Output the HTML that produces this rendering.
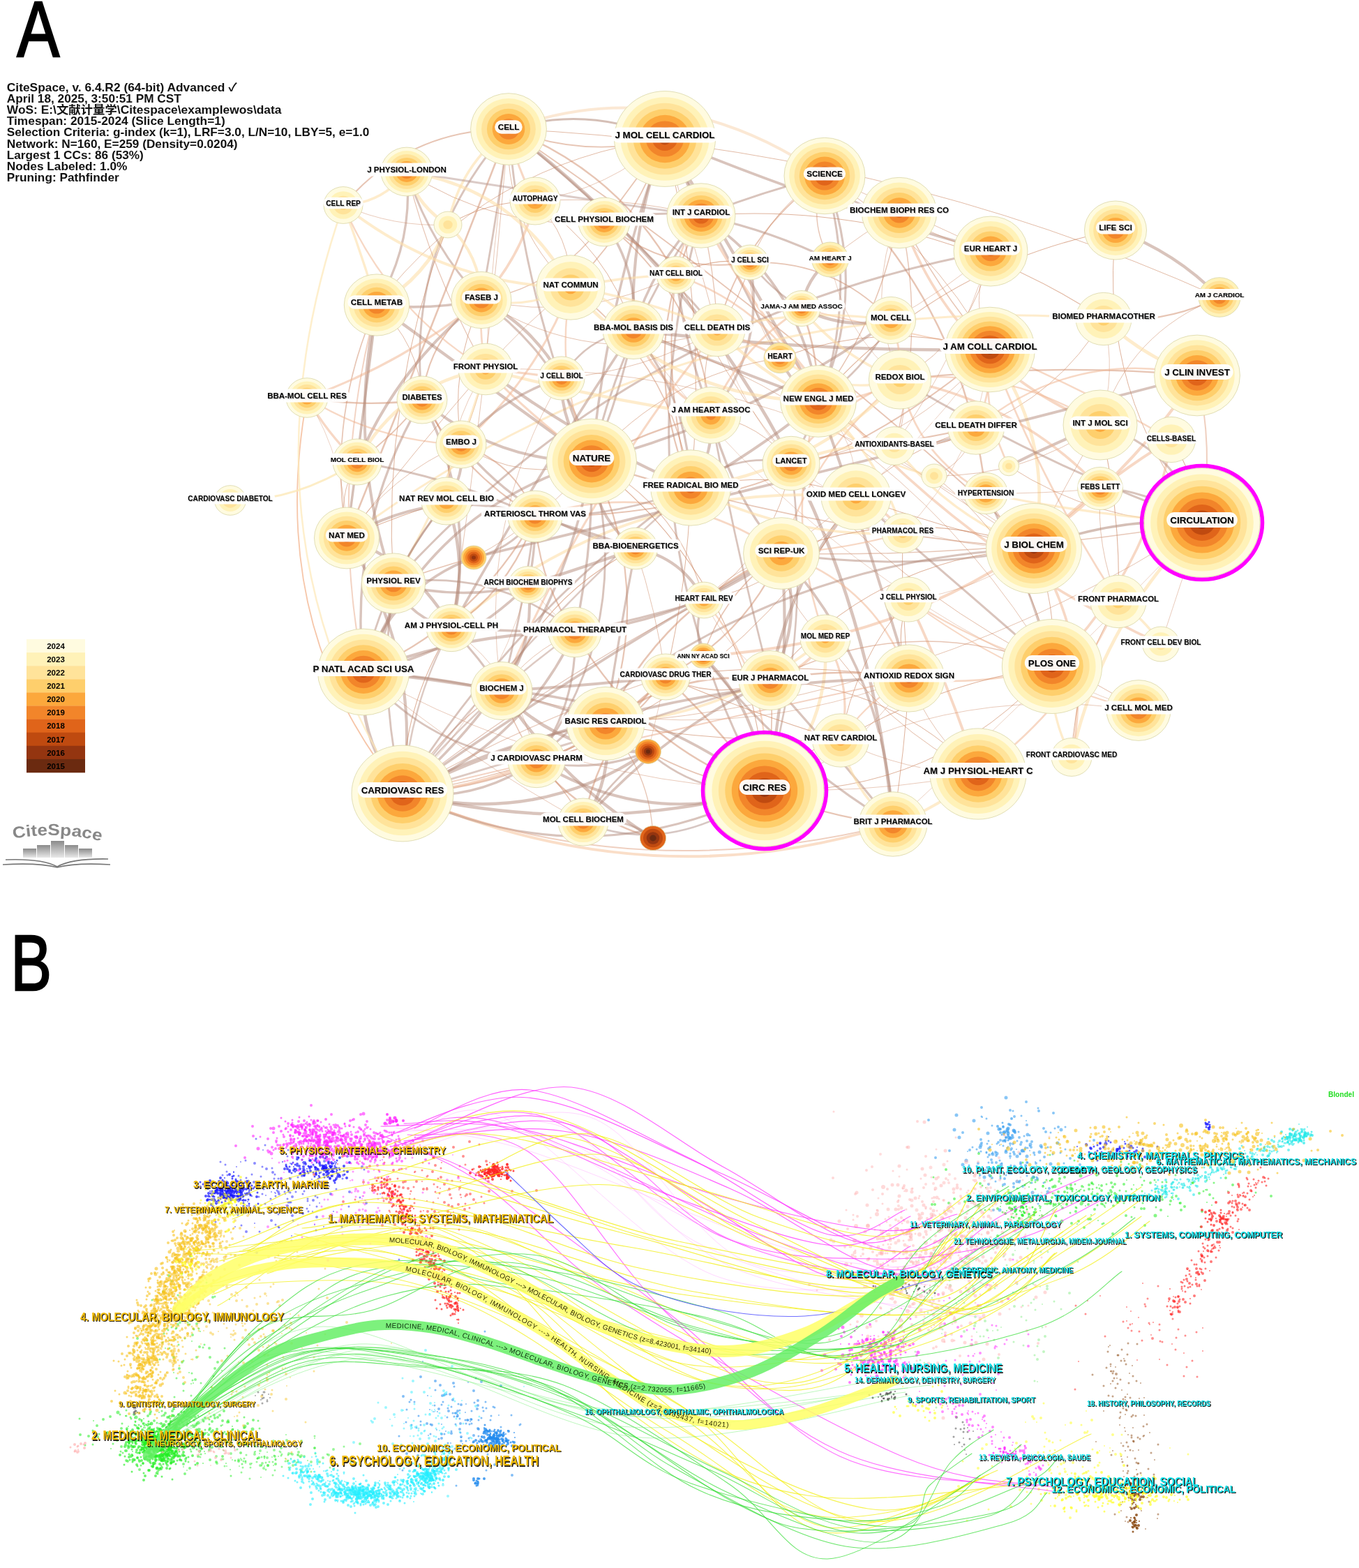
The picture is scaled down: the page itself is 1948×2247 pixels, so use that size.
<!DOCTYPE html>
<html><head><meta charset="utf-8"><title>CiteSpace</title>
<style>html,body{margin:0;padding:0;background:#fff;}body{width:1948px;height:2247px;overflow:hidden;}svg{display:block;}</style>
</head><body><svg width="1948" height="2247" viewBox="0 0 1948 2247"><g fill="none" stroke-linecap="round"><path d="M729 185Q839 228 953 199" stroke="#cf8c6a" stroke-opacity="0.5" stroke-width="1.7"/><path d="M729 185Q887 246 969 394" stroke="#cf8c6a" stroke-opacity="0.5" stroke-width="2.4"/><path d="M729 185Q1262 208 1748 426" stroke="#c9805a" stroke-opacity="0.6" stroke-width="0.9"/><path d="M729 185Q713 308 690 430" stroke="#b38a7a" stroke-opacity="0.5" stroke-width="2.8"/><path d="M729 185Q581 352 605 573" stroke="#b38a7a" stroke-opacity="0.5" stroke-width="2.9"/><path d="M729 185Q705 356 696 529" stroke="#c9805a" stroke-opacity="0.6" stroke-width="0.7"/><path d="M729 185Q740 240 767 288" stroke="#f0b896" stroke-opacity="0.55" stroke-width="3.1"/><path d="M729 185Q659 237 642 322" stroke="#fde0aa" stroke-opacity="0.6" stroke-width="3.6"/><path d="M729 185Q720 319 818 412" stroke="#c9805a" stroke-opacity="0.6" stroke-width="0.9"/><path d="M729 185Q892 315 1028 473" stroke="#b38a7a" stroke-opacity="0.5" stroke-width="3.0"/><path d="M729 185Q1128 457 1482 786" stroke="#cf8c6a" stroke-opacity="0.5" stroke-width="1.8"/><path d="M729 185Q750 433 848 661" stroke="#b38a7a" stroke-opacity="0.5" stroke-width="2.9"/><path d="M729 185Q615 479 497 771" stroke="#cf8c6a" stroke-opacity="0.5" stroke-width="2.6"/><path d="M729 185Q699 544 647 900" stroke="#c9805a" stroke-opacity="0.6" stroke-width="0.8"/><path d="M729 185Q1222 563 1280 1181" stroke="#b38a7a" stroke-opacity="0.5" stroke-width="4.6"/><path d="M729 185Q585 185 492 294" stroke="#cf8c6a" stroke-opacity="0.5" stroke-width="2.0"/><path d="M953 199Q983 252 1005 309" stroke="#b38a7a" stroke-opacity="0.5" stroke-width="4.5"/><path d="M953 199Q1182 294 1420 360" stroke="#b38a7a" stroke-opacity="0.5" stroke-width="3.7"/><path d="M953 199Q698 233 540 437" stroke="#c9805a" stroke-opacity="0.6" stroke-width="0.9"/><path d="M953 199Q873 271 767 288" stroke="#c9805a" stroke-opacity="0.6" stroke-width="0.7"/><path d="M953 199Q911 260 866 318" stroke="#cf8c6a" stroke-opacity="0.5" stroke-width="1.8"/><path d="M953 199Q910 321 818 412" stroke="#cf8c6a" stroke-opacity="0.5" stroke-width="1.8"/><path d="M953 199Q902 331 908 473" stroke="#b38a7a" stroke-opacity="0.5" stroke-width="4.1"/><path d="M953 199Q990 336 1028 473" stroke="#c9805a" stroke-opacity="0.6" stroke-width="0.8"/><path d="M953 199Q1037 355 1118 513" stroke="#b38a7a" stroke-opacity="0.5" stroke-width="3.2"/><path d="M953 199Q1067 385 1173 575" stroke="#b38a7a" stroke-opacity="0.5" stroke-width="4.5"/><path d="M953 199Q871 423 848 661" stroke="#b38a7a" stroke-opacity="0.5" stroke-width="3.5"/><path d="M953 199Q1016 446 990 699" stroke="#c9805a" stroke-opacity="0.6" stroke-width="1.0"/><path d="M1182 252Q1223 303 1289 305" stroke="#b38a7a" stroke-opacity="0.5" stroke-width="2.9"/><path d="M1182 252Q1092 275 1005 309" stroke="#b38a7a" stroke-opacity="0.5" stroke-width="2.9"/><path d="M1182 252Q1108 296 1075 376" stroke="#c9805a" stroke-opacity="0.6" stroke-width="0.9"/><path d="M1182 252Q1156 314 1190 372" stroke="#cf8c6a" stroke-opacity="0.5" stroke-width="1.4"/><path d="M1182 252Q1302 305 1420 360" stroke="#c9805a" stroke-opacity="0.6" stroke-width="0.8"/><path d="M1182 252Q1334 345 1419 501" stroke="#c9805a" stroke-opacity="0.6" stroke-width="0.9"/><path d="M1182 252Q1065 334 1028 473" stroke="#cf8c6a" stroke-opacity="0.5" stroke-width="1.9"/><path d="M1182 252Q1247 415 1173 575" stroke="#b38a7a" stroke-opacity="0.5" stroke-width="3.1"/><path d="M1182 252Q1245 468 1134 664" stroke="#b38a7a" stroke-opacity="0.5" stroke-width="3.0"/><path d="M1182 252Q1382 436 1413 707" stroke="#cf8c6a" stroke-opacity="0.5" stroke-width="2.5"/><path d="M1289 305Q1236 333 1190 372" stroke="#c9805a" stroke-opacity="0.6" stroke-width="0.8"/><path d="M1289 305Q1348 347 1420 360" stroke="#c9805a" stroke-opacity="0.6" stroke-width="0.8"/><path d="M1289 305Q1341 412 1419 501" stroke="#cf8c6a" stroke-opacity="0.5" stroke-width="1.6"/><path d="M1289 305Q1364 522 1577 609" stroke="#f0b896" stroke-opacity="0.55" stroke-width="3.8"/><path d="M1289 305Q1238 425 1290 544" stroke="#c9805a" stroke-opacity="0.6" stroke-width="0.7"/><path d="M1289 305Q1264 454 1173 575" stroke="#cf8c6a" stroke-opacity="0.5" stroke-width="1.5"/><path d="M1289 305Q1328 473 1282 639" stroke="#cf8c6a" stroke-opacity="0.5" stroke-width="1.4"/><path d="M1005 309Q1101 329 1190 372" stroke="#b38a7a" stroke-opacity="0.5" stroke-width="3.2"/><path d="M1005 309Q975 347 969 394" stroke="#f0b896" stroke-opacity="0.55" stroke-width="2.8"/><path d="M1005 309Q1319 285 1582 457" stroke="#c9805a" stroke-opacity="0.6" stroke-width="1.1"/><path d="M1005 309Q888 280 767 288" stroke="#c9805a" stroke-opacity="0.6" stroke-width="0.8"/><path d="M1005 309Q935 300 866 318" stroke="#b38a7a" stroke-opacity="0.5" stroke-width="2.8"/><path d="M1005 309Q936 379 908 473" stroke="#b38a7a" stroke-opacity="0.5" stroke-width="3.5"/><path d="M1005 309Q1025 390 1028 473" stroke="#cf8c6a" stroke-opacity="0.5" stroke-width="1.3"/><path d="M1005 309Q1149 404 1173 575" stroke="#b38a7a" stroke-opacity="0.5" stroke-width="3.7"/><path d="M1005 309Q1235 723 1664 923" stroke="#f0b896" stroke-opacity="0.55" stroke-width="3.6"/><path d="M1005 309Q893 470 848 661" stroke="#b38a7a" stroke-opacity="0.5" stroke-width="3.0"/><path d="M1005 309Q908 501 990 699" stroke="#cf8c6a" stroke-opacity="0.5" stroke-width="2.2"/><path d="M1005 309Q879 740 1096 1133" stroke="#b38a7a" stroke-opacity="0.5" stroke-width="3.0"/><path d="M1075 376Q1019 368 969 394" stroke="#c9805a" stroke-opacity="0.6" stroke-width="1.1"/><path d="M1075 376Q957 395 866 318" stroke="#cf8c6a" stroke-opacity="0.5" stroke-width="1.9"/><path d="M1075 376Q1062 429 1028 473" stroke="#c9805a" stroke-opacity="0.6" stroke-width="1.0"/><path d="M1075 376Q1098 499 1019 595" stroke="#b38a7a" stroke-opacity="0.5" stroke-width="3.6"/><path d="M1075 376Q1106 416 1149 442" stroke="#b38a7a" stroke-opacity="0.5" stroke-width="2.7"/><path d="M1075 376Q1195 372 1277 459" stroke="#cf8c6a" stroke-opacity="0.5" stroke-width="1.8"/><path d="M1075 376Q1071 452 1118 513" stroke="#c9805a" stroke-opacity="0.6" stroke-width="0.7"/><path d="M1190 372Q1155 399 1149 442" stroke="#b38a7a" stroke-opacity="0.5" stroke-width="4.3"/><path d="M1190 372Q1208 476 1290 544" stroke="#c9805a" stroke-opacity="0.6" stroke-width="0.6"/><path d="M969 394Q836 463 690 430" stroke="#c9805a" stroke-opacity="0.6" stroke-width="0.8"/><path d="M969 394Q893 396 818 412" stroke="#fde0aa" stroke-opacity="0.6" stroke-width="3.6"/><path d="M969 394Q982 497 1019 595" stroke="#b38a7a" stroke-opacity="0.5" stroke-width="3.2"/><path d="M969 394Q1108 443 1173 575" stroke="#f0b896" stroke-opacity="0.55" stroke-width="2.5"/><path d="M969 394Q1138 771 1508 955" stroke="#c9805a" stroke-opacity="0.6" stroke-width="0.9"/><path d="M969 394Q949 549 990 699" stroke="#cf8c6a" stroke-opacity="0.5" stroke-width="1.9"/><path d="M1420 360Q1387 430 1419 501" stroke="#c9805a" stroke-opacity="0.6" stroke-width="0.8"/><path d="M1420 360Q1354 417 1277 459" stroke="#c9805a" stroke-opacity="0.6" stroke-width="0.7"/><path d="M1420 360Q1397 482 1290 544" stroke="#c9805a" stroke-opacity="0.6" stroke-width="0.9"/><path d="M1420 360Q1373 510 1282 639" stroke="#c9805a" stroke-opacity="0.6" stroke-width="0.7"/><path d="M1420 360Q911 453 564 836" stroke="#b38a7a" stroke-opacity="0.5" stroke-width="3.0"/><path d="M1599 330Q1685 361 1748 426" stroke="#b38a7a" stroke-opacity="0.5" stroke-width="4.5"/><path d="M1599 330Q1344 379 1173 575" stroke="#c9805a" stroke-opacity="0.6" stroke-width="1.1"/><path d="M1599 330Q1574 565 1723 749" stroke="#c9805a" stroke-opacity="0.6" stroke-width="1.0"/><path d="M1748 426Q1669 465 1582 457" stroke="#cf8c6a" stroke-opacity="0.5" stroke-width="2.4"/><path d="M1748 426Q1618 476 1577 609" stroke="#c9805a" stroke-opacity="0.6" stroke-width="0.8"/><path d="M1582 457Q1640 513 1716 538" stroke="#fde0aa" stroke-opacity="0.6" stroke-width="4.7"/><path d="M1582 457Q1601 534 1577 609" stroke="#c9805a" stroke-opacity="0.6" stroke-width="0.7"/><path d="M1582 457Q1517 566 1399 613" stroke="#c9805a" stroke-opacity="0.6" stroke-width="0.9"/><path d="M1582 457Q981 411 497 771" stroke="#fde0aa" stroke-opacity="0.6" stroke-width="3.1"/><path d="M1419 501Q1162 505 908 473" stroke="#b38a7a" stroke-opacity="0.5" stroke-width="4.5"/><path d="M1419 501Q1283 475 1149 442" stroke="#f0b896" stroke-opacity="0.55" stroke-width="2.1"/><path d="M1419 501Q1266 457 1118 513" stroke="#c9805a" stroke-opacity="0.6" stroke-width="1.0"/><path d="M1419 501Q1423 559 1399 613" stroke="#f0b896" stroke-opacity="0.55" stroke-width="2.8"/><path d="M1419 501Q1308 638 1134 664" stroke="#c9805a" stroke-opacity="0.6" stroke-width="0.8"/><path d="M1419 501Q1406 589 1446 668" stroke="#f0b896" stroke-opacity="0.55" stroke-width="2.6"/><path d="M1419 501Q1337 619 1227 712" stroke="#c9805a" stroke-opacity="0.6" stroke-width="0.6"/><path d="M1419 501Q1553 557 1679 630" stroke="#f0b896" stroke-opacity="0.55" stroke-width="2.5"/><path d="M1419 501Q1403 655 1294 764" stroke="#c9805a" stroke-opacity="0.6" stroke-width="0.6"/><path d="M1419 501Q1513 630 1482 786" stroke="#fde0aa" stroke-opacity="0.6" stroke-width="4.6"/><path d="M1419 501Q1492 691 1603 862" stroke="#f0b896" stroke-opacity="0.55" stroke-width="2.7"/><path d="M1419 501Q1138 744 767 740" stroke="#cf8c6a" stroke-opacity="0.5" stroke-width="2.0"/><path d="M1716 538Q1503 519 1290 544" stroke="#cf8c6a" stroke-opacity="0.5" stroke-width="2.2"/><path d="M1716 538Q1539 498 1399 613" stroke="#f0b896" stroke-opacity="0.55" stroke-width="2.4"/><path d="M1716 538Q1199 673 679 799" stroke="#b38a7a" stroke-opacity="0.5" stroke-width="3.8"/><path d="M1716 538Q1460 911 1008 940" stroke="#f0b896" stroke-opacity="0.55" stroke-width="4.0"/><path d="M1577 609Q1445 524 1290 544" stroke="#f0b896" stroke-opacity="0.55" stroke-width="2.3"/><path d="M1577 609Q1469 683 1339 682" stroke="#c9805a" stroke-opacity="0.6" stroke-width="0.8"/><path d="M1577 609Q1510 635 1446 668" stroke="#b38a7a" stroke-opacity="0.5" stroke-width="4.2"/><path d="M1577 609Q1526 696 1482 786" stroke="#c9805a" stroke-opacity="0.6" stroke-width="0.8"/><path d="M1577 609Q1607 734 1603 862" stroke="#c9805a" stroke-opacity="0.6" stroke-width="1.1"/><path d="M540 437Q616 445 690 430" stroke="#b38a7a" stroke-opacity="0.5" stroke-width="3.7"/><path d="M540 437Q601 492 605 573" stroke="#c9805a" stroke-opacity="0.6" stroke-width="0.9"/><path d="M540 437Q612 398 642 322" stroke="#fde0aa" stroke-opacity="0.6" stroke-width="4.8"/><path d="M540 437Q694 549 848 661" stroke="#b38a7a" stroke-opacity="0.5" stroke-width="4.3"/><path d="M540 437Q468 598 497 771" stroke="#cf8c6a" stroke-opacity="0.5" stroke-width="1.7"/><path d="M540 437Q496 640 564 836" stroke="#b38a7a" stroke-opacity="0.5" stroke-width="4.0"/><path d="M540 437Q593 349 583 246" stroke="#b38a7a" stroke-opacity="0.5" stroke-width="3.3"/><path d="M540 437Q519 365 492 294" stroke="#fde0aa" stroke-opacity="0.6" stroke-width="3.4"/><path d="M690 430Q577 521 440 570" stroke="#f0b896" stroke-opacity="0.55" stroke-width="3.3"/><path d="M690 430Q614 481 605 573" stroke="#cf8c6a" stroke-opacity="0.5" stroke-width="2.1"/><path d="M690 430Q687 480 696 529" stroke="#f0b896" stroke-opacity="0.55" stroke-width="2.7"/><path d="M690 430Q644 529 661 637" stroke="#c9805a" stroke-opacity="0.6" stroke-width="1.0"/><path d="M690 430Q571 523 512 662" stroke="#b38a7a" stroke-opacity="0.5" stroke-width="4.1"/><path d="M690 430Q747 369 767 288" stroke="#f0b896" stroke-opacity="0.55" stroke-width="3.7"/><path d="M690 430Q689 366 642 322" stroke="#fde0aa" stroke-opacity="0.6" stroke-width="4.0"/><path d="M690 430Q801 410 866 318" stroke="#cf8c6a" stroke-opacity="0.5" stroke-width="1.3"/><path d="M690 430Q757 444 818 412" stroke="#fde0aa" stroke-opacity="0.6" stroke-width="3.0"/><path d="M690 430Q849 531 1028 473" stroke="#c9805a" stroke-opacity="0.6" stroke-width="0.8"/><path d="M690 430Q765 468 805 542" stroke="#b38a7a" stroke-opacity="0.5" stroke-width="4.3"/><path d="M690 430Q811 517 848 661" stroke="#b38a7a" stroke-opacity="0.5" stroke-width="3.2"/><path d="M690 430Q616 350 583 246" stroke="#b38a7a" stroke-opacity="0.5" stroke-width="3.0"/><path d="M440 570Q522 584 605 573" stroke="#cf8c6a" stroke-opacity="0.5" stroke-width="2.4"/><path d="M440 570Q541 633 661 637" stroke="#f0b896" stroke-opacity="0.55" stroke-width="2.3"/><path d="M440 570Q469 621 512 662" stroke="#f0b896" stroke-opacity="0.55" stroke-width="3.5"/><path d="M440 570Q497 662 497 771" stroke="#c9805a" stroke-opacity="0.6" stroke-width="0.6"/><path d="M605 573Q565 624 512 662" stroke="#cf8c6a" stroke-opacity="0.5" stroke-width="2.0"/><path d="M605 573Q656 637 640 718" stroke="#cf8c6a" stroke-opacity="0.5" stroke-width="2.2"/><path d="M605 573Q710 663 848 661" stroke="#b38a7a" stroke-opacity="0.5" stroke-width="4.0"/><path d="M605 573Q664 678 767 740" stroke="#cf8c6a" stroke-opacity="0.5" stroke-width="2.1"/><path d="M605 573Q686 729 647 900" stroke="#b38a7a" stroke-opacity="0.5" stroke-width="3.7"/><path d="M605 573Q498 754 521 963" stroke="#b38a7a" stroke-opacity="0.5" stroke-width="3.4"/><path d="M696 529Q682 584 661 637" stroke="#c9805a" stroke-opacity="0.6" stroke-width="0.9"/><path d="M696 529Q572 551 512 662" stroke="#fde0aa" stroke-opacity="0.6" stroke-width="4.7"/><path d="M696 529Q640 615 640 718" stroke="#c9805a" stroke-opacity="0.6" stroke-width="0.7"/><path d="M696 529Q751 464 818 412" stroke="#c9805a" stroke-opacity="0.6" stroke-width="0.8"/><path d="M696 529Q751 534 805 542" stroke="#f0b896" stroke-opacity="0.55" stroke-width="3.2"/><path d="M696 529Q856 571 1019 595" stroke="#fde0aa" stroke-opacity="0.6" stroke-width="4.2"/><path d="M696 529Q1134 519 1482 786" stroke="#c9805a" stroke-opacity="0.6" stroke-width="0.7"/><path d="M696 529Q766 601 848 661" stroke="#f0b896" stroke-opacity="0.55" stroke-width="3.2"/><path d="M696 529Q833 632 990 699" stroke="#b38a7a" stroke-opacity="0.5" stroke-width="4.3"/><path d="M696 529Q593 647 497 771" stroke="#c9805a" stroke-opacity="0.6" stroke-width="0.9"/><path d="M696 529Q649 691 564 836" stroke="#fde0aa" stroke-opacity="0.6" stroke-width="3.2"/><path d="M696 529Q620 395 583 246" stroke="#cf8c6a" stroke-opacity="0.5" stroke-width="1.2"/><path d="M696 529Q557 444 492 294" stroke="#f0b896" stroke-opacity="0.55" stroke-width="2.4"/><path d="M661 637Q667 682 640 718" stroke="#b38a7a" stroke-opacity="0.5" stroke-width="3.9"/><path d="M661 637Q768 544 818 412" stroke="#f0b896" stroke-opacity="0.55" stroke-width="3.1"/><path d="M661 637Q719 568 805 542" stroke="#b38a7a" stroke-opacity="0.5" stroke-width="3.5"/><path d="M661 637Q749 694 848 661" stroke="#c9805a" stroke-opacity="0.6" stroke-width="0.9"/><path d="M661 637Q739 663 767 740" stroke="#cf8c6a" stroke-opacity="0.5" stroke-width="1.9"/><path d="M661 637Q759 756 911 786" stroke="#b38a7a" stroke-opacity="0.5" stroke-width="3.5"/><path d="M661 637Q560 680 497 771" stroke="#c9805a" stroke-opacity="0.6" stroke-width="0.8"/><path d="M512 662Q645 683 767 740" stroke="#b38a7a" stroke-opacity="0.5" stroke-width="2.8"/><path d="M512 662Q482 713 497 771" stroke="#c9805a" stroke-opacity="0.6" stroke-width="0.9"/><path d="M640 718Q567 740 497 771" stroke="#c9805a" stroke-opacity="0.6" stroke-width="1.1"/><path d="M640 718Q596 773 564 836" stroke="#b38a7a" stroke-opacity="0.5" stroke-width="2.6"/><path d="M640 718Q673 808 647 900" stroke="#b38a7a" stroke-opacity="0.5" stroke-width="4.4"/><path d="M640 718Q551 826 521 963" stroke="#b38a7a" stroke-opacity="0.5" stroke-width="2.8"/><path d="M767 288Q700 288 642 322" stroke="#c9805a" stroke-opacity="0.6" stroke-width="1.1"/><path d="M767 288Q819 339 818 412" stroke="#c9805a" stroke-opacity="0.6" stroke-width="0.9"/><path d="M767 288Q870 356 908 473" stroke="#c9805a" stroke-opacity="0.6" stroke-width="1.0"/><path d="M642 322Q546 570 564 836" stroke="#c9805a" stroke-opacity="0.6" stroke-width="1.0"/><path d="M642 322Q598 295 583 246" stroke="#fde0aa" stroke-opacity="0.6" stroke-width="4.6"/><path d="M642 322Q564 326 492 294" stroke="#c9805a" stroke-opacity="0.6" stroke-width="0.7"/><path d="M866 318Q916 388 908 473" stroke="#b38a7a" stroke-opacity="0.5" stroke-width="3.6"/><path d="M866 318Q1002 424 1019 595" stroke="#cf8c6a" stroke-opacity="0.5" stroke-width="1.9"/><path d="M866 318Q712 331 583 246" stroke="#c9805a" stroke-opacity="0.6" stroke-width="0.9"/><path d="M818 412Q878 421 908 473" stroke="#fde0aa" stroke-opacity="0.6" stroke-width="3.7"/><path d="M818 412Q927 428 1028 473" stroke="#fde0aa" stroke-opacity="0.6" stroke-width="3.7"/><path d="M818 412Q960 572 1173 575" stroke="#fde0aa" stroke-opacity="0.6" stroke-width="4.8"/><path d="M818 412Q794 541 848 661" stroke="#f0b896" stroke-opacity="0.55" stroke-width="2.4"/><path d="M818 412Q964 520 990 699" stroke="#cf8c6a" stroke-opacity="0.5" stroke-width="1.6"/><path d="M818 412Q742 271 583 246" stroke="#fde0aa" stroke-opacity="0.6" stroke-width="4.5"/><path d="M818 412Q635 408 492 294" stroke="#fde0aa" stroke-opacity="0.6" stroke-width="4.0"/><path d="M908 473Q840 483 805 542" stroke="#b38a7a" stroke-opacity="0.5" stroke-width="2.6"/><path d="M908 473Q943 553 1019 595" stroke="#f0b896" stroke-opacity="0.55" stroke-width="3.5"/><path d="M908 473Q1040 525 1173 575" stroke="#b38a7a" stroke-opacity="0.5" stroke-width="4.1"/><path d="M908 473Q1297 603 1508 955" stroke="#c9805a" stroke-opacity="0.6" stroke-width="0.8"/><path d="M908 473Q1187 856 1632 1018" stroke="#c9805a" stroke-opacity="0.6" stroke-width="0.6"/><path d="M908 473Q888 570 848 661" stroke="#b38a7a" stroke-opacity="0.5" stroke-width="3.0"/><path d="M908 473Q987 572 990 699" stroke="#b38a7a" stroke-opacity="0.5" stroke-width="3.2"/><path d="M908 473Q769 681 647 900" stroke="#b38a7a" stroke-opacity="0.5" stroke-width="3.6"/><path d="M1028 473Q924 532 805 542" stroke="#c9805a" stroke-opacity="0.6" stroke-width="0.8"/><path d="M1028 473Q998 532 1019 595" stroke="#c9805a" stroke-opacity="0.6" stroke-width="0.9"/><path d="M1028 473Q1151 439 1277 459" stroke="#fde0aa" stroke-opacity="0.6" stroke-width="3.1"/><path d="M1028 473Q1075 489 1118 513" stroke="#f0b896" stroke-opacity="0.55" stroke-width="3.2"/><path d="M1028 473Q1092 536 1173 575" stroke="#fde0aa" stroke-opacity="0.6" stroke-width="4.1"/><path d="M1028 473Q1060 580 1134 664" stroke="#c9805a" stroke-opacity="0.6" stroke-width="0.6"/><path d="M1028 473Q837 710 719 990" stroke="#f0b896" stroke-opacity="0.55" stroke-width="3.1"/><path d="M805 542Q803 610 848 661" stroke="#b38a7a" stroke-opacity="0.5" stroke-width="4.3"/><path d="M805 542Q682 751 719 990" stroke="#c9805a" stroke-opacity="0.6" stroke-width="0.7"/><path d="M1019 595Q1059 498 1149 442" stroke="#f0b896" stroke-opacity="0.55" stroke-width="2.9"/><path d="M1019 595Q1090 607 1134 664" stroke="#c9805a" stroke-opacity="0.6" stroke-width="0.9"/><path d="M1019 595Q1046 706 1120 793" stroke="#b38a7a" stroke-opacity="0.5" stroke-width="3.3"/><path d="M1019 595Q1055 787 1104 975" stroke="#b38a7a" stroke-opacity="0.5" stroke-width="2.7"/><path d="M1019 595Q928 615 848 661" stroke="#cf8c6a" stroke-opacity="0.5" stroke-width="2.6"/><path d="M1019 595Q1024 653 990 699" stroke="#b38a7a" stroke-opacity="0.5" stroke-width="4.1"/><path d="M1149 442Q1210 473 1277 459" stroke="#b38a7a" stroke-opacity="0.5" stroke-width="4.5"/><path d="M1149 442Q1206 512 1290 544" stroke="#fde0aa" stroke-opacity="0.6" stroke-width="3.7"/><path d="M1149 442Q1173 506 1173 575" stroke="#cf8c6a" stroke-opacity="0.5" stroke-width="2.5"/><path d="M1277 459Q1293 500 1290 544" stroke="#f0b896" stroke-opacity="0.55" stroke-width="2.9"/><path d="M1277 459Q1240 530 1173 575" stroke="#b38a7a" stroke-opacity="0.5" stroke-width="2.7"/><path d="M1277 459Q1081 599 848 661" stroke="#b38a7a" stroke-opacity="0.5" stroke-width="3.7"/><path d="M1118 513Q1196 570 1290 544" stroke="#fde0aa" stroke-opacity="0.6" stroke-width="3.4"/><path d="M1118 513Q1135 553 1173 575" stroke="#b38a7a" stroke-opacity="0.5" stroke-width="4.1"/><path d="M1118 513Q956 537 848 661" stroke="#c9805a" stroke-opacity="0.6" stroke-width="0.9"/><path d="M1290 544Q1236 575 1173 575" stroke="#f0b896" stroke-opacity="0.55" stroke-width="3.0"/><path d="M1290 544Q1304 593 1282 639" stroke="#c9805a" stroke-opacity="0.6" stroke-width="0.8"/><path d="M1290 544Q1194 581 1134 664" stroke="#f0b896" stroke-opacity="0.55" stroke-width="2.8"/><path d="M1290 544Q1314 654 1413 707" stroke="#f0b896" stroke-opacity="0.55" stroke-width="2.8"/><path d="M1290 544Q1459 575 1577 700" stroke="#f0b896" stroke-opacity="0.55" stroke-width="3.6"/><path d="M1290 544Q1497 667 1723 749" stroke="#b38a7a" stroke-opacity="0.5" stroke-width="3.0"/><path d="M1290 544Q1167 643 1120 793" stroke="#f0b896" stroke-opacity="0.55" stroke-width="2.4"/><path d="M1290 544Q1167 674 990 699" stroke="#fde0aa" stroke-opacity="0.6" stroke-width="4.6"/><path d="M1173 575Q1234 662 1339 682" stroke="#fde0aa" stroke-opacity="0.6" stroke-width="3.1"/><path d="M1173 575Q1231 631 1227 712" stroke="#c9805a" stroke-opacity="0.6" stroke-width="0.6"/><path d="M1173 575Q1260 652 1294 764" stroke="#fde0aa" stroke-opacity="0.6" stroke-width="3.6"/><path d="M1173 575Q1324 686 1482 786" stroke="#c9805a" stroke-opacity="0.6" stroke-width="0.8"/><path d="M1173 575Q1122 747 1183 915" stroke="#f0b896" stroke-opacity="0.55" stroke-width="2.6"/><path d="M1173 575Q1243 772 1303 972" stroke="#b38a7a" stroke-opacity="0.5" stroke-width="4.0"/><path d="M1173 575Q1087 645 990 699" stroke="#b38a7a" stroke-opacity="0.5" stroke-width="4.1"/><path d="M1399 613Q1345 647 1282 639" stroke="#c9805a" stroke-opacity="0.6" stroke-width="1.0"/><path d="M1399 613Q1267 639 1134 664" stroke="#cf8c6a" stroke-opacity="0.5" stroke-width="2.1"/><path d="M1399 613Q1386 662 1339 682" stroke="#c9805a" stroke-opacity="0.6" stroke-width="0.8"/><path d="M1399 613Q1300 641 1227 712" stroke="#c9805a" stroke-opacity="0.6" stroke-width="1.0"/><path d="M1282 639Q1205 634 1134 664" stroke="#fde0aa" stroke-opacity="0.6" stroke-width="4.3"/><path d="M1282 639Q1361 741 1482 786" stroke="#fde0aa" stroke-opacity="0.6" stroke-width="3.5"/><path d="M1134 664Q1287 786 1482 786" stroke="#c9805a" stroke-opacity="0.6" stroke-width="0.6"/><path d="M1134 664Q1053 646 990 699" stroke="#b38a7a" stroke-opacity="0.5" stroke-width="2.7"/><path d="M1134 664Q1112 788 1009 860" stroke="#c9805a" stroke-opacity="0.6" stroke-width="0.9"/><path d="M1134 664Q1165 903 1096 1133" stroke="#b38a7a" stroke-opacity="0.5" stroke-width="2.6"/><path d="M1339 682Q1475 787 1508 955" stroke="#c9805a" stroke-opacity="0.6" stroke-width="0.9"/><path d="M1446 668Q1572 750 1723 749" stroke="#c9805a" stroke-opacity="0.6" stroke-width="0.9"/><path d="M1227 712Q1269 727 1294 764" stroke="#f0b896" stroke-opacity="0.55" stroke-width="3.5"/><path d="M1227 712Q1175 754 1120 793" stroke="#c9805a" stroke-opacity="0.6" stroke-width="0.7"/><path d="M1227 712Q1352 757 1482 786" stroke="#c9805a" stroke-opacity="0.6" stroke-width="1.0"/><path d="M1227 712Q1133 829 1104 975" stroke="#b38a7a" stroke-opacity="0.5" stroke-width="4.6"/><path d="M1227 712Q1368 833 1508 955" stroke="#b38a7a" stroke-opacity="0.5" stroke-width="3.0"/><path d="M1227 712Q1110 670 990 699" stroke="#c9805a" stroke-opacity="0.6" stroke-width="1.0"/><path d="M1227 712Q1149 831 1009 860" stroke="#c9805a" stroke-opacity="0.6" stroke-width="0.9"/><path d="M1227 712Q898 685 647 900" stroke="#fde0aa" stroke-opacity="0.6" stroke-width="3.9"/><path d="M1227 712Q1002 1077 577 1137" stroke="#c9805a" stroke-opacity="0.6" stroke-width="1.0"/><path d="M1413 707Q1495 708 1577 700" stroke="#c9805a" stroke-opacity="0.6" stroke-width="0.7"/><path d="M1413 707Q1566 739 1723 749" stroke="#fde0aa" stroke-opacity="0.6" stroke-width="3.3"/><path d="M1413 707Q1437 756 1482 786" stroke="#c9805a" stroke-opacity="0.6" stroke-width="1.0"/><path d="M1413 707Q1473 826 1508 955" stroke="#b38a7a" stroke-opacity="0.5" stroke-width="3.2"/><path d="M1679 630Q1714 685 1723 749" stroke="#c9805a" stroke-opacity="0.6" stroke-width="1.1"/><path d="M1679 630Q1570 695 1482 786" stroke="#f0b896" stroke-opacity="0.55" stroke-width="3.8"/><path d="M1679 630Q1646 820 1508 955" stroke="#f0b896" stroke-opacity="0.55" stroke-width="3.6"/><path d="M1577 700Q1571 784 1603 862" stroke="#c9805a" stroke-opacity="0.6" stroke-width="0.8"/><path d="M1723 749Q1692 835 1664 923" stroke="#c9805a" stroke-opacity="0.6" stroke-width="0.7"/><path d="M1723 749Q1580 889 1536 1085" stroke="#fde0aa" stroke-opacity="0.6" stroke-width="4.6"/><path d="M1723 749Q1333 1004 868 1037" stroke="#c9805a" stroke-opacity="0.6" stroke-width="0.8"/><path d="M1723 749Q1508 972 1280 1181" stroke="#c9805a" stroke-opacity="0.6" stroke-width="0.6"/><path d="M1294 764Q1209 788 1120 793" stroke="#f0b896" stroke-opacity="0.55" stroke-width="2.1"/><path d="M1294 764Q1291 868 1303 972" stroke="#c9805a" stroke-opacity="0.6" stroke-width="1.0"/><path d="M1294 764Q1133 772 990 699" stroke="#fde0aa" stroke-opacity="0.6" stroke-width="3.5"/><path d="M1120 793Q1300 721 1482 786" stroke="#c9805a" stroke-opacity="0.6" stroke-width="1.1"/><path d="M1120 793Q1124 868 1183 915" stroke="#c9805a" stroke-opacity="0.6" stroke-width="0.8"/><path d="M1120 793Q1155 888 1104 975" stroke="#b38a7a" stroke-opacity="0.5" stroke-width="4.3"/><path d="M1120 793Q1255 838 1303 972" stroke="#f0b896" stroke-opacity="0.55" stroke-width="2.6"/><path d="M1120 793Q956 681 767 740" stroke="#f0b896" stroke-opacity="0.55" stroke-width="2.8"/><path d="M1120 793Q1056 812 1009 860" stroke="#c9805a" stroke-opacity="0.6" stroke-width="0.8"/><path d="M1120 793Q987 889 824 906" stroke="#b38a7a" stroke-opacity="0.5" stroke-width="3.8"/><path d="M1120 793Q840 952 577 1137" stroke="#b38a7a" stroke-opacity="0.5" stroke-width="3.6"/><path d="M1120 793Q949 869 868 1037" stroke="#cf8c6a" stroke-opacity="0.5" stroke-width="2.5"/><path d="M1120 793Q1038 847 1008 940" stroke="#cf8c6a" stroke-opacity="0.5" stroke-width="1.5"/><path d="M1120 793Q1068 911 954 970" stroke="#cf8c6a" stroke-opacity="0.5" stroke-width="2.2"/><path d="M1120 793Q1269 959 1280 1181" stroke="#b38a7a" stroke-opacity="0.5" stroke-width="3.7"/><path d="M1120 793Q1136 965 1096 1133" stroke="#b38a7a" stroke-opacity="0.5" stroke-width="4.2"/><path d="M1482 786Q1403 848 1302 859" stroke="#c9805a" stroke-opacity="0.6" stroke-width="0.6"/><path d="M1482 786Q1252 799 1104 975" stroke="#c9805a" stroke-opacity="0.6" stroke-width="1.1"/><path d="M1482 786Q1516 867 1508 955" stroke="#c9805a" stroke-opacity="0.6" stroke-width="1.0"/><path d="M1482 786Q1568 925 1536 1085" stroke="#f0b896" stroke-opacity="0.55" stroke-width="3.6"/><path d="M1482 786Q1068 803 769 1090" stroke="#b38a7a" stroke-opacity="0.5" stroke-width="3.0"/><path d="M1302 859Q1280 916 1303 972" stroke="#c9805a" stroke-opacity="0.6" stroke-width="1.1"/><path d="M1302 859Q1398 921 1508 955" stroke="#f0b896" stroke-opacity="0.55" stroke-width="2.2"/><path d="M1302 859Q1451 971 1632 1018" stroke="#f0b896" stroke-opacity="0.55" stroke-width="2.1"/><path d="M1302 859Q1360 981 1402 1109" stroke="#f0b896" stroke-opacity="0.55" stroke-width="3.9"/><path d="M1302 859Q1225 946 1205 1061" stroke="#c9805a" stroke-opacity="0.6" stroke-width="1.0"/><path d="M1183 915Q1156 961 1104 975" stroke="#f0b896" stroke-opacity="0.55" stroke-width="4.0"/><path d="M1183 915Q1267 1041 1402 1109" stroke="#c9805a" stroke-opacity="0.6" stroke-width="0.9"/><path d="M1183 915Q1045 1026 868 1037" stroke="#fde0aa" stroke-opacity="0.6" stroke-width="3.8"/><path d="M1183 915Q1224 984 1205 1061" stroke="#f0b896" stroke-opacity="0.55" stroke-width="3.2"/><path d="M1183 915Q1191 1045 1096 1133" stroke="#fde0aa" stroke-opacity="0.6" stroke-width="4.6"/><path d="M1104 975Q1203 954 1303 972" stroke="#cf8c6a" stroke-opacity="0.5" stroke-width="2.6"/><path d="M1104 975Q1302 874 1508 955" stroke="#cf8c6a" stroke-opacity="0.5" stroke-width="1.5"/><path d="M1104 975Q1279 983 1402 1109" stroke="#c9805a" stroke-opacity="0.6" stroke-width="1.0"/><path d="M1104 975Q1042 929 1009 860" stroke="#c9805a" stroke-opacity="0.6" stroke-width="0.6"/><path d="M1104 975Q973 956 868 1037" stroke="#cf8c6a" stroke-opacity="0.5" stroke-width="2.6"/><path d="M1104 975Q949 1049 836 1178" stroke="#b38a7a" stroke-opacity="0.5" stroke-width="3.7"/><path d="M1104 975Q1028 1005 954 970" stroke="#cf8c6a" stroke-opacity="0.5" stroke-width="1.5"/><path d="M1104 975Q1195 1075 1280 1181" stroke="#b38a7a" stroke-opacity="0.5" stroke-width="3.2"/><path d="M1104 975Q1111 1055 1096 1133" stroke="#cf8c6a" stroke-opacity="0.5" stroke-width="1.7"/><path d="M1303 972Q1407 985 1508 955" stroke="#f0b896" stroke-opacity="0.55" stroke-width="2.5"/><path d="M1303 972Q1334 1054 1402 1109" stroke="#c9805a" stroke-opacity="0.6" stroke-width="0.8"/><path d="M1303 972Q1014 1082 719 990" stroke="#c9805a" stroke-opacity="0.6" stroke-width="0.7"/><path d="M1303 972Q922 974 577 1137" stroke="#b38a7a" stroke-opacity="0.5" stroke-width="3.9"/><path d="M1303 972Q1129 945 954 970" stroke="#c9805a" stroke-opacity="0.6" stroke-width="1.1"/><path d="M1303 972Q1242 1004 1205 1061" stroke="#f0b896" stroke-opacity="0.55" stroke-width="2.2"/><path d="M1303 972Q1297 1077 1280 1181" stroke="#c9805a" stroke-opacity="0.6" stroke-width="1.0"/><path d="M1303 972Q1226 1087 1096 1133" stroke="#c9805a" stroke-opacity="0.6" stroke-width="0.7"/><path d="M1508 955Q1575 976 1632 1018" stroke="#c9805a" stroke-opacity="0.6" stroke-width="0.9"/><path d="M1508 955Q1503 1024 1536 1085" stroke="#fde0aa" stroke-opacity="0.6" stroke-width="3.3"/><path d="M1508 955Q1346 978 1205 1061" stroke="#c9805a" stroke-opacity="0.6" stroke-width="1.1"/><path d="M1508 955Q1344 1140 1096 1133" stroke="#c9805a" stroke-opacity="0.6" stroke-width="1.0"/><path d="M1603 862Q1640 886 1664 923" stroke="#fde0aa" stroke-opacity="0.6" stroke-width="3.6"/><path d="M1603 862Q1541 965 1536 1085" stroke="#c9805a" stroke-opacity="0.6" stroke-width="1.0"/><path d="M1603 862Q1536 1013 1402 1109" stroke="#f0b896" stroke-opacity="0.55" stroke-width="2.7"/><path d="M1632 1018Q1342 974 1096 1133" stroke="#c9805a" stroke-opacity="0.6" stroke-width="0.7"/><path d="M1402 1109Q935 1196 521 963" stroke="#c9805a" stroke-opacity="0.6" stroke-width="0.7"/><path d="M1402 1109Q1298 1107 1205 1061" stroke="#c9805a" stroke-opacity="0.6" stroke-width="0.7"/><path d="M1402 1109Q1348 1157 1280 1181" stroke="#fde0aa" stroke-opacity="0.6" stroke-width="4.1"/><path d="M848 661Q917 688 990 699" stroke="#c9805a" stroke-opacity="0.6" stroke-width="0.8"/><path d="M848 661Q849 739 911 786" stroke="#b38a7a" stroke-opacity="0.5" stroke-width="4.0"/><path d="M848 661Q778 747 679 799" stroke="#c9805a" stroke-opacity="0.6" stroke-width="0.8"/><path d="M848 661Q974 724 1009 860" stroke="#cf8c6a" stroke-opacity="0.5" stroke-width="1.3"/><path d="M848 661Q851 785 824 906" stroke="#b38a7a" stroke-opacity="0.5" stroke-width="3.3"/><path d="M848 661Q610 731 521 963" stroke="#b38a7a" stroke-opacity="0.5" stroke-width="3.7"/><path d="M848 661Q798 948 577 1137" stroke="#b38a7a" stroke-opacity="0.5" stroke-width="3.6"/><path d="M848 661Q939 845 868 1037" stroke="#cf8c6a" stroke-opacity="0.5" stroke-width="2.2"/><path d="M848 661Q911 894 769 1090" stroke="#b38a7a" stroke-opacity="0.5" stroke-width="2.9"/><path d="M848 661Q1080 840 1096 1133" stroke="#c9805a" stroke-opacity="0.6" stroke-width="1.1"/><path d="M990 699Q883 742 767 740" stroke="#b38a7a" stroke-opacity="0.5" stroke-width="2.8"/><path d="M990 699Q739 876 577 1137" stroke="#b38a7a" stroke-opacity="0.5" stroke-width="2.8"/><path d="M990 699Q986 836 954 970" stroke="#c9805a" stroke-opacity="0.6" stroke-width="1.0"/><path d="M767 740Q840 761 911 786" stroke="#b38a7a" stroke-opacity="0.5" stroke-width="3.8"/><path d="M767 740Q735 787 679 799" stroke="#b38a7a" stroke-opacity="0.5" stroke-width="3.0"/><path d="M767 740Q768 790 757 838" stroke="#b38a7a" stroke-opacity="0.5" stroke-width="3.3"/><path d="M767 740Q625 694 497 771" stroke="#b38a7a" stroke-opacity="0.5" stroke-width="4.1"/><path d="M767 740Q735 841 647 900" stroke="#cf8c6a" stroke-opacity="0.5" stroke-width="2.3"/><path d="M767 740Q771 831 824 906" stroke="#cf8c6a" stroke-opacity="0.5" stroke-width="2.2"/><path d="M767 740Q682 894 521 963" stroke="#cf8c6a" stroke-opacity="0.5" stroke-width="2.3"/><path d="M767 740Q752 867 719 990" stroke="#b38a7a" stroke-opacity="0.5" stroke-width="2.9"/><path d="M911 786Q835 814 757 838" stroke="#b38a7a" stroke-opacity="0.5" stroke-width="4.4"/><path d="M911 786Q978 799 1009 860" stroke="#b38a7a" stroke-opacity="0.5" stroke-width="4.3"/><path d="M911 786Q778 854 719 990" stroke="#c9805a" stroke-opacity="0.6" stroke-width="1.1"/><path d="M911 786Q887 911 868 1037" stroke="#b38a7a" stroke-opacity="0.5" stroke-width="3.2"/><path d="M911 786Q941 876 954 970" stroke="#c9805a" stroke-opacity="0.6" stroke-width="0.8"/><path d="M679 799Q621 815 564 836" stroke="#cf8c6a" stroke-opacity="0.5" stroke-width="1.5"/><path d="M679 799Q561 843 521 963" stroke="#b38a7a" stroke-opacity="0.5" stroke-width="3.5"/><path d="M757 838Q660 862 564 836" stroke="#b38a7a" stroke-opacity="0.5" stroke-width="3.6"/><path d="M757 838Q787 876 824 906" stroke="#c9805a" stroke-opacity="0.6" stroke-width="0.6"/><path d="M757 838Q658 936 521 963" stroke="#b38a7a" stroke-opacity="0.5" stroke-width="3.8"/><path d="M757 838Q768 922 719 990" stroke="#b38a7a" stroke-opacity="0.5" stroke-width="4.1"/><path d="M757 838Q708 1012 577 1137" stroke="#c9805a" stroke-opacity="0.6" stroke-width="0.6"/><path d="M1009 860Q918 888 824 906" stroke="#b38a7a" stroke-opacity="0.5" stroke-width="3.4"/><path d="M1009 860Q992 900 1008 940" stroke="#b38a7a" stroke-opacity="0.5" stroke-width="3.2"/><path d="M1009 860Q1110 978 1096 1133" stroke="#f0b896" stroke-opacity="0.55" stroke-width="2.4"/><path d="M497 771Q596 808 647 900" stroke="#b38a7a" stroke-opacity="0.5" stroke-width="4.5"/><path d="M497 771Q606 939 577 1137" stroke="#b38a7a" stroke-opacity="0.5" stroke-width="4.1"/><path d="M564 836Q590 888 647 900" stroke="#b38a7a" stroke-opacity="0.5" stroke-width="3.9"/><path d="M564 836Q710 813 824 906" stroke="#b38a7a" stroke-opacity="0.5" stroke-width="2.7"/><path d="M564 836Q562 906 521 963" stroke="#b38a7a" stroke-opacity="0.5" stroke-width="4.5"/><path d="M564 836Q541 988 577 1137" stroke="#b38a7a" stroke-opacity="0.5" stroke-width="2.8"/><path d="M647 900Q735 905 824 906" stroke="#b38a7a" stroke-opacity="0.5" stroke-width="3.4"/><path d="M647 900Q687 942 719 990" stroke="#b38a7a" stroke-opacity="0.5" stroke-width="3.1"/><path d="M647 900Q578 1008 577 1137" stroke="#c9805a" stroke-opacity="0.6" stroke-width="1.1"/><path d="M647 900Q745 971 769 1090" stroke="#c9805a" stroke-opacity="0.6" stroke-width="0.7"/><path d="M824 906Q667 906 521 963" stroke="#b38a7a" stroke-opacity="0.5" stroke-width="4.3"/><path d="M824 906Q759 933 719 990" stroke="#c9805a" stroke-opacity="0.6" stroke-width="0.8"/><path d="M824 906Q746 1070 577 1137" stroke="#b38a7a" stroke-opacity="0.5" stroke-width="3.6"/><path d="M824 906Q828 1007 769 1090" stroke="#b38a7a" stroke-opacity="0.5" stroke-width="3.1"/><path d="M824 906Q918 1070 1096 1133" stroke="#cf8c6a" stroke-opacity="0.5" stroke-width="2.5"/><path d="M521 963Q621 972 719 990" stroke="#b38a7a" stroke-opacity="0.5" stroke-width="4.5"/><path d="M521 963Q512 1062 577 1137" stroke="#b38a7a" stroke-opacity="0.5" stroke-width="4.6"/><path d="M521 963Q700 973 868 1037" stroke="#b38a7a" stroke-opacity="0.5" stroke-width="3.7"/><path d="M521 963Q619 1078 769 1090" stroke="#b38a7a" stroke-opacity="0.5" stroke-width="2.8"/><path d="M521 963Q668 1086 836 1178" stroke="#c9805a" stroke-opacity="0.6" stroke-width="0.7"/><path d="M719 990Q737 1043 769 1090" stroke="#cf8c6a" stroke-opacity="0.5" stroke-width="1.5"/><path d="M719 990Q804 1081 929 1077" stroke="#b38a7a" stroke-opacity="0.5" stroke-width="4.5"/><path d="M719 990Q804 1120 936 1201" stroke="#b38a7a" stroke-opacity="0.5" stroke-width="4.5"/><path d="M719 990Q837 983 954 970" stroke="#b38a7a" stroke-opacity="0.5" stroke-width="4.2"/><path d="M719 990Q930 1003 1096 1133" stroke="#b38a7a" stroke-opacity="0.5" stroke-width="3.8"/><path d="M577 1137Q682 1151 769 1090" stroke="#b38a7a" stroke-opacity="0.5" stroke-width="3.6"/><path d="M577 1137Q767 1186 929 1077" stroke="#b38a7a" stroke-opacity="0.5" stroke-width="4.5"/><path d="M577 1137Q797 1125 954 970" stroke="#cf8c6a" stroke-opacity="0.5" stroke-width="2.5"/><path d="M577 1137Q837 1200 1096 1133" stroke="#b38a7a" stroke-opacity="0.5" stroke-width="4.5"/><path d="M868 1037Q826 1078 769 1090" stroke="#c9805a" stroke-opacity="0.6" stroke-width="0.9"/><path d="M868 1037Q880 1114 836 1178" stroke="#b38a7a" stroke-opacity="0.5" stroke-width="4.5"/><path d="M868 1037Q891 1068 929 1077" stroke="#c9805a" stroke-opacity="0.6" stroke-width="0.9"/><path d="M868 1037Q933 1106 936 1201" stroke="#cf8c6a" stroke-opacity="0.5" stroke-width="1.3"/><path d="M868 1037Q1035 1065 1205 1061" stroke="#c9805a" stroke-opacity="0.6" stroke-width="1.0"/><path d="M868 1037Q970 1114 1096 1133" stroke="#cf8c6a" stroke-opacity="0.5" stroke-width="1.7"/><path d="M769 1090Q810 1129 836 1178" stroke="#cf8c6a" stroke-opacity="0.5" stroke-width="1.6"/><path d="M769 1090Q851 1109 929 1077" stroke="#b38a7a" stroke-opacity="0.5" stroke-width="3.3"/><path d="M769 1090Q835 1171 936 1201" stroke="#cf8c6a" stroke-opacity="0.5" stroke-width="2.6"/><path d="M769 1090Q887 1069 954 970" stroke="#cf8c6a" stroke-opacity="0.5" stroke-width="2.1"/><path d="M769 1090Q923 1187 1096 1133" stroke="#b38a7a" stroke-opacity="0.5" stroke-width="4.0"/><path d="M836 1178Q874 1120 929 1077" stroke="#b38a7a" stroke-opacity="0.5" stroke-width="2.8"/><path d="M836 1178Q891 1167 936 1201" stroke="#b38a7a" stroke-opacity="0.5" stroke-width="2.9"/><path d="M836 1178Q861 1054 954 970" stroke="#cf8c6a" stroke-opacity="0.5" stroke-width="2.5"/><path d="M929 1077Q942 1024 954 970" stroke="#c9805a" stroke-opacity="0.6" stroke-width="0.6"/><path d="M929 1077Q1001 1140 1096 1133" stroke="#b38a7a" stroke-opacity="0.5" stroke-width="2.9"/><path d="M1008 940Q1121 1086 1280 1181" stroke="#b38a7a" stroke-opacity="0.5" stroke-width="3.2"/><path d="M1008 940Q1089 1020 1096 1133" stroke="#b38a7a" stroke-opacity="0.5" stroke-width="4.1"/><path d="M954 970Q1077 1022 1205 1061" stroke="#c9805a" stroke-opacity="0.6" stroke-width="1.1"/><path d="M954 970Q1033 1044 1096 1133" stroke="#cf8c6a" stroke-opacity="0.5" stroke-width="2.4"/><path d="M1205 1061Q1222 1134 1280 1181" stroke="#fde0aa" stroke-opacity="0.6" stroke-width="3.6"/><path d="M1205 1061Q1137 1077 1096 1133" stroke="#c9805a" stroke-opacity="0.6" stroke-width="1.0"/><path d="M1280 1181Q1184 1171 1096 1133" stroke="#cf8c6a" stroke-opacity="0.5" stroke-width="2.0"/><path d="M583 246Q549 291 492 294" stroke="#fde0aa" stroke-opacity="0.6" stroke-width="3.6"/><path d="M577 1137Q930 1292 1280 1181" stroke="#f6c8a4" stroke-opacity="0.6" stroke-width="4.0"/><path d="M577 1137Q840 1262 1096 1133" stroke="#b38a7a" stroke-opacity="0.5" stroke-width="3.0"/><path d="M577 1137Q900 1275 1280 1181" stroke="#e0a080" stroke-opacity="0.5" stroke-width="2.0"/><path d="M836 1178Q960 1230 1096 1133" stroke="#b09088" stroke-opacity="0.5" stroke-width="2.5"/><path d="M440 570Q380 900 577 1137" stroke="#f0a070" stroke-opacity="0.6" stroke-width="1.8"/><path d="M492 294Q330 760 577 1137" stroke="#fde8b8" stroke-opacity="0.7" stroke-width="2.5"/><path d="M330 717Q420 720 512 662" stroke="#fde8b8" stroke-opacity="0.8" stroke-width="3.0"/><path d="M540 437Q520 600 497 771" stroke="#b38a7a" stroke-opacity="0.55" stroke-width="3.5"/><path d="M540 437Q470 700 521 963" stroke="#e8a888" stroke-opacity="0.5" stroke-width="2.0"/><path d="M729 185Q960 100 1182 252" stroke="#f8d8b8" stroke-opacity="0.6" stroke-width="4.0"/><path d="M729 185Q840 150 953 199" stroke="#b38a7a" stroke-opacity="0.55" stroke-width="3.0"/><path d="M583 246Q800 280 1005 309" stroke="#b89890" stroke-opacity="0.5" stroke-width="3.0"/><path d="M1723 749Q1600 740 1482 786" stroke="#b38a7a" stroke-opacity="0.55" stroke-width="3.5"/><path d="M1723 749Q1420 800 1120 793" stroke="#d09070" stroke-opacity="0.5" stroke-width="1.5"/><path d="M1723 749Q1640 700 1577 700" stroke="#b38a7a" stroke-opacity="0.5" stroke-width="3.0"/><path d="M1723 749Q1680 640 1577 609" stroke="#b38a7a" stroke-opacity="0.5" stroke-width="3.0"/><path d="M1723 749Q1740 640 1716 538" stroke="#e0a080" stroke-opacity="0.5" stroke-width="2.0"/><path d="M1482 786Q1300 820 1120 793" stroke="#b38a7a" stroke-opacity="0.5" stroke-width="3.0"/><path d="M1482 786Q1150 760 848 661" stroke="#d09070" stroke-opacity="0.5" stroke-width="1.8"/><path d="M577 1137Q720 1060 868 1037" stroke="#b38a7a" stroke-opacity="0.5" stroke-width="3.0"/><path d="M577 1137Q640 1040 719 990" stroke="#c88a70" stroke-opacity="0.5" stroke-width="1.5"/><path d="M577 1137Q690 1000 824 906" stroke="#b38a7a" stroke-opacity="0.45" stroke-width="2.5"/><path d="M577 1137Q760 1030 954 970" stroke="#d09070" stroke-opacity="0.5" stroke-width="1.2"/><path d="M577 1137Q840 1060 1104 975" stroke="#b38a7a" stroke-opacity="0.45" stroke-width="3.0"/><path d="M577 1137Q940 1050 1303 972" stroke="#e8a888" stroke-opacity="0.5" stroke-width="2.0"/><path d="M577 1137Q760 900 990 699" stroke="#b38a7a" stroke-opacity="0.45" stroke-width="2.5"/><path d="M577 1137Q680 1130 769 1090" stroke="#f0b896" stroke-opacity="0.55" stroke-width="3.5"/><path d="M577 1137Q780 980 1009 860" stroke="#c88a70" stroke-opacity="0.5" stroke-width="1.2"/><path d="M577 1137Q590 1000 647 900" stroke="#b38a7a" stroke-opacity="0.45" stroke-width="2.5"/></g><g><ellipse cx="729" cy="185" rx="54.4" ry="51.3" fill="#fffbe0" stroke="#d9d5a6" stroke-width="0.8"/><ellipse cx="729" cy="185" rx="46.6" ry="44.0" fill="#fff2b8"/><ellipse cx="729" cy="185" rx="38.9" ry="36.7" fill="#ffe39a"/><ellipse cx="729" cy="185" rx="31.1" ry="29.3" fill="#fecf6c"/><ellipse cx="729" cy="185" rx="23.3" ry="22.0" fill="#fca83c"/><ellipse cx="729" cy="185" rx="15.5" ry="14.7" fill="#f2852a"/><ellipse cx="729" cy="185" rx="7.8" ry="7.3" fill="#e0641a"/><ellipse cx="953" cy="199" rx="72.5" ry="68.4" fill="#fffbe0" stroke="#d9d5a6" stroke-width="0.8"/><ellipse cx="953" cy="199" rx="63.4" ry="59.8" fill="#fff2b8"/><ellipse cx="953" cy="199" rx="54.4" ry="51.3" fill="#ffe39a"/><ellipse cx="953" cy="199" rx="45.3" ry="42.7" fill="#fecf6c"/><ellipse cx="953" cy="199" rx="36.2" ry="34.2" fill="#fca83c"/><ellipse cx="953" cy="199" rx="27.2" ry="25.6" fill="#f2852a"/><ellipse cx="953" cy="199" rx="18.1" ry="17.1" fill="#e0641a"/><ellipse cx="953" cy="199" rx="9.1" ry="8.5" fill="#bf4a10"/><ellipse cx="1182" cy="252" rx="58.0" ry="54.7" fill="#fffbe0" stroke="#d9d5a6" stroke-width="0.8"/><ellipse cx="1182" cy="252" rx="50.8" ry="47.9" fill="#fff2b8"/><ellipse cx="1182" cy="252" rx="43.5" ry="41.0" fill="#ffe39a"/><ellipse cx="1182" cy="252" rx="36.2" ry="34.2" fill="#fecf6c"/><ellipse cx="1182" cy="252" rx="29.0" ry="27.4" fill="#fca83c"/><ellipse cx="1182" cy="252" rx="21.8" ry="20.5" fill="#f2852a"/><ellipse cx="1182" cy="252" rx="14.5" ry="13.7" fill="#e0641a"/><ellipse cx="1182" cy="252" rx="7.2" ry="6.8" fill="#bf4a10"/><ellipse cx="1289" cy="305" rx="53.7" ry="50.7" fill="#fffbe0" stroke="#d9d5a6" stroke-width="0.8"/><ellipse cx="1289" cy="305" rx="46.0" ry="43.4" fill="#fff2b8"/><ellipse cx="1289" cy="305" rx="38.4" ry="36.2" fill="#ffe39a"/><ellipse cx="1289" cy="305" rx="30.7" ry="28.9" fill="#fecf6c"/><ellipse cx="1289" cy="305" rx="23.0" ry="21.7" fill="#fca83c"/><ellipse cx="1289" cy="305" rx="15.3" ry="14.5" fill="#f2852a"/><ellipse cx="1289" cy="305" rx="7.7" ry="7.2" fill="#e0641a"/><ellipse cx="1005" cy="309" rx="49.0" ry="46.2" fill="#fffbe0" stroke="#d9d5a6" stroke-width="0.8"/><ellipse cx="1005" cy="309" rx="42.9" ry="40.4" fill="#fff2b8"/><ellipse cx="1005" cy="309" rx="36.8" ry="34.7" fill="#ffe39a"/><ellipse cx="1005" cy="309" rx="30.6" ry="28.9" fill="#fecf6c"/><ellipse cx="1005" cy="309" rx="24.5" ry="23.1" fill="#fca83c"/><ellipse cx="1005" cy="309" rx="18.4" ry="17.3" fill="#f2852a"/><ellipse cx="1005" cy="309" rx="12.2" ry="11.6" fill="#e0641a"/><ellipse cx="1005" cy="309" rx="6.1" ry="5.8" fill="#bf4a10"/><ellipse cx="1075" cy="376" rx="26.5" ry="25.0" fill="#fffbe0" stroke="#d9d5a6" stroke-width="0.8"/><ellipse cx="1075" cy="376" rx="22.7" ry="21.4" fill="#fff2b8"/><ellipse cx="1075" cy="376" rx="18.9" ry="17.9" fill="#ffe39a"/><ellipse cx="1075" cy="376" rx="15.1" ry="14.3" fill="#fecf6c"/><ellipse cx="1075" cy="376" rx="11.4" ry="10.7" fill="#fca83c"/><ellipse cx="1075" cy="376" rx="7.6" ry="7.1" fill="#f2852a"/><ellipse cx="1075" cy="376" rx="3.8" ry="3.6" fill="#e0641a"/><ellipse cx="1190" cy="372" rx="26.5" ry="25.0" fill="#fff2b8" stroke="#d9d5a6" stroke-width="0.8"/><ellipse cx="1190" cy="372" rx="22.1" ry="20.8" fill="#ffe39a"/><ellipse cx="1190" cy="372" rx="17.7" ry="16.7" fill="#fecf6c"/><ellipse cx="1190" cy="372" rx="13.2" ry="12.5" fill="#fca83c"/><ellipse cx="1190" cy="372" rx="8.8" ry="8.3" fill="#f2852a"/><ellipse cx="1190" cy="372" rx="4.4" ry="4.2" fill="#e0641a"/><ellipse cx="969" cy="394" rx="28.0" ry="26.4" fill="#fffbe0" stroke="#d9d5a6" stroke-width="0.8"/><ellipse cx="969" cy="394" rx="23.3" ry="22.0" fill="#fff2b8"/><ellipse cx="969" cy="394" rx="18.7" ry="17.6" fill="#ffe39a"/><ellipse cx="969" cy="394" rx="14.0" ry="13.2" fill="#fecf6c"/><ellipse cx="969" cy="394" rx="9.3" ry="8.8" fill="#fca83c"/><ellipse cx="969" cy="394" rx="4.7" ry="4.4" fill="#f2852a"/><ellipse cx="1420" cy="360" rx="53.0" ry="50.0" fill="#fffbe0" stroke="#d9d5a6" stroke-width="0.8"/><ellipse cx="1420" cy="360" rx="45.4" ry="42.9" fill="#fff2b8"/><ellipse cx="1420" cy="360" rx="37.9" ry="35.7" fill="#ffe39a"/><ellipse cx="1420" cy="360" rx="30.3" ry="28.6" fill="#fecf6c"/><ellipse cx="1420" cy="360" rx="22.7" ry="21.4" fill="#fca83c"/><ellipse cx="1420" cy="360" rx="15.1" ry="14.3" fill="#f2852a"/><ellipse cx="1420" cy="360" rx="7.6" ry="7.1" fill="#e0641a"/><ellipse cx="1599" cy="330" rx="44.5" ry="42.0" fill="#fffbe0" stroke="#d9d5a6" stroke-width="0.8"/><ellipse cx="1599" cy="330" rx="38.1" ry="36.0" fill="#fff2b8"/><ellipse cx="1599" cy="330" rx="31.8" ry="30.0" fill="#ffe39a"/><ellipse cx="1599" cy="330" rx="25.4" ry="24.0" fill="#fecf6c"/><ellipse cx="1599" cy="330" rx="19.1" ry="18.0" fill="#fca83c"/><ellipse cx="1599" cy="330" rx="12.7" ry="12.0" fill="#f2852a"/><ellipse cx="1599" cy="330" rx="6.4" ry="6.0" fill="#e0641a"/><ellipse cx="1748" cy="426" rx="30.0" ry="28.3" fill="#fff2b8" stroke="#d9d5a6" stroke-width="0.8"/><ellipse cx="1748" cy="426" rx="25.0" ry="23.6" fill="#ffe39a"/><ellipse cx="1748" cy="426" rx="20.0" ry="18.9" fill="#fecf6c"/><ellipse cx="1748" cy="426" rx="15.0" ry="14.2" fill="#fca83c"/><ellipse cx="1748" cy="426" rx="10.0" ry="9.4" fill="#f2852a"/><ellipse cx="1748" cy="426" rx="5.0" ry="4.7" fill="#e0641a"/><ellipse cx="1582" cy="457" rx="40.0" ry="37.7" fill="#fffbe0" stroke="#d9d5a6" stroke-width="0.8"/><ellipse cx="1582" cy="457" rx="30.0" ry="28.3" fill="#fff2b8"/><ellipse cx="1582" cy="457" rx="20.0" ry="18.9" fill="#ffe39a"/><ellipse cx="1582" cy="457" rx="10.0" ry="9.4" fill="#fecf6c"/><ellipse cx="1419" cy="501" rx="64.5" ry="60.8" fill="#fffbe0" stroke="#d9d5a6" stroke-width="0.8"/><ellipse cx="1419" cy="501" rx="57.3" ry="54.1" fill="#fff2b8"/><ellipse cx="1419" cy="501" rx="50.2" ry="47.3" fill="#ffe39a"/><ellipse cx="1419" cy="501" rx="43.0" ry="40.6" fill="#fecf6c"/><ellipse cx="1419" cy="501" rx="35.8" ry="33.8" fill="#fca83c"/><ellipse cx="1419" cy="501" rx="28.7" ry="27.0" fill="#f2852a"/><ellipse cx="1419" cy="501" rx="21.5" ry="20.3" fill="#e0641a"/><ellipse cx="1419" cy="501" rx="14.3" ry="13.5" fill="#bf4a10"/><ellipse cx="1419" cy="501" rx="7.2" ry="6.8" fill="#943510"/><ellipse cx="1716" cy="538" rx="61.4" ry="57.9" fill="#fffbe0" stroke="#d9d5a6" stroke-width="0.8"/><ellipse cx="1716" cy="538" rx="53.7" ry="50.7" fill="#fff2b8"/><ellipse cx="1716" cy="538" rx="46.0" ry="43.4" fill="#ffe39a"/><ellipse cx="1716" cy="538" rx="38.4" ry="36.2" fill="#fecf6c"/><ellipse cx="1716" cy="538" rx="30.7" ry="29.0" fill="#fca83c"/><ellipse cx="1716" cy="538" rx="23.0" ry="21.7" fill="#f2852a"/><ellipse cx="1716" cy="538" rx="15.3" ry="14.5" fill="#e0641a"/><ellipse cx="1716" cy="538" rx="7.7" ry="7.2" fill="#bf4a10"/><ellipse cx="1577" cy="609" rx="53.0" ry="50.0" fill="#fffbe0" stroke="#d9d5a6" stroke-width="0.8"/><ellipse cx="1577" cy="609" rx="42.4" ry="40.0" fill="#fff2b8"/><ellipse cx="1577" cy="609" rx="31.8" ry="30.0" fill="#ffe39a"/><ellipse cx="1577" cy="609" rx="21.2" ry="20.0" fill="#fecf6c"/><ellipse cx="1577" cy="609" rx="10.6" ry="10.0" fill="#fca83c"/><ellipse cx="540" cy="437" rx="46.7" ry="44.1" fill="#fffbe0" stroke="#d9d5a6" stroke-width="0.8"/><ellipse cx="540" cy="437" rx="40.0" ry="37.8" fill="#fff2b8"/><ellipse cx="540" cy="437" rx="33.4" ry="31.5" fill="#ffe39a"/><ellipse cx="540" cy="437" rx="26.7" ry="25.2" fill="#fecf6c"/><ellipse cx="540" cy="437" rx="20.0" ry="18.9" fill="#fca83c"/><ellipse cx="540" cy="437" rx="13.3" ry="12.6" fill="#f2852a"/><ellipse cx="540" cy="437" rx="6.7" ry="6.3" fill="#e0641a"/><ellipse cx="690" cy="430" rx="43.0" ry="40.6" fill="#fffbe0" stroke="#d9d5a6" stroke-width="0.8"/><ellipse cx="690" cy="430" rx="36.9" ry="34.8" fill="#fff2b8"/><ellipse cx="690" cy="430" rx="30.7" ry="29.0" fill="#ffe39a"/><ellipse cx="690" cy="430" rx="24.6" ry="23.2" fill="#fecf6c"/><ellipse cx="690" cy="430" rx="18.4" ry="17.4" fill="#fca83c"/><ellipse cx="690" cy="430" rx="12.3" ry="11.6" fill="#f2852a"/><ellipse cx="690" cy="430" rx="6.1" ry="5.8" fill="#e0641a"/><ellipse cx="440" cy="570" rx="30.0" ry="28.3" fill="#fffbe0" stroke="#d9d5a6" stroke-width="0.8"/><ellipse cx="440" cy="570" rx="25.0" ry="23.6" fill="#fff2b8"/><ellipse cx="440" cy="570" rx="20.0" ry="18.9" fill="#ffe39a"/><ellipse cx="440" cy="570" rx="15.0" ry="14.2" fill="#fecf6c"/><ellipse cx="440" cy="570" rx="10.0" ry="9.4" fill="#fca83c"/><ellipse cx="440" cy="570" rx="5.0" ry="4.7" fill="#f2852a"/><ellipse cx="605" cy="573" rx="36.0" ry="34.0" fill="#fffbe0" stroke="#d9d5a6" stroke-width="0.8"/><ellipse cx="605" cy="573" rx="30.9" ry="29.1" fill="#fff2b8"/><ellipse cx="605" cy="573" rx="25.7" ry="24.3" fill="#ffe39a"/><ellipse cx="605" cy="573" rx="20.6" ry="19.4" fill="#fecf6c"/><ellipse cx="605" cy="573" rx="15.4" ry="14.6" fill="#fca83c"/><ellipse cx="605" cy="573" rx="10.3" ry="9.7" fill="#f2852a"/><ellipse cx="605" cy="573" rx="5.1" ry="4.9" fill="#e0641a"/><ellipse cx="696" cy="529" rx="39.0" ry="36.8" fill="#fffbe0" stroke="#d9d5a6" stroke-width="0.8"/><ellipse cx="696" cy="529" rx="31.2" ry="29.4" fill="#fff2b8"/><ellipse cx="696" cy="529" rx="23.4" ry="22.1" fill="#ffe39a"/><ellipse cx="696" cy="529" rx="15.6" ry="14.7" fill="#fecf6c"/><ellipse cx="696" cy="529" rx="7.8" ry="7.4" fill="#fca83c"/><ellipse cx="661" cy="637" rx="36.0" ry="34.0" fill="#fffbe0" stroke="#d9d5a6" stroke-width="0.8"/><ellipse cx="661" cy="637" rx="30.9" ry="29.1" fill="#fff2b8"/><ellipse cx="661" cy="637" rx="25.7" ry="24.3" fill="#ffe39a"/><ellipse cx="661" cy="637" rx="20.6" ry="19.4" fill="#fecf6c"/><ellipse cx="661" cy="637" rx="15.4" ry="14.6" fill="#fca83c"/><ellipse cx="661" cy="637" rx="10.3" ry="9.7" fill="#f2852a"/><ellipse cx="661" cy="637" rx="5.1" ry="4.9" fill="#e0641a"/><ellipse cx="512" cy="662" rx="35.0" ry="33.0" fill="#fffbe0" stroke="#d9d5a6" stroke-width="0.8"/><ellipse cx="512" cy="662" rx="30.0" ry="28.3" fill="#fff2b8"/><ellipse cx="512" cy="662" rx="25.0" ry="23.6" fill="#ffe39a"/><ellipse cx="512" cy="662" rx="20.0" ry="18.9" fill="#fecf6c"/><ellipse cx="512" cy="662" rx="15.0" ry="14.2" fill="#fca83c"/><ellipse cx="512" cy="662" rx="10.0" ry="9.4" fill="#f2852a"/><ellipse cx="512" cy="662" rx="5.0" ry="4.7" fill="#e0641a"/><ellipse cx="330" cy="717" rx="22.6" ry="21.3" fill="#fffbe0" stroke="#d9d5a6" stroke-width="0.8"/><ellipse cx="330" cy="717" rx="17.0" ry="16.0" fill="#fff2b8"/><ellipse cx="330" cy="717" rx="11.3" ry="10.7" fill="#ffe39a"/><ellipse cx="330" cy="717" rx="5.7" ry="5.3" fill="#fecf6c"/><ellipse cx="640" cy="718" rx="36.0" ry="34.0" fill="#fffbe0" stroke="#d9d5a6" stroke-width="0.8"/><ellipse cx="640" cy="718" rx="30.0" ry="28.3" fill="#fff2b8"/><ellipse cx="640" cy="718" rx="24.0" ry="22.6" fill="#ffe39a"/><ellipse cx="640" cy="718" rx="18.0" ry="17.0" fill="#fecf6c"/><ellipse cx="640" cy="718" rx="12.0" ry="11.3" fill="#fca83c"/><ellipse cx="640" cy="718" rx="6.0" ry="5.7" fill="#f2852a"/><ellipse cx="767" cy="288" rx="36.0" ry="34.0" fill="#fffbe0" stroke="#d9d5a6" stroke-width="0.8"/><ellipse cx="767" cy="288" rx="30.0" ry="28.3" fill="#fff2b8"/><ellipse cx="767" cy="288" rx="24.0" ry="22.6" fill="#ffe39a"/><ellipse cx="767" cy="288" rx="18.0" ry="17.0" fill="#fecf6c"/><ellipse cx="767" cy="288" rx="12.0" ry="11.3" fill="#fca83c"/><ellipse cx="767" cy="288" rx="6.0" ry="5.7" fill="#f2852a"/><ellipse cx="642" cy="322" rx="20.0" ry="18.9" fill="#fffbe0" stroke="#d9d5a6" stroke-width="0.8"/><ellipse cx="642" cy="322" rx="13.3" ry="12.6" fill="#fff2b8"/><ellipse cx="642" cy="322" rx="6.7" ry="6.3" fill="#ffe39a"/><ellipse cx="866" cy="318" rx="37.0" ry="34.9" fill="#fffbe0" stroke="#d9d5a6" stroke-width="0.8"/><ellipse cx="866" cy="318" rx="31.7" ry="29.9" fill="#fff2b8"/><ellipse cx="866" cy="318" rx="26.4" ry="24.9" fill="#ffe39a"/><ellipse cx="866" cy="318" rx="21.1" ry="19.9" fill="#fecf6c"/><ellipse cx="866" cy="318" rx="15.9" ry="15.0" fill="#fca83c"/><ellipse cx="866" cy="318" rx="10.6" ry="10.0" fill="#f2852a"/><ellipse cx="866" cy="318" rx="5.3" ry="5.0" fill="#e0641a"/><ellipse cx="818" cy="412" rx="49.0" ry="46.2" fill="#fffbe0" stroke="#d9d5a6" stroke-width="0.8"/><ellipse cx="818" cy="412" rx="39.2" ry="37.0" fill="#fff2b8"/><ellipse cx="818" cy="412" rx="29.4" ry="27.7" fill="#ffe39a"/><ellipse cx="818" cy="412" rx="19.6" ry="18.5" fill="#fecf6c"/><ellipse cx="818" cy="412" rx="9.8" ry="9.2" fill="#fca83c"/><ellipse cx="908" cy="473" rx="44.0" ry="41.5" fill="#fffbe0" stroke="#d9d5a6" stroke-width="0.8"/><ellipse cx="908" cy="473" rx="37.7" ry="35.6" fill="#fff2b8"/><ellipse cx="908" cy="473" rx="31.4" ry="29.6" fill="#ffe39a"/><ellipse cx="908" cy="473" rx="25.1" ry="23.7" fill="#fecf6c"/><ellipse cx="908" cy="473" rx="18.9" ry="17.8" fill="#fca83c"/><ellipse cx="908" cy="473" rx="12.6" ry="11.9" fill="#f2852a"/><ellipse cx="908" cy="473" rx="6.3" ry="5.9" fill="#e0641a"/><ellipse cx="1028" cy="473" rx="40.0" ry="37.7" fill="#fffbe0" stroke="#d9d5a6" stroke-width="0.8"/><ellipse cx="1028" cy="473" rx="32.0" ry="30.2" fill="#fff2b8"/><ellipse cx="1028" cy="473" rx="24.0" ry="22.6" fill="#ffe39a"/><ellipse cx="1028" cy="473" rx="16.0" ry="15.1" fill="#fecf6c"/><ellipse cx="1028" cy="473" rx="8.0" ry="7.5" fill="#fca83c"/><ellipse cx="805" cy="542" rx="33.0" ry="31.1" fill="#fffbe0" stroke="#d9d5a6" stroke-width="0.8"/><ellipse cx="805" cy="542" rx="28.3" ry="26.7" fill="#fff2b8"/><ellipse cx="805" cy="542" rx="23.6" ry="22.2" fill="#ffe39a"/><ellipse cx="805" cy="542" rx="18.9" ry="17.8" fill="#fecf6c"/><ellipse cx="805" cy="542" rx="14.1" ry="13.3" fill="#fca83c"/><ellipse cx="805" cy="542" rx="9.4" ry="8.9" fill="#f2852a"/><ellipse cx="805" cy="542" rx="4.7" ry="4.4" fill="#e0641a"/><ellipse cx="1019" cy="595" rx="42.8" ry="40.4" fill="#fffbe0" stroke="#d9d5a6" stroke-width="0.8"/><ellipse cx="1019" cy="595" rx="35.7" ry="33.6" fill="#fff2b8"/><ellipse cx="1019" cy="595" rx="28.5" ry="26.9" fill="#ffe39a"/><ellipse cx="1019" cy="595" rx="21.4" ry="20.2" fill="#fecf6c"/><ellipse cx="1019" cy="595" rx="14.3" ry="13.5" fill="#fca83c"/><ellipse cx="1019" cy="595" rx="7.1" ry="6.7" fill="#f2852a"/><ellipse cx="1149" cy="442" rx="27.0" ry="25.5" fill="#fffbe0" stroke="#d9d5a6" stroke-width="0.8"/><ellipse cx="1149" cy="442" rx="23.1" ry="21.8" fill="#fff2b8"/><ellipse cx="1149" cy="442" rx="19.3" ry="18.2" fill="#ffe39a"/><ellipse cx="1149" cy="442" rx="15.4" ry="14.6" fill="#fecf6c"/><ellipse cx="1149" cy="442" rx="11.6" ry="10.9" fill="#fca83c"/><ellipse cx="1149" cy="442" rx="7.7" ry="7.3" fill="#f2852a"/><ellipse cx="1149" cy="442" rx="3.9" ry="3.6" fill="#e0641a"/><ellipse cx="1277" cy="459" rx="35.6" ry="33.6" fill="#fffbe0" stroke="#d9d5a6" stroke-width="0.8"/><ellipse cx="1277" cy="459" rx="29.7" ry="28.0" fill="#fff2b8"/><ellipse cx="1277" cy="459" rx="23.7" ry="22.4" fill="#ffe39a"/><ellipse cx="1277" cy="459" rx="17.8" ry="16.8" fill="#fecf6c"/><ellipse cx="1277" cy="459" rx="11.9" ry="11.2" fill="#fca83c"/><ellipse cx="1277" cy="459" rx="5.9" ry="5.6" fill="#f2852a"/><ellipse cx="1118" cy="513" rx="23.0" ry="21.7" fill="#ffe39a" stroke="#d9d5a6" stroke-width="0.8"/><ellipse cx="1118" cy="513" rx="18.4" ry="17.4" fill="#fecf6c"/><ellipse cx="1118" cy="513" rx="13.8" ry="13.0" fill="#fca83c"/><ellipse cx="1118" cy="513" rx="9.2" ry="8.7" fill="#f2852a"/><ellipse cx="1118" cy="513" rx="4.6" ry="4.3" fill="#e0641a"/><ellipse cx="1290" cy="544" rx="44.6" ry="42.1" fill="#fffbe0" stroke="#d9d5a6" stroke-width="0.8"/><ellipse cx="1290" cy="544" rx="33.5" ry="31.6" fill="#fff2b8"/><ellipse cx="1290" cy="544" rx="22.3" ry="21.0" fill="#ffe39a"/><ellipse cx="1290" cy="544" rx="11.2" ry="10.5" fill="#fecf6c"/><ellipse cx="1173" cy="575" rx="54.4" ry="51.3" fill="#fffbe0" stroke="#d9d5a6" stroke-width="0.8"/><ellipse cx="1173" cy="575" rx="47.6" ry="44.9" fill="#fff2b8"/><ellipse cx="1173" cy="575" rx="40.8" ry="38.5" fill="#ffe39a"/><ellipse cx="1173" cy="575" rx="34.0" ry="32.1" fill="#fecf6c"/><ellipse cx="1173" cy="575" rx="27.2" ry="25.7" fill="#fca83c"/><ellipse cx="1173" cy="575" rx="20.4" ry="19.2" fill="#f2852a"/><ellipse cx="1173" cy="575" rx="13.6" ry="12.8" fill="#e0641a"/><ellipse cx="1173" cy="575" rx="6.8" ry="6.4" fill="#bf4a10"/><ellipse cx="1399" cy="613" rx="40.5" ry="38.2" fill="#fffbe0" stroke="#d9d5a6" stroke-width="0.8"/><ellipse cx="1399" cy="613" rx="33.8" ry="31.8" fill="#fff2b8"/><ellipse cx="1399" cy="613" rx="27.0" ry="25.5" fill="#ffe39a"/><ellipse cx="1399" cy="613" rx="20.2" ry="19.1" fill="#fecf6c"/><ellipse cx="1399" cy="613" rx="13.5" ry="12.7" fill="#fca83c"/><ellipse cx="1399" cy="613" rx="6.7" ry="6.4" fill="#f2852a"/><ellipse cx="1282" cy="639" rx="29.0" ry="27.4" fill="#fffbe0" stroke="#d9d5a6" stroke-width="0.8"/><ellipse cx="1282" cy="639" rx="19.3" ry="18.2" fill="#fff2b8"/><ellipse cx="1282" cy="639" rx="9.7" ry="9.1" fill="#ffe39a"/><ellipse cx="1134" cy="664" rx="41.0" ry="38.7" fill="#fffbe0" stroke="#d9d5a6" stroke-width="0.8"/><ellipse cx="1134" cy="664" rx="35.1" ry="33.2" fill="#fff2b8"/><ellipse cx="1134" cy="664" rx="29.3" ry="27.6" fill="#ffe39a"/><ellipse cx="1134" cy="664" rx="23.4" ry="22.1" fill="#fecf6c"/><ellipse cx="1134" cy="664" rx="17.6" ry="16.6" fill="#fca83c"/><ellipse cx="1134" cy="664" rx="11.7" ry="11.1" fill="#f2852a"/><ellipse cx="1134" cy="664" rx="5.9" ry="5.5" fill="#e0641a"/><ellipse cx="1339" cy="682" rx="18.0" ry="17.0" fill="#fffbe0" stroke="#d9d5a6" stroke-width="0.8"/><ellipse cx="1339" cy="682" rx="12.0" ry="11.3" fill="#fff2b8"/><ellipse cx="1339" cy="682" rx="6.0" ry="5.7" fill="#ffe39a"/><ellipse cx="1446" cy="668" rx="14.6" ry="13.8" fill="#fffbe0" stroke="#d9d5a6" stroke-width="0.8"/><ellipse cx="1446" cy="668" rx="9.7" ry="9.2" fill="#fff2b8"/><ellipse cx="1446" cy="668" rx="4.9" ry="4.6" fill="#ffe39a"/><ellipse cx="1227" cy="712" rx="50.0" ry="47.2" fill="#fffbe0" stroke="#d9d5a6" stroke-width="0.8"/><ellipse cx="1227" cy="712" rx="40.0" ry="37.7" fill="#fff2b8"/><ellipse cx="1227" cy="712" rx="30.0" ry="28.3" fill="#ffe39a"/><ellipse cx="1227" cy="712" rx="20.0" ry="18.9" fill="#fecf6c"/><ellipse cx="1227" cy="712" rx="10.0" ry="9.4" fill="#fca83c"/><ellipse cx="1413" cy="707" rx="31.4" ry="29.6" fill="#fffbe0" stroke="#d9d5a6" stroke-width="0.8"/><ellipse cx="1413" cy="707" rx="26.9" ry="25.4" fill="#fff2b8"/><ellipse cx="1413" cy="707" rx="22.4" ry="21.2" fill="#ffe39a"/><ellipse cx="1413" cy="707" rx="17.9" ry="16.9" fill="#fecf6c"/><ellipse cx="1413" cy="707" rx="13.5" ry="12.7" fill="#fca83c"/><ellipse cx="1413" cy="707" rx="9.0" ry="8.5" fill="#f2852a"/><ellipse cx="1413" cy="707" rx="4.5" ry="4.2" fill="#e0641a"/><ellipse cx="1679" cy="630" rx="34.6" ry="32.6" fill="#fffbe0" stroke="#d9d5a6" stroke-width="0.8"/><ellipse cx="1679" cy="630" rx="23.1" ry="21.8" fill="#fff2b8"/><ellipse cx="1679" cy="630" rx="11.5" ry="10.9" fill="#ffe39a"/><ellipse cx="1577" cy="700" rx="32.4" ry="30.6" fill="#fffbe0" stroke="#d9d5a6" stroke-width="0.8"/><ellipse cx="1577" cy="700" rx="27.8" ry="26.2" fill="#fff2b8"/><ellipse cx="1577" cy="700" rx="23.1" ry="21.8" fill="#ffe39a"/><ellipse cx="1577" cy="700" rx="18.5" ry="17.5" fill="#fecf6c"/><ellipse cx="1577" cy="700" rx="13.9" ry="13.1" fill="#fca83c"/><ellipse cx="1577" cy="700" rx="9.3" ry="8.7" fill="#f2852a"/><ellipse cx="1577" cy="700" rx="4.6" ry="4.4" fill="#e0641a"/><ellipse cx="1723" cy="749" rx="83.0" ry="78.3" fill="#fffbe0" stroke="#d9d5a6" stroke-width="0.8"/><ellipse cx="1723" cy="749" rx="73.8" ry="69.6" fill="#fff2b8"/><ellipse cx="1723" cy="749" rx="64.6" ry="60.9" fill="#ffe39a"/><ellipse cx="1723" cy="749" rx="55.3" ry="52.2" fill="#fecf6c"/><ellipse cx="1723" cy="749" rx="46.1" ry="43.5" fill="#fca83c"/><ellipse cx="1723" cy="749" rx="36.9" ry="34.8" fill="#f2852a"/><ellipse cx="1723" cy="749" rx="27.7" ry="26.1" fill="#e0641a"/><ellipse cx="1723" cy="749" rx="18.4" ry="17.4" fill="#bf4a10"/><ellipse cx="1723" cy="749" rx="9.2" ry="8.7" fill="#943510"/><ellipse cx="1294" cy="764" rx="30.0" ry="28.3" fill="#fffbe0" stroke="#d9d5a6" stroke-width="0.8"/><ellipse cx="1294" cy="764" rx="22.5" ry="21.2" fill="#fff2b8"/><ellipse cx="1294" cy="764" rx="15.0" ry="14.2" fill="#ffe39a"/><ellipse cx="1294" cy="764" rx="7.5" ry="7.1" fill="#fecf6c"/><ellipse cx="1120" cy="793" rx="54.4" ry="51.3" fill="#fffbe0" stroke="#d9d5a6" stroke-width="0.8"/><ellipse cx="1120" cy="793" rx="45.3" ry="42.8" fill="#fff2b8"/><ellipse cx="1120" cy="793" rx="36.3" ry="34.2" fill="#ffe39a"/><ellipse cx="1120" cy="793" rx="27.2" ry="25.7" fill="#fecf6c"/><ellipse cx="1120" cy="793" rx="18.1" ry="17.1" fill="#fca83c"/><ellipse cx="1120" cy="793" rx="9.1" ry="8.6" fill="#f2852a"/><ellipse cx="1482" cy="786" rx="68.4" ry="64.5" fill="#fffbe0" stroke="#d9d5a6" stroke-width="0.8"/><ellipse cx="1482" cy="786" rx="60.8" ry="57.4" fill="#fff2b8"/><ellipse cx="1482" cy="786" rx="53.2" ry="50.2" fill="#ffe39a"/><ellipse cx="1482" cy="786" rx="45.6" ry="43.0" fill="#fecf6c"/><ellipse cx="1482" cy="786" rx="38.0" ry="35.8" fill="#fca83c"/><ellipse cx="1482" cy="786" rx="30.4" ry="28.7" fill="#f2852a"/><ellipse cx="1482" cy="786" rx="22.8" ry="21.5" fill="#e0641a"/><ellipse cx="1482" cy="786" rx="15.2" ry="14.3" fill="#bf4a10"/><ellipse cx="1482" cy="786" rx="7.6" ry="7.2" fill="#943510"/><ellipse cx="1302" cy="859" rx="34.0" ry="32.1" fill="#fffbe0" stroke="#d9d5a6" stroke-width="0.8"/><ellipse cx="1302" cy="859" rx="25.5" ry="24.1" fill="#fff2b8"/><ellipse cx="1302" cy="859" rx="17.0" ry="16.0" fill="#ffe39a"/><ellipse cx="1302" cy="859" rx="8.5" ry="8.0" fill="#fecf6c"/><ellipse cx="1183" cy="915" rx="36.0" ry="34.0" fill="#fffbe0" stroke="#d9d5a6" stroke-width="0.8"/><ellipse cx="1183" cy="915" rx="28.8" ry="27.2" fill="#fff2b8"/><ellipse cx="1183" cy="915" rx="21.6" ry="20.4" fill="#ffe39a"/><ellipse cx="1183" cy="915" rx="14.4" ry="13.6" fill="#fecf6c"/><ellipse cx="1183" cy="915" rx="7.2" ry="6.8" fill="#fca83c"/><ellipse cx="1104" cy="975" rx="45.0" ry="42.5" fill="#fffbe0" stroke="#d9d5a6" stroke-width="0.8"/><ellipse cx="1104" cy="975" rx="38.6" ry="36.4" fill="#fff2b8"/><ellipse cx="1104" cy="975" rx="32.1" ry="30.3" fill="#ffe39a"/><ellipse cx="1104" cy="975" rx="25.7" ry="24.3" fill="#fecf6c"/><ellipse cx="1104" cy="975" rx="19.3" ry="18.2" fill="#fca83c"/><ellipse cx="1104" cy="975" rx="12.9" ry="12.1" fill="#f2852a"/><ellipse cx="1104" cy="975" rx="6.4" ry="6.1" fill="#e0641a"/><ellipse cx="1303" cy="972" rx="51.0" ry="48.1" fill="#fffbe0" stroke="#d9d5a6" stroke-width="0.8"/><ellipse cx="1303" cy="972" rx="43.7" ry="41.2" fill="#fff2b8"/><ellipse cx="1303" cy="972" rx="36.4" ry="34.4" fill="#ffe39a"/><ellipse cx="1303" cy="972" rx="29.1" ry="27.5" fill="#fecf6c"/><ellipse cx="1303" cy="972" rx="21.9" ry="20.6" fill="#fca83c"/><ellipse cx="1303" cy="972" rx="14.6" ry="13.7" fill="#f2852a"/><ellipse cx="1303" cy="972" rx="7.3" ry="6.9" fill="#e0641a"/><ellipse cx="1508" cy="955" rx="71.6" ry="67.5" fill="#fffbe0" stroke="#d9d5a6" stroke-width="0.8"/><ellipse cx="1508" cy="955" rx="62.6" ry="59.1" fill="#fff2b8"/><ellipse cx="1508" cy="955" rx="53.7" ry="50.7" fill="#ffe39a"/><ellipse cx="1508" cy="955" rx="44.8" ry="42.2" fill="#fecf6c"/><ellipse cx="1508" cy="955" rx="35.8" ry="33.8" fill="#fca83c"/><ellipse cx="1508" cy="955" rx="26.8" ry="25.3" fill="#f2852a"/><ellipse cx="1508" cy="955" rx="17.9" ry="16.9" fill="#e0641a"/><ellipse cx="1508" cy="955" rx="8.9" ry="8.4" fill="#bf4a10"/><ellipse cx="1603" cy="862" rx="40.0" ry="37.7" fill="#fffbe0" stroke="#d9d5a6" stroke-width="0.8"/><ellipse cx="1603" cy="862" rx="30.0" ry="28.3" fill="#fff2b8"/><ellipse cx="1603" cy="862" rx="20.0" ry="18.9" fill="#ffe39a"/><ellipse cx="1603" cy="862" rx="10.0" ry="9.4" fill="#fecf6c"/><ellipse cx="1664" cy="923" rx="26.5" ry="25.0" fill="#fffbe0" stroke="#d9d5a6" stroke-width="0.8"/><ellipse cx="1664" cy="923" rx="17.7" ry="16.7" fill="#fff2b8"/><ellipse cx="1664" cy="923" rx="8.8" ry="8.3" fill="#ffe39a"/><ellipse cx="1632" cy="1018" rx="46.0" ry="43.4" fill="#fffbe0" stroke="#d9d5a6" stroke-width="0.8"/><ellipse cx="1632" cy="1018" rx="39.4" ry="37.2" fill="#fff2b8"/><ellipse cx="1632" cy="1018" rx="32.9" ry="31.0" fill="#ffe39a"/><ellipse cx="1632" cy="1018" rx="26.3" ry="24.8" fill="#fecf6c"/><ellipse cx="1632" cy="1018" rx="19.7" ry="18.6" fill="#fca83c"/><ellipse cx="1632" cy="1018" rx="13.1" ry="12.4" fill="#f2852a"/><ellipse cx="1632" cy="1018" rx="6.6" ry="6.2" fill="#e0641a"/><ellipse cx="1536" cy="1085" rx="29.0" ry="27.4" fill="#fffbe0" stroke="#d9d5a6" stroke-width="0.8"/><ellipse cx="1536" cy="1085" rx="19.3" ry="18.2" fill="#fff2b8"/><ellipse cx="1536" cy="1085" rx="9.7" ry="9.1" fill="#ffe39a"/><ellipse cx="1402" cy="1109" rx="69.0" ry="65.1" fill="#fffbe0" stroke="#d9d5a6" stroke-width="0.8"/><ellipse cx="1402" cy="1109" rx="60.4" ry="57.0" fill="#fff2b8"/><ellipse cx="1402" cy="1109" rx="51.8" ry="48.8" fill="#ffe39a"/><ellipse cx="1402" cy="1109" rx="43.1" ry="40.7" fill="#fecf6c"/><ellipse cx="1402" cy="1109" rx="34.5" ry="32.5" fill="#fca83c"/><ellipse cx="1402" cy="1109" rx="25.9" ry="24.4" fill="#f2852a"/><ellipse cx="1402" cy="1109" rx="17.2" ry="16.3" fill="#e0641a"/><ellipse cx="1402" cy="1109" rx="8.6" ry="8.1" fill="#bf4a10"/><ellipse cx="848" cy="661" rx="64.5" ry="60.8" fill="#fffbe0" stroke="#d9d5a6" stroke-width="0.8"/><ellipse cx="848" cy="661" rx="56.4" ry="53.2" fill="#fff2b8"/><ellipse cx="848" cy="661" rx="48.4" ry="45.6" fill="#ffe39a"/><ellipse cx="848" cy="661" rx="40.3" ry="38.0" fill="#fecf6c"/><ellipse cx="848" cy="661" rx="32.2" ry="30.4" fill="#fca83c"/><ellipse cx="848" cy="661" rx="24.2" ry="22.8" fill="#f2852a"/><ellipse cx="848" cy="661" rx="16.1" ry="15.2" fill="#e0641a"/><ellipse cx="848" cy="661" rx="8.1" ry="7.6" fill="#bf4a10"/><ellipse cx="990" cy="699" rx="57.4" ry="54.2" fill="#fffbe0" stroke="#d9d5a6" stroke-width="0.8"/><ellipse cx="990" cy="699" rx="49.2" ry="46.4" fill="#fff2b8"/><ellipse cx="990" cy="699" rx="41.0" ry="38.7" fill="#ffe39a"/><ellipse cx="990" cy="699" rx="32.8" ry="30.9" fill="#fecf6c"/><ellipse cx="990" cy="699" rx="24.6" ry="23.2" fill="#fca83c"/><ellipse cx="990" cy="699" rx="16.4" ry="15.5" fill="#f2852a"/><ellipse cx="990" cy="699" rx="8.2" ry="7.7" fill="#e0641a"/><ellipse cx="767" cy="740" rx="39.0" ry="36.8" fill="#fffbe0" stroke="#d9d5a6" stroke-width="0.8"/><ellipse cx="767" cy="740" rx="33.4" ry="31.5" fill="#fff2b8"/><ellipse cx="767" cy="740" rx="27.9" ry="26.3" fill="#ffe39a"/><ellipse cx="767" cy="740" rx="22.3" ry="21.0" fill="#fecf6c"/><ellipse cx="767" cy="740" rx="16.7" ry="15.8" fill="#fca83c"/><ellipse cx="767" cy="740" rx="11.1" ry="10.5" fill="#f2852a"/><ellipse cx="767" cy="740" rx="5.6" ry="5.3" fill="#e0641a"/><ellipse cx="911" cy="786" rx="31.6" ry="29.8" fill="#fffbe0" stroke="#d9d5a6" stroke-width="0.8"/><ellipse cx="911" cy="786" rx="27.1" ry="25.6" fill="#fff2b8"/><ellipse cx="911" cy="786" rx="22.6" ry="21.3" fill="#ffe39a"/><ellipse cx="911" cy="786" rx="18.1" ry="17.0" fill="#fecf6c"/><ellipse cx="911" cy="786" rx="13.5" ry="12.8" fill="#fca83c"/><ellipse cx="911" cy="786" rx="9.0" ry="8.5" fill="#f2852a"/><ellipse cx="911" cy="786" rx="4.5" ry="4.3" fill="#e0641a"/><ellipse cx="679" cy="799" rx="18.0" ry="17.0" fill="#fecf6c" stroke="#d9d5a6" stroke-width="0.8"/><ellipse cx="679" cy="799" rx="15.0" ry="14.2" fill="#fca83c"/><ellipse cx="679" cy="799" rx="12.0" ry="11.3" fill="#f2852a"/><ellipse cx="679" cy="799" rx="9.0" ry="8.5" fill="#e0641a"/><ellipse cx="679" cy="799" rx="6.0" ry="5.7" fill="#bf4a10"/><ellipse cx="679" cy="799" rx="3.0" ry="2.8" fill="#943510"/><ellipse cx="757" cy="838" rx="28.0" ry="26.4" fill="#fffbe0" stroke="#d9d5a6" stroke-width="0.8"/><ellipse cx="757" cy="838" rx="24.0" ry="22.6" fill="#fff2b8"/><ellipse cx="757" cy="838" rx="20.0" ry="18.9" fill="#ffe39a"/><ellipse cx="757" cy="838" rx="16.0" ry="15.1" fill="#fecf6c"/><ellipse cx="757" cy="838" rx="12.0" ry="11.3" fill="#fca83c"/><ellipse cx="757" cy="838" rx="8.0" ry="7.5" fill="#f2852a"/><ellipse cx="757" cy="838" rx="4.0" ry="3.8" fill="#e0641a"/><ellipse cx="1009" cy="860" rx="27.5" ry="25.9" fill="#fffbe0" stroke="#d9d5a6" stroke-width="0.8"/><ellipse cx="1009" cy="860" rx="22.9" ry="21.6" fill="#fff2b8"/><ellipse cx="1009" cy="860" rx="18.3" ry="17.3" fill="#ffe39a"/><ellipse cx="1009" cy="860" rx="13.8" ry="13.0" fill="#fecf6c"/><ellipse cx="1009" cy="860" rx="9.2" ry="8.6" fill="#fca83c"/><ellipse cx="1009" cy="860" rx="4.6" ry="4.3" fill="#f2852a"/><ellipse cx="497" cy="771" rx="46.5" ry="43.9" fill="#fffbe0" stroke="#d9d5a6" stroke-width="0.8"/><ellipse cx="497" cy="771" rx="39.9" ry="37.6" fill="#fff2b8"/><ellipse cx="497" cy="771" rx="33.2" ry="31.3" fill="#ffe39a"/><ellipse cx="497" cy="771" rx="26.6" ry="25.1" fill="#fecf6c"/><ellipse cx="497" cy="771" rx="19.9" ry="18.8" fill="#fca83c"/><ellipse cx="497" cy="771" rx="13.3" ry="12.5" fill="#f2852a"/><ellipse cx="497" cy="771" rx="6.6" ry="6.3" fill="#e0641a"/><ellipse cx="564" cy="836" rx="45.7" ry="43.1" fill="#fffbe0" stroke="#d9d5a6" stroke-width="0.8"/><ellipse cx="564" cy="836" rx="39.2" ry="37.0" fill="#fff2b8"/><ellipse cx="564" cy="836" rx="32.6" ry="30.8" fill="#ffe39a"/><ellipse cx="564" cy="836" rx="26.1" ry="24.6" fill="#fecf6c"/><ellipse cx="564" cy="836" rx="19.6" ry="18.5" fill="#fca83c"/><ellipse cx="564" cy="836" rx="13.1" ry="12.3" fill="#f2852a"/><ellipse cx="564" cy="836" rx="6.5" ry="6.2" fill="#e0641a"/><ellipse cx="647" cy="900" rx="35.7" ry="33.7" fill="#fffbe0" stroke="#d9d5a6" stroke-width="0.8"/><ellipse cx="647" cy="900" rx="30.6" ry="28.9" fill="#fff2b8"/><ellipse cx="647" cy="900" rx="25.5" ry="24.1" fill="#ffe39a"/><ellipse cx="647" cy="900" rx="20.4" ry="19.2" fill="#fecf6c"/><ellipse cx="647" cy="900" rx="15.3" ry="14.4" fill="#fca83c"/><ellipse cx="647" cy="900" rx="10.2" ry="9.6" fill="#f2852a"/><ellipse cx="647" cy="900" rx="5.1" ry="4.8" fill="#e0641a"/><ellipse cx="824" cy="906" rx="38.0" ry="35.8" fill="#fffbe0" stroke="#d9d5a6" stroke-width="0.8"/><ellipse cx="824" cy="906" rx="32.6" ry="30.7" fill="#fff2b8"/><ellipse cx="824" cy="906" rx="27.1" ry="25.6" fill="#ffe39a"/><ellipse cx="824" cy="906" rx="21.7" ry="20.5" fill="#fecf6c"/><ellipse cx="824" cy="906" rx="16.3" ry="15.4" fill="#fca83c"/><ellipse cx="824" cy="906" rx="10.9" ry="10.2" fill="#f2852a"/><ellipse cx="824" cy="906" rx="5.4" ry="5.1" fill="#e0641a"/><ellipse cx="521" cy="963" rx="65.6" ry="61.9" fill="#fffbe0" stroke="#d9d5a6" stroke-width="0.8"/><ellipse cx="521" cy="963" rx="57.4" ry="54.2" fill="#fff2b8"/><ellipse cx="521" cy="963" rx="49.2" ry="46.4" fill="#ffe39a"/><ellipse cx="521" cy="963" rx="41.0" ry="38.7" fill="#fecf6c"/><ellipse cx="521" cy="963" rx="32.8" ry="30.9" fill="#fca83c"/><ellipse cx="521" cy="963" rx="24.6" ry="23.2" fill="#f2852a"/><ellipse cx="521" cy="963" rx="16.4" ry="15.5" fill="#e0641a"/><ellipse cx="521" cy="963" rx="8.2" ry="7.7" fill="#bf4a10"/><ellipse cx="719" cy="990" rx="44.0" ry="41.5" fill="#fffbe0" stroke="#d9d5a6" stroke-width="0.8"/><ellipse cx="719" cy="990" rx="37.7" ry="35.6" fill="#fff2b8"/><ellipse cx="719" cy="990" rx="31.4" ry="29.6" fill="#ffe39a"/><ellipse cx="719" cy="990" rx="25.1" ry="23.7" fill="#fecf6c"/><ellipse cx="719" cy="990" rx="18.9" ry="17.8" fill="#fca83c"/><ellipse cx="719" cy="990" rx="12.6" ry="11.9" fill="#f2852a"/><ellipse cx="719" cy="990" rx="6.3" ry="5.9" fill="#e0641a"/><ellipse cx="577" cy="1137" rx="73.0" ry="68.9" fill="#fffbe0" stroke="#d9d5a6" stroke-width="0.8"/><ellipse cx="577" cy="1137" rx="63.9" ry="60.3" fill="#fff2b8"/><ellipse cx="577" cy="1137" rx="54.8" ry="51.7" fill="#ffe39a"/><ellipse cx="577" cy="1137" rx="45.6" ry="43.0" fill="#fecf6c"/><ellipse cx="577" cy="1137" rx="36.5" ry="34.4" fill="#fca83c"/><ellipse cx="577" cy="1137" rx="27.4" ry="25.8" fill="#f2852a"/><ellipse cx="577" cy="1137" rx="18.2" ry="17.2" fill="#e0641a"/><ellipse cx="577" cy="1137" rx="9.1" ry="8.6" fill="#bf4a10"/><ellipse cx="868" cy="1037" rx="55.8" ry="52.6" fill="#fffbe0" stroke="#d9d5a6" stroke-width="0.8"/><ellipse cx="868" cy="1037" rx="47.8" ry="45.1" fill="#fff2b8"/><ellipse cx="868" cy="1037" rx="39.9" ry="37.6" fill="#ffe39a"/><ellipse cx="868" cy="1037" rx="31.9" ry="30.1" fill="#fecf6c"/><ellipse cx="868" cy="1037" rx="23.9" ry="22.6" fill="#fca83c"/><ellipse cx="868" cy="1037" rx="15.9" ry="15.0" fill="#f2852a"/><ellipse cx="868" cy="1037" rx="8.0" ry="7.5" fill="#e0641a"/><ellipse cx="769" cy="1090" rx="41.0" ry="38.7" fill="#fffbe0" stroke="#d9d5a6" stroke-width="0.8"/><ellipse cx="769" cy="1090" rx="35.1" ry="33.2" fill="#fff2b8"/><ellipse cx="769" cy="1090" rx="29.3" ry="27.6" fill="#ffe39a"/><ellipse cx="769" cy="1090" rx="23.4" ry="22.1" fill="#fecf6c"/><ellipse cx="769" cy="1090" rx="17.6" ry="16.6" fill="#fca83c"/><ellipse cx="769" cy="1090" rx="11.7" ry="11.1" fill="#f2852a"/><ellipse cx="769" cy="1090" rx="5.9" ry="5.5" fill="#e0641a"/><ellipse cx="836" cy="1178" rx="36.0" ry="34.0" fill="#fffbe0" stroke="#d9d5a6" stroke-width="0.8"/><ellipse cx="836" cy="1178" rx="30.9" ry="29.1" fill="#fff2b8"/><ellipse cx="836" cy="1178" rx="25.7" ry="24.3" fill="#ffe39a"/><ellipse cx="836" cy="1178" rx="20.6" ry="19.4" fill="#fecf6c"/><ellipse cx="836" cy="1178" rx="15.4" ry="14.6" fill="#fca83c"/><ellipse cx="836" cy="1178" rx="10.3" ry="9.7" fill="#f2852a"/><ellipse cx="836" cy="1178" rx="5.1" ry="4.9" fill="#e0641a"/><ellipse cx="929" cy="1077" rx="18.4" ry="17.4" fill="#fca83c" stroke="#d9d5a6" stroke-width="0.8"/><ellipse cx="929" cy="1077" rx="15.3" ry="14.5" fill="#f2852a"/><ellipse cx="929" cy="1077" rx="12.3" ry="11.6" fill="#e0641a"/><ellipse cx="929" cy="1077" rx="9.2" ry="8.7" fill="#bf4a10"/><ellipse cx="929" cy="1077" rx="6.1" ry="5.8" fill="#943510"/><ellipse cx="929" cy="1077" rx="3.1" ry="2.9" fill="#6b2a10"/><ellipse cx="936" cy="1201" rx="18.6" ry="17.5" fill="#e0641a" stroke="#d9d5a6" stroke-width="0.8"/><ellipse cx="936" cy="1201" rx="14.0" ry="13.2" fill="#bf4a10"/><ellipse cx="936" cy="1201" rx="9.3" ry="8.8" fill="#943510"/><ellipse cx="936" cy="1201" rx="4.7" ry="4.4" fill="#6b2a10"/><ellipse cx="1008" cy="940" rx="19.0" ry="17.9" fill="#ffe39a" stroke="#d9d5a6" stroke-width="0.8"/><ellipse cx="1008" cy="940" rx="15.8" ry="14.9" fill="#fecf6c"/><ellipse cx="1008" cy="940" rx="12.7" ry="11.9" fill="#fca83c"/><ellipse cx="1008" cy="940" rx="9.5" ry="9.0" fill="#f2852a"/><ellipse cx="1008" cy="940" rx="6.3" ry="6.0" fill="#e0641a"/><ellipse cx="1008" cy="940" rx="3.2" ry="3.0" fill="#bf4a10"/><ellipse cx="954" cy="970" rx="35.0" ry="33.0" fill="#fffbe0" stroke="#d9d5a6" stroke-width="0.8"/><ellipse cx="954" cy="970" rx="30.0" ry="28.3" fill="#fff2b8"/><ellipse cx="954" cy="970" rx="25.0" ry="23.6" fill="#ffe39a"/><ellipse cx="954" cy="970" rx="20.0" ry="18.9" fill="#fecf6c"/><ellipse cx="954" cy="970" rx="15.0" ry="14.2" fill="#fca83c"/><ellipse cx="954" cy="970" rx="10.0" ry="9.4" fill="#f2852a"/><ellipse cx="954" cy="970" rx="5.0" ry="4.7" fill="#e0641a"/><ellipse cx="1205" cy="1061" rx="40.5" ry="38.2" fill="#fffbe0" stroke="#d9d5a6" stroke-width="0.8"/><ellipse cx="1205" cy="1061" rx="32.4" ry="30.6" fill="#fff2b8"/><ellipse cx="1205" cy="1061" rx="24.3" ry="22.9" fill="#ffe39a"/><ellipse cx="1205" cy="1061" rx="16.2" ry="15.3" fill="#fecf6c"/><ellipse cx="1205" cy="1061" rx="8.1" ry="7.6" fill="#fca83c"/><ellipse cx="1280" cy="1181" rx="49.0" ry="46.2" fill="#fffbe0" stroke="#d9d5a6" stroke-width="0.8"/><ellipse cx="1280" cy="1181" rx="42.0" ry="39.6" fill="#fff2b8"/><ellipse cx="1280" cy="1181" rx="35.0" ry="33.0" fill="#ffe39a"/><ellipse cx="1280" cy="1181" rx="28.0" ry="26.4" fill="#fecf6c"/><ellipse cx="1280" cy="1181" rx="21.0" ry="19.8" fill="#fca83c"/><ellipse cx="1280" cy="1181" rx="14.0" ry="13.2" fill="#f2852a"/><ellipse cx="1280" cy="1181" rx="7.0" ry="6.6" fill="#e0641a"/><ellipse cx="1096" cy="1133" rx="85.0" ry="80.2" fill="#fffbe0" stroke="#d9d5a6" stroke-width="0.8"/><ellipse cx="1096" cy="1133" rx="75.6" ry="71.3" fill="#fff2b8"/><ellipse cx="1096" cy="1133" rx="66.1" ry="62.4" fill="#ffe39a"/><ellipse cx="1096" cy="1133" rx="56.7" ry="53.5" fill="#fecf6c"/><ellipse cx="1096" cy="1133" rx="47.2" ry="44.5" fill="#fca83c"/><ellipse cx="1096" cy="1133" rx="37.8" ry="35.6" fill="#f2852a"/><ellipse cx="1096" cy="1133" rx="28.3" ry="26.7" fill="#e0641a"/><ellipse cx="1096" cy="1133" rx="18.9" ry="17.8" fill="#bf4a10"/><ellipse cx="1096" cy="1133" rx="9.4" ry="8.9" fill="#943510"/><ellipse cx="583" cy="246" rx="37.0" ry="34.9" fill="#fffbe0" stroke="#d9d5a6" stroke-width="0.8"/><ellipse cx="583" cy="246" rx="31.7" ry="29.9" fill="#fff2b8"/><ellipse cx="583" cy="246" rx="26.4" ry="24.9" fill="#ffe39a"/><ellipse cx="583" cy="246" rx="21.1" ry="19.9" fill="#fecf6c"/><ellipse cx="583" cy="246" rx="15.9" ry="15.0" fill="#fca83c"/><ellipse cx="583" cy="246" rx="10.6" ry="10.0" fill="#f2852a"/><ellipse cx="583" cy="246" rx="5.3" ry="5.0" fill="#e0641a"/><ellipse cx="492" cy="294" rx="28.0" ry="26.4" fill="#fffbe0" stroke="#d9d5a6" stroke-width="0.8"/><ellipse cx="492" cy="294" rx="21.0" ry="19.8" fill="#fff2b8"/><ellipse cx="492" cy="294" rx="14.0" ry="13.2" fill="#ffe39a"/><ellipse cx="492" cy="294" rx="7.0" ry="6.6" fill="#fecf6c"/></g><ellipse cx="1723" cy="749" rx="86.5" ry="81.6" fill="none" stroke="#ff00ff" stroke-width="5.5"/><ellipse cx="1096" cy="1133" rx="88.5" ry="83.5" fill="none" stroke="#ff00ff" stroke-width="5.5"/><g font-family="Liberation Sans, Arial, sans-serif" font-weight="bold" text-anchor="middle"><rect x="709.2" y="172.3" width="39.5" height="19.4" rx="9.7" fill="#fff" fill-opacity="0.95"/><text x="729.8" y="187.1" font-size="11.76" fill="#888" fill-opacity="0.55" textLength="30.7" lengthAdjust="spacingAndGlyphs">CELL</text><text x="729.0" y="186.2" font-size="11.76" fill="#000" textLength="30.7" lengthAdjust="spacingAndGlyphs">CELL</text><rect x="876.5" y="182.5" width="153.0" height="22.0" rx="11.0" fill="#fff" fill-opacity="0.95"/><text x="953.8" y="199.2" font-size="13.31" fill="#888" fill-opacity="0.55" textLength="143.0" lengthAdjust="spacingAndGlyphs">J MOL CELL CARDIOL</text><text x="953.0" y="198.3" font-size="13.31" fill="#000" textLength="143.0" lengthAdjust="spacingAndGlyphs">J MOL CELL CARDIOL</text><rect x="1151.8" y="239.4" width="60.3" height="19.2" rx="9.6" fill="#fff" fill-opacity="0.95"/><text x="1182.8" y="254.1" font-size="11.61" fill="#888" fill-opacity="0.55" textLength="51.6" lengthAdjust="spacingAndGlyphs">SCIENCE</text><text x="1182.0" y="253.2" font-size="11.61" fill="#000" textLength="51.6" lengthAdjust="spacingAndGlyphs">SCIENCE</text><rect x="1213.7" y="291.5" width="150.7" height="19.1" rx="9.5" fill="#fff" fill-opacity="0.95"/><text x="1289.8" y="306.0" font-size="11.56" fill="#888" fill-opacity="0.55" textLength="142.0" lengthAdjust="spacingAndGlyphs">BIOCHEM BIOPH RES CO</text><text x="1289.0" y="305.1" font-size="11.56" fill="#000" textLength="142.0" lengthAdjust="spacingAndGlyphs">BIOCHEM BIOPH RES CO</text><rect x="959.4" y="294.6" width="91.1" height="18.7" rx="9.4" fill="#fff" fill-opacity="0.95"/><text x="1005.8" y="309.0" font-size="11.35" fill="#888" fill-opacity="0.55" textLength="82.6" lengthAdjust="spacingAndGlyphs">INT J CARDIOL</text><text x="1005.0" y="308.1" font-size="11.35" fill="#000" textLength="82.6" lengthAdjust="spacingAndGlyphs">INT J CARDIOL</text><rect x="1044.3" y="363.7" width="61.3" height="16.5" rx="8.3" fill="#fff" fill-opacity="0.95"/><text x="1075.8" y="376.5" font-size="10.02" fill="#888" fill-opacity="0.55" textLength="53.8" lengthAdjust="spacingAndGlyphs">J CELL SCI</text><text x="1075.0" y="375.6" font-size="10.02" fill="#000" textLength="53.8" lengthAdjust="spacingAndGlyphs">J CELL SCI</text><rect x="1155.8" y="360.8" width="68.5" height="16.5" rx="8.2" fill="#fff" fill-opacity="0.95"/><text x="1190.8" y="373.5" font-size="9.98" fill="#888" fill-opacity="0.55" textLength="61.0" lengthAdjust="spacingAndGlyphs">AM HEART J</text><text x="1190.0" y="372.6" font-size="9.98" fill="#000" textLength="61.0" lengthAdjust="spacingAndGlyphs">AM HEART J</text><rect x="927.3" y="382.7" width="83.5" height="16.7" rx="8.3" fill="#fff" fill-opacity="0.95"/><text x="969.8" y="395.5" font-size="10.10" fill="#888" fill-opacity="0.55" textLength="75.9" lengthAdjust="spacingAndGlyphs">NAT CELL BIOL</text><text x="969.0" y="394.6" font-size="10.10" fill="#000" textLength="75.9" lengthAdjust="spacingAndGlyphs">NAT CELL BIOL</text><rect x="1377.5" y="346.5" width="85.0" height="18.9" rx="9.5" fill="#fff" fill-opacity="0.95"/><text x="1420.8" y="361.0" font-size="11.46" fill="#888" fill-opacity="0.55" textLength="76.4" lengthAdjust="spacingAndGlyphs">EUR HEART J</text><text x="1420.0" y="360.1" font-size="11.46" fill="#000" textLength="76.4" lengthAdjust="spacingAndGlyphs">EUR HEART J</text><rect x="1570.9" y="316.4" width="56.3" height="19.1" rx="9.6" fill="#fff" fill-opacity="0.95"/><text x="1599.8" y="331.0" font-size="11.58" fill="#888" fill-opacity="0.55" textLength="47.6" lengthAdjust="spacingAndGlyphs">LIFE SCI</text><text x="1599.0" y="330.1" font-size="11.58" fill="#000" textLength="47.6" lengthAdjust="spacingAndGlyphs">LIFE SCI</text><rect x="1709.0" y="413.9" width="77.9" height="16.1" rx="8.1" fill="#fff" fill-opacity="0.95"/><text x="1748.8" y="426.4" font-size="9.78" fill="#888" fill-opacity="0.55" textLength="70.6" lengthAdjust="spacingAndGlyphs">AM J CARDIOL</text><text x="1748.0" y="425.5" font-size="9.78" fill="#000" textLength="70.6" lengthAdjust="spacingAndGlyphs">AM J CARDIOL</text><rect x="1503.9" y="443.6" width="156.2" height="18.9" rx="9.4" fill="#fff" fill-opacity="0.95"/><text x="1582.8" y="458.0" font-size="11.45" fill="#888" fill-opacity="0.55" textLength="147.6" lengthAdjust="spacingAndGlyphs">BIOMED PHARMACOTHER</text><text x="1582.0" y="457.1" font-size="11.45" fill="#000" textLength="147.6" lengthAdjust="spacingAndGlyphs">BIOMED PHARMACOTHER</text><rect x="1346.5" y="485.0" width="145.0" height="21.9" rx="11.0" fill="#fff" fill-opacity="0.95"/><text x="1419.8" y="501.7" font-size="13.28" fill="#888" fill-opacity="0.55" textLength="135.0" lengthAdjust="spacingAndGlyphs">J AM COLL CARDIOL</text><text x="1419.0" y="500.8" font-size="13.28" fill="#000" textLength="135.0" lengthAdjust="spacingAndGlyphs">J AM COLL CARDIOL</text><rect x="1664.2" y="522.1" width="103.5" height="21.9" rx="10.9" fill="#fff" fill-opacity="0.95"/><text x="1716.8" y="538.6" font-size="13.26" fill="#888" fill-opacity="0.55" textLength="93.6" lengthAdjust="spacingAndGlyphs">J CLIN INVEST</text><text x="1716.0" y="537.7" font-size="13.26" fill="#000" textLength="93.6" lengthAdjust="spacingAndGlyphs">J CLIN INVEST</text><rect x="1533.1" y="596.5" width="87.8" height="19.0" rx="9.5" fill="#fff" fill-opacity="0.95"/><text x="1577.8" y="611.0" font-size="11.53" fill="#888" fill-opacity="0.55" textLength="79.2" lengthAdjust="spacingAndGlyphs">INT J MOL SCI</text><text x="1577.0" y="610.1" font-size="11.53" fill="#000" textLength="79.2" lengthAdjust="spacingAndGlyphs">INT J MOL SCI</text><rect x="498.4" y="423.3" width="83.3" height="19.4" rx="9.7" fill="#fff" fill-opacity="0.95"/><text x="540.8" y="438.1" font-size="11.73" fill="#888" fill-opacity="0.55" textLength="74.5" lengthAdjust="spacingAndGlyphs">CELL METAB</text><text x="540.0" y="437.2" font-size="11.73" fill="#000" textLength="74.5" lengthAdjust="spacingAndGlyphs">CELL METAB</text><rect x="661.9" y="416.6" width="56.3" height="18.9" rx="9.4" fill="#fff" fill-opacity="0.95"/><text x="690.8" y="431.0" font-size="11.44" fill="#888" fill-opacity="0.55" textLength="47.7" lengthAdjust="spacingAndGlyphs">FASEB J</text><text x="690.0" y="430.1" font-size="11.44" fill="#000" textLength="47.7" lengthAdjust="spacingAndGlyphs">FASEB J</text><rect x="378.9" y="557.5" width="122.2" height="18.9" rx="9.5" fill="#fff" fill-opacity="0.95"/><text x="440.8" y="572.0" font-size="11.47" fill="#888" fill-opacity="0.55" textLength="113.6" lengthAdjust="spacingAndGlyphs">BBA-MOL CELL RES</text><text x="440.0" y="571.1" font-size="11.47" fill="#000" textLength="113.6" lengthAdjust="spacingAndGlyphs">BBA-MOL CELL RES</text><rect x="572.2" y="559.7" width="65.7" height="18.7" rx="9.3" fill="#fff" fill-opacity="0.95"/><text x="605.8" y="573.9" font-size="11.31" fill="#888" fill-opacity="0.55" textLength="57.2" lengthAdjust="spacingAndGlyphs">DIABETES</text><text x="605.0" y="573.0" font-size="11.31" fill="#000" textLength="57.2" lengthAdjust="spacingAndGlyphs">DIABETES</text><rect x="645.4" y="515.6" width="101.2" height="18.8" rx="9.4" fill="#fff" fill-opacity="0.95"/><text x="696.8" y="530.0" font-size="11.42" fill="#888" fill-opacity="0.55" textLength="92.6" lengthAdjust="spacingAndGlyphs">FRONT PHYSIOL</text><text x="696.0" y="529.1" font-size="11.42" fill="#000" textLength="92.6" lengthAdjust="spacingAndGlyphs">FRONT PHYSIOL</text><rect x="634.7" y="623.5" width="52.6" height="18.9" rx="9.5" fill="#fff" fill-opacity="0.95"/><text x="661.8" y="638.0" font-size="11.48" fill="#888" fill-opacity="0.55" textLength="44.0" lengthAdjust="spacingAndGlyphs">EMBO J</text><text x="661.0" y="637.1" font-size="11.48" fill="#000" textLength="44.0" lengthAdjust="spacingAndGlyphs">EMBO J</text><rect x="469.9" y="649.8" width="84.1" height="16.4" rx="8.2" fill="#fff" fill-opacity="0.95"/><text x="512.8" y="662.4" font-size="9.91" fill="#888" fill-opacity="0.55" textLength="76.7" lengthAdjust="spacingAndGlyphs">MOL CELL BIOL</text><text x="512.0" y="661.5" font-size="9.91" fill="#000" textLength="76.7" lengthAdjust="spacingAndGlyphs">MOL CELL BIOL</text><rect x="265.5" y="705.7" width="129.0" height="16.7" rx="8.3" fill="#fff" fill-opacity="0.95"/><text x="330.8" y="718.5" font-size="10.10" fill="#888" fill-opacity="0.55" textLength="121.4" lengthAdjust="spacingAndGlyphs">CARDIOVASC DIABETOL</text><text x="330.0" y="717.6" font-size="10.10" fill="#000" textLength="121.4" lengthAdjust="spacingAndGlyphs">CARDIOVASC DIABETOL</text><rect x="567.7" y="704.4" width="144.6" height="19.1" rx="9.6" fill="#fff" fill-opacity="0.95"/><text x="640.8" y="719.1" font-size="11.59" fill="#888" fill-opacity="0.55" textLength="135.9" lengthAdjust="spacingAndGlyphs">NAT REV MOL CELL BIO</text><text x="640.0" y="718.2" font-size="11.59" fill="#000" textLength="135.9" lengthAdjust="spacingAndGlyphs">NAT REV MOL CELL BIO</text><rect x="730.7" y="275.6" width="72.7" height="16.8" rx="8.4" fill="#fff" fill-opacity="0.95"/><text x="767.8" y="288.6" font-size="10.20" fill="#888" fill-opacity="0.55" textLength="65.0" lengthAdjust="spacingAndGlyphs">AUTOPHAGY</text><text x="767.0" y="287.7" font-size="10.20" fill="#000" textLength="65.0" lengthAdjust="spacingAndGlyphs">AUTOPHAGY</text><rect x="790.7" y="304.4" width="150.7" height="19.1" rx="9.6" fill="#fff" fill-opacity="0.95"/><text x="866.8" y="319.1" font-size="11.60" fill="#888" fill-opacity="0.55" textLength="142.0" lengthAdjust="spacingAndGlyphs">CELL PHYSIOL BIOCHEM</text><text x="866.0" y="318.2" font-size="11.60" fill="#000" textLength="142.0" lengthAdjust="spacingAndGlyphs">CELL PHYSIOL BIOCHEM</text><rect x="774.2" y="398.5" width="87.6" height="19.0" rx="9.5" fill="#fff" fill-opacity="0.95"/><text x="818.8" y="413.0" font-size="11.50" fill="#888" fill-opacity="0.55" textLength="79.0" lengthAdjust="spacingAndGlyphs">NAT COMMUN</text><text x="818.0" y="412.1" font-size="11.50" fill="#000" textLength="79.0" lengthAdjust="spacingAndGlyphs">NAT COMMUN</text><rect x="846.8" y="459.6" width="122.4" height="18.8" rx="9.4" fill="#fff" fill-opacity="0.95"/><text x="908.8" y="474.0" font-size="11.40" fill="#888" fill-opacity="0.55" textLength="113.8" lengthAdjust="spacingAndGlyphs">BBA-MOL BASIS DIS</text><text x="908.0" y="473.1" font-size="11.40" fill="#000" textLength="113.8" lengthAdjust="spacingAndGlyphs">BBA-MOL BASIS DIS</text><rect x="976.4" y="459.5" width="103.3" height="19.1" rx="9.5" fill="#fff" fill-opacity="0.95"/><text x="1028.8" y="474.0" font-size="11.56" fill="#888" fill-opacity="0.55" textLength="94.6" lengthAdjust="spacingAndGlyphs">CELL DEATH DIS</text><text x="1028.0" y="473.1" font-size="11.56" fill="#000" textLength="94.6" lengthAdjust="spacingAndGlyphs">CELL DEATH DIS</text><rect x="770.5" y="529.7" width="69.0" height="16.6" rx="8.3" fill="#fff" fill-opacity="0.95"/><text x="805.8" y="542.5" font-size="10.08" fill="#888" fill-opacity="0.55" textLength="61.4" lengthAdjust="spacingAndGlyphs">J CELL BIOL</text><text x="805.0" y="541.6" font-size="10.08" fill="#000" textLength="61.4" lengthAdjust="spacingAndGlyphs">J CELL BIOL</text><rect x="958.2" y="577.6" width="121.6" height="18.9" rx="9.4" fill="#fff" fill-opacity="0.95"/><text x="1019.8" y="592.0" font-size="11.45" fill="#888" fill-opacity="0.55" textLength="113.0" lengthAdjust="spacingAndGlyphs">J AM HEART ASSOC</text><text x="1019.0" y="591.1" font-size="11.45" fill="#000" textLength="113.0" lengthAdjust="spacingAndGlyphs">J AM HEART ASSOC</text><rect x="1086.5" y="429.8" width="125.0" height="16.4" rx="8.2" fill="#fff" fill-opacity="0.95"/><text x="1149.8" y="442.5" font-size="9.94" fill="#888" fill-opacity="0.55" textLength="117.5" lengthAdjust="spacingAndGlyphs">JAMA-J AM MED ASSOC</text><text x="1149.0" y="441.6" font-size="9.94" fill="#000" textLength="117.5" lengthAdjust="spacingAndGlyphs">JAMA-J AM MED ASSOC</text><rect x="1243.7" y="445.6" width="66.5" height="18.8" rx="9.4" fill="#fff" fill-opacity="0.95"/><text x="1277.8" y="460.0" font-size="11.39" fill="#888" fill-opacity="0.55" textLength="58.0" lengthAdjust="spacingAndGlyphs">MOL CELL</text><text x="1277.0" y="459.1" font-size="11.39" fill="#000" textLength="58.0" lengthAdjust="spacingAndGlyphs">MOL CELL</text><rect x="1096.4" y="501.5" width="43.1" height="17.0" rx="8.5" fill="#fff" fill-opacity="0.95"/><text x="1118.8" y="514.6" font-size="10.28" fill="#888" fill-opacity="0.55" textLength="35.4" lengthAdjust="spacingAndGlyphs">HEART</text><text x="1118.0" y="513.7" font-size="10.28" fill="#000" textLength="35.4" lengthAdjust="spacingAndGlyphs">HEART</text><rect x="1250.1" y="530.6" width="79.8" height="18.9" rx="9.4" fill="#fff" fill-opacity="0.95"/><text x="1290.8" y="545.0" font-size="11.44" fill="#888" fill-opacity="0.55" textLength="71.2" lengthAdjust="spacingAndGlyphs">REDOX BIOL</text><text x="1290.0" y="544.1" font-size="11.44" fill="#000" textLength="71.2" lengthAdjust="spacingAndGlyphs">REDOX BIOL</text><rect x="1118.1" y="561.4" width="109.7" height="19.1" rx="9.6" fill="#fff" fill-opacity="0.95"/><text x="1173.8" y="576.1" font-size="11.60" fill="#888" fill-opacity="0.55" textLength="101.0" lengthAdjust="spacingAndGlyphs">NEW ENGL J MED</text><text x="1173.0" y="575.2" font-size="11.60" fill="#000" textLength="101.0" lengthAdjust="spacingAndGlyphs">NEW ENGL J MED</text><rect x="1335.8" y="599.4" width="126.4" height="19.2" rx="9.6" fill="#fff" fill-opacity="0.95"/><text x="1399.8" y="614.1" font-size="11.62" fill="#888" fill-opacity="0.55" textLength="117.7" lengthAdjust="spacingAndGlyphs">CELL DEATH DIFFER</text><text x="1399.0" y="613.2" font-size="11.62" fill="#000" textLength="117.7" lengthAdjust="spacingAndGlyphs">CELL DEATH DIFFER</text><rect x="1221.4" y="627.6" width="121.2" height="16.7" rx="8.4" fill="#fff" fill-opacity="0.95"/><text x="1282.8" y="640.5" font-size="10.12" fill="#888" fill-opacity="0.55" textLength="113.6" lengthAdjust="spacingAndGlyphs">ANTIOXIDANTS-BASEL</text><text x="1282.0" y="639.6" font-size="10.12" fill="#000" textLength="113.6" lengthAdjust="spacingAndGlyphs">ANTIOXIDANTS-BASEL</text><rect x="1107.2" y="650.8" width="53.6" height="18.4" rx="9.2" fill="#fff" fill-opacity="0.95"/><text x="1134.8" y="664.9" font-size="11.15" fill="#888" fill-opacity="0.55" textLength="45.2" lengthAdjust="spacingAndGlyphs">LANCET</text><text x="1134.0" y="664.0" font-size="11.15" fill="#000" textLength="45.2" lengthAdjust="spacingAndGlyphs">LANCET</text><rect x="1151.5" y="698.5" width="151.0" height="19.1" rx="9.5" fill="#fff" fill-opacity="0.95"/><text x="1227.8" y="713.0" font-size="11.55" fill="#888" fill-opacity="0.55" textLength="142.3" lengthAdjust="spacingAndGlyphs">OXID MED CELL LONGEV</text><text x="1227.0" y="712.1" font-size="11.55" fill="#000" textLength="142.3" lengthAdjust="spacingAndGlyphs">OXID MED CELL LONGEV</text><rect x="1368.9" y="698.1" width="88.3" height="16.9" rx="8.4" fill="#fff" fill-opacity="0.95"/><text x="1413.8" y="711.1" font-size="10.22" fill="#888" fill-opacity="0.55" textLength="80.6" lengthAdjust="spacingAndGlyphs">HYPERTENSION</text><text x="1413.0" y="710.2" font-size="10.22" fill="#000" textLength="80.6" lengthAdjust="spacingAndGlyphs">HYPERTENSION</text><rect x="1640.1" y="619.7" width="77.8" height="16.6" rx="8.3" fill="#fff" fill-opacity="0.95"/><text x="1679.8" y="632.5" font-size="10.04" fill="#888" fill-opacity="0.55" textLength="70.3" lengthAdjust="spacingAndGlyphs">CELLS-BASEL</text><text x="1679.0" y="631.6" font-size="10.04" fill="#000" textLength="70.3" lengthAdjust="spacingAndGlyphs">CELLS-BASEL</text><rect x="1544.9" y="688.4" width="64.3" height="17.1" rx="8.6" fill="#fff" fill-opacity="0.95"/><text x="1577.8" y="701.6" font-size="10.38" fill="#888" fill-opacity="0.55" textLength="56.5" lengthAdjust="spacingAndGlyphs">FEBS LETT</text><text x="1577.0" y="700.7" font-size="10.38" fill="#000" textLength="56.5" lengthAdjust="spacingAndGlyphs">FEBS LETT</text><rect x="1672.2" y="733.9" width="101.6" height="22.2" rx="11.1" fill="#fff" fill-opacity="0.95"/><text x="1723.8" y="750.7" font-size="13.43" fill="#888" fill-opacity="0.55" textLength="91.5" lengthAdjust="spacingAndGlyphs">CIRCULATION</text><text x="1723.0" y="749.8" font-size="13.43" fill="#000" textLength="91.5" lengthAdjust="spacingAndGlyphs">CIRCULATION</text><rect x="1246.0" y="751.7" width="95.9" height="16.5" rx="8.3" fill="#fff" fill-opacity="0.95"/><text x="1294.8" y="764.5" font-size="10.03" fill="#888" fill-opacity="0.55" textLength="88.4" lengthAdjust="spacingAndGlyphs">PHARMACOL RES</text><text x="1294.0" y="763.6" font-size="10.03" fill="#000" textLength="88.4" lengthAdjust="spacingAndGlyphs">PHARMACOL RES</text><rect x="1082.3" y="779.5" width="75.4" height="19.0" rx="9.5" fill="#fff" fill-opacity="0.95"/><text x="1120.8" y="794.0" font-size="11.54" fill="#888" fill-opacity="0.55" textLength="66.7" lengthAdjust="spacingAndGlyphs">SCI REP-UK</text><text x="1120.0" y="793.1" font-size="11.54" fill="#000" textLength="66.7" lengthAdjust="spacingAndGlyphs">SCI REP-UK</text><rect x="1434.1" y="769.0" width="95.7" height="22.0" rx="11.0" fill="#fff" fill-opacity="0.95"/><text x="1482.8" y="785.7" font-size="13.34" fill="#888" fill-opacity="0.55" textLength="85.7" lengthAdjust="spacingAndGlyphs">J BIOL CHEM</text><text x="1482.0" y="784.8" font-size="13.34" fill="#000" textLength="85.7" lengthAdjust="spacingAndGlyphs">J BIOL CHEM</text><rect x="1257.5" y="846.7" width="89.1" height="16.6" rx="8.3" fill="#fff" fill-opacity="0.95"/><text x="1302.8" y="859.5" font-size="10.07" fill="#888" fill-opacity="0.55" textLength="81.5" lengthAdjust="spacingAndGlyphs">J CELL PHYSIOL</text><text x="1302.0" y="858.6" font-size="10.07" fill="#000" textLength="81.5" lengthAdjust="spacingAndGlyphs">J CELL PHYSIOL</text><rect x="1144.1" y="902.8" width="77.8" height="16.5" rx="8.2" fill="#fff" fill-opacity="0.95"/><text x="1183.8" y="915.5" font-size="9.99" fill="#888" fill-opacity="0.55" textLength="70.3" lengthAdjust="spacingAndGlyphs">MOL MED REP</text><text x="1183.0" y="914.6" font-size="9.99" fill="#000" textLength="70.3" lengthAdjust="spacingAndGlyphs">MOL MED REP</text><rect x="1044.6" y="961.6" width="118.7" height="18.7" rx="9.4" fill="#fff" fill-opacity="0.95"/><text x="1104.8" y="976.0" font-size="11.33" fill="#888" fill-opacity="0.55" textLength="110.2" lengthAdjust="spacingAndGlyphs">EUR J PHARMACOL</text><text x="1104.0" y="975.1" font-size="11.33" fill="#000" textLength="110.2" lengthAdjust="spacingAndGlyphs">EUR J PHARMACOL</text><rect x="1233.7" y="958.5" width="138.6" height="18.9" rx="9.5" fill="#fff" fill-opacity="0.95"/><text x="1303.8" y="973.0" font-size="11.47" fill="#888" fill-opacity="0.55" textLength="130.0" lengthAdjust="spacingAndGlyphs">ANTIOXID REDOX SIGN</text><text x="1303.0" y="972.1" font-size="11.47" fill="#000" textLength="130.0" lengthAdjust="spacingAndGlyphs">ANTIOXID REDOX SIGN</text><rect x="1468.8" y="939.1" width="78.3" height="21.8" rx="10.9" fill="#fff" fill-opacity="0.95"/><text x="1508.8" y="955.6" font-size="13.24" fill="#888" fill-opacity="0.55" textLength="68.4" lengthAdjust="spacingAndGlyphs">PLOS ONE</text><text x="1508.0" y="954.7" font-size="13.24" fill="#000" textLength="68.4" lengthAdjust="spacingAndGlyphs">PLOS ONE</text><rect x="1540.9" y="848.7" width="124.3" height="18.7" rx="9.3" fill="#fff" fill-opacity="0.95"/><text x="1603.8" y="863.0" font-size="11.33" fill="#888" fill-opacity="0.55" textLength="115.8" lengthAdjust="spacingAndGlyphs">FRONT PHARMACOL</text><text x="1603.0" y="862.1" font-size="11.33" fill="#000" textLength="115.8" lengthAdjust="spacingAndGlyphs">FRONT PHARMACOL</text><rect x="1602.7" y="911.6" width="122.6" height="16.8" rx="8.4" fill="#fff" fill-opacity="0.95"/><text x="1664.8" y="924.5" font-size="10.16" fill="#888" fill-opacity="0.55" textLength="115.0" lengthAdjust="spacingAndGlyphs">FRONT CELL DEV BIOL</text><text x="1664.0" y="923.6" font-size="10.16" fill="#000" textLength="115.0" lengthAdjust="spacingAndGlyphs">FRONT CELL DEV BIOL</text><rect x="1578.8" y="1004.4" width="106.4" height="19.2" rx="9.6" fill="#fff" fill-opacity="0.95"/><text x="1632.8" y="1019.1" font-size="11.62" fill="#888" fill-opacity="0.55" textLength="97.7" lengthAdjust="spacingAndGlyphs">J CELL MOL MED</text><text x="1632.0" y="1018.2" font-size="11.62" fill="#000" textLength="97.7" lengthAdjust="spacingAndGlyphs">J CELL MOL MED</text><rect x="1466.9" y="1072.6" width="138.2" height="16.7" rx="8.4" fill="#fff" fill-opacity="0.95"/><text x="1536.8" y="1085.5" font-size="10.15" fill="#888" fill-opacity="0.55" textLength="130.6" lengthAdjust="spacingAndGlyphs">FRONT CARDIOVASC MED</text><text x="1536.0" y="1084.6" font-size="10.15" fill="#000" textLength="130.6" lengthAdjust="spacingAndGlyphs">FRONT CARDIOVASC MED</text><rect x="1318.5" y="1093.1" width="167.0" height="21.9" rx="10.9" fill="#fff" fill-opacity="0.95"/><text x="1402.8" y="1109.6" font-size="13.27" fill="#888" fill-opacity="0.55" textLength="157.0" lengthAdjust="spacingAndGlyphs">AM J PHYSIOL-HEART C</text><text x="1402.0" y="1108.7" font-size="13.27" fill="#000" textLength="157.0" lengthAdjust="spacingAndGlyphs">AM J PHYSIOL-HEART C</text><rect x="815.9" y="645.1" width="64.3" height="21.9" rx="10.9" fill="#fff" fill-opacity="0.95"/><text x="848.8" y="661.7" font-size="13.27" fill="#888" fill-opacity="0.55" textLength="54.3" lengthAdjust="spacingAndGlyphs">NATURE</text><text x="848.0" y="660.8" font-size="13.27" fill="#000" textLength="54.3" lengthAdjust="spacingAndGlyphs">NATURE</text><rect x="917.2" y="685.6" width="145.6" height="18.9" rx="9.4" fill="#fff" fill-opacity="0.95"/><text x="990.8" y="700.0" font-size="11.43" fill="#888" fill-opacity="0.55" textLength="137.0" lengthAdjust="spacingAndGlyphs">FREE RADICAL BIO MED</text><text x="990.0" y="699.1" font-size="11.43" fill="#000" textLength="137.0" lengthAdjust="spacingAndGlyphs">FREE RADICAL BIO MED</text><rect x="689.8" y="726.5" width="154.4" height="19.0" rx="9.5" fill="#fff" fill-opacity="0.95"/><text x="767.8" y="741.0" font-size="11.49" fill="#888" fill-opacity="0.55" textLength="145.8" lengthAdjust="spacingAndGlyphs">ARTERIOSCL THROM VAS</text><text x="767.0" y="740.1" font-size="11.49" fill="#000" textLength="145.8" lengthAdjust="spacingAndGlyphs">ARTERIOSCL THROM VAS</text><rect x="845.2" y="772.6" width="131.6" height="18.8" rx="9.4" fill="#fff" fill-opacity="0.95"/><text x="911.8" y="787.0" font-size="11.41" fill="#888" fill-opacity="0.55" textLength="123.0" lengthAdjust="spacingAndGlyphs">BBA-BIOENERGETICS</text><text x="911.0" y="786.1" font-size="11.41" fill="#000" textLength="123.0" lengthAdjust="spacingAndGlyphs">BBA-BIOENERGETICS</text><rect x="689.7" y="825.7" width="134.5" height="16.5" rx="8.3" fill="#fff" fill-opacity="0.95"/><text x="757.8" y="838.5" font-size="10.03" fill="#888" fill-opacity="0.55" textLength="127.0" lengthAdjust="spacingAndGlyphs">ARCH BIOCHEM BIOPHYS</text><text x="757.0" y="837.6" font-size="10.03" fill="#000" textLength="127.0" lengthAdjust="spacingAndGlyphs">ARCH BIOCHEM BIOPHYS</text><rect x="963.6" y="848.6" width="90.8" height="16.7" rx="8.4" fill="#fff" fill-opacity="0.95"/><text x="1009.8" y="861.5" font-size="10.14" fill="#888" fill-opacity="0.55" textLength="83.2" lengthAdjust="spacingAndGlyphs">HEART FAIL REV</text><text x="1009.0" y="860.6" font-size="10.14" fill="#000" textLength="83.2" lengthAdjust="spacingAndGlyphs">HEART FAIL REV</text><rect x="466.8" y="757.5" width="60.5" height="19.1" rx="9.5" fill="#fff" fill-opacity="0.95"/><text x="497.8" y="772.0" font-size="11.56" fill="#888" fill-opacity="0.55" textLength="51.8" lengthAdjust="spacingAndGlyphs">NAT MED</text><text x="497.0" y="771.1" font-size="11.56" fill="#000" textLength="51.8" lengthAdjust="spacingAndGlyphs">NAT MED</text><rect x="521.0" y="822.5" width="85.9" height="19.0" rx="9.5" fill="#fff" fill-opacity="0.95"/><text x="564.8" y="837.0" font-size="11.53" fill="#888" fill-opacity="0.55" textLength="77.3" lengthAdjust="spacingAndGlyphs">PHYSIOL REV</text><text x="564.0" y="836.1" font-size="11.53" fill="#000" textLength="77.3" lengthAdjust="spacingAndGlyphs">PHYSIOL REV</text><rect x="575.5" y="886.5" width="142.9" height="19.0" rx="9.5" fill="#fff" fill-opacity="0.95"/><text x="647.8" y="901.0" font-size="11.53" fill="#888" fill-opacity="0.55" textLength="134.3" lengthAdjust="spacingAndGlyphs">AM J PHYSIOL-CELL PH</text><text x="647.0" y="900.1" font-size="11.53" fill="#000" textLength="134.3" lengthAdjust="spacingAndGlyphs">AM J PHYSIOL-CELL PH</text><rect x="745.7" y="892.5" width="156.6" height="19.0" rx="9.5" fill="#fff" fill-opacity="0.95"/><text x="824.8" y="907.0" font-size="11.50" fill="#888" fill-opacity="0.55" textLength="148.0" lengthAdjust="spacingAndGlyphs">PHARMACOL THERAPEUT</text><text x="824.0" y="906.1" font-size="11.50" fill="#000" textLength="148.0" lengthAdjust="spacingAndGlyphs">PHARMACOL THERAPEUT</text><rect x="443.6" y="947.1" width="154.7" height="21.8" rx="10.9" fill="#fff" fill-opacity="0.95"/><text x="521.8" y="963.6" font-size="13.21" fill="#888" fill-opacity="0.55" textLength="144.8" lengthAdjust="spacingAndGlyphs">P NATL ACAD SCI USA</text><text x="521.0" y="962.7" font-size="13.21" fill="#000" textLength="144.8" lengthAdjust="spacingAndGlyphs">P NATL ACAD SCI USA</text><rect x="683.1" y="976.6" width="71.8" height="18.8" rx="9.4" fill="#fff" fill-opacity="0.95"/><text x="719.8" y="991.0" font-size="11.39" fill="#888" fill-opacity="0.55" textLength="63.3" lengthAdjust="spacingAndGlyphs">BIOCHEM J</text><text x="719.0" y="990.1" font-size="11.39" fill="#000" textLength="63.3" lengthAdjust="spacingAndGlyphs">BIOCHEM J</text><rect x="512.7" y="1121.1" width="128.5" height="21.8" rx="10.9" fill="#fff" fill-opacity="0.95"/><text x="577.8" y="1137.6" font-size="13.20" fill="#888" fill-opacity="0.55" textLength="118.6" lengthAdjust="spacingAndGlyphs">CARDIOVASC RES</text><text x="577.0" y="1136.7" font-size="13.20" fill="#000" textLength="118.6" lengthAdjust="spacingAndGlyphs">CARDIOVASC RES</text><rect x="805.1" y="1023.6" width="125.8" height="18.8" rx="9.4" fill="#fff" fill-opacity="0.95"/><text x="868.8" y="1038.0" font-size="11.40" fill="#888" fill-opacity="0.55" textLength="117.2" lengthAdjust="spacingAndGlyphs">BASIC RES CARDIOL</text><text x="868.0" y="1037.1" font-size="11.40" fill="#000" textLength="117.2" lengthAdjust="spacingAndGlyphs">BASIC RES CARDIOL</text><rect x="698.8" y="1076.5" width="140.3" height="19.0" rx="9.5" fill="#fff" fill-opacity="0.95"/><text x="769.8" y="1091.0" font-size="11.53" fill="#888" fill-opacity="0.55" textLength="131.7" lengthAdjust="spacingAndGlyphs">J CARDIOVASC PHARM</text><text x="769.0" y="1090.1" font-size="11.53" fill="#000" textLength="131.7" lengthAdjust="spacingAndGlyphs">J CARDIOVASC PHARM</text><rect x="773.8" y="1164.5" width="124.4" height="19.0" rx="9.5" fill="#fff" fill-opacity="0.95"/><text x="836.8" y="1179.0" font-size="11.50" fill="#888" fill-opacity="0.55" textLength="115.8" lengthAdjust="spacingAndGlyphs">MOL CELL BIOCHEM</text><text x="836.0" y="1178.1" font-size="11.50" fill="#000" textLength="115.8" lengthAdjust="spacingAndGlyphs">MOL CELL BIOCHEM</text><rect x="967.3" y="933.0" width="81.3" height="13.9" rx="7.0" fill="#fff" fill-opacity="0.95"/><text x="1008.8" y="943.9" font-size="8.44" fill="#888" fill-opacity="0.55" textLength="75.0" lengthAdjust="spacingAndGlyphs">ANN NY ACAD SCI</text><text x="1008.0" y="943.0" font-size="8.44" fill="#000" textLength="75.0" lengthAdjust="spacingAndGlyphs">ANN NY ACAD SCI</text><rect x="884.7" y="957.6" width="138.6" height="16.8" rx="8.4" fill="#fff" fill-opacity="0.95"/><text x="954.8" y="970.5" font-size="10.18" fill="#888" fill-opacity="0.55" textLength="131.0" lengthAdjust="spacingAndGlyphs">CARDIOVASC DRUG THER</text><text x="954.0" y="969.6" font-size="10.18" fill="#000" textLength="131.0" lengthAdjust="spacingAndGlyphs">CARDIOVASC DRUG THER</text><rect x="1148.4" y="1047.6" width="113.2" height="18.9" rx="9.4" fill="#fff" fill-opacity="0.95"/><text x="1205.8" y="1062.0" font-size="11.43" fill="#888" fill-opacity="0.55" textLength="104.6" lengthAdjust="spacingAndGlyphs">NAT REV CARDIOL</text><text x="1205.0" y="1061.1" font-size="11.43" fill="#000" textLength="104.6" lengthAdjust="spacingAndGlyphs">NAT REV CARDIOL</text><rect x="1219.2" y="1167.6" width="121.5" height="18.7" rx="9.4" fill="#fff" fill-opacity="0.95"/><text x="1280.8" y="1182.0" font-size="11.36" fill="#888" fill-opacity="0.55" textLength="113.0" lengthAdjust="spacingAndGlyphs">BRIT J PHARMACOL</text><text x="1280.0" y="1181.1" font-size="11.36" fill="#000" textLength="113.0" lengthAdjust="spacingAndGlyphs">BRIT J PHARMACOL</text><rect x="1059.7" y="1117.2" width="72.7" height="21.7" rx="10.8" fill="#fff" fill-opacity="0.95"/><text x="1096.8" y="1133.6" font-size="13.14" fill="#888" fill-opacity="0.55" textLength="62.8" lengthAdjust="spacingAndGlyphs">CIRC RES</text><text x="1096.0" y="1132.7" font-size="13.14" fill="#000" textLength="62.8" lengthAdjust="spacingAndGlyphs">CIRC RES</text><rect x="521.9" y="233.5" width="122.2" height="19.0" rx="9.5" fill="#fff" fill-opacity="0.95"/><text x="583.8" y="248.0" font-size="11.49" fill="#888" fill-opacity="0.55" textLength="113.6" lengthAdjust="spacingAndGlyphs">J PHYSIOL-LONDON</text><text x="583.0" y="247.1" font-size="11.49" fill="#000" textLength="113.6" lengthAdjust="spacingAndGlyphs">J PHYSIOL-LONDON</text><rect x="463.4" y="282.7" width="57.3" height="16.6" rx="8.3" fill="#fff" fill-opacity="0.95"/><text x="492.8" y="295.5" font-size="10.09" fill="#888" fill-opacity="0.55" textLength="49.7" lengthAdjust="spacingAndGlyphs">CELL REP</text><text x="492.0" y="294.6" font-size="10.09" fill="#000" textLength="49.7" lengthAdjust="spacingAndGlyphs">CELL REP</text></g><text transform="translate(24.3 81.2) scale(0.81 1)" font-family="Liberation Sans, Arial, sans-serif" font-size="113" fill="#000" stroke="#000" stroke-width="2.4">A</text><g font-family="Liberation Sans, Noto Sans CJK SC, sans-serif" font-weight="bold" font-size="16.3" fill="#111"><text x="9.8" y="130.8" textLength="330" lengthAdjust="spacingAndGlyphs">CiteSpace, v. 6.4.R2 (64-bit) Advanced ✓</text><text x="9.8" y="147.0" textLength="250" lengthAdjust="spacingAndGlyphs">April 18, 2025, 3:50:51 PM CST</text><text x="9.8" y="163.1" textLength="393.7" lengthAdjust="spacingAndGlyphs">WoS: E:\文献计量学\Citespace\examplewos\data</text><text x="9.8" y="179.2" textLength="312.9" lengthAdjust="spacingAndGlyphs">Timespan: 2015-2024 (Slice Length=1)</text><text x="9.8" y="195.4" textLength="519.5" lengthAdjust="spacingAndGlyphs">Selection Criteria: g-index (k=1), LRF=3.0, L/N=10, LBY=5, e=1.0</text><text x="9.8" y="211.6" textLength="330.8" lengthAdjust="spacingAndGlyphs">Network: N=160, E=259 (Density=0.0204)</text><text x="9.8" y="227.7" textLength="196" lengthAdjust="spacingAndGlyphs">Largest 1 CCs: 86 (53%)</text><text x="9.8" y="243.8" textLength="172.6" lengthAdjust="spacingAndGlyphs">Nodes Labeled: 1.0%</text><text x="9.8" y="260.0" textLength="160.9" lengthAdjust="spacingAndGlyphs">Pruning: Pathfinder</text></g><g><rect x="38" y="916.0" width="84" height="19.4" fill="#fffbe0"/><rect x="38" y="935.1" width="84" height="19.4" fill="#fff2b8"/><rect x="38" y="954.2" width="84" height="19.4" fill="#ffe39a"/><rect x="38" y="973.3" width="84" height="19.4" fill="#fecf6c"/><rect x="38" y="992.4" width="84" height="19.4" fill="#fca83c"/><rect x="38" y="1011.5" width="84" height="19.4" fill="#f2852a"/><rect x="38" y="1030.6" width="84" height="19.4" fill="#e0641a"/><rect x="38" y="1049.7" width="84" height="19.4" fill="#bf4a10"/><rect x="38" y="1068.8" width="84" height="19.4" fill="#943510"/><rect x="38" y="1087.9" width="84" height="19.4" fill="#6b2a10"/><g font-family="Liberation Sans, Arial, sans-serif" font-weight="bold" font-size="11.5" text-anchor="middle" fill="#000"><text x="80" y="929.8">2024</text><text x="80" y="948.9">2023</text><text x="80" y="968.0">2022</text><text x="80" y="987.1">2021</text><text x="80" y="1006.2">2020</text><text x="80" y="1025.3">2019</text><text x="80" y="1044.4">2018</text><text x="80" y="1063.5">2017</text><text x="80" y="1082.6">2016</text><text x="80" y="1101.7">2015</text></g></g><g><defs><linearGradient id="bg" x1="0" y1="0" x2="0" y2="1"><stop offset="0" stop-color="#8a8a8a"/><stop offset="1" stop-color="#e8e8e8"/></linearGradient><path id="arc" d="M19 1202 Q84 1190 147 1206"/></defs><text font-family="Liberation Sans, Arial, sans-serif" font-weight="bold" font-size="23" fill="#888"><textPath href="#arc" textLength="127" lengthAdjust="spacingAndGlyphs">CiteSpace</textPath></text><rect x="33" y="1216" width="19" height="13" fill="url(#bg)"/><rect x="53" y="1211" width="19" height="18" fill="url(#bg)"/><rect x="73" y="1205" width="19" height="24" fill="url(#bg)"/><rect x="93" y="1211" width="19" height="18" fill="url(#bg)"/><rect x="113" y="1216" width="19" height="13" fill="url(#bg)"/><path d="M8 1232 Q60 1230 82 1242 Q104 1230 155 1231" fill="none" stroke="#777" stroke-width="1.6"/><path d="M4 1239 Q55 1236 82 1243 Q109 1236 158 1239" fill="none" stroke="#777" stroke-width="1.6"/></g><text transform="translate(15.3 1418.6) scale(0.78 1)" font-family="Liberation Sans, Arial, sans-serif" font-size="113" fill="#000" stroke="#000" stroke-width="2.4">B</text><g fill="none" stroke-linecap="round"><path d="M425 1658h0m-86 77h0m125 23h0m-125 -86h0m105 55h0m-89 -5h0m54 -11h0m-32 -63h0m168 63h0m-87 13h0m-121 34h0m79 -91h0m-45 31h0m60 40h0" stroke="#1a1aff" stroke-opacity="0.5" stroke-width="2"/><path d="M447 1702h0m-103 16h0m41 -21h0m93 39h0m-30 0h0m-83 17h0m86 2h0m-82 -57h0m49 73h0m54 -71h0m39 -49h0m-206 62h0m99 -9h0" stroke="#1a1aff" stroke-opacity="0.5" stroke-width="2"/><path d="M399 1700h0m-36 34h0m120 18h0m-165 -54h0m17 -19h0m55 46h0m-9 -12h0m14 -3h0m-109 50h0m59 -95h0m102 25h0m-53 19h0m37 -28h0m-42 27h0m44 -24h0m17 -13h0" stroke="#1a1aff" stroke-opacity="0.5" stroke-width="2"/><path d="M376 1711h0m-43 25h0m103 -39h0m6 39h0m58 -7h0m-85 -6h0m-15 36h0m-55 -68h0m89 20h0m-60 -25h0m-58 -21h0m104 12h0m52 69h0m-48 -46h0m12 7h0m-64 58h0m118 -7h0m-72 20h0m-28 -104h0m-56 38h0m57 24h0m31 -35h0m-34 17h0m-27 -35h0m6 -51h0m-41 52h0m-1 9h0m94 42h0" stroke="#1a1aff" stroke-opacity="0.5" stroke-width="3"/><path d="M412 1657h0m1 -9h0m47 32h0m-106 48h0m-1 -40h0m41 -5h0m-49 51h0m120 -32h0m-52 21h0m-35 -19h0m15 -15h0m48 29h0m-44 -12h0m2 -17h0m15 19h0m108 -32h0m-163 20h0m-7 -33h0m60 55h0m41 45h0m-58 -8h0m-86 -4h0m6 -45h0m26 35h0m39 -100h0m0 84h0m44 -17h0m-8 1h0m24 23h0m15 -16h0m-37 16h0m-42 -60h0m-38 20h0m-15 -23h0" stroke="#1a1aff" stroke-opacity="0.5" stroke-width="3"/><path d="M319 1684h0m122 37h0m-85 -29h0m-14 -7h0m66 23h0m-62 48h0m110 -67h0m-116 16h0m77 18h0m-46 -8h0m28 43h0m-74 -79h0m102 8h0m-70 41h0m0 -21h0m56 -1h0m41 23h0m118 76h0m-90 -101h0m-87 10h0m-65 16h0m69 10h0m21 9h0m71 -60h0m25 27h0m-91 15h0m-102 -20h0m71 -16h0m58 19h0m-80 -19h0" stroke="#1a1aff" stroke-opacity="0.5" stroke-width="3"/><path d="M365 1667h0m150 81h0m-23 -64h0m-139 81h0m63 -76h0m17 -4h0m-42 -5h0m9 31h0m3 -22h0m16 26h0m-77 6h0m61 15h0m71 -25h0m-110 -17h0m25 55h0m76 -85h0" stroke="#1a1aff" stroke-opacity="0.5" stroke-width="4"/><path d="M467 1642h0m-102 87h0m136 -21h0m-89 20h0m7 14h0m30 -22h0m-67 -45h0m-24 61h0m41 -28h0m35 31h0m91 -15h0m-167 -19h0" stroke="#1a1aff" stroke-opacity="0.5" stroke-width="4"/><path d="M498 1657h0m-44 87h0m-86 51h0m151 -123h0m-131 63h0m-68 -7h0" stroke="#1a1aff" stroke-opacity="0.5" stroke-width="4"/><path d="M434 1666h0m20 -1h0m-19 0h0m5 13h0m-5 -10h0m0 9h0m-30 -12h0m1207 -29h0" stroke="#1a1aff" stroke-opacity="0.7" stroke-width="2"/><path d="M415 1688h0m6 -10h0m0 -6h0m1123 -29h0m52 4h0m-7 -18h0m41 15h0" stroke="#1a1aff" stroke-opacity="0.7" stroke-width="2"/><path d="M440 1675h0m14 2h0m1179 -39h0" stroke="#1a1aff" stroke-opacity="0.7" stroke-width="2"/><path d="M420 1666h0m25 6h0m-23 3h0m27 -6h0m-7 12h0m-31 -9h0m7 9h0m6 -6h0m-2 1h0m-7 -4h0m-5 -3h0m1179 -34h0m22 10h0m-43 -2h0m32 10h0m-27 -4h0m86 -6h0m-82 -4h0m-4 2h0m0 22h0" stroke="#1a1aff" stroke-opacity="0.7" stroke-width="3"/><path d="M422 1675h0m20 -4h0m-9 -9h0m3 18h0m22 -15h0m-35 14h0m-13 -8h0m26 14h0m-18 -17h0m5 1h0m2 8h0m33 4h0m1134 -44h0m26 3h0m-39 11h0m-21 -10h0m3 10h0m36 3h0m41 -8h0" stroke="#1a1aff" stroke-opacity="0.7" stroke-width="3"/><path d="M441 1679h0m-13 -20h0m9 22h0m-6 0h0m1174 -31h0m0 -7h0m-10 14h0m18 -18h0m6 10h0m-18 1h0m4 -5h0m-16 6h0m7 5h0m28 -11h0m-39 -10h0" stroke="#1a1aff" stroke-opacity="0.7" stroke-width="3"/><path d="M444 1674h0m12 2h0m-20 8h0m9 -21h0m-10 12h0m-9 -7h0m10 9h0m-6 -2h0m16 -3h0m-20 -2h0m0 -1h0m9 3h0m-6 -1h0m1176 -25h0m-42 -1h0m66 4h0m-50 5h0m23 -7h0" stroke="#1a1aff" stroke-opacity="0.7" stroke-width="4"/><path d="M412 1675h0m32 -12h0m-7 3h0m-29 9h0m18 -14h0m-11 16h0m15 5h0m4 -3h0m-7 -20h0m1130 -19h0m62 4h0m-55 2h0m70 -8h0m-57 0h0m24 9h0m1 0h0m14 10h0m-20 -4h0m-26 -1h0m68 -3h0m3 9h0" stroke="#1a1aff" stroke-opacity="0.7" stroke-width="4"/><path d="M464 1676h0m-26 -8h0m-23 11h0m30 -1h0m1156 -29h0m15 2h0m10 0h0m-49 -5h0m5 -2h0m10 7h0" stroke="#1a1aff" stroke-opacity="0.7" stroke-width="4"/><path d="M1621 1643h0" stroke="#1a1aff" stroke-opacity="0.7" stroke-width="5"/><path d="M1585 1639h0" stroke="#1a1aff" stroke-opacity="0.7" stroke-width="5"/><path d="M301 1715h0m22 -10h0m18 9h0m-34 -4h0m27 7h0m-32 -21h0m19 2h0m10 1h0m-3 12h0m8 -8h0m-7 13h0m18 4h0m-15 -18h0m-23 22h0m0 -30h0m32 21h0m-38 -3h0m35 -4h0m-4 -15h0m-39 9h0m56 8h0m-35 5h0m18 -14h0m-12 -13h0m21 8h0m6 18h0m108 -36h0m10 2h0m-5 -8h0m20 -6h0" stroke="#1a1aff" stroke-opacity="0.75" stroke-width="2"/><path d="M332 1717h0m-30 8h0m37 -15h0m-14 -1h0m-32 -14h0m33 13h0m-8 -8h0m9 -4h0m6 17h0m15 -9h0m-35 15h0m42 -16h0m-19 11h0m-9 -3h0m-16 -15h0m10 4h0m-9 24h0m-2 -29h0m8 -2h0m145 -22h0m11 2h0m-7 -1h0m-4 21h0m6 -20h0" stroke="#1a1aff" stroke-opacity="0.75" stroke-width="2"/><path d="M337 1707h0m-2 -27h0m4 24h0m-38 3h0m38 3h0m7 -8h0m-19 -3h0m7 0h0m-27 -4h0m12 12h0m2 -10h0m22 12h0m7 -7h0m-11 25h0m-3 -17h0m25 4h0m-22 -18h0m129 -22h0m-16 8h0m13 -5h0m17 2h0m-2 -14h0m-6 8h0m5 2h0m2 -7h0" stroke="#1a1aff" stroke-opacity="0.75" stroke-width="2"/><path d="M328 1725h0m29 0h0m-33 -18h0m-8 -3h0m38 6h0m-24 1h0m10 -12h0m7 2h0m-14 0h0m-18 1h0m18 14h0m-17 2h0m29 -9h0m-1 -3h0m-7 -1h0m-29 15h0m38 -20h0m-11 1h0m24 12h0m-39 2h0m-13 6h0m-2 8h0m32 -21h0m-30 7h0m23 -4h0m-8 5h0m6 -6h0m16 -3h0m-36 3h0m3 -7h0m-10 -2h0m18 6h0m20 0h0m-5 8h0m-23 -6h0m-1 -1h0m20 9h0m-43 -23h0m23 28h0m1 -18h0m22 -4h0m-15 7h0m45 -4h0m-61 7h0m18 3h0m18 -7h0m-4 7h0m-11 -7h0m171 -23h0m-27 -9h0m-5 -4h0m8 13h0m13 -2h0m-3 -7h0m-16 -2h0m-7 21h0m36 -15h0m-26 -3h0m-1 -15h0m-6 34h0m-2 -7h0m-6 -14h0" stroke="#1a1aff" stroke-opacity="0.75" stroke-width="3"/><path d="M343 1699h0m-16 7h0m18 6h0m5 -17h0m8 5h0m-9 14h0m-22 -13h0m9 12h0m-32 -14h0m29 7h0m0 13h0m8 -6h0m-28 3h0m-11 -20h0m57 16h0m-49 13h0m12 -19h0m20 12h0m-10 -8h0m0 -3h0m3 -22h0m-18 26h0m15 2h0m-2 -8h0m-14 1h0m34 -2h0m-3 -1h0m-2 14h0m-12 -28h0m19 23h0m4 -9h0m-9 6h0m-43 -2h0m20 10h0m25 -18h0m-11 -9h0m-29 16h0m47 13h0m93 -39h0m38 -4h0m-33 -2h0m14 10h0m10 -17h0m-2 1h0m10 6h0m-22 -1h0m19 -10h0m-32 23h0m2 -4h0m21 -3h0m5 0h0m-5 -5h0m-20 0h0m19 14h0m8 3h0m-24 -6h0m11 -11h0m-13 1h0m8 -17h0m24 26h0" stroke="#1a1aff" stroke-opacity="0.75" stroke-width="3"/><path d="M341 1715h0m24 -14h0m-20 6h0m12 -7h0m-8 28h0m-4 -14h0m-11 -7h0m-11 14h0m-32 -24h0m40 15h0m-7 -2h0m-23 9h0m32 -5h0m-12 -21h0m48 16h0m1 16h0m-26 -25h0m-26 23h0m-20 -27h0m63 3h0m-36 11h0m12 -11h0m-10 4h0m14 -10h0m-11 9h0m-11 -11h0m11 23h0m-19 -17h0m23 9h0m14 9h0m-9 -17h0m0 2h0m10 24h0m-29 -27h0m32 23h0m-8 -20h0m-11 -14h0m-28 24h0m24 5h0m139 -39h0m9 -1h0m-10 0h0m-30 7h0m17 -16h0m29 11h0m-6 2h0m-2 -7h0m5 23h0m-4 -24h0m-12 4h0m-21 -3h0m24 4h0m-14 4h0m22 5h0m1 -6h0m-24 -3h0m26 -1h0m2 -4h0m-15 16h0" stroke="#1a1aff" stroke-opacity="0.75" stroke-width="3"/><path d="M349 1720h0m-25 -3h0m-16 -8h0m49 1h0m-28 0h0m-4 -11h0m-13 11h0m-1 -5h0m8 0h0m23 0h0m-43 5h0m18 3h0m10 -6h0m-1 8h0m28 -22h0m-34 23h0m23 -16h0m-12 19h0m-24 0h0m23 -7h0m-1 -6h0m11 0h0m-43 14h0m24 -9h0m9 -11h0m18 -2h0m-2 2h0m-18 7h0m-14 -14h0m-10 26h0m164 -61h0m-6 17h0m-4 -8h0m-6 -4h0m18 23h0m1 -21h0m-7 18h0m12 -7h0m-11 -3h0m22 13h0m-12 -20h0m-22 17h0m18 -7h0" stroke="#1a1aff" stroke-opacity="0.75" stroke-width="4"/><path d="M346 1705h0m-17 -22h0m-14 27h0m11 4h0m7 -20h0m12 15h0m-42 17h0m32 -11h0m-12 -20h0m0 8h0m-8 0h0m6 8h0m4 3h0m7 -1h0m36 2h0m-20 -9h0m-53 8h0m32 -10h0m-14 17h0m30 -7h0m-21 -2h0m8 -5h0m-43 -6h0m22 6h0m23 -3h0m-13 11h0m6 2h0m7 -15h0m22 9h0m128 -37h0m-29 -14h0m45 19h0m-34 -8h0m9 0h0m-2 10h0m-12 -11h0m10 8h0m-10 -20h0m26 25h0m-6 9h0m22 -26h0m-19 23h0" stroke="#1a1aff" stroke-opacity="0.75" stroke-width="4"/><path d="M317 1703h0m-12 11h0m21 -19h0m5 6h0m-15 5h0m3 3h0m20 -16h0m-7 15h0m3 0h0m12 4h0m-49 7h0m5 -20h0m14 10h0m24 0h0m-16 4h0m14 6h0m-7 -21h0m-7 10h0m-4 8h0m18 -2h0m-22 -4h0m3 1h0m-26 -11h0m32 7h0m-2 3h0m0 -10h0m-2 1h0m-6 12h0m-15 -21h0m52 12h0m-54 10h0m14 -12h0m5 3h0m-20 -2h0m46 16h0m-1 -14h0m-27 -17h0m39 8h0m-43 10h0m23 3h0m133 -29h0m25 -9h0m-24 8h0m-4 -2h0m8 12h0m-6 -19h0m10 9h0m-11 -8h0m-14 2h0m12 0h0m7 -6h0m5 18h0m8 1h0m-21 -13h0m24 -14h0m10 29h0m-23 -16h0m-7 0h0" stroke="#1a1aff" stroke-opacity="0.75" stroke-width="4"/><path d="M1734 1615h0m-6 -6h0" stroke="#1a1aff" stroke-opacity="0.8" stroke-width="3"/><path d="M1732 1616h0m2 -4h0m0 3h0m-5 0h0m4 -7h0" stroke="#1a1aff" stroke-opacity="0.8" stroke-width="3"/><path d="M1731 1611h0" stroke="#1a1aff" stroke-opacity="0.8" stroke-width="4"/><path d="M1733 1618h0m-4 -7h0" stroke="#1a1aff" stroke-opacity="0.8" stroke-width="4"/><path d="M689 2074h0m26 -46h0m-82 13h0m41 -4h0m-28 31h0m15 -8h0m63 20h0m-30 -22h0m-23 -77h0m14 118h0" stroke="#1e88ee" stroke-opacity="0.55" stroke-width="2"/><path d="M668 2012h0m-5 57h0m-47 -49h0m40 7h0m-17 24h0m-33 -100h0m21 72h0m40 1h0m-53 33h0m90 15h0m-91 -72h0" stroke="#1e88ee" stroke-opacity="0.55" stroke-width="2"/><path d="M690 2059h0m-68 -36h0m4 26h0" stroke="#1e88ee" stroke-opacity="0.55" stroke-width="2"/><path d="M697 2018h0m-2 -110h0m-44 79h0m6 25h0m-34 2h0m-29 -5h0m61 21h0m35 2h0m7 75h0m-25 -46h0m21 -39h0m-7 43h0m-96 -23h0m-1 -36h0m28 35h0m34 -11h0m39 61h0m13 -28h0m-131 -5h0m127 26h0m-9 -6h0m-93 -32h0m50 5h0" stroke="#1e88ee" stroke-opacity="0.55" stroke-width="3"/><path d="M642 2018h0m-59 2h0m71 109h0m-17 -74h0m66 -20h0m-63 -37h0m40 93h0m65 -49h0m-102 33h0m90 -47h0m-73 25h0m-19 -22h0m30 4h0m-19 41h0m-17 -67h0m-32 28h0m104 -21h0m-48 17h0m19 34h0m-61 -12h0m129 -14h0m-78 -1h0m-15 1h0m15 24h0m-26 3h0m64 -9h0m-10 -50h0m-16 1h0m24 19h0" stroke="#1e88ee" stroke-opacity="0.55" stroke-width="3"/><path d="M676 2022h0m-99 85h0m26 -65h0m44 -26h0m-14 -3h0m16 12h0m-67 13h0m47 24h0m38 -27h0m51 10h0m-13 6h0m-118 -42h0m99 26h0m6 -18h0m-16 17h0m33 -17h0m-50 4h0m-59 8h0m76 11h0m-3 1h0m9 -66h0m-58 17h0m62 66h0m-34 -33h0" stroke="#1e88ee" stroke-opacity="0.55" stroke-width="3"/><path d="M670 2035h0m15 -21h0m-29 8h0m-73 61h0m57 -7h0m5 -78h0m-4 91h0m45 -41h0m-26 -8h0m25 34h0m-24 -61h0m-12 -7h0m-2 48h0m-69 -53h0m83 58h0m-5 -30h0m78 85h0m-73 -49h0" stroke="#1e88ee" stroke-opacity="0.55" stroke-width="4"/><path d="M629 2019h0m50 38h0m39 -71h0m-81 13h0m-4 56h0m-14 -13h0m66 -35h0m-31 18h0m55 74h0m-19 -119h0m-59 5h0m-32 101h0m85 -67h0" stroke="#1e88ee" stroke-opacity="0.55" stroke-width="4"/><path d="M633 2061h0m42 -27h0m4 -41h0m-36 29h0m-40 -49h0m9 67h0m22 -40h0m51 47h0m-61 -68h0m65 84h0m-30 -15h0m-9 -66h0" stroke="#1e88ee" stroke-opacity="0.55" stroke-width="4"/><path d="M709 2062h0m-3 4h0m-5 3h0m6 9h0m-13 -32h0m31 9h0m-14 8h0m-8 -9h0m5 1h0m-15 15h0m19 -4h0m-4 -1h0m-11 0h0m10 6h0m-2 -6h0m32 -12h0" stroke="#1e88ee" stroke-opacity="0.75" stroke-width="2"/><path d="M723 2068h0m-11 -3h0m9 -11h0m-8 13h0m-9 1h0m-9 -2h0m4 -5h0" stroke="#1e88ee" stroke-opacity="0.75" stroke-width="2"/><path d="M713 2063h0m2 11h0m-25 -11h0m38 -13h0m-32 24h0m42 -14h0m-27 9h0" stroke="#1e88ee" stroke-opacity="0.75" stroke-width="2"/><path d="M712 2055h0m17 9h0m-13 6h0m5 -5h0m-3 -15h0m-6 18h0m-11 3h0m6 -6h0m8 -8h0m-4 5h0m-11 -2h0m7 4h0m-20 2h0m12 -3h0m15 2h0m-5 -16h0m-1 2h0m-9 38h0m-2 -17h0m-2 -8h0m33 3h0" stroke="#1e88ee" stroke-opacity="0.75" stroke-width="3"/><path d="M722 2053h0m-8 11h0m-8 -2h0m-3 -3h0m10 3h0m-1 5h0m-10 -11h0m10 19h0m0 -10h0m0 -5h0m-4 1h0m9 -3h0m-12 2h0m-10 -18h0m24 14h0m-3 10h0m1 -9h0m-16 5h0m11 -8h0m-7 10h0m15 1h0m2 2h0m-18 5h0m-11 -18h0m15 16h0m7 -1h0m-7 -10h0m-1 4h0m7 3h0m12 -1h0m-23 -10h0m5 11h0m2 -4h0" stroke="#1e88ee" stroke-opacity="0.75" stroke-width="3"/><path d="M715 2059h0m-13 -2h0m12 5h0m-12 -13h0m-6 24h0m39 -7h0m-34 5h0m15 -8h0m-7 -6h0m17 14h0m-14 -5h0m9 -9h0m11 10h0m-20 -10h0m-28 11h0m29 8h0m-14 -14h0m-1 -12h0m27 11h0m-30 -10h0m20 18h0" stroke="#1e88ee" stroke-opacity="0.75" stroke-width="3"/><path d="M725 2065h0m-12 -7h0m-11 -7h0m7 11h0m13 -6h0m-5 -4h0m-19 0h0m5 8h0m-24 6h0m31 -13h0m19 -2h0m-33 3h0m25 4h0m-7 -8h0m-22 16h0m22 -4h0m5 11h0m-11 -17h0m-11 -6h0m14 11h0m-14 3h0m14 1h0" stroke="#1e88ee" stroke-opacity="0.75" stroke-width="4"/><path d="M708 2078h0m-14 -26h0m14 8h0m-18 5h0m19 8h0m-27 -9h0m36 -8h0m-22 -8h0m6 13h0m14 -5h0m-11 5h0m-10 -13h0m26 15h0m-5 5h0m-18 -1h0m28 -4h0" stroke="#1e88ee" stroke-opacity="0.75" stroke-width="4"/><path d="M719 2062h0m9 7h0m-25 -1h0m-3 -17h0m-13 28h0m18 -18h0m0 12h0m-2 -5h0m-9 -8h0m17 18h0m23 -6h0m-35 -16h0m28 9h0m-14 -3h0m-22 -3h0m6 5h0m23 6h0m17 -3h0m-34 -7h0m-1 -1h0m7 9h0m-2 8h0m0 -18h0m5 -5h0m-7 15h0m0 1h0" stroke="#1e88ee" stroke-opacity="0.75" stroke-width="4"/><path d="M685 2129h0" stroke="#1e88ee" stroke-opacity="0.8" stroke-width="2"/><path d="M683 2126h0m4 -7h0m-4 3h0m-1 3h0m1 4h0m-2 -3h0" stroke="#1e88ee" stroke-opacity="0.8" stroke-width="3"/><path d="M685 2127h0" stroke="#1e88ee" stroke-opacity="0.8" stroke-width="3"/><path d="M685 2123h0m-4 2h0" stroke="#1e88ee" stroke-opacity="0.8" stroke-width="3"/><path d="M694 2119h0m-15 0h0m0 2h0" stroke="#1e88ee" stroke-opacity="0.8" stroke-width="4"/><path d="M685 2125h0m0 -6h0" stroke="#1e88ee" stroke-opacity="0.8" stroke-width="4"/><path d="M1860 1635h0m-84 26h0m16 -8h0m-78 36h0m147 -65h0m-127 66h0m51 -28h0m-50 22h0m-54 29h0m-2 -3h0m160 -75h0m-75 37h0m20 -23h0m-26 13h0m80 -26h0m14 -11h0m-10 5h0m-115 55h0m54 -20h0m57 -29h0m-156 83h0" stroke="#22e8e8" stroke-opacity="0.6" stroke-width="2"/><path d="M1763 1666h0m67 -14h0m-110 34h0m142 -75h0m-37 35h0m-52 26h0m59 -35h0m-54 28h0m-6 7h0m20 -12h0m-55 20h0m-24 -2h0m41 5h0m120 -68h0m-74 37h0m-40 9h0m-26 13h0m36 -12h0m59 -17h0m-141 52h0m84 -44h0m-131 57h0m76 -22h0" stroke="#22e8e8" stroke-opacity="0.6" stroke-width="2"/><path d="M1679 1710h0m176 -71h0m-106 28h0m-58 34h0m16 -7h0m162 -68h0m-105 47h0m-6 -11h0m112 -42h0m-68 35h0m-97 45h0m27 -31h0m-34 29h0m-40 5h0m149 -53h0m-70 25h0m-20 14h0" stroke="#22e8e8" stroke-opacity="0.6" stroke-width="2"/><path d="M1871 1625h0m-33 11h0m10 4h0m-177 67h0m65 -34h0m-1 9h0m71 -35h0m64 -29h0m-165 73h0m13 1h0m61 -31h0m19 -7h0m-106 36h0m-19 22h0m57 -22h0m2 -7h0m-62 17h0m39 -9h0m-33 16h0m50 -34h0m31 5h0m-54 -1h0m52 -2h0m30 -22h0m-33 23h0m40 -25h0m74 -30h0m-179 70h0m107 -33h0m-40 14h0m109 -47h0m-202 79h0m109 -39h0m-111 35h0m0 3h0m191 -64h0m-76 16h0m58 -15h0m-55 27h0m-95 27h0m98 -29h0m-110 39h0m-4 8h0m24 -17h0m6 7h0" stroke="#22e8e8" stroke-opacity="0.6" stroke-width="3"/><path d="M1866 1636h0m-78 21h0m-109 40h0m101 -55h0m51 8h0m-150 60h0m93 -53h0m101 -34h0m-35 19h0m16 -8h0m-192 71h0m16 -3h0m63 -23h0m-62 15h0m197 -66h0m-109 47h0m104 -51h0m-65 24h0m-125 57h0m170 -85h0m-183 96h0m26 -17h0m117 -56h0m-99 56h0m161 -73h0m-89 36h0m37 -12h0m-126 46h0m-40 7h0m14 5h0m149 -64h0m-99 43h0m148 -56h0m-22 3h0m-164 67h0m166 -67h0m-30 22h0m-48 6h0m-73 37h0m35 -12h0m-36 12h0m168 -81h0m-163 83h0m2 -8h0m63 -25h0m-60 29h0m16 -12h0m33 -19h0m-72 24h0m-28 8h0m206 -73h0m-36 24h0m-166 42h0m123 -21h0m27 -21h0m-98 34h0m148 -63h0" stroke="#22e8e8" stroke-opacity="0.6" stroke-width="3"/><path d="M1695 1702h0m8 -12h0m34 -10h0m22 -3h0m76 -34h0m-65 18h0m73 -23h0m-171 77h0m85 -34h0m46 -35h0m-53 42h0m-23 0h0m-25 2h0m-35 21h0m-10 10h0m47 -41h0m54 -11h0m100 -35h0m-96 25h0m-111 47h0m9 1h0m128 -50h0m68 -31h0m-65 43h0m-109 36h0m183 -70h0m-97 25h0m-3 13h0m87 -36h0m-11 1h0m-23 -6h0m-108 56h0m102 -42h0m8 3h0m-110 40h0m30 -9h0" stroke="#22e8e8" stroke-opacity="0.6" stroke-width="3"/><path d="M1647 1712h0m218 -84h0m-130 44h0m47 -6h0m13 -9h0m-89 49h0m22 -13h0m139 -74h0m-149 70h0m17 -18h0m11 6h0m99 -45h0m-25 21h0m-140 43h0m32 -3h0m-33 8h0m145 -58h0m-153 56h0m147 -43h0m-131 46h0m158 -72h0m-179 76h0m146 -61h0m-13 19h0m-94 38h0m-16 16h0m106 -65h0m-14 7h0m26 -20h0m5 9h0m-60 26h0m-7 -1h0" stroke="#22e8e8" stroke-opacity="0.6" stroke-width="4"/><path d="M1771 1675h0m46 -18h0m-40 -11h0m-106 65h0m192 -87h0m-16 24h0m-109 29h0m-21 7h0m53 -19h0m-1 -5h0m-5 5h0m-1 1h0m60 -32h0m-94 53h0m10 -23h0m132 -41h0m-105 46h0m-52 20h0m135 -60h0m-32 14h0m-89 43h0m-34 11h0m116 -42h0m-144 45h0m45 12h0m86 -51h0m56 -21h0m-184 69h0m165 -74h0m-118 65h0m99 -52h0" stroke="#22e8e8" stroke-opacity="0.6" stroke-width="4"/><path d="M1671 1691h0m180 -55h0m-101 38h0m-2 -4h0m122 -47h0m-198 86h0m175 -79h0m-175 73h0m-11 6h0m143 -45h0m-76 16h0m137 -46h0m-195 73h0m80 -39h0m83 -25h0m4 0h0m1 -11h0m-36 15h0m-146 57h0m113 -36h0m77 -31h0m-20 -1h0m-38 22h0m-43 19h0" stroke="#22e8e8" stroke-opacity="0.6" stroke-width="4"/><path d="M1851 1627h0m-9 4h0m25 -1h0m-12 -1h0m7 3h0" stroke="#22e8e8" stroke-opacity="0.7" stroke-width="2"/><path d="M1853 1634h0m5 0h0m-31 -4h0m21 9h0m9 -7h0" stroke="#22e8e8" stroke-opacity="0.7" stroke-width="2"/><path d="M1857 1634h0m-14 -8h0m27 0h0m-1 2h0" stroke="#22e8e8" stroke-opacity="0.7" stroke-width="2"/><path d="M1842 1633h0m21 2h0m-11 -9h0m10 6h0m-11 -5h0m19 0h0m-15 -9h0m-9 18h0m10 -2h0m-3 1h0m-13 -6h0m30 0h0m-17 1h0m3 -6h0m-5 1h0m18 9h0m-12 -5h0" stroke="#22e8e8" stroke-opacity="0.7" stroke-width="3"/><path d="M1873 1628h0m-16 -6h0m5 13h0m2 -7h0m8 -3h0m-14 -3h0m-2 6h0m-2 0h0m10 2h0" stroke="#22e8e8" stroke-opacity="0.7" stroke-width="3"/><path d="M1861 1637h0m8 -9h0m-31 3h0m20 3h0m22 -12h0m-35 10h0m4 -8h0m-3 13h0m9 -4h0m-6 -7h0m21 -1h0m1 -1h0m-17 8h0m-6 -4h0m15 -1h0m-19 2h0m10 -1h0" stroke="#22e8e8" stroke-opacity="0.7" stroke-width="3"/><path d="M1856 1633h0m-11 -3h0m30 -5h0m4 1h0m-30 5h0m14 2h0m-14 -8h0m-12 -3h0m22 10h0m13 -4h0" stroke="#22e8e8" stroke-opacity="0.7" stroke-width="4"/><path d="M1868 1630h0m-5 1h0m-14 -13h0m14 15h0m7 -6h0" stroke="#22e8e8" stroke-opacity="0.7" stroke-width="4"/><path d="M1881 1627h0m-12 11h0m-11 -12h0m-5 -7h0m13 3h0m-10 4h0" stroke="#22e8e8" stroke-opacity="0.7" stroke-width="4"/><path d="M441 2093h0m-88 -23h0m74 15h0m-53 32h0m-22 -23h0m9 3h0m-18 4h0m-22 -22h0m12 13h0m118 -31h0m-126 40h0" stroke="#22ee22" stroke-opacity="0.45" stroke-width="2"/><path d="M376 2074h0m16 26h0m18 -44h0m-44 24h0m60 -4h0m-163 26h0m153 -5h0m-17 -10h0m-20 14h0m11 -13h0m-7 -7h0" stroke="#22ee22" stroke-opacity="0.45" stroke-width="2"/><path d="M409 2090h0m-37 -7h0m45 7h0m-2 15h0m-70 -15h0m34 0h0m-111 17h0" stroke="#22ee22" stroke-opacity="0.45" stroke-width="2"/><path d="M320 2091h0m191 5h0m-171 -19h0m64 25h0m-25 -14h0m72 -30h0m-82 32h0m-16 -5h0m74 10h0m-62 -14h0m10 7h0m11 7h0m-38 8h0m47 -12h0m-49 19h0m35 -4h0m71 -23h0m-94 36h0m88 -10h0" stroke="#22ee22" stroke-opacity="0.45" stroke-width="3"/><path d="M287 2088h0m126 5h0m60 10h0m-79 4h0m-1 -21h0m-75 5h0m77 1h0m37 -24h0m-23 26h0m42 -19h0m-92 28h0m45 -19h0m-52 10h0m15 -21h0m-15 23h0m62 7h0m-6 -34h0m-62 23h0m23 -2h0m56 6h0m6 -8h0m-66 -20h0m104 16h0m-90 -16h0m99 37h0m-97 -9h0" stroke="#22ee22" stroke-opacity="0.45" stroke-width="3"/><path d="M413 2085h0m-64 9h0m42 20h0m112 -19h0m-101 -14h0m10 13h0m-9 -8h0m-53 4h0m-28 11h0m79 -21h0m-26 20h0m16 -5h0m102 -22h0m-112 2h0m-64 -2h0m51 22h0m49 -12h0m-38 4h0" stroke="#22ee22" stroke-opacity="0.45" stroke-width="3"/><path d="M311 2097h0m72 -8h0m44 -4h0m-35 -20h0m-33 33h0m92 -23h0m-19 -10h0m26 30h0m-26 13h0m-54 -4h0" stroke="#22ee22" stroke-opacity="0.45" stroke-width="4"/><path d="M411 2064h0m-67 4h0m75 16h0m-77 8h0m72 -9h0m64 -6h0m-119 -10h0m34 11h0m27 22h0m51 -15h0m45 -16h0m-53 20h0m-79 11h0m52 -13h0m-63 -8h0" stroke="#22ee22" stroke-opacity="0.45" stroke-width="4"/><path d="M376 2097h0m18 -10h0m34 -6h0m-97 2h0m72 -8h0m-93 12h0m74 13h0m48 -14h0m-2 1h0m-57 13h0m49 -6h0m24 1h0m-81 -11h0" stroke="#22ee22" stroke-opacity="0.45" stroke-width="4"/><path d="M252 1920h0m-3 99h0m69 -55h0m-81 -32h0m37 51h0" stroke="#22ee22" stroke-opacity="0.5" stroke-width="2"/><path d="M275 1922h0m2 60h0m-26 -119h0m36 26h0m-8 0h0m-36 32h0m9 -37h0m18 126h0" stroke="#22ee22" stroke-opacity="0.5" stroke-width="2"/><path d="M231 1863h0m56 45h0m-38 59h0m22 0h0m8 -100h0m50 -5h0" stroke="#22ee22" stroke-opacity="0.5" stroke-width="2"/><path d="M278 1905h0m0 -20h0m-49 63h0m77 24h0m-75 44h0m45 -38h0m-3 -96h0m2 86h0m-22 7h0m31 -86h0" stroke="#22ee22" stroke-opacity="0.5" stroke-width="3"/><path d="M303 1988h0m-35 64h0m-12 -125h0m-21 -16h0m53 71h0m-35 -79h0m38 28h0m-30 -106h0m-29 204h0m23 -158h0m17 27h0m36 -40h0m-69 46h0m55 -10h0m-51 38h0m-2 -26h0m5 -70h0m50 2h0m-33 112h0m14 -46h0" stroke="#22ee22" stroke-opacity="0.5" stroke-width="3"/><path d="M263 1993h0m-30 -69h0m34 -49h0m-3 142h0m-9 -161h0m-9 46h0m47 25h0m-23 -29h0m52 34h0m-53 -37h0m5 105h0m-24 2h0m35 -98h0m-67 -41h0m47 55h0m20 -30h0m-11 5h0m-63 28h0m62 -50h0m-21 33h0" stroke="#22ee22" stroke-opacity="0.5" stroke-width="3"/><path d="M300 1932h0m8 29h0m-111 -43h0m60 43h0m-2 -63h0" stroke="#22ee22" stroke-opacity="0.5" stroke-width="4"/><path d="M280 1977h0m-18 -107h0m-4 25h0m-16 -67h0m63 31h0m7 93h0m-63 -7h0m14 38h0m20 -139h0" stroke="#22ee22" stroke-opacity="0.5" stroke-width="4"/><path d="M301 1945h0m-25 -32h0m-3 -113h0m-39 51h0m27 101h0m25 -22h0m-4 15h0m0 -48h0" stroke="#22ee22" stroke-opacity="0.5" stroke-width="4"/><path d="M260 2092h0m30 -16h0m-97 -44h0m28 15h0m57 9h0m-28 30h0m69 -44h0m-77 12h0m49 43h0m-13 -68h0m-84 9h0m-13 10h0m73 -3h0m15 12h0m28 -4h0m-9 -38h0m-104 29h0m29 25h0m120 -25h0m-78 -17h0m1237 -298h0m-6 -58h0m7 70h0m181 2h0m-164 -17h0m105 -35h0m-116 12h0m130 1h0m-55 45h0m-53 -21h0m136 -34h0m-167 48h0m135 -44h0m-134 61h0m-50 -49h0m103 44h0m184 -49h0" stroke="#22ee22" stroke-opacity="0.55" stroke-width="2"/><path d="M159 2076h0m171 30h0m-122 -60h0m85 34h0m-159 -44h0m97 35h0m13 -34h0m32 5h0m-16 -18h0m-71 27h0m120 10h0m-81 -21h0m36 -4h0m2 -2h0m1298 -293h0m-90 2h0m-31 -8h0m141 -5h0m-171 -28h0m56 19h0m100 -7h0m-124 -9h0m285 -13h0m-164 16h0m194 -1h0m-323 -7h0m106 5h0m-74 -6h0m-14 24h0m101 5h0m57 -7h0" stroke="#22ee22" stroke-opacity="0.55" stroke-width="2"/><path d="M212 2040h0m62 3h0m-84 37h0m104 3h0m47 -34h0m-21 29h0m-33 -30h0m-78 -7h0m70 34h0m45 22h0m-90 -3h0m94 -31h0m-122 -30h0m26 46h0m-22 -19h0m-13 -36h0m51 30h0m22 4h0m-63 -8h0m-27 -21h0m49 36h0m-39 -6h0m38 -35h0m104 44h0m-52 -14h0m1450 -331h0m-290 -3h0m60 -9h0m199 -36h0m-224 26h0m20 -2h0m17 28h0m225 0h0m-302 -3h0m-1 5h0m57 6h0m129 -53h0m-168 57h0m101 -38h0m-48 -9h0m70 6h0" stroke="#22ee22" stroke-opacity="0.55" stroke-width="2"/><path d="M207 2063h0m27 5h0m-3 32h0m-6 -54h0m37 14h0m12 -6h0m-47 14h0m143 -32h0m-94 20h0m-25 26h0m-44 -59h0m82 53h0m-1 8h0m-21 -10h0m-51 23h0m-9 -54h0m165 4h0m-144 0h0m-24 7h0m22 23h0m-37 -22h0m72 5h0m33 -11h0m-26 24h0m-95 7h0m144 -37h0m-30 13h0m-53 -1h0m16 -6h0m-25 43h0m50 -19h0m5 -6h0m-54 -21h0m-27 46h0m83 -27h0m-50 -11h0m36 -11h0m-37 6h0m28 25h0m-47 -31h0m45 3h0m80 47h0m-6 22h0m-71 -45h0m-88 -43h0m179 41h0m-96 4h0m2 -38h0m30 45h0m-27 -56h0m-79 -2h0m62 54h0m64 -63h0m-51 37h0m-17 -4h0m4 -16h0m32 -10h0m-46 -2h0m58 39h0m-79 14h0m1430 -346h0m-234 -42h0m197 0h0m76 44h0m63 -31h0m-223 25h0m-33 -26h0m153 4h0m-72 -2h0m-51 22h0m20 20h0m7 -41h0m-61 24h0m259 -4h0m-276 14h0m84 -24h0m38 17h0m-134 -11h0m86 -6h0m-1 -30h0m-38 17h0m7 -2h0m188 -10h0m-183 43h0m101 -1h0m-145 -58h0m40 58h0m1 -33h0m33 -28h0m-31 47h0m45 -4h0m-9 -31h0m-111 10h0" stroke="#22ee22" stroke-opacity="0.55" stroke-width="3"/><path d="M265 2053h0m-40 -14h0m-2 27h0m-2 3h0m22 17h0m-19 -25h0m-22 -6h0m59 22h0m4 9h0m17 -24h0m-19 -20h0m-20 0h0m7 21h0m74 -8h0m-101 39h0m-6 -32h0m37 13h0m-79 -35h0m91 31h0m20 2h0m34 -19h0m-105 -13h0m-5 28h0m111 -5h0m-82 34h0m31 -3h0m-24 -65h0m27 47h0m55 -39h0m-54 42h0m19 -25h0m-106 -24h0m42 20h0m53 -11h0m20 -10h0m-38 42h0m86 -41h0m-84 33h0m10 3h0m-74 33h0m60 -42h0m-32 -51h0m24 76h0m-8 -28h0m-35 -6h0m28 11h0m104 -9h0m-141 11h0m84 13h0m-54 -53h0m-99 28h0m41 2h0m17 22h0m53 -41h0m-27 68h0m-14 -64h0m32 17h0m-18 47h0m1416 -331h0m-40 -58h0m21 -5h0m-218 15h0m134 -13h0m96 21h0m-112 13h0m0 14h0m-56 -54h0m179 4h0m-17 8h0m-129 16h0m-22 -33h0m31 -7h0m42 39h0m-13 -5h0m180 -30h0m-291 38h0m239 -3h0m-113 -18h0m-7 -35h0m-1 42h0m119 -28h0m-160 28h0m23 -36h0m138 25h0m-89 -11h0m-39 21h0m197 -11h0m-269 22h0m73 -28h0m132 -35h0m-200 8h0m122 54h0m24 -63h0m33 27h0m-130 36h0" stroke="#22ee22" stroke-opacity="0.55" stroke-width="3"/><path d="M274 2031h0m-69 66h0m-83 -26h0m151 -52h0m-29 53h0m155 -7h0m-144 -7h0m23 7h0m-123 -8h0m104 13h0m-13 3h0m-44 -14h0m-3 -17h0m69 -8h0m67 29h0m30 9h0m-18 26h0m-25 -46h0m-63 -19h0m23 44h0m-111 -24h0m5 29h0m72 -20h0m65 11h0m-68 -26h0m39 -18h0m-142 26h0m-9 15h0m192 -15h0m-25 -14h0m-57 45h0m-55 -53h0m146 15h0m-220 -15h0m144 58h0m10 -61h0m4 7h0m-72 28h0m-36 -5h0m17 -31h0m85 41h0m-52 -15h0m86 -21h0m-105 9h0m97 -6h0m-87 3h0m-43 29h0m39 4h0m1211 -339h0m86 -9h0m168 -31h0m-9 20h0m-91 -10h0m20 -7h0m-14 5h0m-151 -23h0m152 48h0m93 -25h0m64 3h0m-194 19h0m-198 -37h0m383 71h0m-216 -103h0m16 41h0m-31 32h0m38 -14h0m54 39h0m40 -49h0m178 5h0m-224 -6h0m59 -16h0m37 7h0m-227 53h0m136 -21h0m-173 -27h0m-21 20h0m87 -8h0m69 20h0m-66 -36h0m208 -11h0m-191 58h0m124 -74h0m73 56h0m-88 -46h0m-119 26h0m96 50h0m25 -48h0m17 38h0m-185 -7h0" stroke="#22ee22" stroke-opacity="0.55" stroke-width="3"/><path d="M272 2056h0m-97 -2h0m40 -28h0m38 24h0m66 -14h0m-90 42h0m40 -57h0m102 68h0m-46 -22h0m-20 -17h0m-105 -16h0m9 54h0m76 -40h0m-73 11h0m-20 -32h0m100 29h0m-100 5h0m123 -33h0m-188 30h0m-12 -2h0m179 13h0m-70 2h0m76 -22h0m-105 4h0m25 8h0m111 7h0m-120 13h0m75 -12h0m-18 -3h0m33 8h0m-71 12h0m115 -4h0m-69 -23h0m35 5h0m-69 -23h0m-4 -4h0m-19 29h0m89 -34h0m-14 22h0m-7 -2h0m-75 -23h0m57 11h0m-3 51h0m-3 -22h0m-5 -15h0m3 -16h0m-49 55h0m130 1h0m-38 -20h0m-106 -27h0m68 13h0m21 7h0m-113 6h0m33 -3h0m58 -46h0m36 68h0m-162 -49h0m42 50h0m1365 -343h0m146 -26h0m-169 7h0m131 -12h0m-13 37h0m-305 -30h0m20 -50h0m205 22h0m104 17h0m-65 -3h0m-91 -11h0m177 13h0m-167 -25h0m-40 2h0m90 -13h0m-8 26h0m40 -19h0m-12 25h0m7 18h0m-83 14h0m180 -8h0m-310 -12h0m182 -27h0m157 -33h0m-122 16h0m-27 33h0m-89 22h0m-54 -26h0m87 10h0m81 -7h0m-26 -26h0m-66 41h0m-27 -36h0" stroke="#22ee22" stroke-opacity="0.55" stroke-width="4"/><path d="M222 2064h0m67 12h0m-96 16h0m12 -17h0m1 -35h0m69 -18h0m78 30h0m-169 23h0m90 -3h0m59 -23h0m-98 -21h0m37 76h0m-65 -35h0m78 -1h0m-29 18h0m44 -8h0m-83 -17h0m23 39h0m17 -59h0m-1 -14h0m43 29h0m11 39h0m-89 -59h0m0 44h0m42 -49h0m-8 18h0m-22 7h0m30 42h0m31 -66h0m-30 -8h0m91 48h0m-125 -24h0m60 12h0m14 -23h0m-81 25h0m95 1h0m-55 23h0m8 -56h0m84 10h0m-83 27h0m2 -11h0m-19 30h0m27 -14h0m-134 -38h0m-8 25h0m163 -7h0m-13 3h0m-48 22h0m22 -2h0m99 -40h0m-37 3h0m-98 23h0m27 -26h0m70 31h0m11 -54h0m-120 11h0m26 8h0m108 15h0m-163 15h0m65 -14h0m-69 25h0m8 -10h0m-17 -15h0m26 59h0m84 -19h0m1242 -400h0m-121 9h0m44 -23h0m55 51h0m22 -16h0m19 -27h0m15 66h0m-23 -43h0m56 -9h0m-75 -2h0m116 -24h0m-99 29h0m-89 11h0m84 -6h0m161 -44h0m-248 66h0m-29 -8h0m184 -20h0m-144 21h0m168 1h0m-121 6h0m96 -9h0m-2 -15h0m-139 33h0m31 -43h0m42 35h0m40 7h0m129 -4h0m-220 -51h0m58 75h0m-23 -27h0m66 -1h0m87 -6h0m-246 -34h0m303 51h0m-121 -13h0m-85 -15h0m-86 -37h0m-28 -18h0m80 96h0m-53 22h0" stroke="#22ee22" stroke-opacity="0.55" stroke-width="4"/><path d="M240 2084h0m-57 10h0m138 -72h0m-81 31h0m38 -18h0m29 -7h0m-75 36h0m53 -13h0m-53 18h0m33 43h0m-97 -48h0m79 -42h0m54 25h0m-64 2h0m74 -1h0m-64 8h0m-14 17h0m22 -17h0m-8 -28h0m44 7h0m-5 45h0m-60 29h0m92 -36h0m56 0h0m-134 -42h0m-44 33h0m46 -4h0m70 -29h0m-75 -6h0m40 50h0m3 -44h0m-98 16h0m5 8h0m94 -13h0m46 -6h0m13 0h0m-32 25h0m-62 13h0m-88 -44h0m97 39h0m25 -6h0m-32 -2h0m71 26h0m-70 -68h0m146 79h0m-239 -39h0m80 5h0m-21 -16h0m50 -24h0m5 48h0m1214 -335h0m283 -39h0m-207 28h0m-93 26h0m98 -41h0m71 21h0m13 -37h0m-107 41h0m215 -48h0m-79 33h0m41 -11h0m-79 22h0m-115 -17h0m-95 17h0m78 -16h0m10 9h0m-158 -1h0m304 10h0m158 -20h0m-229 -6h0m-14 -2h0m-71 -16h0m94 33h0m132 -11h0m-24 -17h0m-342 23h0m-28 8h0m255 42h0m-97 -93h0m116 67h0m-35 -43h0m-84 1h0m56 0h0m3 59h0m72 -47h0m-15 -15h0m-129 -10h0m198 29h0m-88 -10h0m-29 41h0" stroke="#22ee22" stroke-opacity="0.55" stroke-width="4"/><path d="M220 2097h0m-12 -17h0m-39 -56h0m93 61h0m-18 -33h0m-49 -21h0m58 14h0m-21 32h0m1307 -359h0m77 -2h0m-94 34h0" stroke="#22ee22" stroke-opacity="0.55" stroke-width="5"/><path d="M351 2068h0m-9 1h0m20 -21h0m1196 -330h0" stroke="#22ee22" stroke-opacity="0.55" stroke-width="5"/><path d="M284 2039h0m2 27h0m-65 -9h0m130 -13h0m-82 6h0m9 -6h0m-64 24h0m1337 -345h0m-2 -38h0m1 40h0m-147 3h0m253 14h0m-144 -42h0m23 3h0" stroke="#22ee22" stroke-opacity="0.55" stroke-width="5"/><path d="M251 2065h0m-21 -10h0m-21 34h0m15 -11h0m-9 -6h0m-8 6h0m29 -25h0" stroke="#22ee22" stroke-opacity="0.65" stroke-width="2"/><path d="M206 2046h0m-3 14h0m51 -8h0m-32 25h0" stroke="#22ee22" stroke-opacity="0.65" stroke-width="2"/><path d="M237 2081h0m9 7h0" stroke="#22ee22" stroke-opacity="0.65" stroke-width="2"/><path d="M252 2098h0m-22 6h0m-2 -25h0m-42 13h0m93 -28h0m-53 10h0m-23 0h0m-18 -5h0m39 42h0m10 -49h0m-18 -2h0m14 17h0m-10 -21h0m11 3h0m-37 -4h0m20 37h0m-1 -9h0m-23 12h0m23 -14h0m25 2h0m-1 4h0m3 8h0m-50 -27h0m51 22h0m-38 -12h0m56 -18h0m-13 31h0m-15 -27h0m2 9h0m-26 0h0m14 9h0m5 -26h0m11 26h0m-8 -20h0m-21 13h0m28 -21h0m31 35h0m-24 -20h0m-13 -9h0m-10 39h0m22 -25h0m-11 2h0m-2 3h0m3 -12h0m-16 1h0m10 -20h0m-2 24h0m-9 -3h0m5 -6h0m0 15h0m7 -10h0m6 -5h0m-19 6h0m2 -13h0m-10 21h0m-9 24h0m18 -21h0m30 -2h0m-15 -14h0m2 -14h0m0 30h0m6 17h0m-13 -46h0m-23 -7h0m-8 24h0m58 12h0m-21 -18h0m-46 22h0m21 -9h0m43 8h0m-23 -22h0m25 24h0m-16 -9h0m9 -7h0m2 27h0m-18 -47h0m2 17h0m4 32h0m-45 -32h0m70 -10h0" stroke="#22ee22" stroke-opacity="0.65" stroke-width="3"/><path d="M226 2112h0m2 -33h0m15 -35h0m-41 44h0m52 -6h0m-8 -16h0m-36 11h0m27 8h0m-13 1h0m-12 -23h0m16 15h0m-12 -22h0m27 49h0m-7 -12h0m-32 -12h0m29 -9h0m-18 -27h0m17 26h0m11 -5h0m-45 9h0m40 -15h0m1 -2h0m-37 -6h0m7 1h0m25 14h0m25 -5h0m-19 -6h0m-58 -7h0m75 31h0m-7 3h0m-40 -9h0m70 25h0m-62 -24h0m-18 -16h0m26 14h0m-1 -1h0m22 48h0m-24 -50h0m-20 7h0m54 -26h0m-2 2h0m-45 -11h0m17 14h0m-38 21h0m28 -13h0m-4 -23h0m43 -2h0m-17 41h0m15 13h0m-10 -38h0m-16 37h0m9 -27h0m-37 17h0m13 5h0m40 -7h0m-9 -9h0m-12 45h0m-44 -45h0m-3 -3h0m74 -14h0m4 5h0m-12 28h0m-20 -4h0m-21 4h0m25 -4h0m-54 -22h0m30 13h0m-4 -5h0m36 -4h0m4 9h0m-27 6h0m-21 -33h0m41 37h0m-36 -31h0m36 19h0m-27 -5h0m8 4h0m45 -13h0m-42 8h0m14 -20h0m-21 43h0m-25 -35h0m45 11h0m-24 -28h0m57 51h0m-82 -32h0m39 20h0m-1 5h0m2 -19h0m-3 14h0m-30 -11h0m20 27h0m45 1h0m-28 -15h0m-24 -11h0m12 2h0m-31 40h0m57 -45h0m-29 -15h0m27 38h0m-25 -30h0" stroke="#22ee22" stroke-opacity="0.65" stroke-width="3"/><path d="M214 2076h0m-17 13h0m14 -23h0m52 -9h0m-26 4h0m-4 22h0m34 -11h0m-48 -8h0m13 16h0m-27 -13h0m43 -26h0m-27 27h0m0 6h0m20 3h0m-43 -22h0m44 -6h0m-3 9h0m28 8h0m-48 25h0m-5 -15h0m-19 5h0m25 -31h0m10 25h0m-27 -20h0m3 56h0m43 -59h0m-46 -17h0m-9 2h0m28 20h0m23 13h0m-19 1h0m4 5h0m4 -8h0m-23 -9h0m27 30h0m-45 -47h0m-14 45h0m46 -13h0m-11 -1h0m-4 -21h0m31 26h0m-7 -29h0m-27 22h0m46 14h0m-11 -10h0m-31 16h0m19 -13h0m15 -23h0m-21 21h0m-46 23h0m39 -14h0m5 -9h0m23 -13h0m-17 23h0m13 8h0m-11 -18h0m18 6h0m-7 -17h0m-54 -14h0m26 19h0m53 24h0m-11 -38h0m-30 6h0m31 15h0m-52 -10h0m40 37h0m-9 -43h0m31 6h0m-17 28h0m-37 -28h0m29 -20h0m-44 35h0m32 22h0m5 -24h0m14 -6h0m4 6h0m-11 4h0m3 -10h0m-14 -5h0m4 -5h0m-17 10h0m28 1h0m-36 -7h0m-4 3h0m19 -20h0m16 37h0m-50 -2h0" stroke="#22ee22" stroke-opacity="0.65" stroke-width="3"/><path d="M221 2061h0m13 5h0m-12 31h0m-2 0h0m21 -20h0m-16 3h0m14 6h0m-26 -34h0m-27 12h0m51 10h0m-5 -3h0m7 -13h0m-19 30h0m-24 11h0m49 -3h0m-19 -31h0m-4 5h0m-32 -21h0m-2 38h0m61 7h0m-30 -20h0m36 13h0m-28 -25h0m28 25h0m-32 4h0m-18 6h0m18 -21h0m-18 -10h0m8 -2h0m2 31h0m-19 -17h0m40 6h0m-17 -8h0m-5 31h0m-10 -37h0m19 1h0m28 -24h0m-62 38h0m53 -4h0m-49 -8h0m52 -36h0m-39 84h0m14 -54h0m-39 0h0m32 13h0m16 -10h0m-5 -6h0m24 -3h0m-15 16h0m-15 -4h0m11 25h0m14 -27h0m-40 22h0m24 -41h0m-2 35h0m4 -22h0m-49 5h0m-8 15h0m55 -17h0m4 8h0m19 -13h0m-43 27h0m27 -21h0m-18 -2h0m3 34h0m6 -33h0m-9 9h0m17 12h0m-2 -27h0m16 17h0m-17 -4h0m5 -2h0m-50 0h0m46 15h0m8 -22h0m-52 21h0m48 -16h0m-10 -4h0m29 -16h0m-7 44h0m-13 -7h0m-2 4h0m9 -1h0m-10 -18h0m-15 11h0m22 -24h0m-53 28h0m66 -41h0m-33 2h0m5 38h0m6 -17h0m-32 19h0m36 -8h0m12 -5h0m8 3h0m-27 -19h0m23 -31h0m-15 58h0m-14 -24h0" stroke="#22ee22" stroke-opacity="0.65" stroke-width="4"/><path d="M201 2078h0m42 -4h0m-18 -12h0m24 3h0m33 -16h0m-39 29h0m-17 1h0m32 13h0m-55 -27h0m36 20h0m-6 -41h0m18 42h0m-27 -9h0m-16 14h0m24 12h0m7 -34h0m-9 16h0m5 6h0m-19 -4h0m-16 7h0m28 12h0m22 -31h0m-38 6h0m17 -14h0m-3 5h0m27 3h0m-37 1h0m-27 -3h0m28 11h0m15 -20h0m-28 -15h0m16 0h0m17 34h0m-3 -18h0m-12 12h0m-7 -3h0m10 -5h0m-17 46h0m25 -29h0m1 -7h0m-7 -24h0m-4 22h0m14 -10h0m-26 1h0m40 1h0m-29 -6h0m-14 7h0m23 35h0m1 -47h0m-7 8h0m22 18h0m2 1h0m-24 -18h0m4 -19h0m-22 31h0m33 -25h0m-17 5h0m-39 -5h0m52 18h0m-15 -20h0m24 45h0m38 0h0m-46 -34h0m-14 25h0m27 -5h0m-33 -7h0m2 -3h0m-7 -1h0m7 30h0m-29 -37h0m40 24h0m-22 -15h0m62 -19h0" stroke="#22ee22" stroke-opacity="0.65" stroke-width="4"/><path d="M275 2060h0m-21 3h0m-8 -9h0m-32 28h0m10 -23h0m11 20h0m-4 14h0m1 -16h0m-12 9h0m2 -33h0m-8 24h0m8 2h0m1 14h0m0 0h0m53 -7h0m-56 -10h0m-21 -3h0m-4 -17h0m68 25h0m-18 2h0m-24 -19h0m-8 43h0m10 -31h0m-11 -15h0m32 -20h0m-13 -1h0m-1 36h0m-7 39h0m2 -52h0m-11 24h0m44 0h0m-73 -21h0m47 -1h0m-13 4h0m20 -3h0m4 17h0m-31 -14h0m-5 -2h0m56 3h0m-50 -23h0m47 26h0m-79 6h0m51 -1h0m15 -9h0m-53 -3h0m28 -8h0m33 -5h0m-30 24h0m-17 -13h0m32 22h0m-4 -25h0m-82 -8h0m70 25h0m4 11h0m-10 -18h0m-27 2h0m20 3h0m29 -13h0m0 4h0m1 16h0m-9 -4h0m-5 -6h0m-48 0h0m56 17h0m12 -10h0m-14 6h0m34 -20h0m-87 13h0m39 -3h0m-21 -12h0m11 1h0m-44 -4h0m84 27h0m-5 -22h0m-24 12h0m31 2h0m-38 -2h0m18 -9h0m-2 -6h0m-32 -17h0m33 45h0m1 -34h0m-25 24h0m19 23h0m9 -31h0m5 31h0m-44 -35h0m25 16h0m-1 -8h0m22 -10h0m-8 -11h0m-33 26h0" stroke="#22ee22" stroke-opacity="0.65" stroke-width="4"/><path d="M204 2076h0m25 -17h0m4 34h0m-8 11h0m-19 -44h0m3 6h0m31 -7h0m-11 1h0m9 34h0m6 -30h0" stroke="#22ee22" stroke-opacity="0.65" stroke-width="5"/><path d="M225 2059h0m18 17h0m0 -23h0m-9 18h0m-17 -31h0m28 40h0m-17 6h0m11 -7h0m-6 5h0m29 -23h0m-46 26h0m29 5h0m-31 -25h0m72 3h0m-70 -12h0" stroke="#22ee22" stroke-opacity="0.65" stroke-width="5"/><path d="M226 2061h0m1 6h0m-11 1h0m-31 -2h0m6 26h0m21 -25h0m20 25h0m16 -3h0m-13 -47h0m-30 20h0m36 23h0m-17 1h0m40 -12h0m-51 -10h0m26 11h0" stroke="#22ee22" stroke-opacity="0.65" stroke-width="5"/><path d="M1456 1733h0m8 4h0m4 -21h0" stroke="#22ee22" stroke-opacity="0.7" stroke-width="2"/><path d="M1481 1717h0m-13 4h0" stroke="#22ee22" stroke-opacity="0.7" stroke-width="2"/><path d="M1465 1728h0" stroke="#22ee22" stroke-opacity="0.7" stroke-width="2"/><path d="M1467 1731h0m-5 4h0m6 3h0m5 -26h0m-5 13h0m-11 15h0" stroke="#22ee22" stroke-opacity="0.7" stroke-width="3"/><path d="M1455 1753h0m22 -8h0m-23 -15h0m28 7h0m-2 -7h0m-13 6h0m-10 -3h0m-3 -3h0m-4 14h0m15 7h0" stroke="#22ee22" stroke-opacity="0.7" stroke-width="3"/><path d="M1469 1738h0m-4 -16h0m6 7h0m-18 16h0m19 -12h0m-2 -11h0m-19 3h0" stroke="#22ee22" stroke-opacity="0.7" stroke-width="3"/><path d="M1468 1722h0m-12 -1h0m10 21h0m-2 -13h0m-5 21h0m-18 -11h0m36 -17h0" stroke="#22ee22" stroke-opacity="0.7" stroke-width="4"/><path d="M1461 1746h0m0 -36h0m6 10h0m-20 11h0m19 -7h0m-16 -3h0m0 12h0m5 3h0" stroke="#22ee22" stroke-opacity="0.7" stroke-width="4"/><path d="M1482 1741h0m-17 0h0m-17 -17h0m27 16h0m-9 -10h0" stroke="#22ee22" stroke-opacity="0.7" stroke-width="4"/><path d="M1450 1733h0" stroke="#22ee22" stroke-opacity="0.7" stroke-width="5"/><path d="M1464 1719h0" stroke="#22ee22" stroke-opacity="0.7" stroke-width="5"/><path d="M1446 1724h0" stroke="#22ee22" stroke-opacity="0.7" stroke-width="5"/><path d="M673 2064h0m-95 -43h0m41 0h0m19 8h0m0 45h0m-50 -16h0m1 -10h0m-23 -17h0" stroke="#22eeff" stroke-opacity="0.45" stroke-width="2"/><path d="M585 2032h0m77 -25h0m-44 -6h0m-39 39h0m44 -30h0m-3 4h0m4 8h0m-31 53h0" stroke="#22eeff" stroke-opacity="0.45" stroke-width="2"/><path d="M654 2025h0m-34 -2h0m10 27h0m-71 -16h0m64 -14h0m-7 6h0m135 -39h0" stroke="#22eeff" stroke-opacity="0.45" stroke-width="2"/><path d="M654 2043h0m-46 8h0m3 60h0m-5 10h0m-29 -146h0m99 105h0m-83 -44h0m-14 11h0m80 -22h0m-62 19h0m57 -11h0m-32 25h0m3 1h0m7 -5h0m27 -2h0m-10 26h0" stroke="#22eeff" stroke-opacity="0.45" stroke-width="3"/><path d="M631 2072h0m-77 14h0m46 -36h0m-58 -40h0m53 35h0m33 -16h0m-3 3h0m18 -18h0m-3 -19h0m-40 52h0m36 -47h0m-20 -11h0m-21 86h0m34 -35h0m23 -32h0m-58 11h0m-21 86h0m2 -35h0m112 -40h0m-53 17h0m30 -7h0" stroke="#22eeff" stroke-opacity="0.45" stroke-width="3"/><path d="M599 2057h0m-67 -21h0m62 -24h0m43 71h0m13 -79h0m-41 46h0m65 10h0m-38 -15h0m-11 2h0m-32 11h0m-2 10h0m-29 -25h0m68 -18h0m46 36h0m-57 67h0m-9 -101h0m-60 48h0" stroke="#22eeff" stroke-opacity="0.45" stroke-width="3"/><path d="M642 2144h0m-59 -48h0m32 0h0m9 -31h0m-18 20h0m-53 -68h0m-46 50h0m128 61h0m-45 -133h0m48 2h0m-75 72h0m73 -76h0m46 22h0m-148 23h0m39 61h0m40 -30h0" stroke="#22eeff" stroke-opacity="0.45" stroke-width="4"/><path d="M590 2046h0m4 62h0m-2 -129h0m78 75h0m-53 -43h0m-15 51h0m-27 59h0m29 -67h0m-13 22h0m-15 -55h0m32 -26h0m2 -60h0m33 118h0m-106 -20h0" stroke="#22eeff" stroke-opacity="0.45" stroke-width="4"/><path d="M648 1958h0m23 135h0m-56 -32h0m33 12h0m-15 -41h0m-68 -5h0m24 16h0m5 29h0m22 -45h0m-8 15h0" stroke="#22eeff" stroke-opacity="0.45" stroke-width="4"/><path d="M598 2112h0m-155 2h0m15 -12h0m-17 15h0m170 -10h0m-167 9h0m64 20h0m-28 1h0m91 2h0m21 -2h0m-19 13h0m-54 0h0m10 -10h0m-13 1h0m28 -19h0m75 16h0m-144 3h0m-26 -16h0m29 -9h0m46 36h0m92 -33h0m-122 4h0m-37 -9h0m-25 1h0m79 16h0m-7 5h0m114 -37h0m-125 13h0m-44 -7h0m45 25h0m35 7h0m20 1h0m38 -22h0m-17 10h0m-81 18h0m-30 -28h0" stroke="#22eeff" stroke-opacity="0.6" stroke-width="2"/><path d="M603 2140h0m1 -15h0m-46 5h0m7 -6h0m-114 -8h0m96 26h0m-1 -8h0m-106 -24h0m56 14h0m82 -4h0m38 -3h0m-81 19h0m82 -18h0m-77 26h0m63 -17h0m-87 4h0m-9 8h0m62 -15h0m-41 26h0m-94 -45h0m191 -7h0m2 14h0m-157 10h0m79 16h0m-70 -34h0m89 30h0m37 -19h0m-11 2h0m15 8h0m10 14h0m-4 -13h0m-22 26h0m6 -16h0m-110 -10h0m73 -2h0m-52 -1h0m94 18h0m-173 -34h0m52 38h0m87 -32h0" stroke="#22eeff" stroke-opacity="0.6" stroke-width="2"/><path d="M633 2084h0m4 28h0m0 -20h0m-170 32h0m-17 -15h0m162 0h0m-98 31h0m-70 -8h0m191 -6h0m-1 -45h0m-49 41h0m-110 -13h0m141 24h0m-168 -7h0m76 7h0m-29 2h0m82 1h0m-93 16h0m123 -20h0m-52 -4h0m-91 -20h0m120 36h0m-141 -28h0m155 3h0m-33 6h0m65 -30h0m-2 9h0m-155 10h0m64 30h0m-51 -23h0m-39 -33h0" stroke="#22eeff" stroke-opacity="0.6" stroke-width="2"/><path d="M444 2105h0m11 23h0m-3 -46h0m110 55h0m29 -13h0m11 -2h0m-150 -5h0m12 22h0m106 -6h0m14 -11h0m-20 14h0m-45 4h0m-37 -1h0m61 13h0m-124 -41h0m209 -6h0m-148 34h0m6 -5h0m-9 -12h0m118 -6h0m-78 41h0m-61 -41h0m-16 -5h0m197 -4h0m-129 47h0m66 -9h0m20 -11h0m-158 -46h0m21 48h0m86 -1h0m-81 -7h0m100 6h0m9 -2h0m-37 2h0m44 6h0m-90 5h0m43 -1h0m-17 -12h0m-43 2h0m36 21h0m-23 -20h0m127 -26h0m-68 22h0m-70 3h0m170 -29h0m-105 22h0m69 -16h0m-70 17h0m-71 -2h0m72 19h0m-71 -15h0m8 13h0m49 12h0m36 -26h0m36 6h0m-134 -18h0m60 25h0m-11 -9h0m-39 5h0m28 5h0m-37 -46h0m129 0h0m-149 26h0m99 2h0m92 -45h0m-94 70h0m78 -35h0m-26 -6h0m-170 -16h0m75 35h0m-28 -21h0m1 23h0m59 8h0m113 -44h0m-148 55h0m115 -34h0m-150 1h0m93 18h0m-129 -12h0m106 7h0m15 11h0m80 -18h0m2 -14h0m-65 26h0m23 0h0m6 -10h0m-87 28h0m136 -55h0m-149 25h0m-32 -6h0m79 30h0m-124 -28h0m65 24h0m37 -15h0m45 5h0m-94 -6h0m94 25h0m60 -49h0m-42 22h0m-96 8h0m-16 7h0m164 -35h0m9 7h0m-54 7h0m-107 19h0m-13 15h0m178 -73h0m-6 13h0m-206 9h0m188 -8h0m-69 55h0m27 -21h0m-58 9h0" stroke="#22eeff" stroke-opacity="0.6" stroke-width="3"/><path d="M624 2084h0m-173 25h0m100 23h0m56 0h0m-201 -17h0m223 -3h0m-109 29h0m40 -6h0m-106 -9h0m-31 -27h0m183 29h0m16 -21h0m-34 22h0m54 -33h0m-137 36h0m131 -32h0m-44 21h0m-75 11h0m83 -3h0m-140 9h0m110 -17h0m-143 -29h0m22 32h0m161 0h0m-131 1h0m42 31h0m111 -58h0m-197 12h0m157 11h0m-50 24h0m44 -5h0m-87 -15h0m-39 8h0m7 -25h0m123 11h0m-96 23h0m115 -23h0m-154 1h0m79 21h0m-79 -43h0m-30 13h0m85 37h0m80 -8h0m19 -31h0m-47 38h0m-84 -11h0m111 -1h0m-69 -4h0m-76 -1h0m144 17h0m-32 -19h0m-103 -41h0m54 58h0m138 -71h0m-154 69h0m102 -28h0m-36 19h0m49 -28h0m-107 25h0m95 9h0m-15 2h0m-73 -9h0m80 -16h0m43 -17h0m-7 7h0m-43 -3h0m-26 25h0m-10 11h0m-70 -17h0m140 -11h0m-104 29h0m85 3h0m-70 3h0m-18 -10h0m3 31h0m34 -31h0m-27 -10h0m-84 -22h0m28 29h0m89 10h0m10 -13h0m-61 13h0m68 -27h0m-106 17h0m-10 -18h0m82 31h0m74 -74h0m-84 73h0m67 -2h0m34 -30h0m-140 -2h0m54 17h0m-26 13h0m120 -21h0m-123 37h0m111 -27h0m-183 -22h0m51 25h0m96 5h0m59 -42h0m-84 37h0m5 13h0m-70 -37h0m57 36h0m-119 -36h0m149 19h0" stroke="#22eeff" stroke-opacity="0.6" stroke-width="3"/><path d="M565 2128h0m-148 -37h0m187 -5h0m-66 60h0m33 -6h0m52 -45h0m-24 6h0m-56 41h0m-58 -27h0m-52 2h0m106 22h0m-12 8h0m61 -32h0m-74 18h0m38 -6h0m14 11h0m-86 4h0m-33 -15h0m107 9h0m76 -46h0m27 -17h0m-179 48h0m2 19h0m41 -26h0m114 -39h0m-109 78h0m116 -67h0m-144 39h0m-72 -1h0m130 1h0m-61 13h0m72 -21h0m-90 27h0m55 3h0m53 -21h0m-103 -7h0m87 23h0m-85 -35h0m96 47h0m-121 -21h0m184 -26h0m-66 39h0m-92 -18h0m-51 -18h0m150 14h0m-90 9h0m-78 -30h0m68 47h0m84 -3h0m-138 -41h0m62 24h0m-46 -30h0m150 22h0m33 -26h0m-63 44h0m-55 5h0m63 -18h0m52 -8h0m-124 26h0m-61 -36h0m106 32h0m8 -10h0m29 1h0m50 -21h0m-189 5h0m155 -1h0m-65 22h0m44 -16h0m67 -30h0m-130 57h0m58 -10h0m-139 -13h0m143 18h0m-131 -21h0m94 14h0m-56 -14h0m104 1h0m-11 0h0m-76 12h0m-41 -13h0m25 13h0m26 18h0m-69 -55h0m142 38h0m22 0h0m-6 -6h0" stroke="#22eeff" stroke-opacity="0.6" stroke-width="3"/><path d="M541 2141h0m23 -16h0m80 -43h0m-206 33h0m168 3h0m-134 9h0m118 -3h0m-49 25h0m-93 -1h0m126 -20h0m64 -57h0m-6 38h0m-177 -17h0m104 42h0m-98 -16h0m167 -9h0m-64 34h0m-101 -22h0m191 -15h0m-202 8h0m187 -18h0m-225 1h0m196 22h0m-126 26h0m-50 -43h0m100 53h0m25 -16h0m4 -1h0m-143 -27h0m176 30h0m3 -28h0m-170 2h0m183 5h0m-98 27h0m108 -35h0m-117 18h0m47 -5h0m-53 32h0m-66 -34h0m201 -18h0m4 -8h0m-131 29h0m72 8h0m-98 16h0m58 2h0m-89 -25h0m158 -21h0m-38 39h0m-66 -10h0m-71 -15h0m13 19h0m131 -4h0m0 -13h0m-117 -5h0m116 21h0m-48 14h0m-46 -26h0m118 -25h0m16 30h0m-42 2h0m-65 -2h0m-39 12h0m-14 -24h0m151 -6h0m17 0h0m-154 23h0m68 -11h0m31 11h0m68 -57h0m0 11h0m-174 31h0m157 0h0m-95 1h0m-6 30h0m21 -9h0m-2 13h0m-100 -55h0m28 48h0m122 -20h0m-19 11h0m-103 -11h0m177 -25h0m-5 -15h0" stroke="#22eeff" stroke-opacity="0.6" stroke-width="4"/><path d="M439 2107h0m42 23h0m80 15h0m24 -32h0m-72 41h0m56 -11h0m-11 -14h0m-57 10h0m123 -23h0m-121 43h0m-39 -32h0m140 -8h0m20 -6h0m-103 23h0m15 4h0m-16 12h0m-77 -33h0m46 16h0m-47 -34h0m202 -8h0m-139 58h0m-43 -8h0m174 -60h0m-158 33h0m-46 -7h0m158 12h0m-21 17h0m-43 -6h0m-12 6h0m59 13h0m-34 -2h0m103 -50h0m-214 -4h0m166 12h0m-72 27h0m76 -8h0m-120 12h0m7 -6h0m-1 -13h0m70 21h0m-123 -44h0m95 50h0m84 -27h0m-87 13h0m71 -3h0m-179 -23h0m172 2h0m-82 24h0m-48 -18h0m-21 1h0m173 -29h0m5 29h0m22 -23h0m-52 53h0m-143 -28h0m16 0h0m2 13h0m50 9h0m45 4h0m30 -17h0m40 -17h0m-53 35h0m-89 -5h0m45 -5h0m-39 -8h0m12 10h0m-80 -41h0m37 27h0m139 11h0m-90 1h0m98 -15h0m16 -21h0m-163 31h0m126 2h0m-72 18h0m-25 -18h0m45 26h0m-102 -40h0m25 16h0m169 -52h0m-17 60h0m-7 -15h0m41 -27h0m-176 40h0m173 -23h0m-37 -3h0m19 6h0m-15 7h0m-135 4h0m147 -16h0m-105 34h0m-71 -43h0m4 10h0m-3 -7h0" stroke="#22eeff" stroke-opacity="0.6" stroke-width="4"/><path d="M425 2105h0m171 15h0m-13 3h0m-128 -28h0m52 24h0m49 37h0m-54 -21h0m-78 -36h0m179 20h0m32 -16h0m-204 29h0m189 -35h0m-92 31h0m-83 28h0m121 -33h0m-27 37h0m82 -50h0m10 -8h0m-151 23h0m92 7h0m-96 2h0m74 20h0m73 -51h0m-9 12h0m-127 9h0m41 20h0m-103 -34h0m89 30h0m-15 1h0m-29 -26h0m122 10h0m-134 -11h0m179 -24h0m-71 51h0m65 -32h0m-144 25h0m3 0h0m28 2h0m114 -27h0m-191 6h0m205 -23h0m-25 5h0m-145 43h0m32 2h0m34 17h0m18 -18h0m-46 5h0m52 -5h0m65 -39h0m-166 40h0m4 -30h0m163 -16h0m-25 10h0m25 0h0m-37 32h0m-120 -24h0m-51 -3h0m70 28h0m-53 -30h0m123 14h0m-110 -7h0m97 23h0m-53 -13h0m110 11h0m-155 -7h0m20 16h0m-25 -28h0m40 6h0m124 -18h0m-127 34h0m113 -30h0m-167 3h0m210 -22h0m-105 66h0m113 -58h0m-114 54h0m-25 -11h0m-56 -23h0m24 -13h0m160 -6h0m-49 33h0m-61 5h0m-48 2h0m-20 -17h0m41 23h0m39 -4h0m-21 -5h0" stroke="#22eeff" stroke-opacity="0.6" stroke-width="4"/><path d="M513 2131h0m-16 10h0m-17 -4h0m41 2h0m-38 3h0m28 3h0m23 8h0m-44 -25h0m42 15h0m-26 -4h0" stroke="#22eeff" stroke-opacity="0.65" stroke-width="2"/><path d="M494 2141h0m59 -4h0m-51 9h0m-6 -14h0m12 7h0m13 -2h0m10 1h0m17 -3h0m-74 1h0m51 6h0m19 -13h0m-49 11h0m-13 10h0m33 -8h0" stroke="#22eeff" stroke-opacity="0.65" stroke-width="2"/><path d="M532 2143h0m-54 0h0m15 -5h0m27 -8h0m7 17h0m9 -8h0m-37 4h0m20 -6h0" stroke="#22eeff" stroke-opacity="0.65" stroke-width="2"/><path d="M532 2133h0m-26 -1h0m38 12h0m-27 -18h0m17 13h0m25 6h0m-33 -5h0m-12 3h0m27 5h0m-39 -12h0m26 -1h0m-40 4h0m6 -8h0m4 5h0m-11 -3h0m47 6h0m-52 4h0m30 -1h0m20 3h0m-16 -10h0m-37 0h0m34 9h0m27 -4h0m-6 -5h0m10 -8h0m3 7h0m-12 6h0m-19 0h0m8 -2h0m-23 -6h0m12 13h0m4 10h0m3 -18h0m-15 -6h0m12 10h0m-28 -1h0m26 -4h0" stroke="#22eeff" stroke-opacity="0.65" stroke-width="3"/><path d="M538 2137h0m-6 1h0m-15 6h0m4 -14h0m10 12h0m-6 8h0m-19 -16h0m-2 14h0m-7 -13h0m-8 16h0m27 -12h0m6 10h0m28 -6h0m-36 -2h0m-8 1h0m37 8h0m-38 -3h0m-10 -7h0m9 8h0m6 4h0m0 -13h0m2 -1h0m26 -9h0m-53 11h0m12 0h0m19 -13h0m-6 11h0m-4 1h0m31 4h0m-27 -14h0m26 9h0m-32 -1h0m-16 7h0m66 -2h0m-38 -8h0m-25 2h0" stroke="#22eeff" stroke-opacity="0.65" stroke-width="3"/><path d="M503 2147h0m9 -12h0m-5 -1h0m18 15h0m4 4h0m-24 -19h0m-6 11h0m58 -13h0m-27 9h0m-37 -7h0m51 7h0m-38 -4h0m-25 -10h0m39 16h0m22 -11h0m-16 8h0m-13 -5h0m8 7h0m3 3h0m-3 -10h0m-23 8h0m5 -1h0m12 -6h0m11 2h0" stroke="#22eeff" stroke-opacity="0.65" stroke-width="3"/><path d="M498 2133h0m17 4h0m1 0h0m17 -1h0m-24 -3h0m27 0h0m-22 10h0m-29 -1h0m49 -3h0m14 8h0m-39 -10h0m6 -2h0m1 8h0m-8 -2h0m2 -7h0m34 2h0m-22 6h0m-30 11h0m-10 -13h0m0 5h0m37 -15h0m-31 8h0" stroke="#22eeff" stroke-opacity="0.65" stroke-width="4"/><path d="M535 2146h0m-46 -6h0m21 2h0m55 -2h0m-25 -3h0m-36 4h0m24 2h0m-6 -4h0m3 1h0m-13 1h0m7 -7h0m16 -2h0m-38 13h0m4 -10h0m-5 15h0m27 -11h0m8 -2h0m-15 -5h0m9 3h0m-9 11h0m-24 5h0m28 -6h0" stroke="#22eeff" stroke-opacity="0.65" stroke-width="4"/><path d="M512 2152h0m11 -12h0m21 0h0m-35 -3h0m13 15h0m5 -11h0m-9 6h0m12 -4h0m-8 0h0m-25 4h0m40 3h0m-10 -18h0m32 13h0m-47 -8h0m20 6h0m-29 -4h0m44 5h0m-52 -7h0m17 11h0m2 -8h0m-22 -12h0m50 17h0m-18 2h0m-3 -12h0m12 10h0m-20 1h0m-14 1h0m32 -9h0m-35 4h0m16 -4h0m-11 8h0m34 -5h0m-8 3h0m-15 -2h0m25 1h0" stroke="#22eeff" stroke-opacity="0.65" stroke-width="4"/><path d="M615 2118h0m3 5h0m-8 2h0m9 -7h0" stroke="#22eeff" stroke-opacity="0.7" stroke-width="2"/><path d="M602 2116h0" stroke="#22eeff" stroke-opacity="0.7" stroke-width="2"/><path d="M605 2125h0m2 3h0m9 -1h0m2 -5h0m-11 -16h0" stroke="#22eeff" stroke-opacity="0.7" stroke-width="2"/><path d="M618 2118h0m0 1h0m-8 10h0m2 -19h0m11 22h0m-23 -7h0m1 -8h0m19 -1h0m-11 21h0m6 -16h0m-3 -3h0m7 -3h0m10 14h0m-40 -9h0m31 -2h0" stroke="#22eeff" stroke-opacity="0.7" stroke-width="3"/><path d="M600 2112h0m3 -1h0m18 10h0m-4 5h0m7 -14h0m-18 3h0m13 -7h0m-3 -5h0m-3 10h0m13 5h0m-23 -2h0m5 1h0m9 2h0m6 -11h0m-8 15h0m-6 -1h0" stroke="#22eeff" stroke-opacity="0.7" stroke-width="3"/><path d="M620 2119h0m2 12h0m-9 -20h0m15 14h0m-4 8h0m-1 -1h0m-23 -8h0m14 -8h0m-1 -1h0m-1 0h0m-5 1h0m6 8h0" stroke="#22eeff" stroke-opacity="0.7" stroke-width="3"/><path d="M610 2122h0m12 -13h0m-16 7h0m-9 -1h0m1 -3h0m14 13h0m-1 -14h0m19 8h0m-36 -3h0m23 -5h0m3 -5h0m-7 7h0m-18 -6h0" stroke="#22eeff" stroke-opacity="0.7" stroke-width="4"/><path d="M603 2115h0m11 15h0m0 -2h0m-4 -15h0m0 -8h0m3 5h0m4 11h0m1 -5h0m-2 -3h0m-8 9h0m4 -9h0m-4 15h0m-4 -24h0m39 12h0m-18 3h0m-28 3h0m8 12h0" stroke="#22eeff" stroke-opacity="0.7" stroke-width="4"/><path d="M621 2121h0m-10 -7h0m10 7h0m-18 12h0m2 -22h0m30 10h0m-42 6h0m23 -9h0m0 3h0m-1 11h0m7 -24h0m4 -2h0m-4 20h0m-13 -14h0m3 -4h0m6 4h0m-6 6h0m2 -8h0m-8 9h0m5 -4h0m3 -9h0" stroke="#22eeff" stroke-opacity="0.7" stroke-width="4"/><path d="M1455 1622h0m-52 29h0m-16 -1h0m89 -1h0m-53 2h0m40 23h0" stroke="#3aa0f0" stroke-opacity="0.6" stroke-width="2"/><path d="M1408 1601h0m25 40h0m-29 44h0m80 -20h0m-15 -18h0m-24 -4h0m3 -1h0m12 61h0" stroke="#3aa0f0" stroke-opacity="0.6" stroke-width="2"/><path d="M1425 1680h0m46 -74h0m-59 74h0m45 -33h0m-9 13h0" stroke="#3aa0f0" stroke-opacity="0.6" stroke-width="2"/><path d="M1406 1650h0m-12 -6h0m133 -29h0m-19 61h0m4 -59h0m-78 72h0m-20 -37h0m48 40h0m-73 -22h0m54 10h0m25 -52h0m-6 64h0m-40 -79h0m51 53h0m-25 -13h0m28 -11h0m12 -54h0m-26 66h0m47 0h0m-38 17h0m5 -44h0m44 25h0m-68 -60h0m27 103h0m-43 -28h0m27 51h0m-46 -83h0" stroke="#3aa0f0" stroke-opacity="0.6" stroke-width="3"/><path d="M1438 1642h0m87 25h0m-70 65h0m41 -59h0m-91 11h0m11 -26h0m13 -19h0m5 48h0m50 4h0m47 -18h0m-114 -7h0m-17 -19h0m0 24h0m14 -68h0m-7 -3h0m99 23h0m-64 61h0m46 41h0m-69 -39h0m83 -42h0m-53 4h0m23 37h0m1 -40h0" stroke="#3aa0f0" stroke-opacity="0.6" stroke-width="3"/><path d="M1496 1695h0m-5 -32h0m42 9h0m-118 -33h0m73 73h0m-74 -61h0m50 -52h0m-31 64h0m26 13h0m27 11h0m-42 -42h0m-22 8h0m61 2h0m-34 15h0m78 -23h0m-77 35h0m-23 11h0m41 -43h0m-8 -28h0m-2 13h0" stroke="#3aa0f0" stroke-opacity="0.6" stroke-width="3"/><path d="M1568 1634h0m-107 60h0m-7 -23h0m35 -79h0m-27 61h0m10 13h0m-57 7h0m57 -61h0m-41 25h0m86 -22h0m-127 33h0m-29 1h0m100 -19h0m-39 36h0m30 -36h0m52 73h0m-56 -112h0m15 77h0m-18 -46h0m25 48h0m12 -18h0m-32 -6h0m-5 -24h0m3 17h0m31 -3h0m-39 53h0m-13 -38h0" stroke="#3aa0f0" stroke-opacity="0.6" stroke-width="4"/><path d="M1454 1600h0m-74 23h0m53 58h0m-16 -35h0m25 3h0m5 -17h0m49 -15h0m-41 60h0m-114 -18h0m87 7h0m57 1h0m2 22h0m47 -29h0m-62 -25h0m27 -13h0m-71 34h0m-11 41h0m53 -52h0m-63 -58h0m15 101h0m-1 -26h0m32 -11h0m25 -7h0m-26 -5h0m19 41h0m-69 -13h0m22 67h0m17 -100h0m69 -39h0" stroke="#3aa0f0" stroke-opacity="0.6" stroke-width="4"/><path d="M1485 1676h0m63 -7h0m-125 5h0m-92 -69h0m107 93h0m33 -119h0m-5 121h0m-2 -28h0m0 -35h0m-24 60h0m-34 -64h0m48 21h0m-1 42h0m-35 -12h0m-11 -46h0m56 28h0m-45 -11h0m31 55h0m-1 -53h0m-29 -13h0m34 57h0m44 -43h0m-4 -14h0m-84 37h0m25 -47h0m-22 43h0m71 -4h0m-20 -33h0" stroke="#3aa0f0" stroke-opacity="0.6" stroke-width="4"/><path d="M1481 1687h0m-110 -89h0m145 40h0m-58 19h0m-25 77h0m-4 -81h0m11 -31h0m2 -49h0m-57 90h0m73 30h0m-23 -24h0m27 11h0m40 28h0m-106 -102h0m27 48h0m98 -35h0" stroke="#3aa0f0" stroke-opacity="0.6" stroke-width="5"/><path d="M1416 1624h0m76 18h0m-20 15h0m-40 16h0m-57 -43h0m91 19h0m24 2h0m16 17h0m-100 -27h0m74 68h0" stroke="#3aa0f0" stroke-opacity="0.6" stroke-width="5"/><path d="M1465 1649h0m-18 32h0m-42 -37h0m72 -4h0m-35 11h0m31 -25h0m-62 61h0m-31 -18h0m-12 -50h0" stroke="#3aa0f0" stroke-opacity="0.6" stroke-width="5"/><path d="M1441 1636h0m-3 -22h0" stroke="#3aa0f0" stroke-opacity="0.7" stroke-width="3"/><path d="M1439 1626h0m1 8h0m5 0h0m3 -4h0" stroke="#3aa0f0" stroke-opacity="0.7" stroke-width="3"/><path d="M1436 1626h0m6 4h0m-5 -21h0m6 12h0" stroke="#3aa0f0" stroke-opacity="0.7" stroke-width="3"/><path d="M1440 1623h0m-2 12h0m0 -20h0m0 8h0" stroke="#3aa0f0" stroke-opacity="0.7" stroke-width="4"/><path d="M1434 1623h0m12 -12h0m4 -8h0m-8 27h0" stroke="#3aa0f0" stroke-opacity="0.7" stroke-width="4"/><path d="M1430 1614h0m21 13h0m-17 -9h0m11 9h0m10 -4h0m-7 -11h0" stroke="#3aa0f0" stroke-opacity="0.7" stroke-width="4"/><path d="M1449 1631h0m4 -11h0" stroke="#3aa0f0" stroke-opacity="0.7" stroke-width="5"/><path d="M1454 1621h0m-9 -4h0m0 7h0m-13 -6h0" stroke="#3aa0f0" stroke-opacity="0.7" stroke-width="5"/><path d="M1446 1630h0m-2 -11h0" stroke="#3aa0f0" stroke-opacity="0.7" stroke-width="5"/><path d="M1325 1844h0m-47 159h0m-19 -1h0" stroke="#404040" stroke-opacity="0.7" stroke-width="2"/><path d="M1299 1850h0m-44 -5h0m19 2h0m43 0h0m-4 -4h0m16 10h0m-46 141h0m-17 6h0m0 4h0m-2 3h0m5 -8h0" stroke="#404040" stroke-opacity="0.7" stroke-width="2"/><path d="M1255 1843h0m55 8h0m-44 -10h0m26 6h0m-17 157h0m3 -3h0" stroke="#404040" stroke-opacity="0.7" stroke-width="2"/><path d="M1284 1847h0m-15 1h0m31 5h0m-23 -15h0m39 10h0m-35 150h0m-30 5h0m-5 -4h0m27 7h0" stroke="#404040" stroke-opacity="0.7" stroke-width="3"/><path d="M1318 1846h0m22 7h0m-7 -4h0m-49 -1h0m41 3h0m-54 -6h0m8 4h0m-27 -6h0m62 -1h0m-40 155h0m25 1h0m-35 10h0" stroke="#404040" stroke-opacity="0.7" stroke-width="3"/><path d="M1298 1847h0m5 -6h0m-5 -2h0m-4 0h0m0 5h0m-40 7h0m22 145h0m7 6h0m-6 -7h0m-15 3h0m5 6h0m-3 -3h0m8 -3h0" stroke="#404040" stroke-opacity="0.7" stroke-width="3"/><path d="M1282 2004h0m-9 1h0" stroke="#404040" stroke-opacity="0.7" stroke-width="4"/><path d="M1271 1997h0" stroke="#404040" stroke-opacity="0.7" stroke-width="4"/><path d="M1283 1845h0" stroke="#404040" stroke-opacity="0.7" stroke-width="4"/><path d="M1379 2073h0m3 -31h0" stroke="#606060" stroke-opacity="0.6" stroke-width="2"/><path d="M1383 2078h0m2 6h0" stroke="#606060" stroke-opacity="0.6" stroke-width="2"/><path d="M1368 2070h0m13 -9h0m6 -15h0m8 5h0" stroke="#606060" stroke-opacity="0.6" stroke-width="2"/><path d="M1380 2038h0m-10 9h0m12 0h0m-1 5h0" stroke="#606060" stroke-opacity="0.6" stroke-width="3"/><path d="M1375 2067h0m-8 -8h0" stroke="#606060" stroke-opacity="0.6" stroke-width="3"/><path d="M1390 2062h0m-13 -14h0m10 4h0m-5 18h0" stroke="#606060" stroke-opacity="0.6" stroke-width="3"/><path d="M1371 2031h0" stroke="#606060" stroke-opacity="0.6" stroke-width="4"/><path d="M366 2000h0" stroke="#707070" stroke-opacity="0.6" stroke-width="2"/><path d="M383 2006h0m2 -8h0m-11 8h0m13 -3h0" stroke="#707070" stroke-opacity="0.6" stroke-width="2"/><path d="M370 1995h0m9 0h0m-1 0h0m-2 9h0" stroke="#707070" stroke-opacity="0.6" stroke-width="3"/><path d="M378 2003h0m-2 8h0m7 -3h0m-7 -9h0" stroke="#707070" stroke-opacity="0.6" stroke-width="3"/><path d="M197 2024h0" stroke="#707070" stroke-opacity="0.7" stroke-width="2"/><path d="M195 2022h0m-2 1h0" stroke="#707070" stroke-opacity="0.7" stroke-width="3"/><path d="M192 2018h0m2 0h0m-2 6h0" stroke="#707070" stroke-opacity="0.7" stroke-width="3"/><path d="M200 2025h0m-6 -3h0" stroke="#707070" stroke-opacity="0.7" stroke-width="3"/><path d="M192 2015h0" stroke="#707070" stroke-opacity="0.7" stroke-width="4"/><path d="M193 2026h0" stroke="#707070" stroke-opacity="0.7" stroke-width="4"/><path d="M1317 1806h0m138 -14h0m27 18h0m-47 92h0m-12 5h0m-129 -14h0m127 -204h0" stroke="#88ee88" stroke-opacity="0.5" stroke-width="2"/><path d="M1470 1831h0m-52 -72h0m-2 148h0m-42 -43h0m33 14h0m37 -125h0" stroke="#88ee88" stroke-opacity="0.5" stroke-width="2"/><path d="M1350 1911h0m154 -143h0m-119 87h0m39 -17h0m67 6h0m-91 65h0m97 -146h0m-3 106h0m-7 111h0" stroke="#88ee88" stroke-opacity="0.5" stroke-width="2"/><path d="M1382 1867h0m101 75h0m-171 -119h0m83 31h0m69 33h0m81 -79h0m-93 44h0m-101 53h0m-32 44h0m168 -20h0m-151 -69h0m58 -18h0m-52 175h0m50 -39h0m-51 -129h0m-45 58h0m182 -40h0m-35 -78h0m-38 126h0" stroke="#88ee88" stroke-opacity="0.5" stroke-width="3"/><path d="M1370 1893h0m112 -31h0m-112 31h0m-40 -12h0m128 -41h0m26 37h0m-45 -77h0m82 76h0m-29 -82h0m-99 28h0m74 106h0m-42 -8h0m56 -80h0m-10 52h0m-49 -76h0m-79 -17h0m28 69h0m-10 -33h0m28 -57h0m11 -19h0m102 35h0" stroke="#88ee88" stroke-opacity="0.5" stroke-width="3"/><path d="M1394 1764h0m-8 40h0m125 61h0m-122 97h0m-15 -6h0m120 -54h0m-153 -64h0m50 -65h0m82 16h0m-30 24h0m39 -6h0m-16 64h0m-40 -25h0m-114 91h0m91 73h0m7 -95h0m43 8h0m30 56h0m-158 -26h0m105 -47h0" stroke="#88ee88" stroke-opacity="0.5" stroke-width="3"/><path d="M1398 1896h0m54 -98h0m-21 148h0m102 -93h0" stroke="#88ee88" stroke-opacity="0.5" stroke-width="4"/><path d="M1388 1749h0m10 138h0m98 50h0m5 -90h0m0 -4h0m-79 -24h0m32 53h0m35 48h0" stroke="#88ee88" stroke-opacity="0.5" stroke-width="4"/><path d="M1380 1875h0m11 -54h0m-9 87h0m116 7h0m-11 33h0m-90 -48h0m18 6h0m-55 -76h0m2 12h0m50 51h0" stroke="#88ee88" stroke-opacity="0.5" stroke-width="4"/><path d="M1592 1965h0m63 127h0m-36 -124h0m-10 184h0m-3 -26h0m-14 -168h0m37 148h0m-22 -19h0m29 48h0m-23 -129h0m10 -49h0m-41 65h0m25 143h0m25 -87h0m-25 -10h0m29 97h0m-47 -235h0m35 149h0m-16 12h0" stroke="#8b4a13" stroke-opacity="0.5" stroke-width="2"/><path d="M1659 2176h0m-64 -97h0m-24 -13h0m64 53h0m-20 15h0m1 -136h0m-4 48h0m-7 -4h0m8 9h0m-14 -92h0m12 157h0m13 -70h0m-18 -16h0m-5 -55h0m30 137h0m9 -109h0m2 188h0m-29 -112h0m27 -51h0m-27 152h0m32 -34h0m-24 -15h0" stroke="#8b4a13" stroke-opacity="0.5" stroke-width="2"/><path d="M1624 2065h0m-32 -82h0m-1 -55h0m37 202h0m-20 -138h0m5 35h0m3 61h0m32 -35h0m-38 55h0m7 -52h0m16 -52h0m-26 152h0m9 -55h0m19 -119h0m-24 -35h0m29 110h0" stroke="#8b4a13" stroke-opacity="0.5" stroke-width="2"/><path d="M1595 1968h0m32 122h0m4 -30h0m13 -19h0m-16 -12h0m-6 28h0m12 89h0m5 -7h0m-6 -128h0m14 141h0m-30 -44h0m-11 -131h0m18 -5h0m-31 -7h0m47 157h0m-48 -167h0m24 -14h0m-20 24h0m-1 14h0m39 83h0m-45 -62h0m19 -66h0m38 171h0m-35 35h0" stroke="#8b4a13" stroke-opacity="0.5" stroke-width="3"/><path d="M1626 2116h0m-1 10h0m-8 55h0m-8 -86h0m-14 -94h0m4 -12h0m7 35h0m16 -10h0m-3 109h0m-37 -137h0m57 58h0m-46 41h0m12 -53h0m10 35h0m-18 -92h0m34 122h0m-2 -1h0m31 74h0m-45 -149h0m15 92h0m11 11h0m-11 -198h0m-8 134h0m28 62h0m-48 -180h0m0 41h0m23 82h0m-9 35h0m-4 -150h0m8 128h0m-2 -96h0m21 76h0" stroke="#8b4a13" stroke-opacity="0.5" stroke-width="3"/><path d="M1650 2082h0m-30 -79h0m4 25h0m-58 -58h0m44 48h0m7 -93h0m8 141h0m-11 -111h0m21 156h0m-28 -161h0m-9 220h0m18 -59h0m-30 -151h0m31 113h0m37 40h0m-27 63h0m-12 -2h0m14 -195h0m-26 -37h0m29 155h0m17 38h0m5 -18h0m-66 -180h0m22 68h0m3 -3h0m1 18h0m-4 52h0m12 -42h0m38 40h0" stroke="#8b4a13" stroke-opacity="0.5" stroke-width="3"/><path d="M1600 1969h0" stroke="#8b4a13" stroke-opacity="0.5" stroke-width="4"/><path d="M1629 2143h0m10 -23h0m-19 40h0m11 -35h0" stroke="#8b4a13" stroke-opacity="0.8" stroke-width="2"/><path d="M1624 2143h0m-10 -10h0m11 17h0m-1 -7h0m-2 4h0m10 14h0m-4 -5h0" stroke="#8b4a13" stroke-opacity="0.8" stroke-width="2"/><path d="M1621 2142h0m0 2h0m6 -2h0m-1 2h0m-10 -3h0m6 -5h0m1 19h0m-2 -26h0m-1 8h0m3 13h0" stroke="#8b4a13" stroke-opacity="0.8" stroke-width="3"/><path d="M1631 2141h0m-15 -13h0m5 19h0m5 -5h0m-8 4h0m8 -7h0m-12 -7h0m10 8h0m7 -11h0m-2 12h0" stroke="#8b4a13" stroke-opacity="0.8" stroke-width="3"/><path d="M1625 2153h0m7 -12h0m-9 7h0" stroke="#8b4a13" stroke-opacity="0.8" stroke-width="3"/><path d="M1627 2149h0m-5 13h0m17 -17h0m-18 -19h0m7 4h0" stroke="#8b4a13" stroke-opacity="0.8" stroke-width="4"/><path d="M1636 2145h0m-4 -2h0m-12 -6h0m10 -1h0m0 -6h0m4 19h0m-11 -8h0m6 18h0" stroke="#8b4a13" stroke-opacity="0.8" stroke-width="4"/><path d="M1635 2138h0m-11 3h0m3 -21h0m-7 6h0m5 6h0" stroke="#8b4a13" stroke-opacity="0.8" stroke-width="4"/><path d="M1629 2179h0m-1 6h0m-7 -10h0" stroke="#8b4a13" stroke-opacity="0.85" stroke-width="2"/><path d="M1633 2180h0m-4 2h0" stroke="#8b4a13" stroke-opacity="0.85" stroke-width="2"/><path d="M1626 2175h0" stroke="#8b4a13" stroke-opacity="0.85" stroke-width="3"/><path d="M1623 2182h0m4 3h0m2 1h0m-5 -2h0m3 -6h0m-1 7h0m1 1h0m-4 2h0" stroke="#8b4a13" stroke-opacity="0.85" stroke-width="3"/><path d="M1626 2175h0m-2 20h0m5 -6h0m-5 0h0" stroke="#8b4a13" stroke-opacity="0.85" stroke-width="3"/><path d="M1626 2187h0m4 3h0m-4 -29h0m0 20h0" stroke="#8b4a13" stroke-opacity="0.85" stroke-width="4"/><path d="M1632 2186h0" stroke="#8b4a13" stroke-opacity="0.85" stroke-width="4"/><path d="M1626 2181h0m3 -10h0m-9 8h0" stroke="#8b4a13" stroke-opacity="0.85" stroke-width="4"/><path d="M411 1986h0m-53 -100h0m-27 30h0m102 16h0m8 -49h0m-2 27h0m-68 8h0m-35 112h0" stroke="#f7c21a" stroke-opacity="0.45" stroke-width="2"/><path d="M382 1975h0m-94 -49h0m94 -69h0m-90 50h0m50 45h0m219 -27h0m-196 -166h0m-49 225h0m-3 -76h0m72 29h0" stroke="#f7c21a" stroke-opacity="0.45" stroke-width="2"/><path d="M409 1960h0m-36 20h0m-32 -124h0m75 27h0m-17 -85h0m-41 157h0m46 -44h0m12 63h0m-57 -168h0" stroke="#f7c21a" stroke-opacity="0.45" stroke-width="2"/><path d="M339 1994h0m52 28h0m-19 -188h0m-25 29h0m18 -3h0m40 101h0m-57 41h0m35 -32h0m7 22h0m18 -93h0m-14 -97h0m-11 154h0m3 11h0m-57 45h0m109 26h0m-64 -86h0m76 13h0m-102 13h0m-58 -222h0m90 235h0m77 -144h0m9 65h0m-161 -31h0m-51 48h0m124 -17h0" stroke="#f7c21a" stroke-opacity="0.45" stroke-width="3"/><path d="M257 1915h0m23 134h0m97 -119h0m38 -27h0m-5 188h0m-10 -186h0m-100 120h0m92 -185h0m-56 80h0m47 11h0m3 -39h0m-39 4h0m49 30h0m-64 72h0m86 83h0m37 -153h0m-92 -50h0m-77 -133h0m111 121h0m2 -67h0m-112 -75h0m98 204h0m33 -23h0m-83 2h0m59 17h0m-73 -27h0m36 -157h0m31 104h0m-39 -72h0m117 46h0m-38 67h0m-48 56h0m-17 18h0m-32 -47h0m59 -19h0m-87 -44h0" stroke="#f7c21a" stroke-opacity="0.45" stroke-width="3"/><path d="M331 1798h0m17 102h0m-10 -48h0m13 135h0m0 -90h0m-67 6h0m36 73h0m86 -31h0m-66 -92h0m-2 45h0m2 131h0m-36 -41h0m45 -105h0m-12 -26h0m-70 -49h0m31 198h0m28 -63h0m91 -139h0m-74 220h0m12 -104h0m-30 -17h0m101 -109h0m-30 13h0m-112 137h0m89 -86h0m-1 -38h0m78 125h0" stroke="#f7c21a" stroke-opacity="0.45" stroke-width="3"/><path d="M296 1901h0m159 -123h0m-85 166h0m10 -90h0m-23 73h0m34 -20h0m-42 46h0m26 48h0m-53 -182h0m70 68h0m-38 -15h0m-76 -15h0m59 54h0m-4 83h0m78 -91h0m-40 82h0m-73 47h0m73 -127h0m-14 7h0m-55 -2h0m16 40h0" stroke="#f7c21a" stroke-opacity="0.45" stroke-width="4"/><path d="M352 1906h0m19 29h0m3 -20h0m-6 -46h0m-34 44h0m49 65h0m34 -82h0m-7 73h0m0 36h0m8 -80h0m-69 118h0m31 -127h0m4 -48h0m-85 -4h0m44 -51h0m62 50h0m-100 49h0m43 5h0m-28 -75h0m81 29h0m-18 105h0m-13 38h0m-9 -63h0" stroke="#f7c21a" stroke-opacity="0.45" stroke-width="4"/><path d="M385 1801h0m-1 141h0m-45 -78h0m-14 -85h0m51 125h0m14 -14h0m-65 -46h0m172 51h0m-144 -50h0m116 15h0m-106 207h0m-1 -148h0m27 79h0m0 -104h0m-4 -107h0m-20 137h0m-33 -69h0m-18 27h0m-32 18h0m73 -158h0m24 200h0m20 -77h0m-7 42h0" stroke="#f7c21a" stroke-opacity="0.45" stroke-width="4"/><path d="M303 1826h0m-29 122h0" stroke="#f7c21a" stroke-opacity="0.5" stroke-width="2"/><path d="M269 1788h0m-8 115h0" stroke="#f7c21a" stroke-opacity="0.5" stroke-width="2"/><path d="M241 1867h0m49 -40h0m6 7h0m0 10h0" stroke="#f7c21a" stroke-opacity="0.5" stroke-width="2"/><path d="M266 1861h0m-8 46h0m14 -28h0m38 -109h0m-69 163h0m12 -93h0m23 -19h0m55 -55h0m-31 19h0m-65 152h0m17 -40h0m37 -67h0m45 -69h0m-84 138h0m7 -11h0m23 -45h0m11 19h0m27 -71h0m-71 162h0m30 -80h0m-27 48h0m-20 -32h0m39 9h0m29 -122h0m-66 152h0m89 -121h0m-45 84h0m-27 71h0m20 -88h0m27 -51h0m-3 0h0m-65 118h0m48 -77h0m-11 26h0m-7 26h0m70 -153h0m-30 64h0m3 42h0m-37 18h0m53 -117h0m-53 112h0m-12 -32h0m39 -15h0m-8 -27h0m-30 64h0m39 -52h0m-37 148h0m-6 -13h0m53 -169h0m-24 75h0" stroke="#f7c21a" stroke-opacity="0.5" stroke-width="3"/><path d="M276 1884h0m9 23h0m13 -95h0m-50 144h0m66 -180h0m-38 47h0m2 22h0m-37 95h0m61 -128h0m-33 -32h0m-21 178h0m33 -171h0m25 4h0m-53 149h0m63 -110h0m-23 20h0m-15 10h0m19 -64h0m-44 148h0m-4 -5h0m47 -140h0m-22 41h0m20 -76h0m-29 70h0m56 -62h0m-35 65h0m-38 92h0m-2 -9h0m-6 -21h0m3 -4h0m17 -5h0m25 -25h0m-30 84h0m55 -208h0m-49 180h0m-6 2h0m45 -111h0m-1 -36h0m-15 92h0m24 -95h0m-5 34h0m-49 72h0m-19 35h0m11 -3h0m29 -10h0m-11 -28h0m12 75h0m-37 19h0m40 -118h0m10 -62h0m-74 163h0m12 -21h0m23 -10h0m61 -104h0m-55 55h0m65 -99h0m-24 9h0m12 25h0m-59 124h0m67 -162h0m-71 160h0m-10 -23h0m49 -124h0m-19 108h0m63 -104h0m-73 150h0m39 -152h0m-15 92h0m0 4h0m33 -83h0" stroke="#f7c21a" stroke-opacity="0.5" stroke-width="3"/><path d="M287 1847h0m-49 14h0m55 -5h0m-58 53h0m38 6h0m9 -45h0m-21 81h0m10 -73h0m-40 55h0m35 7h0m15 -5h0m-19 -5h0m54 -158h0m-31 95h0m-38 49h0m23 -94h0m-10 48h0m-3 87h0m35 -175h0m12 14h0m-59 71h0m-25 76h0m10 -11h0m18 -24h0m27 2h0m-9 -54h0m33 -14h0m-1 -63h0m-42 121h0m51 -132h0" stroke="#f7c21a" stroke-opacity="0.5" stroke-width="3"/><path d="M274 1808h0m35 -40h0m-66 152h0m33 -33h0m14 -90h0m-37 73h0m16 -64h0m12 39h0m-23 121h0m15 -104h0m-20 39h0m-4 49h0m47 -135h0m0 -6h0m-59 161h0m8 -120h0m50 -46h0m-26 107h0m-7 -30h0m-15 61h0m3 -25h0m56 -131h0m5 22h0m-55 76h0m51 -76h0m-53 81h0m30 -21h0m-43 65h0m23 -70h0m31 -12h0m-45 82h0m-17 6h0m70 -121h0m-53 98h0m32 -27h0m-50 35h0m45 -20h0m33 -127h0m-60 168h0m-1 2h0m16 -30h0m18 -27h0m34 -126h0m-36 28h0m-26 125h0m24 -57h0m-58 89h0m42 25h0m8 -93h0m2 -36h0m27 -17h0m-64 110h0m68 -176h0m-54 174h0m-10 6h0" stroke="#f7c21a" stroke-opacity="0.5" stroke-width="4"/><path d="M267 1882h0m3 -73h0m4 76h0m-8 10h0m-15 52h0m-14 25h0m87 -172h0m-54 81h0m32 -108h0m-13 38h0m16 4h0m-19 16h0m20 4h0m-23 55h0m54 -141h0m-68 165h0m6 -24h0m27 -82h0m-46 128h0m29 -155h0m-15 118h0m36 -48h0m-64 75h0m23 -70h0m25 -3h0m13 -10h0m-26 29h0m5 -71h0m-33 75h0m20 -17h0m-21 104h0m34 -126h0m26 -61h0m8 5h0m-9 11h0m-32 18h0m21 71h0m37 -106h0m-76 92h0m-5 -7h0m-16 37h0m14 52h0m34 -112h0m-32 59h0m39 -53h0m53 -83h0m-59 49h0m17 -47h0m-52 157h0" stroke="#f7c21a" stroke-opacity="0.5" stroke-width="4"/><path d="M265 1981h0m15 -95h0m-1 -41h0m18 -48h0m5 30h0m-14 10h0m27 -70h0m-15 -2h0m-52 120h0m44 -74h0m-45 129h0m28 -54h0m16 -63h0m3 8h0m-49 105h0m5 -61h0m21 -37h0m-33 102h0m19 -49h0m9 12h0m-26 -7h0m27 -93h0m2 108h0m15 -118h0m-35 84h0m62 -73h0m-26 30h0m-14 43h0m-51 61h0m56 -93h0m3 3h0m-10 -3h0m42 -87h0m-71 209h0m70 -150h0m-66 45h0m93 -63h0m-56 -9h0" stroke="#f7c21a" stroke-opacity="0.5" stroke-width="4"/><path d="M244 1950h0m56 -152h0m-46 90h0m70 -100h0m-19 17h0m-20 89h0m-17 -51h0m2 -2h0m-2 -2h0m30 54h0" stroke="#f7c21a" stroke-opacity="0.5" stroke-width="5"/><path d="M300 1773h0m-25 118h0m-27 18h0m40 -78h0m-3 27h0" stroke="#f7c21a" stroke-opacity="0.5" stroke-width="5"/><path d="M322 1802h0m-47 81h0m-5 -28h0m-2 -38h0m-20 125h0m10 -84h0m30 -27h0m-31 11h0m11 40h0m-21 54h0" stroke="#f7c21a" stroke-opacity="0.5" stroke-width="5"/><path d="M219 1926h0m44 -150h0m-2 10h0m-33 132h0m1430 -263h0m17 -2h0m100 5h0m-59 -9h0m36 8h0m-189 -27h0m109 15h0m-250 -5h0m170 -18h0m-25 18h0m237 -21h0m-16 9h0" stroke="#f7c21a" stroke-opacity="0.6" stroke-width="2"/><path d="M226 1824h0m24 -61h0m-5 112h0m-17 11h0m-18 32h0m12 38h0m1404 -321h0m166 12h0m-177 3h0m273 12h0m-116 -45h0m-109 32h0m-15 13h0m102 -17h0m-87 18h0m26 -10h0m73 -8h0m-285 10h0m218 23h0m-71 -54h0m-83 29h0m268 -29h0m-30 14h0m-23 9h0m-5 -24h0m7 3h0" stroke="#f7c21a" stroke-opacity="0.6" stroke-width="2"/><path d="M216 1882h0m-8 49h0m64 -168h0m-27 266h0m-17 -115h0m28 -86h0m-16 22h0m22 -44h0m1485 -159h0m5 8h0m-317 -15h0m238 10h0m141 -10h0m-98 -5h0m83 0h0m-55 5h0m-81 18h0m142 -35h0m128 43h0m-416 -43h0m89 42h0" stroke="#f7c21a" stroke-opacity="0.6" stroke-width="2"/><path d="M209 1845h0m88 -102h0m-109 217h0m96 -184h0m-76 199h0m63 -188h0m-31 84h0m-35 119h0m25 -24h0m-9 42h0m-2 -125h0m78 -89h0m-49 107h0m-30 -1h0m7 37h0m30 -24h0m-40 20h0m-12 33h0m60 -153h0m-1 -33h0m22 9h0m-30 35h0m73 -82h0m-57 84h0m-55 85h0m73 -122h0m-64 122h0m-12 68h0m51 -188h0m-28 113h0m-17 2h0m49 -130h0m-38 142h0m33 -87h0m-58 51h0m89 -127h0m-11 8h0m-40 92h0m8 -1h0m-47 150h0m4 -19h0m101 -219h0m-103 227h0m33 -140h0m38 -46h0m-62 89h0m55 -123h0m-68 164h0m61 -100h0m33 -78h0m-57 43h0m-24 150h0m1 67h0m-1 -75h0m67 -166h0m-66 157h0m39 -117h0m-67 192h0m54 -187h0m8 -17h0m-42 115h0m-44 29h0m53 14h0m-18 25h0m20 -57h0m45 -135h0m-10 52h0m-51 44h0m33 -52h0m-52 124h0m66 -72h0m-1 23h0m-61 41h0m46 -99h0m-21 56h0m15 56h0m-40 25h0m11 6h0m1 -121h0m12 61h0m46 -96h0m-28 164h0m16 -88h0m5 -60h0m-21 17h0m-10 99h0m90 -241h0m-109 195h0m42 -68h0m-8 -40h0m6 -15h0m-15 71h0m57 -54h0m-3 -28h0m-79 148h0m64 -155h0m33 -24h0m-14 11h0m-18 6h0m0 3h0m-51 183h0m12 -20h0m15 -32h0m-4 -56h0m54 -78h0m-72 124h0m-10 91h0m14 -123h0m3 8h0m-30 96h0m10 -5h0m-6 28h0m42 -171h0m-4 40h0m-27 74h0m119 -205h0m-105 171h0m-28 76h0m33 -95h0m-23 100h0m-8 -20h0m57 -151h0m9 47h0m-28 -14h0m-37 106h0m29 -65h0m29 -79h0m-28 102h0m-21 58h0m57 -211h0m3 75h0m-27 22h0m-12 32h0m-1 18h0m22 -45h0m-39 33h0m-10 109h0m22 -27h0m38 -146h0m-36 2h0m41 -42h0m17 -47h0m-79 247h0m75 -233h0m-91 210h0m81 -150h0m10 -59h0m-39 71h0m34 -57h0m-68 180h0m56 -178h0m-39 81h0m30 -41h0m-16 84h0m48 -159h0m-16 29h0m-45 142h0m20 -24h0m-7 -45h0m63 -83h0m-109 185h0m78 -175h0m-12 40h0m-21 23h0m-17 103h0m1 53h0m29 -125h0m41 -73h0m-117 162h0m76 -136h0m1344 -151h0m117 -28h0m9 -13h0m22 6h0m-224 -2h0m250 34h0m-205 -51h0m245 30h0m-294 -16h0m6 15h0m99 -16h0m-79 15h0m17 -4h0m75 -31h0m35 36h0m-165 10h0m70 7h0m99 -21h0m90 -3h0m-236 -10h0m160 21h0m-15 -1h0m-93 -19h0m167 25h0m-37 -8h0m252 -1h0m-339 7h0m-75 12h0m278 -55h0m-20 33h0m-16 -17h0m1 10h0m15 -16h0m-2 1h0" stroke="#f7c21a" stroke-opacity="0.6" stroke-width="3"/><path d="M272 1790h0m-67 209h0m-40 -6h0m132 -228h0m-105 204h0m94 -230h0m-96 250h0m35 -64h0m32 -110h0m42 -34h0m-78 155h0m-6 58h0m59 -185h0m-1 -39h0m-10 19h0m-79 186h0m60 -134h0m-24 77h0m39 -111h0m-70 184h0m32 -122h0m47 -53h0m-29 95h0m69 -156h0m-118 185h0m51 -66h0m51 -114h0m-59 217h0m-20 9h0m21 -124h0m-29 39h0m21 -49h0m27 -8h0m-8 35h0m74 -134h0m-32 38h0m-92 211h0m31 8h0m-14 -36h0m-12 -5h0m16 -29h0m35 -88h0m-2 -20h0m-40 144h0m4 39h0m6 -40h0m40 -151h0m25 -31h0m-102 131h0m104 -170h0m-70 240h0m24 -159h0m13 -5h0m-24 105h0m-48 70h0m30 16h0m12 -151h0m-6 21h0m10 -20h0m-36 54h0m62 -119h0m70 -33h0m-113 156h0m-9 69h0m46 -172h0m-51 110h0m56 -50h0m-54 0h0m101 -107h0m-54 73h0m-24 46h0m-26 96h0m58 -125h0m-33 65h0m7 -29h0m-4 9h0m16 -43h0m21 -76h0m-8 -2h0m-6 142h0m-24 55h0m17 -89h0m8 -96h0m45 -48h0m-74 236h0m58 -136h0m-78 95h0m99 -174h0m-83 231h0m54 -205h0m-30 124h0m7 -79h0m-42 82h0m59 -118h0m-27 47h0m30 3h0m24 -75h0m5 -35h0m-26 38h0m-33 56h0m46 -82h0m-27 106h0m-3 -39h0m-48 111h0m50 -87h0m-56 38h0m12 19h0m84 -148h0m-12 23h0m-82 200h0m-20 -32h0m43 -66h0m1 39h0m4 35h0m20 -140h0m27 -18h0m-24 1h0m55 -27h0m-92 153h0m70 -175h0m17 22h0m-96 153h0m91 -180h0m-70 112h0m-9 99h0m-7 -23h0m17 -98h0m1 40h0m-34 69h0m85 -164h0m-73 232h0m1 -112h0m40 -48h0m-69 164h0m84 -157h0m-31 79h0m-3 -36h0m7 21h0m62 -180h0m-86 225h0m-40 -17h0m26 -6h0m-1 25h0m6 -66h0m34 -12h0m8 -86h0m20 13h0m-60 88h0m10 92h0m0 -89h0m21 -36h0m57 -111h0m-85 199h0m30 -96h0m9 -75h0m-10 109h0m-7 5h0m-5 48h0m-8 -49h0m5 -42h0m41 -28h0m-35 107h0m-38 60h0m49 -152h0m-9 4h0m-2 24h0m39 -62h0m-46 84h0m-3 38h0m9 -74h0m-16 57h0m20 -35h0m19 -34h0m-38 122h0m87 -156h0m-69 189h0m1494 -357h0m109 32h0m-184 -40h0m110 -9h0m-253 -1h0m214 38h0m-31 -11h0m55 11h0m-17 -47h0m-211 55h0m286 -46h0m-132 -19h0m-113 42h0m122 13h0m0 -11h0m-62 -55h0m206 38h0m-110 8h0m-50 1h0m-117 0h0m-15 8h0m192 -14h0m-83 -10h0m133 26h0m64 9h0m-191 -40h0m114 18h0m-142 -11h0m-7 -1h0m64 20h0m-66 16h0m-69 -13h0m58 -11h0m-98 7h0m305 24h0m-76 -35h0m153 8h0m-214 1h0m22 -26h0m-188 44h0m114 -13h0m-175 -30h0m193 25h0m182 12h0m-94 -17h0m50 -19h0m-47 5h0m56 -9h0m-2 14h0m-10 -3h0m22 -11h0m-37 17h0m-6 -6h0" stroke="#f7c21a" stroke-opacity="0.6" stroke-width="3"/><path d="M223 1900h0m72 -119h0m-69 76h0m31 -26h0m18 -90h0m-59 228h0m60 -195h0m-72 182h0m29 -72h0m40 -106h0m-25 80h0m-10 8h0m-38 142h0m65 -147h0m15 -114h0m-95 253h0m15 -26h0m31 -106h0m24 -50h0m-84 180h0m61 -68h0m46 -141h0m-67 93h0m28 -35h0m-34 95h0m22 -30h0m58 -121h0m-82 116h0m83 -111h0m-54 44h0m-4 165h0m-18 -127h0m26 37h0m3 -78h0m-14 94h0m-18 -41h0m33 -46h0m30 -95h0m35 6h0m-19 30h0m-67 131h0m-15 45h0m12 -15h0m-32 41h0m30 -34h0m-9 5h0m84 -221h0m-28 76h0m52 -46h0m-90 83h0m-4 115h0m14 -81h0m45 -104h0m21 0h0m-33 35h0m-88 141h0m101 -166h0m-67 153h0m34 -63h0m-23 -18h0m20 -39h0m15 -25h0m-50 158h0m53 -76h0m-62 51h0m101 -127h0m-60 99h0m-18 85h0m-2 -62h0m26 -148h0m14 82h0m-48 -9h0m-4 74h0m40 -89h0m24 -41h0m-68 201h0m88 -235h0m-47 54h0m-18 58h0m-13 54h0m62 -159h0m0 -15h0m2 50h0m26 -43h0m-10 -1h0m-29 38h0m-70 228h0m-7 -35h0m85 -194h0m8 8h0m-41 98h0m19 15h0m-52 36h0m35 -63h0m-6 -16h0m-30 99h0m28 -25h0m40 -151h0m-49 60h0m75 -108h0m-72 94h0m42 -11h0m-57 4h0m49 31h0m52 -103h0m-33 46h0m-40 90h0m-31 -38h0m12 165h0m-16 -128h0m44 -77h0m-6 7h0m-31 141h0m-13 -20h0m-4 -87h0m4 116h0m44 -140h0m-13 17h0m-13 35h0m-19 83h0m106 -209h0m-60 133h0m56 -156h0m34 18h0m-95 45h0m-49 137h0m106 -185h0m-33 91h0m-44 168h0m2 -90h0m30 -128h0m-39 111h0m-2 11h0m50 -167h0m-36 144h0m2 34h0m88 -149h0m-92 75h0m14 23h0m-7 -43h0m26 -4h0m-58 138h0m27 61h0m-9 -69h0m37 -132h0m26 -16h0m6 -76h0m-59 105h0m-28 113h0m18 -46h0m71 -163h0m32 31h0m-24 0h0m-20 -5h0m-30 87h0m-49 129h0m21 -73h0m-17 -4h0m-5 1h0m138 -176h0m-60 79h0m10 -21h0m-84 181h0m27 -129h0m-36 168h0m96 -260h0m-5 3h0m-85 187h0m16 3h0m-6 -43h0m35 16h0m-35 -3h0m49 -113h0m-22 85h0m46 -107h0m-52 65h0m74 -76h0m-117 216h0m-2 -19h0m76 -186h0m-61 177h0m20 -15h0m67 -155h0m-36 24h0m-29 139h0m-22 -19h0m96 -152h0m-77 118h0m1535 -234h0m-77 -11h0m118 4h0m-228 -35h0m159 48h0m-123 -38h0m-25 -11h0m-69 25h0m299 0h0m-123 -15h0m-56 20h0m201 -26h0m-265 7h0m280 -5h0m-98 34h0m62 -16h0m6 -4h0m-152 11h0m48 -7h0m-97 13h0m81 0h0m-70 0h0m109 -17h0m-201 -9h0m210 34h0m40 -60h0m-168 65h0m-33 1h0m75 -2h0m89 -19h0m-173 28h0m174 -39h0m-100 25h0m146 -33h0m-87 -10h0m25 14h0m15 -11h0m52 0h0m-37 4h0" stroke="#f7c21a" stroke-opacity="0.6" stroke-width="3"/><path d="M233 2011h0m38 -218h0m9 -35h0m-65 87h0m21 55h0m47 -125h0m-87 150h0m89 -109h0m-35 30h0m-3 -46h0m7 -26h0m9 4h0m-41 135h0m14 -76h0m25 68h0m-28 -33h0m-39 31h0m5 92h0m36 -140h0m-50 41h0m97 -104h0m8 -33h0m-98 236h0m33 14h0m0 -116h0m53 -128h0m26 -12h0m-21 29h0m-80 198h0m-6 -113h0m79 -106h0m-22 44h0m-19 43h0m60 -91h0m-21 21h0m22 -14h0m-75 108h0m21 6h0m4 -39h0m29 -34h0m-42 5h0m23 17h0m-35 48h0m43 -74h0m3 -46h0m-46 253h0m32 -179h0m10 -29h0m9 -1h0m27 -46h0m-86 197h0m75 -216h0m-52 110h0m24 -77h0m30 -8h0m-56 92h0m17 -53h0m48 -39h0m-37 16h0m-53 124h0m9 73h0m15 -118h0m-48 85h0m16 25h0m89 -182h0m-41 -12h0m-3 97h0m-39 114h0m-22 45h0m37 -133h0m101 -174h0m-35 37h0m-37 90h0m-40 81h0m26 -75h0m1 40h0m5 -40h0m-43 122h0m99 -230h0m-78 204h0m-19 -54h0m51 -92h0m29 -55h0m-71 191h0m84 -172h0m-36 58h0m-50 47h0m3 43h0m-4 105h0m85 -277h0m-84 210h0m9 -25h0m49 -128h0m-61 150h0m40 -67h0m-35 91h0m-32 0h0m71 -132h0m-33 -16h0m-14 130h0m62 -73h0m-53 28h0m23 -66h0m24 -58h0m-20 46h0m53 -36h0m-69 104h0m-31 29h0m88 -173h0m-70 182h0m15 -53h0m-11 120h0m-15 -60h0m5 30h0m21 -68h0m81 -125h0m-105 147h0m27 -76h0m70 -114h0m-12 52h0m-35 -9h0m51 -47h0m-101 221h0m15 8h0m14 -122h0m26 -9h0m-55 159h0m30 -103h0m17 32h0m-43 -41h0m71 -47h0m-93 160h0m83 -184h0m-20 45h0m-54 56h0m56 -101h0m-15 174h0m33 -185h0m-53 132h0m-3 -11h0m24 -38h0m74 -109h0m-63 113h0m14 -95h0m19 -9h0m0 -56h0m-91 230h0m114 -188h0m-28 24h0m-22 12h0m26 -14h0m-53 118h0m65 -148h0m-78 122h0m1 33h0m27 -40h0m-41 -4h0m115 -122h0m-83 114h0m-15 91h0m38 -117h0m16 -39h0m12 -8h0m-59 75h0m-32 107h0m93 -182h0m-7 -14h0m2 -29h0m-15 93h0m-68 159h0m30 -134h0m6 -1h0m-13 27h0m54 -107h0m-56 218h0m46 -187h0m-48 133h0m91 -212h0m-77 128h0m37 -92h0m-35 72h0m-26 109h0m7 -95h0m73 -96h0m16 -29h0m-58 125h0m-23 40h0m5 -18h0m27 -102h0m10 46h0m-9 68h0m1484 -233h0m-103 -6h0m3 11h0m-53 -41h0m123 13h0m-169 21h0m245 -12h0m-55 -24h0m60 5h0m-194 27h0m-124 -5h0m88 -5h0m69 12h0m-53 -16h0m-54 2h0m220 8h0m-149 3h0m155 3h0m16 -10h0m-240 6h0m211 20h0m-142 -52h0m-84 26h0m285 26h0m-143 -21h0m188 -25h0m-83 8h0m-9 -7h0m9 -9h0m-44 9h0m49 8h0m30 -3h0" stroke="#f7c21a" stroke-opacity="0.6" stroke-width="4"/><path d="M226 2002h0m45 -222h0m-24 29h0m-53 179h0m24 -63h0m21 -123h0m-31 115h0m54 -191h0m13 79h0m-65 100h0m14 75h0m0 -92h0m-2 -64h0m6 24h0m31 -66h0m-22 104h0m-31 107h0m57 -117h0m-81 99h0m75 -133h0m-48 67h0m95 -159h0m-9 48h0m-63 114h0m-14 39h0m50 -130h0m17 -65h0m-65 165h0m51 -127h0m-40 17h0m24 3h0m61 -97h0m-94 163h0m-2 35h0m-29 65h0m80 -245h0m-48 144h0m-11 54h0m20 -14h0m1 -34h0m-4 10h0m35 -112h0m-11 91h0m-41 28h0m110 -153h0m-90 167h0m-17 -84h0m67 -45h0m-83 238h0m84 -254h0m-76 205h0m-8 38h0m10 -20h0m46 -196h0m-46 194h0m86 -219h0m-92 186h0m15 1h0m60 -178h0m-34 102h0m-17 51h0m30 -129h0m25 -33h0m-32 50h0m-33 122h0m2 -3h0m6 57h0m9 -174h0m49 -85h0m-10 73h0m-47 52h0m4 -10h0m56 -97h0m-74 135h0m-19 87h0m99 -248h0m-74 266h0m89 -249h0m-108 198h0m5 11h0m39 -103h0m-5 6h0m22 -37h0m40 -63h0m-63 82h0m46 -91h0m-59 116h0m-1 32h0m-11 47h0m4 63h0m52 -236h0m-2 6h0m-34 46h0m47 -13h0m-46 113h0m42 -140h0m-59 120h0m7 -28h0m82 -96h0m-93 170h0m9 4h0m73 -208h0m2 10h0m-82 197h0m21 20h0m7 -93h0m6 -37h0m-56 127h0m29 -45h0m-1 62h0m-34 -17h0m52 -114h0m-37 142h0m12 -99h0m52 -114h0m-69 202h0m9 -9h0m96 -193h0m-84 186h0m18 -122h0m-39 120h0m50 -130h0m-30 30h0m10 107h0m54 -218h0m-7 15h0m-82 159h0m57 -35h0m-38 67h0m23 -149h0m80 -85h0m-75 190h0m13 -100h0m-44 179h0m106 -262h0m-44 65h0m26 -18h0m-52 99h0m49 -124h0m-66 191h0m83 -193h0m-51 94h0m8 -30h0m-53 149h0m55 -199h0m-9 96h0m-17 25h0m-8 -43h0m-74 157h0m36 -83h0m-14 18h0m32 -89h0m46 -65h0m-35 74h0m-36 118h0m72 -97h0m-66 116h0m28 -112h0m-17 13h0m-9 23h0m22 10h0m-11 20h0m2 -1h0m-11 7h0m53 -114h0m43 -88h0m-64 130h0m4 -9h0m-22 122h0m-3 -52h0m-13 -34h0m55 -112h0m14 54h0m-64 81h0m1337 -290h0m277 1h0m-209 13h0m-36 -10h0m131 -16h0m96 -3h0m-213 24h0m122 -9h0m-160 -11h0m48 26h0m-80 -25h0m139 0h0m-61 23h0m-94 -16h0m208 16h0m151 2h0m66 -36h0m-17 -6h0m-329 32h0m-44 -5h0m-63 14h0m168 -22h0m215 -22h0m-291 11h0m223 -12h0m-94 56h0m-112 -45h0m127 14h0m47 -7h0m-26 13h0m45 -23h0m-12 15h0m35 -10h0m-47 -14h0m6 15h0" stroke="#f7c21a" stroke-opacity="0.6" stroke-width="4"/><path d="M226 1867h0m23 -28h0m-40 153h0m99 -244h0m-39 5h0m-64 159h0m45 -92h0m-54 128h0m47 -100h0m6 -22h0m-17 175h0m2 -133h0m22 -75h0m-62 111h0m97 -142h0m-58 145h0m18 -82h0m-5 1h0m-53 56h0m76 -101h0m-94 159h0m30 -36h0m42 -51h0m34 -107h0m-16 102h0m-17 -70h0m-51 183h0m27 1h0m86 -190h0m-112 216h0m-6 -50h0m40 3h0m-30 -70h0m48 -44h0m-61 169h0m69 -149h0m-47 140h0m-11 -31h0m1 -1h0m66 -149h0m-28 139h0m-15 37h0m16 -109h0m-18 35h0m29 -101h0m-30 205h0m-29 -65h0m52 -118h0m12 -30h0m-41 221h0m-26 -8h0m47 -114h0m-19 22h0m30 -63h0m-30 13h0m79 -94h0m-74 225h0m-15 -63h0m42 -108h0m-21 38h0m21 -11h0m-51 94h0m8 1h0m49 -159h0m-68 215h0m64 -158h0m39 -89h0m0 6h0m-100 222h0m49 -101h0m0 -68h0m-33 127h0m47 -34h0m-34 25h0m35 -137h0m19 52h0m-89 76h0m9 19h0m65 -127h0m0 -2h0m5 -88h0m-13 143h0m2 -47h0m-45 94h0m74 -129h0m-29 12h0m-50 107h0m5 92h0m51 -217h0m-34 163h0m54 -156h0m-62 115h0m41 -99h0m-56 179h0m79 -209h0m-58 101h0m21 -1h0m-30 69h0m11 -18h0m-26 41h0m33 -95h0m29 -72h0m10 24h0m1 -24h0m-28 20h0m31 -17h0m-52 93h0m-11 -14h0m-4 -13h0m-9 69h0m23 -44h0m38 -68h0m-54 90h0m60 -81h0m-8 -55h0m-28 113h0m24 -63h0m-35 113h0m27 -55h0m22 -50h0m-39 75h0m21 -121h0m58 -27h0m-59 -4h0m-48 235h0m7 -119h0m30 -38h0m24 -34h0m3 -15h0m11 24h0m10 -52h0m5 16h0m-1 -3h0m-60 51h0m-42 109h0m26 -106h0m53 -10h0m-47 144h0m92 -196h0m-50 59h0m-6 9h0m-45 37h0m103 -144h0m-108 244h0m36 -195h0m1 110h0m3 -1h0m4 -50h0m-4 8h0m-12 32h0m-35 27h0m72 -111h0m-67 151h0m0 0h0m1 56h0m36 -149h0m-10 121h0m-22 10h0m-12 -34h0m28 -4h0m102 -204h0m-79 76h0m-11 87h0m54 -171h0m-55 125h0m62 -131h0m-2 32h0m-55 116h0m1349 -231h0m-2 -17h0m183 31h0m-138 -6h0m23 -44h0m-46 45h0m123 -5h0m-101 -23h0m110 -3h0m-137 -9h0m26 51h0m259 -18h0m-284 12h0m23 -21h0m-1 19h0m45 -32h0m29 -7h0m-25 64h0m-47 -46h0m6 -3h0m-232 -16h0m317 24h0m31 -14h0m-50 47h0m-96 -15h0m191 -23h0m-25 -10h0m18 -4h0m-61 -18h0" stroke="#f7c21a" stroke-opacity="0.6" stroke-width="4"/><path d="M281 1811h0m-38 23h0m17 -60h0m-21 61h0m-16 -9h0m49 -30h0m-29 -2h0m14 49h0m-39 36h0m47 -115h0m-5 5h0m-34 146h0m81 -153h0m-87 183h0m-26 -20h0m93 -169h0m-108 240h0m38 -27h0m45 -188h0m-44 143h0m39 -104h0m-19 48h0m1452 -237h0m-60 -8h0m81 43h0m-194 2h0m72 -5h0m96 -24h0m-48 33h0m232 -9h0m-110 -40h0m3 58h0m-252 -29h0m222 -1h0m-10 -4h0m1 8h0m-76 -13h0m174 21h0m-179 -33h0m7 33h0m180 -16h0m-410 1h0m357 8h0m-192 -10h0m0 -5h0m42 25h0m-31 -18h0m-13 -33h0m203 17h0m14 -1h0m-85 -6h0m68 4h0m-40 1h0m-13 -8h0m15 9h0" stroke="#f7c21a" stroke-opacity="0.6" stroke-width="5"/><path d="M235 1853h0m65 -84h0m-91 224h0m42 -41h0m-45 69h0m-23 -49h0m43 -55h0m-15 9h0m13 -108h0m27 70h0m5 -83h0m41 -30h0m-86 130h0m16 -6h0m1 -60h0m2 146h0m-18 7h0m38 -115h0m43 -131h0m-89 216h0m20 -14h0m52 -104h0m15 -16h0m-42 -12h0m25 11h0m22 -72h0m-47 79h0m-38 92h0m111 -180h0m-122 209h0m15 -54h0m65 -136h0m1269 -116h0m219 -24h0m17 41h0m-150 -10h0m80 -32h0m-93 48h0m24 -19h0m4 -12h0m-64 -8h0m169 -9h0m-101 30h0m46 -21h0m-202 7h0m310 -6h0m-50 18h0m-131 23h0m-85 -55h0m24 43h0m-40 -34h0m300 14h0m-49 36h0m-100 -41h0m201 -6h0m-424 5h0m169 43h0m2 -14h0m-76 -20h0m113 5h0m89 -4h0m-61 9h0m40 -14h0m9 -27h0" stroke="#f7c21a" stroke-opacity="0.6" stroke-width="5"/><path d="M221 1933h0m-14 -48h0m49 -19h0m-35 10h0m53 -100h0m-55 146h0m97 -136h0m-79 73h0m64 -93h0m-113 128h0m120 -139h0m-51 52h0m-62 162h0m-3 -33h0m12 65h0m21 -141h0m36 -70h0m-44 204h0m81 -243h0m-67 86h0m-33 64h0m48 -65h0m-30 64h0m40 -118h0m-31 239h0m22 -205h0m8 -27h0m-33 155h0m-1 -68h0m4 14h0m59 -154h0m1352 -101h0m-65 -10h0m207 27h0m-140 -3h0m-30 -6h0m25 -4h0m-157 30h0m267 -3h0m-138 6h0m16 -34h0m6 18h0m136 -8h0m26 -14h0m-215 25h0m66 -19h0m-19 5h0m101 4h0m-192 -13h0m78 15h0m172 5h0m-129 -14h0m55 22h0m-68 -40h0m92 44h0m-25 -17h0m-135 -35h0m122 14h0m105 13h0m-95 2h0m100 -9h0m-8 12h0m-121 -15h0m19 15h0m98 32h0m-146 -39h0m88 -18h0m49 12h0m-23 -7h0m-57 -7h0m45 14h0" stroke="#f7c21a" stroke-opacity="0.6" stroke-width="5"/><path d="M1615 1651h0m2 -9h0m76 -29h0m109 12h0m-203 11h0" stroke="#f7c21a" stroke-opacity="0.6" stroke-width="6"/><path d="M1695 1641h0m-73 13h0m-177 -8h0m221 9h0m72 -3h0m-13 -8h0m-50 -2h0m-40 -3h0" stroke="#f7c21a" stroke-opacity="0.6" stroke-width="6"/><path d="M1660 1645h0m115 -22h0m43 15h0m-51 26h0m-27 -29h0" stroke="#f7c21a" stroke-opacity="0.6" stroke-width="6"/><path d="M484 1668h0m32 -4h0m166 59h0m-24 -18h0m-64 -25h0m1044 159h0m42 87h0m-27 -31h0m69 -47h0m2 88h0m-109 -43h0m17 -5h0m-73 -24h0m64 33h0m59 -39h0m42 45h0" stroke="#ff2020" stroke-opacity="0.5" stroke-width="2"/><path d="M628 1717h0m-21 18h0m53 -43h0m-31 45h0m-17 -16h0m34 18h0m4 -2h0m30 -48h0m22 -23h0m-39 63h0m-2 -13h0m954 157h0m15 76h0m20 -36h0m-73 -56h0" stroke="#ff2020" stroke-opacity="0.5" stroke-width="2"/><path d="M633 1666h0m-21 36h0m-53 35h0m29 -26h0m-31 -25h0m-43 37h0m91 -30h0m-50 21h0m76 -11h0m1066 236h0m-151 12h0m116 -3h0m-14 -50h0m30 -15h0m-57 -4h0" stroke="#ff2020" stroke-opacity="0.5" stroke-width="2"/><path d="M620 1750h0m28 -58h0m-105 -15h0m62 0h0m78 4h0m-16 33h0m12 -39h0m8 -35h0m-115 36h0m40 10h0m-88 -25h0m82 5h0m-65 45h0m117 51h0m-63 -83h0m-1 39h0m63 -32h0m-44 -1h0m-36 31h0m90 9h0m-48 8h0m8 -32h0m1082 249h0m-89 -52h0m96 75h0m-132 -58h0m-42 -44h0m147 34h0m-67 2h0" stroke="#ff2020" stroke-opacity="0.5" stroke-width="3"/><path d="M550 1721h0m82 -47h0m-8 34h0m-53 29h0m128 -49h0m-32 -19h0m-93 92h0m-20 -69h0m106 20h0m-13 5h0m-19 -28h0m-77 -23h0m52 70h0m-94 -17h0m41 -61h0m71 65h0m996 180h0m-61 -20h0m106 15h0m-25 23h0m25 -15h0m-15 -10h0m50 76h0m-55 -100h0m43 62h0m30 -25h0m-174 82h0" stroke="#ff2020" stroke-opacity="0.5" stroke-width="3"/><path d="M576 1675h0m46 22h0m-33 10h0m-2 11h0m-17 -5h0m68 43h0m-8 -46h0m-102 44h0m131 -83h0m14 60h0m-115 4h0m35 -34h0m97 14h0m-120 -26h0m24 35h0m-88 28h0m188 -28h0m987 166h0m-15 33h0m-3 -1h0m38 37h0m-60 -90h0m4 -8h0m28 95h0m26 -42h0m-13 3h0m-53 -9h0m27 -65h0m-50 51h0" stroke="#ff2020" stroke-opacity="0.5" stroke-width="3"/><path d="M492 1722h0m145 -25h0m-14 39h0m-57 19h0m-8 -32h0m-20 -17h0m81 38h0m115 -37h0m-34 -14h0m-147 6h0m32 4h0m71 47h0m18 -39h0m-15 -9h0m-38 58h0m21 -7h0m52 -76h0m-116 25h0m123 5h0m-120 -14h0m43 -23h0m-12 34h0" stroke="#ff2020" stroke-opacity="0.5" stroke-width="4"/><path d="M607 1704h0m25 -17h0m32 -30h0m15 62h0m-115 -42h0m-5 13h0m13 11h0m94 32h0m-23 -6h0m-22 -68h0m52 -23h0m-125 120h0m221 -50h0m-72 -42h0m-167 -28h0m21 59h0m27 -1h0m72 -50h0m-5 68h0m1007 206h0" stroke="#ff2020" stroke-opacity="0.5" stroke-width="4"/><path d="M622 1659h0m47 53h0m-92 9h0m-35 -33h0m115 38h0m-13 -22h0m-28 -52h0m21 71h0m30 21h0m-70 -51h0m71 56h0m-55 -13h0m45 7h0m-208 -60h0m80 -12h0m112 65h0m6 -7h0m-94 -11h0m-34 -69h0m100 30h0m-129 -22h0m30 37h0" stroke="#ff2020" stroke-opacity="0.5" stroke-width="4"/><path d="M1751 1766h0m-11 17h0m18 -40h0m45 -48h0m-52 78h0m22 -40h0m-67 128h0m19 -68h0m-11 38h0m-12 -12h0m56 -79h0m19 -28h0m-28 76h0m32 -58h0m-59 77h0m-45 40h0m18 3h0" stroke="#ff2020" stroke-opacity="0.6" stroke-width="2"/><path d="M1800 1695h0m-58 71h0m-67 99h0m121 -150h0m-3 -15h0m-59 121h0m4 -27h0m10 -43h0m7 22h0m-7 12h0m18 -72h0" stroke="#ff2020" stroke-opacity="0.6" stroke-width="2"/><path d="M1782 1713h0m-1 -3h0m-5 52h0m-100 101h0m1 15h0m4 2h0m117 -167h0m-61 77h0" stroke="#ff2020" stroke-opacity="0.6" stroke-width="2"/><path d="M1722 1819h0m9 -34h0m-32 66h0m114 -158h0m-140 179h0m136 -178h0m-49 67h0m-57 84h0m78 -120h0m37 -36h0m-96 134h0m72 -116h0m-96 136h0m-3 -5h0m71 -109h0m-27 38h0m-11 51h0m12 -30h0m50 -92h0m-6 31h0m4 -17h0m-100 164h0m26 -40h0m55 -104h0m31 -28h0m-73 107h0m-43 56h0m32 -22h0m16 -66h0m-23 64h0m79 -151h0m-31 64h0m-19 30h0m29 -63h0m31 -23h0m-55 71h0m45 -38h0m-47 55h0m-36 40h0m-3 10h0m64 -112h0m23 -24h0m-47 88h0m-14 -12h0m39 -39h0m9 -38h0" stroke="#ff2020" stroke-opacity="0.6" stroke-width="3"/><path d="M1815 1699h0m-103 113h0m-31 62h0m38 -48h0m13 -33h0m65 -103h0m-97 138h0m101 -131h0m-104 137h0m51 -73h0m56 -69h0m-26 21h0m9 -25h0m-41 81h0m16 -30h0m-15 53h0m-62 67h0m98 -150h0m-52 91h0m21 -41h0m-45 70h0m57 -71h0m-44 60h0m-26 29h0m119 -159h0m-124 192h0m34 -74h0m51 -56h0m-55 91h0m22 -74h0m-47 77h0m30 -62h0m43 -44h0m-44 70h0m-18 13h0m21 -19h0m-18 4h0m-29 78h0m58 -99h0m24 -38h0" stroke="#ff2020" stroke-opacity="0.6" stroke-width="3"/><path d="M1743 1802h0m28 -60h0m-93 130h0m73 -119h0m-24 36h0m15 -50h0m-23 104h0m-30 15h0m26 -46h0m67 -98h0m-46 80h0m-48 74h0m5 -31h0m60 -77h0m-28 27h0m42 -27h0m-15 -6h0m-13 35h0m20 -41h0m-68 114h0m27 -69h0m-12 75h0m-28 15h0m82 -144h0m16 -38h0m-12 41h0m-75 136h0m17 -34h0m-15 28h0m84 -125h0m-1 -35h0m17 7h0m-40 27h0m8 8h0m-38 50h0m86 -131h0" stroke="#ff2020" stroke-opacity="0.6" stroke-width="3"/><path d="M1748 1780h0m45 -74h0m-71 92h0m37 -35h0m15 -29h0m-1 -7h0m-19 41h0m8 -32h0m29 -2h0m-39 12h0m-28 79h0m13 -79h0m-22 72h0m46 -94h0m18 9h0m-43 75h0m1 -44h0m-49 109h0m-5 -8h0m62 -85h0m-61 93h0m-8 -12h0" stroke="#ff2020" stroke-opacity="0.6" stroke-width="4"/><path d="M1682 1864h0m94 -140h0m-9 42h0m-77 99h0m81 -144h0m-66 118h0m10 1h0m21 -47h0m20 -41h0m-29 83h0m-9 -9h0m57 -129h0m36 -10h0m-36 28h0m-12 7h0m-72 158h0m-11 3h0m43 -83h0m10 -24h0m-31 42h0m47 -70h0m-48 85h0m84 -118h0m-89 147h0m48 -112h0m-29 74h0m16 -32h0m28 -43h0" stroke="#ff2020" stroke-opacity="0.6" stroke-width="4"/><path d="M1699 1866h0m55 -123h0m-34 29h0m52 -47h0m-17 22h0m-32 53h0m-34 58h0m85 -128h0m-62 127h0m33 -94h0m40 -36h0m-24 -18h0m-44 114h0" stroke="#ff2020" stroke-opacity="0.6" stroke-width="4"/><path d="M613 1801h0m26 44h0m-75 -129h0m18 31h0m19 43h0m-11 -31h0m56 98h0m9 34h0m-48 -99h0m1126 -51h0m1 0h0m21 -2h0" stroke="#ff2020" stroke-opacity="0.7" stroke-width="2"/><path d="M618 1800h0m22 57h0m-12 -60h0m-13 32h0m33 -7h0m-37 -24h0m41 54h0m-52 -71h0m-2 5h0m32 51h0m-12 -19h0m-31 -34h0m-19 -56h0m41 72h0m-1 20h0m26 2h0m-70 -97h0m8 -6h0m40 75h0m5 -3h0m-52 -79h0m-3 -15h0m14 18h0m37 59h0m-35 -45h0m56 127h0m-53 -100h0m56 86h0m5 -9h0m-57 -89h0m-27 -29h0m78 116h0m17 49h0m1100 -137h0" stroke="#ff2020" stroke-opacity="0.7" stroke-width="2"/><path d="M559 1717h0m32 24h0m66 138h0m-22 -60h0m-46 -54h0m18 58h0m50 73h0m-31 -73h0m-25 -33h0m44 68h0m-52 -126h0m-9 27h0m76 116h0m-96 -168h0m81 163h0m-32 -93h0m-14 -15h0m58 102h0m1077 -124h0m23 7h0m-14 -1h0" stroke="#ff2020" stroke-opacity="0.7" stroke-width="2"/><path d="M625 1815h0m-57 -79h0m5 -7h0m15 19h0m45 128h0m-9 -32h0m-19 -47h0m51 56h0m-67 -125h0m24 65h0m-62 -92h0m70 92h0m-12 23h0m-72 -116h0m70 79h0m-70 -74h0m73 71h0m-4 0h0m53 77h0m-64 -102h0m-7 -16h0m7 7h0m-17 -22h0m13 9h0m37 97h0m-29 -35h0m-42 -78h0m39 64h0m10 6h0m-21 -47h0m37 77h0m-32 -63h0m37 83h0m28 7h0m-63 -80h0m51 91h0m-92 -141h0m11 19h0m23 20h0m12 45h0m67 83h0m-95 -155h0m34 68h0m-3 9h0m-3 0h0m49 50h0m-65 -87h0m57 106h0m-1 -8h0m-14 -41h0m1134 -71h0m-7 -14h0m-17 13h0m-2 4h0m6 -11h0" stroke="#ff2020" stroke-opacity="0.7" stroke-width="3"/><path d="M633 1825h0m-22 -62h0m9 66h0m-32 -98h0m49 89h0m-50 -88h0m41 56h0m-8 42h0m37 61h0m-46 -90h0m-71 -109h0m10 17h0m97 145h0m-77 -134h0m43 78h0m-7 -45h0m-56 -56h0m81 143h0m25 21h0m-100 -149h0m97 165h0m-98 -174h0m55 81h0m37 60h0m-76 -123h0m50 75h0m-52 -82h0m21 53h0m-18 -28h0m-14 -32h0m48 74h0m16 37h0m-31 -43h0m-8 -31h0m66 128h0m-75 -160h0m66 146h0m-66 -126h0m68 104h0m-14 1h0m3 7h0m-45 -98h0m-44 -41h0m84 85h0m11 41h0m6 38h0m-62 -114h0m49 49h0m-11 -5h0m12 70h0m-14 -109h0m-27 22h0m49 69h0m17 20h0m-65 -109h0m18 -2h0m1126 -13h0m1 2h0m16 5h0m7 -7h0m-9 -3h0" stroke="#ff2020" stroke-opacity="0.7" stroke-width="3"/><path d="M627 1834h0m14 40h0m6 0h0m-45 -69h0m44 80h0m-51 -123h0m-22 -34h0m15 36h0m23 26h0m40 86h0m-26 -77h0m-40 -37h0m16 -6h0m46 109h0m-2 -23h0m-4 -13h0m-18 -15h0m29 63h0m-20 -44h0m-8 30h0m17 5h0m-43 -112h0m34 49h0m21 62h0m-105 -157h0m81 70h0m-9 2h0m-15 -18h0m35 107h0m-61 -138h0m-9 -26h0m46 68h0m18 38h0m-18 -9h0m39 68h0m-2 4h0m-66 -102h0m-6 -45h0m10 53h0m-35 -71h0m11 -6h0m47 89h0m-40 -57h0m40 72h0m18 41h0m-59 -114h0m1 -14h0m-27 -24h0m79 177h0m-50 -141h0m48 93h0m-77 -139h0m15 26h0m35 76h0m40 56h0m-79 -133h0m88 157h0m-44 -108h0m-19 -21h0m55 89h0m-9 -30h0m-13 20h0m41 58h0m-82 -155h0m65 137h0m-50 -86h0m-27 -57h0m10 -4h0m42 102h0m-13 -6h0m26 32h0m28 19h0m-94 -153h0m39 53h0m51 123h0m1098 -145h0m-14 17h0m0 -17h0m13 6h0m1 3h0m8 5h0m-25 -17h0m16 13h0m-21 -2h0m8 2h0" stroke="#ff2020" stroke-opacity="0.7" stroke-width="3"/><path d="M575 1746h0m8 -6h0m13 27h0m23 46h0m-11 -9h0m15 35h0m-65 -135h0m6 23h0m26 35h0m21 32h0m-64 -100h0m72 77h0m-53 -72h0m72 134h0m-12 -3h0m-38 -62h0m34 42h0m-1 14h0m23 41h0m-67 -127h0m79 136h0m-122 -168h0m103 101h0m18 61h0m-20 -9h0m-9 -29h0m-7 -25h0m-14 -32h0m26 44h0m-20 -10h0m-18 -29h0m-9 -43h0m40 71h0m-10 -11h0m34 39h0m-69 -68h0m75 101h0m-36 -59h0m-55 -99h0m1165 28h0m6 -2h0m19 11h0m-30 -12h0m17 4h0" stroke="#ff2020" stroke-opacity="0.7" stroke-width="4"/><path d="M559 1703h0m32 46h0m25 63h0m9 6h0m20 40h0m-66 -126h0m66 140h0m-12 -43h0m10 34h0m-23 -34h0m9 -10h0m-36 -35h0m2 -36h0m27 64h0m-32 -51h0m-43 -59h0m61 98h0m14 24h0m-43 -95h0m12 44h0m26 18h0m-55 -79h0m67 117h0m-2 1h0m-4 -30h0m19 62h0m-81 -153h0m43 97h0m-62 -104h0m91 138h0m-99 -142h0m113 173h0m-72 -159h0m41 110h0m-34 -93h0m-16 -29h0m71 135h0m-82 -144h0m97 177h0m1096 -126h0m-10 1h0m-16 15h0m27 -7h0" stroke="#ff2020" stroke-opacity="0.7" stroke-width="4"/><path d="M644 1859h0m-84 -140h0m67 132h0m-65 -136h0m-28 -13h0m64 66h0m36 65h0m4 -1h0m-62 -105h0m57 101h0m12 4h0m-27 -20h0m-3 -24h0m-12 21h0m-6 -28h0m18 0h0m5 49h0m-42 -84h0m32 32h0m24 54h0m-34 -69h0m3 3h0m3 25h0m-51 -94h0m17 23h0m84 157h0m-64 -71h0m61 52h0m-37 -50h0m-11 -3h0m-31 -82h0m63 115h0m-35 -41h0m-51 -107h0m15 21h0m34 70h0m26 52h0m5 -4h0m-54 -75h0m3 -9h0m58 96h0m-23 -8h0m34 50h0m-50 -110h0m-16 -32h0m1160 -18h0m-3 33h0m-2 7h0" stroke="#ff2020" stroke-opacity="0.7" stroke-width="4"/><path d="M715 1676h0m-8 3h0m-1 -1h0m13 8h0m-18 -8h0m-9 -2h0m15 -4h0m-13 11h0m34 -2h0m-20 0h0" stroke="#ff2020" stroke-opacity="0.8" stroke-width="2"/><path d="M708 1683h0m10 -3h0m1 2h0m-13 0h0m10 4h0m-2 -17h0m-11 7h0m8 5h0m3 5h0m-2 -3h0m7 -3h0" stroke="#ff2020" stroke-opacity="0.8" stroke-width="2"/><path d="M709 1679h0m-6 5h0m15 6h0m6 -13h0m-7 -4h0m-28 -1h0m8 8h0m-4 9h0m15 -3h0" stroke="#ff2020" stroke-opacity="0.8" stroke-width="2"/><path d="M682 1684h0m31 -18h0m-9 14h0m1 -4h0m22 2h0m-23 0h0m6 -7h0m-12 14h0m-3 -9h0m18 -5h0m-14 8h0m0 1h0m28 -12h0m-31 21h0m6 -11h0m8 -2h0m3 4h0m-24 -3h0" stroke="#ff2020" stroke-opacity="0.8" stroke-width="3"/><path d="M698 1681h0m34 11h0m-16 -15h0m1 3h0m-3 -5h0m22 3h0m-10 -1h0m-17 -7h0m-17 8h0m20 4h0m-1 -10h0m4 2h0m15 2h0m-38 10h0m7 -10h0m9 -8h0m17 5h0m-16 6h0m-6 1h0m11 1h0m-2 -9h0m1 10h0m-11 1h0" stroke="#ff2020" stroke-opacity="0.8" stroke-width="3"/><path d="M705 1683h0m1 -6h0m-9 8h0m19 0h0m-7 -7h0m-10 4h0m9 1h0m1 1h0m-1 -3h0m-5 3h0m-5 -15h0m22 14h0m-19 -1h0m7 -1h0m-7 -2h0m19 -7h0m-3 5h0m6 7h0m9 -7h0m-55 -1h0m42 4h0m-10 -7h0m13 7h0" stroke="#ff2020" stroke-opacity="0.8" stroke-width="3"/><path d="M705 1676h0m1 9h0m2 -10h0m-13 5h0m32 8h0m-40 -4h0m26 -11h0m1 11h0m-28 -4h0m14 1h0m-5 1h0m16 -7h0" stroke="#ff2020" stroke-opacity="0.8" stroke-width="4"/><path d="M696 1676h0m-22 5h0m28 -3h0m5 1h0m3 3h0m10 -7h0m-5 5h0m-4 -1h0m-20 0h0m-4 -7h0m19 18h0m2 -6h0m21 3h0m-29 1h0m1 -13h0m13 8h0m13 1h0m-8 -2h0m-13 -10h0m7 6h0" stroke="#ff2020" stroke-opacity="0.8" stroke-width="4"/><path d="M707 1669h0m-17 16h0m18 -9h0m-13 6h0m17 -4h0m14 6h0m-10 -2h0m11 -13h0m-14 11h0m15 8h0m-1 1h0m0 -2h0m-26 -10h0m27 -4h0m-28 7h0m8 -8h0m-3 14h0" stroke="#ff2020" stroke-opacity="0.8" stroke-width="4"/><path d="M530 1703h0m-120 24h0m-3 -47h0m44 74h0m73 -34h0m-104 -53h0m137 42h0" stroke="#ff22ff" stroke-opacity="0.45" stroke-width="2"/><path d="M521 1697h0m15 -20h0m-109 78h0m89 3h0m-44 -13h0m50 4h0m-20 -57h0m22 -69h0m-1 97h0" stroke="#ff22ff" stroke-opacity="0.45" stroke-width="2"/><path d="M649 1655h0m-107 92h0m100 -41h0m-121 8h0m-2 4h0" stroke="#ff22ff" stroke-opacity="0.45" stroke-width="2"/><path d="M550 1718h0m-87 -23h0m23 54h0m37 -23h0m-3 -72h0m62 21h0m-114 108h0m24 -68h0m114 -6h0m-58 7h0m6 -14h0m-27 47h0m13 -6h0m-137 -55h0m142 6h0m-41 15h0" stroke="#ff22ff" stroke-opacity="0.45" stroke-width="3"/><path d="M505 1691h0m5 47h0m-34 2h0m115 24h0m-71 -50h0m0 19h0m24 2h0m-53 34h0m40 13h0m-10 -91h0m23 -38h0m2 45h0m33 37h0m-179 -69h0m34 13h0m123 35h0m34 -55h0m-130 70h0m45 -50h0m36 52h0m-7 -77h0m-46 79h0m75 -22h0" stroke="#ff22ff" stroke-opacity="0.45" stroke-width="3"/><path d="M509 1707h0m12 17h0m-38 13h0m62 15h0m36 -92h0m-111 59h0m67 -53h0m37 9h0m-141 98h0m77 -58h0m8 37h0m-32 -1h0m-7 -104h0m11 80h0m52 -9h0m-33 31h0m1 0h0m-45 -30h0m55 -62h0" stroke="#ff22ff" stroke-opacity="0.45" stroke-width="3"/><path d="M438 1700h0m123 24h0m-34 23h0m28 -60h0m-85 119h0m43 -99h0m25 -19h0" stroke="#ff22ff" stroke-opacity="0.45" stroke-width="4"/><path d="M384 1758h0m142 -7h0m85 21h0m-71 -35h0m-64 -25h0m157 75h0m-145 -40h0m9 -81h0m25 43h0m2 26h0" stroke="#ff22ff" stroke-opacity="0.45" stroke-width="4"/><path d="M641 1691h0m-131 13h0m5 30h0m21 -25h0m-8 -14h0m-65 48h0m65 -64h0m129 9h0" stroke="#ff22ff" stroke-opacity="0.45" stroke-width="4"/><path d="M1358 2015h0m70 -23h0m-76 -120h0m-60 3h0m105 65h0m-101 -4h0" stroke="#ff22ff" stroke-opacity="0.5" stroke-width="2"/><path d="M1314 1957h0m103 3h0m0 -43h0m12 13h0m-84 31h0" stroke="#ff22ff" stroke-opacity="0.5" stroke-width="2"/><path d="M1294 1924h0m24 70h0m35 -130h0" stroke="#ff22ff" stroke-opacity="0.5" stroke-width="2"/><path d="M1390 1951h0m-42 -61h0m47 53h0m45 -17h0m-62 58h0m96 -72h0m-48 20h0m-30 -28h0m26 -5h0m6 1h0m-2 31h0m17 -11h0" stroke="#ff22ff" stroke-opacity="0.5" stroke-width="3"/><path d="M1365 1976h0m-9 -26h0m96 -145h0m-128 45h0m69 70h0m-13 50h0m24 -19h0m-43 -91h0m-28 164h0m36 -75h0" stroke="#ff22ff" stroke-opacity="0.5" stroke-width="3"/><path d="M1388 1943h0m-73 59h0m112 -73h0m-114 84h0m83 -163h0m27 132h0m-69 4h0m32 -80h0m61 104h0m-52 -49h0" stroke="#ff22ff" stroke-opacity="0.5" stroke-width="3"/><path d="M1393 1927h0m12 12h0m0 59h0m-43 -116h0m-17 -27h0m6 168h0m64 -182h0" stroke="#ff22ff" stroke-opacity="0.5" stroke-width="4"/><path d="M1354 1897h0m6 106h0m13 -101h0" stroke="#ff22ff" stroke-opacity="0.5" stroke-width="4"/><path d="M1364 1883h0m110 46h0m-43 40h0m14 -108h0m-174 83h0m107 -29h0m24 -44h0m-59 134h0m12 -91h0" stroke="#ff22ff" stroke-opacity="0.5" stroke-width="4"/><path d="M1452 2067h0m-49 -24h0m82 44h0" stroke="#ff22ff" stroke-opacity="0.55" stroke-width="2"/><path d="M1451 2071h0m-16 -19h0m-47 -25h0m88 65h0m-49 -36h0m64 51h0m-78 -61h0" stroke="#ff22ff" stroke-opacity="0.55" stroke-width="2"/><path d="M1359 2019h0m123 91h0m-74 -76h0m-7 14h0m13 -8h0m58 47h0m-35 -22h0m-49 -43h0m87 86h0m-77 -82h0m11 26h0m76 60h0" stroke="#ff22ff" stroke-opacity="0.55" stroke-width="2"/><path d="M1495 2100h0m-27 -17h0m2 15h0m-20 -15h0m-48 -41h0m0 -17h0m72 69h0m-66 -37h0m-14 -34h0m46 53h0m-70 -46h0m-2 -25h0m0 14h0m3 6h0m112 63h0" stroke="#ff22ff" stroke-opacity="0.55" stroke-width="3"/><path d="M1350 2007h0m11 -4h0m124 101h0m-17 -26h0m-103 -55h0m56 36h0m41 19h0m23 36h0m-19 -25h0m-27 -29h0m-50 -10h0m33 15h0m-57 -39h0" stroke="#ff22ff" stroke-opacity="0.55" stroke-width="3"/><path d="M1489 2086h0m-83 -38h0m56 32h0m-51 -44h0m60 54h0m-9 -18h0m-40 -3h0m28 18h0m6 -4h0m-70 -45h0m89 50h0m-105 -72h0m17 9h0m22 6h0" stroke="#ff22ff" stroke-opacity="0.55" stroke-width="3"/><path d="M1492 2105h0m-45 -45h0m29 53h0m-85 -79h0m5 -28h0m-48 6h0m141 90h0m-114 -88h0m11 21h0" stroke="#ff22ff" stroke-opacity="0.55" stroke-width="4"/><path d="M1473 2097h0m-50 -52h0m42 34h0m25 25h0m-50 -29h0" stroke="#ff22ff" stroke-opacity="0.55" stroke-width="4"/><path d="M1477 2095h0m-97 -81h0m23 46h0m-47 -55h0m114 70h0m25 17h0m-76 -41h0m-25 -8h0m74 38h0m-89 -54h0m-13 -16h0m45 18h0m-22 13h0" stroke="#ff22ff" stroke-opacity="0.55" stroke-width="4"/><path d="M458 1631h0m-10 -5h0m-1 24h0m98 13h0m698 256h0m-57 25h0m68 8h0m34 6h0m-14 -35h0m-3 4h0m-10 12h0m-13 -24h0m-43 11h0" stroke="#ff22ff" stroke-opacity="0.6" stroke-width="2"/><path d="M483 1643h0m-93 17h0m138 -45h0m-45 33h0m15 19h0m-43 -31h0m13 -10h0m-48 34h0m103 -13h0m79 -6h0m645 290h0m31 -9h0m-4 26h0m9 5h0m-47 -40h0m-15 39h0m44 -22h0m4 -17h0m-13 11h0m28 -1h0m11 -7h0" stroke="#ff22ff" stroke-opacity="0.6" stroke-width="2"/><path d="M410 1635h0m91 -21h0m85 36h0m-38 12h0m649 286h0m8 0h0m73 -31h0m-11 4h0m36 31h0m-50 -38h0m-5 48h0m-10 -36h0m29 11h0m28 -11h0m-20 29h0m-8 -17h0m-14 20h0m40 -2h0m-45 16h0m48 -63h0m-2 -1h0m-5 27h0" stroke="#ff22ff" stroke-opacity="0.6" stroke-width="2"/><path d="M491 1638h0m21 12h0m-104 14h0m82 -15h0m126 4h0m-55 -18h0m-112 -13h0m33 11h0m113 -3h0m-92 37h0m-91 -4h0m46 -12h0m-14 -24h0m-47 4h0m174 11h0m-111 -34h0m-2 40h0m-36 -16h0m9 23h0m69 -5h0m-27 -6h0m36 -3h0m-76 2h0m31 -14h0m70 17h0m7 9h0m-75 -39h0m-19 18h0m66 4h0m-94 0h0m33 6h0m112 -21h0m-115 29h0m24 14h0m-22 -24h0m65 -10h0m-45 -11h0m2 24h0m-3 -16h0m24 18h0m59 5h0m-54 -26h0m-51 -5h0m64 9h0m-45 -1h0m49 3h0m-13 -10h0m-14 12h0m-33 -1h0m81 13h0m-102 -7h0m-1 -11h0m-11 -9h0m78 29h0m-72 -8h0m27 3h0m28 -13h0m-46 22h0m72 -17h0m-85 7h0m23 -19h0m62 0h0m1 15h0m15 5h0m-54 -14h0m16 -2h0m-79 -9h0m95 30h0m-19 -17h0m-42 2h0m128 -5h0m18 10h0m-38 -18h0m4 -9h0m-111 17h0m47 0h0m-47 6h0m24 24h0m47 -25h0m-46 8h0m9 15h0m-19 -18h0m8 -17h0m4 9h0m-39 9h0m53 -13h0m-8 29h0m-17 -14h0m4 -15h0m-50 12h0m160 12h0m-86 -6h0m105 -2h0m-39 -1h0m-29 7h0m43 12h0m4 2h0m-28 17h0m-2 -39h0m-7 5h0m36 5h0m-78 5h0m47 2h0m17 -8h0m1 0h0m-17 -24h0m-30 29h0m20 0h0m-2 -16h0m-22 8h0m41 -13h0m10 20h0m0 6h0m57 8h0m-90 -39h0m38 19h0m-18 -7h0m-17 12h0m740 279h0m13 5h0m-61 25h0m5 -2h0m59 -25h0m-28 47h0m-15 -10h0m-11 -49h0m-8 20h0m76 -4h0m-25 -29h0m32 19h0m-85 42h0m59 -53h0m-25 31h0m43 4h0m-75 4h0m30 -11h0m40 -15h0m-4 -2h0m-11 -2h0m-52 0h0m7 -1h0m4 16h0m12 -22h0" stroke="#ff22ff" stroke-opacity="0.6" stroke-width="3"/><path d="M489 1633h0m-32 -1h0m-7 2h0m43 -7h0m-29 33h0m95 -24h0m-68 -8h0m-15 -1h0m-26 7h0m31 -10h0m-75 2h0m65 16h0m-25 -3h0m87 22h0m-38 -47h0m28 47h0m-103 -17h0m71 9h0m-58 9h0m115 -36h0m-80 25h0m-23 -16h0m-26 -26h0m71 8h0m-43 15h0m12 27h0m68 -12h0m-33 -37h0m27 26h0m-110 7h0m37 3h0m97 -18h0m-102 21h0m13 -12h0m9 -5h0m32 25h0m41 4h0m-91 -15h0m3 1h0m53 -3h0m-17 5h0m76 -23h0m-115 40h0m-43 -18h0m48 -4h0m9 14h0m46 -43h0m-38 37h0m14 -22h0m-96 20h0m106 -22h0m-40 -5h0m2 -11h0m108 54h0m-94 -29h0m-5 -23h0m1 21h0m2 19h0m21 -21h0m-12 26h0m55 -21h0m-50 -12h0m-5 -3h0m-103 6h0m56 -14h0m-19 30h0m95 -40h0m52 46h0m-37 -1h0m-4 -11h0m-1 7h0m12 -15h0m-121 10h0m151 7h0m-85 -37h0m1 44h0m-19 -6h0m80 -8h0m-94 -30h0m54 20h0m-59 -7h0m15 39h0m68 11h0m-51 -48h0m15 -10h0m36 27h0m-62 -15h0m31 21h0m8 -7h0m34 -3h0m-137 9h0m4 -11h0m116 11h0m21 1h0m3 -8h0m10 2h0m9 -7h0m0 10h0m-25 2h0m-11 18h0m26 -12h0m44 -9h0m-27 6h0m-14 3h0m-12 -4h0m20 -15h0m-37 5h0m9 15h0m39 -16h0m-14 13h0m-2 -2h0m-16 8h0m-11 -4h0m22 -26h0m-17 26h0m-30 -6h0m738 306h0m26 -7h0m-31 -7h0m20 11h0m36 -24h0m-52 -7h0m-2 23h0m64 -17h0m-22 25h0m-13 0h0m32 23h0m-51 -17h0m5 0h0m7 -9h0m25 3h0m24 -61h0m-39 19h0m-49 17h0m7 21h0m53 1h0m16 17h0m-13 -36h0m-3 12h0m-1 17h0m-39 -5h0m29 -1h0m-1 -4h0m-14 2h0m30 29h0m-25 -4h0m21 -17h0m-15 6h0m12 -13h0" stroke="#ff22ff" stroke-opacity="0.6" stroke-width="3"/><path d="M413 1614h0m23 19h0m50 -18h0m49 17h0m-90 10h0m-8 -10h0m52 15h0m-24 -17h0m-32 -2h0m-31 16h0m107 14h0m52 -35h0m-122 32h0m7 -50h0m32 7h0m-20 3h0m54 30h0m-19 -2h0m-20 -14h0m-3 1h0m-1 21h0m18 -17h0m-66 8h0m102 -24h0m-28 34h0m70 -30h0m-20 1h0m-12 36h0m-88 -33h0m24 -3h0m12 15h0m81 -11h0m-68 -16h0m-46 11h0m-6 15h0m50 13h0m-59 -32h0m65 35h0m-23 -17h0m-42 14h0m68 1h0m-49 -21h0m41 -4h0m35 1h0m-101 -10h0m-25 24h0m140 -16h0m-31 3h0m-27 -6h0m-29 11h0m24 -13h0m16 9h0m-38 18h0m-40 -10h0m138 -15h0m-113 17h0m135 2h0m-129 20h0m73 -5h0m-58 -15h0m-62 0h0m130 -23h0m-88 42h0m-23 -32h0m53 24h0m0 -18h0m-29 -23h0m5 25h0m5 -6h0m22 16h0m-32 10h0m25 -6h0m99 -17h0m-147 4h0m37 8h0m60 -26h0m-46 12h0m86 -8h0m-97 29h0m83 -28h0m-93 24h0m93 6h0m-80 -14h0m-51 -18h0m89 24h0m-6 6h0m24 1h0m49 -5h0m-63 1h0m31 -11h0m15 9h0m-24 1h0m32 -5h0m-23 5h0m11 2h0m18 -13h0m-21 8h0m4 9h0m12 -6h0m2 -1h0m-40 -13h0m14 19h0m38 -5h0m-21 4h0m-40 16h0m49 -12h0m4 -5h0m-39 1h0m41 -6h0m-18 -1h0m679 316h0m-3 -19h0m-9 -2h0m56 -8h0m29 -4h0m-33 30h0m14 -16h0m-34 8h0m41 -9h0m-42 6h0m28 -1h0m-24 -11h0m-51 -31h0m43 74h0m32 -49h0m-52 -22h0m46 50h0m-43 -56h0m17 57h0m35 -39h0" stroke="#ff22ff" stroke-opacity="0.6" stroke-width="3"/><path d="M500 1644h0m23 -12h0m-29 24h0m-26 -21h0m-40 42h0m1 -30h0m51 -4h0m24 -2h0m-15 -13h0m-1 20h0m77 -1h0m-35 -19h0m-28 25h0m-95 -13h0m92 -1h0m41 -1h0m-140 8h0m118 -4h0m-133 9h0m153 -8h0m-66 7h0m66 -7h0m-85 -17h0m-25 11h0m-44 12h0m55 -14h0m32 1h0m-26 20h0m-10 1h0m34 4h0m0 -15h0m-77 -23h0m39 21h0m8 7h0m45 -19h0m42 16h0m-5 -27h0m-75 35h0m25 -13h0m20 -5h0m-95 -3h0m91 -18h0m17 9h0m-64 3h0m38 25h0m24 -22h0m10 29h0m1 -39h0m4 -25h0m-62 54h0m-50 -1h0m71 -15h0m97 0h0m-58 -19h0m-54 39h0m17 -29h0m8 -6h0m51 8h0m-121 -1h0m63 -3h0m-50 13h0m40 2h0m-71 2h0m38 -6h0m66 -29h0m-37 31h0m24 -5h0m-35 5h0m4 -1h0m45 -1h0m-82 0h0m0 -2h0m54 0h0m9 2h0m-52 -21h0m93 41h0m7 -16h0m-23 18h0m54 -3h0m22 -10h0m-72 2h0m19 -3h0m16 7h0m-11 -10h0m-29 -2h0m13 12h0m-30 -3h0m59 -11h0m-5 14h0m-35 2h0m47 -16h0m-48 25h0m13 -15h0m26 -17h0m-11 3h0m745 341h0m-16 -64h0m-48 26h0m-8 -26h0m-4 6h0m79 35h0m-20 13h0m-16 -33h0m36 19h0m-65 -33h0m94 26h0m-80 0h0m65 13h0m-20 -35h0m-20 11h0m17 6h0m-13 3h0m7 1h0m-65 14h0m78 -48h0m-15 33h0m13 -30h0" stroke="#ff22ff" stroke-opacity="0.6" stroke-width="4"/><path d="M416 1639h0m37 17h0m50 -9h0m-80 -4h0m25 13h0m21 -14h0m4 -6h0m-35 13h0m-16 -1h0m35 -34h0m20 12h0m-22 2h0m100 -23h0m-74 30h0m0 -23h0m91 20h0m-122 17h0m6 -7h0m-68 -25h0m108 19h0m-85 3h0m63 -24h0m-17 27h0m92 -13h0m-56 17h0m52 -3h0m-19 -15h0m-31 6h0m58 -13h0m-20 30h0m-55 -1h0m-52 3h0m56 -23h0m-38 4h0m72 2h0m-132 -4h0m79 23h0m-39 -15h0m101 10h0m18 -12h0m-130 -28h0m106 46h0m3 -29h0m-35 -4h0m10 6h0m40 9h0m-94 -4h0m-36 -5h0m79 13h0m48 -1h0m-59 7h0m37 18h0m32 -17h0m-83 -31h0m-30 30h0m112 -16h0m-76 13h0m-21 -10h0m53 -6h0m56 22h0m-38 -20h0m9 -15h0m-48 46h0m-29 -16h0m-39 -29h0m58 24h0m-21 -11h0m17 23h0m15 -18h0m-116 -7h0m102 23h0m-5 -3h0m-7 -10h0m71 -26h0m-46 11h0m-61 11h0m75 -6h0m-6 23h0m-69 -32h0m118 31h0m-18 -21h0m50 20h0m-36 15h0m14 -20h0m61 -9h0m-74 8h0m2 -2h0m58 -7h0m-16 30h0m-46 -14h0m11 20h0m-21 -23h0m18 3h0m24 18h0m-24 -5h0m-12 10h0m10 -29h0m14 1h0m31 -7h0m-54 23h0m3 -10h0m-15 -3h0m58 11h0m-29 -21h0m-36 3h0m77 6h0m-45 6h0m20 4h0m687 268h0m6 -6h0m-51 35h0m92 2h0m-35 -19h0m50 -11h0m-78 0h0m-1 37h0m6 -33h0m-22 19h0m41 18h0m28 -16h0m-9 -31h0m21 34h0m-36 -3h0m-22 -16h0m29 22h0m52 -52h0m-54 37h0m-17 7h0" stroke="#ff22ff" stroke-opacity="0.6" stroke-width="4"/><path d="M529 1643h0m-20 -14h0m-158 30h0m163 -7h0m-18 -20h0m33 2h0m-76 19h0m-8 -30h0m-50 23h0m40 -18h0m66 -15h0m-72 10h0m44 -2h0m-45 -14h0m0 16h0m98 -16h0m-42 35h0m23 -4h0m15 -13h0m-122 -11h0m53 14h0m6 -9h0m16 -1h0m-63 23h0m-7 6h0m134 -23h0m24 23h0m29 -12h0m-139 0h0m-18 1h0m39 7h0m-5 3h0m63 -16h0m-74 -10h0m35 19h0m-53 -4h0m64 -3h0m-58 -48h0m29 13h0m5 18h0m-61 43h0m38 -17h0m-40 -9h0m55 0h0m-2 6h0m63 -7h0m-94 -2h0m-77 -15h0m143 42h0m-37 7h0m46 -6h0m-57 -17h0m-119 2h0m141 -19h0m-20 10h0m13 28h0m30 -21h0m15 -22h0m-4 37h0m-38 -19h0m24 4h0m-58 3h0m41 2h0m-34 -19h0m0 0h0m-58 18h0m117 -40h0m-22 43h0m-17 -3h0m142 18h0m-61 -26h0m-53 -11h0m44 33h0m-26 -10h0m4 -8h0m-3 -4h0m27 16h0m-6 -29h0m12 25h0m5 2h0m1 -11h0m-4 29h0m-49 -19h0m68 15h0m-20 -27h0m-14 21h0m11 -31h0m-35 24h0m-6 -2h0m24 9h0m4 -17h0m40 14h0m-52 13h0m-22 -15h0m38 -1h0m-28 0h0m54 3h0m658 279h0m70 2h0m4 -6h0m-77 51h0m31 -38h0m-20 22h0m-13 -23h0m58 16h0m0 5h0m-20 -26h0m-26 -11h0m33 18h0m2 -19h0m15 48h0m-80 -11h0m-20 2h0m76 -24h0m14 -2h0m-21 -40h0" stroke="#ff22ff" stroke-opacity="0.6" stroke-width="4"/><path d="M418 1646h0m87 -2h0m-47 -16h0m109 14h0m-99 -1h0m-49 5h0m86 -2h0m-74 -8h0m19 6h0m32 8h0m-31 -41h0m20 14h0m19 11h0m-24 3h0m51 10h0m0 -3h0m-147 2h0m161 10h0m8 1h0m6 -8h0m683 312h0m24 -8h0m17 -28h0m-24 5h0m19 19h0m-56 -47h0m36 53h0m-36 -13h0m48 -16h0m51 35h0m-53 -16h0m3 27h0m-20 -49h0" stroke="#ff22ff" stroke-opacity="0.6" stroke-width="5"/><path d="M521 1596h0m-46 27h0m-56 29h0m-27 -35h0m66 17h0m77 3h0m-58 -6h0m0 -6h0m-15 29h0m129 -1h0m-80 -23h0m16 10h0m1 6h0m714 274h0m6 6h0m28 -14h0m-5 2h0m25 50h0m-27 -40h0m7 18h0m-9 -14h0m-15 -6h0m-6 13h0m29 15h0m-34 -14h0m-13 10h0m-46 -4h0" stroke="#ff22ff" stroke-opacity="0.6" stroke-width="5"/><path d="M389 1653h0m76 1h0m3 -19h0m52 17h0m-63 -16h0m9 -9h0m32 -3h0m-48 10h0m-9 -7h0m139 18h0m-57 2h0m-67 17h0m-18 -38h0m18 13h0m104 13h0m-57 4h0m35 -16h0m24 9h0m-25 4h0m-14 6h0m726 282h0m32 -23h0m-22 35h0m-14 -2h0m41 4h0m-9 -17h0m5 20h0m-43 -7h0m38 -15h0m10 -6h0m-37 5h0m-15 16h0m-4 11h0m35 -5h0m50 -19h0m-73 -19h0m48 2h0" stroke="#ff22ff" stroke-opacity="0.6" stroke-width="5"/><path d="M442 1626h0" stroke="#ff22ff" stroke-opacity="0.65" stroke-width="2"/><path d="M455 1614h0" stroke="#ff22ff" stroke-opacity="0.65" stroke-width="2"/><path d="M433 1615h0m25 14h0m-3 -10h0m-25 -7h0m8 3h0m-35 -13h0m29 9h0m16 14h0m-25 -11h0m25 11h0m-32 3h0m29 -16h0m-2 -12h0m-5 10h0m30 14h0m-6 -3h0m-7 -8h0" stroke="#ff22ff" stroke-opacity="0.65" stroke-width="3"/><path d="M440 1608h0m30 11h0m-41 -18h0m27 5h0m-26 17h0m-1 -4h0m15 0h0m7 2h0m-24 1h0" stroke="#ff22ff" stroke-opacity="0.65" stroke-width="3"/><path d="M441 1613h0m20 3h0m-34 15h0m11 -11h0m-10 2h0m-19 -15h0m50 19h0m-28 -2h0m14 -3h0m-26 -16h0m5 9h0m20 0h0" stroke="#ff22ff" stroke-opacity="0.65" stroke-width="3"/><path d="M437 1619h0m18 -13h0m-52 15h0m32 -9h0m15 -6h0m3 8h0m-35 -2h0m32 7h0m-17 -3h0" stroke="#ff22ff" stroke-opacity="0.65" stroke-width="4"/><path d="M424 1620h0m43 -16h0m-49 8h0m20 21h0m17 -3h0m-11 -11h0m40 -6h0m-33 1h0m-28 9h0m6 2h0m19 -6h0m-11 0h0m6 -8h0" stroke="#ff22ff" stroke-opacity="0.65" stroke-width="4"/><path d="M439 1616h0m-7 -2h0m36 2h0m-19 -6h0m4 7h0m-17 -11h0m-9 7h0m2 13h0m20 -18h0m-1 16h0m-28 -9h0" stroke="#ff22ff" stroke-opacity="0.65" stroke-width="4"/><path d="M453 1623h0m-27 -8h0m-2 7h0" stroke="#ff22ff" stroke-opacity="0.65" stroke-width="5"/><path d="M420 1613h0m18 9h0" stroke="#ff22ff" stroke-opacity="0.65" stroke-width="5"/><path d="M1425 2086h0" stroke="#ff22ff" stroke-opacity="0.7" stroke-width="2"/><path d="M1436 2096h0m3 -9h0m-12 -13h0" stroke="#ff22ff" stroke-opacity="0.7" stroke-width="2"/><path d="M1434 2088h0m3 2h0" stroke="#ff22ff" stroke-opacity="0.7" stroke-width="2"/><path d="M1442 2081h0m10 1h0m4 -2h0m-20 6h0m2 -6h0m0 2h0m10 -3h0m-16 -3h0" stroke="#ff22ff" stroke-opacity="0.7" stroke-width="3"/><path d="M1439 2081h0m1 -4h0m0 -3h0m-22 11h0m37 4h0m-31 -7h0m11 6h0m-1 -8h0m19 8h0" stroke="#ff22ff" stroke-opacity="0.7" stroke-width="3"/><path d="M1469 2072h0m-25 11h0m-10 -7h0m20 8h0" stroke="#ff22ff" stroke-opacity="0.7" stroke-width="3"/><path d="M1434 2087h0m29 3h0m-17 1h0" stroke="#ff22ff" stroke-opacity="0.7" stroke-width="4"/><path d="M1445 2084h0m4 0h0" stroke="#ff22ff" stroke-opacity="0.7" stroke-width="4"/><path d="M564 1607h0" stroke="#ff22ff" stroke-opacity="0.8" stroke-width="3"/><path d="M568 1607h0m10 -1h0" stroke="#ff22ff" stroke-opacity="0.8" stroke-width="4"/><path d="M559 1602h0" stroke="#ff22ff" stroke-opacity="0.8" stroke-width="4"/><path d="M555 1597h0m13 8h0m2 7h0" stroke="#ff22ff" stroke-opacity="0.8" stroke-width="4"/><path d="M568 1606h0" stroke="#ff22ff" stroke-opacity="0.8" stroke-width="5"/><path d="M559 1609h0m7 -7h0" stroke="#ff22ff" stroke-opacity="0.8" stroke-width="5"/><path d="M559 1605h0m-7 5h0m11 -3h0" stroke="#ff22ff" stroke-opacity="0.8" stroke-width="5"/><path d="M1348 1812h0m172 -50h0" stroke="#ffb4b4" stroke-opacity="0.45" stroke-width="2"/><path d="M1425 1734h0m-22 -27h0m67 -94h0" stroke="#ffb4b4" stroke-opacity="0.45" stroke-width="2"/><path d="M1359 1736h0m8 -4h0m195 21h0m-99 -66h0m-121 -40h0m159 46h0m-132 169h0m55 -72h0m-76 -30h0m122 9h0m-178 -32h0m157 -3h0m17 -43h0m-84 -11h0m-48 64h0m124 -24h0m-38 -30h0m27 71h0m-104 -8h0m-54 -67h0m87 80h0m21 35h0m168 -78h0" stroke="#ffb4b4" stroke-opacity="0.45" stroke-width="3"/><path d="M1438 1720h0m-4 32h0m-97 -9h0m53 21h0m-73 -18h0m76 -39h0m47 54h0m61 -22h0m-94 -30h0m-21 41h0m83 -47h0m-4 55h0m-57 -39h0m-22 51h0m35 -56h0m83 -85h0m-24 121h0m-76 29h0m-61 -30h0" stroke="#ffb4b4" stroke-opacity="0.45" stroke-width="3"/><path d="M1413 1714h0m48 53h0m-65 -57h0m-32 101h0m25 -98h0m-54 -26h0m37 65h0m121 -43h0m-62 40h0m87 25h0m-210 -71h0m130 98h0m-38 -22h0m-48 -59h0m43 -29h0m76 5h0m-71 0h0m22 92h0m44 -110h0m-37 111h0m-19 6h0m48 -103h0m-199 25h0m291 2h0m-151 87h0m27 -101h0m55 4h0m-81 77h0" stroke="#ffb4b4" stroke-opacity="0.45" stroke-width="3"/><path d="M1460 1770h0m-198 -116h0m186 78h0m-53 19h0m12 30h0m-44 -29h0m8 16h0m68 14h0m-132 -78h0m118 17h0m-13 54h0m6 -68h0m-91 -10h0m62 114h0m-101 -61h0m170 57h0m11 -25h0m-92 -78h0m99 27h0m-64 25h0m-14 -52h0m-39 26h0m73 -71h0" stroke="#ffb4b4" stroke-opacity="0.45" stroke-width="4"/><path d="M1405 1711h0m-129 45h0m29 17h0m64 -84h0m51 84h0m-67 -53h0m86 18h0m85 -13h0m-53 -8h0m-183 11h0m100 72h0m38 16h0m-44 -45h0m20 -106h0m-14 57h0m-72 39h0m100 -9h0m-55 -69h0m127 0h0m-126 42h0m59 78h0m-1 -57h0m57 8h0m-81 -51h0m103 58h0" stroke="#ffb4b4" stroke-opacity="0.45" stroke-width="4"/><path d="M1403 1731h0m38 -15h0m-8 -25h0m-113 68h0m18 -63h0m-17 49h0m67 21h0m142 -43h0m-229 63h0m85 -47h0m25 -47h0m80 66h0m-31 -107h0m-56 37h0m-44 7h0m-5 128h0m55 -79h0m10 -42h0m36 41h0m-132 14h0m145 15h0m42 -62h0m-258 97h0m125 -90h0" stroke="#ffb4b4" stroke-opacity="0.45" stroke-width="4"/><path d="M1494 1743h0m-86 -5h0m-57 62h0m104 -36h0m-40 -61h0m22 63h0m-30 13h0m98 -71h0m-119 92h0m121 -47h0m-90 -45h0m-11 27h0m-13 37h0m119 10h0m-125 -1h0m-54 -24h0m140 -8h0m-93 10h0m18 1h0m-45 -91h0m-39 65h0m113 20h0" stroke="#ffb4b4" stroke-opacity="0.45" stroke-width="5"/><path d="M1403 1727h0m-96 -7h0m49 20h0m-81 48h0m241 -29h0m-141 -35h0m-80 -22h0m104 26h0m65 19h0m-48 19h0m11 -41h0" stroke="#ffb4b4" stroke-opacity="0.45" stroke-width="5"/><path d="M1408 1759h0m6 -8h0m86 9h0m-70 21h0m-51 -46h0m28 45h0m-73 -107h0m93 79h0m16 -30h0m-67 19h0m-92 40h0m188 -44h0m-63 22h0m101 -24h0m-157 -40h0" stroke="#ffb4b4" stroke-opacity="0.45" stroke-width="5"/><path d="M1320 1822h0" stroke="#ffb4b4" stroke-opacity="0.5" stroke-width="2"/><path d="M1404 1753h0m-128 159h0m113 -64h0m-93 -141h0m55 127h0m-14 -34h0" stroke="#ffb4b4" stroke-opacity="0.5" stroke-width="2"/><path d="M1316 1759h0m37 -6h0m-13 104h0" stroke="#ffb4b4" stroke-opacity="0.5" stroke-width="2"/><path d="M1374 1799h0m-5 -29h0m-2 105h0m-68 -142h0m-128 116h0m87 9h0m146 34h0m-79 -5h0m10 -9h0m-61 -73h0m48 14h0m-70 38h0m38 -62h0m100 44h0m-110 -161h0m34 272h0m109 -123h0m-80 -92h0m25 152h0m-9 -196h0m-74 200h0m8 -57h0m-39 -72h0m245 139h0m-76 -173h0m24 148h0m-41 -38h0m68 33h0m-58 -89h0m-58 -7h0m-60 17h0m122 -38h0m-153 159h0m66 -71h0m53 -58h0m-16 -154h0m-102 254h0m59 -152h0m-50 30h0m111 -27h0m15 33h0m-115 -48h0m33 74h0m-28 -41h0m-56 67h0m112 -14h0m19 115h0m-96 -125h0m101 -37h0m82 104h0m-50 -8h0m-132 -72h0m-9 13h0m103 18h0m17 32h0m34 -150h0m-20 171h0m-124 -123h0m80 179h0m4 -259h0m-47 97h0m-45 49h0m140 -76h0m-105 154h0m94 -142h0m-69 96h0m21 58h0m-68 -51h0m-20 66h0m161 -68h0m-129 100h0m74 -217h0m-65 -54h0m-27 150h0m92 -28h0m-19 -3h0m-60 53h0m79 49h0m-58 -128h0m32 73h0m0 -9h0" stroke="#ffb4b4" stroke-opacity="0.5" stroke-width="3"/><path d="M1307 1820h0m39 -102h0m-56 170h0m89 -74h0m-156 -66h0m40 127h0m-29 -52h0m135 -74h0m-17 -3h0m-83 32h0m74 50h0m2 27h0m-72 -42h0m-47 -21h0m162 -86h0m-154 94h0m157 -40h0m-171 51h0m166 -102h0m-124 54h0m20 30h0m35 33h0m-13 -54h0m189 30h0m-230 -7h0m147 -68h0m-141 120h0m48 -130h0m22 99h0m-15 77h0m69 -108h0m37 80h0m-149 -90h0m-31 90h0m168 -24h0m-95 -19h0m35 19h0m-84 -20h0m3 -38h0m-31 20h0m20 -19h0m141 -15h0m-82 112h0m19 -74h0m3 -67h0m-54 180h0m15 -169h0m-13 27h0m23 -64h0m-3 136h0m-69 -14h0m92 134h0m1 -71h0m36 -119h0m-162 -46h0m143 69h0m-12 12h0m35 -8h0m-110 27h0m75 9h0m-73 -92h0m13 56h0m-65 91h0m107 -141h0m63 127h0m-73 -51h0m24 -128h0m-78 107h0m123 33h0m-120 -120h0m29 99h0m26 -135h0m89 151h0m-110 -71h0m111 -31h0" stroke="#ffb4b4" stroke-opacity="0.5" stroke-width="3"/><path d="M1300 1811h0m2 12h0m32 -47h0m-38 48h0m-9 28h0m49 -135h0m38 91h0m19 107h0m-124 -119h0m-46 -55h0m42 76h0m31 6h0m122 -97h0m-142 135h0m45 -22h0m55 -81h0m-15 -12h0m-28 3h0m-64 28h0m-12 -43h0m84 8h0m-29 26h0m-117 -175h0m157 152h0m-81 62h0m108 55h0m-96 -67h0m158 10h0m-145 78h0m-49 -47h0m88 66h0m8 -116h0m-82 -30h0m-37 171h0m71 -179h0m27 101h0m-51 -80h0m45 -10h0m75 -77h0m-52 192h0m-45 -171h0m-12 149h0m42 45h0m13 -72h0m42 -49h0m-54 82h0m-36 -55h0m60 36h0m-27 -10h0m66 -35h0m-58 19h0m134 60h0m-130 -111h0m-86 -17h0m115 -17h0m-71 118h0m7 71h0m26 44h0m-76 -103h0m20 -111h0" stroke="#ffb4b4" stroke-opacity="0.5" stroke-width="3"/><path d="M1440 1627h0m-73 82h0m-33 110h0m138 88h0m-92 -152h0m-86 10h0m44 65h0m-11 -173h0m-82 147h0m42 -82h0m-46 147h0m112 -68h0m-46 97h0m110 -143h0m-211 69h0m62 22h0m26 -25h0m112 -120h0m67 101h0m-92 155h0m-119 -83h0m102 -56h0m-10 -83h0m-101 130h0m89 65h0m-29 -70h0m-119 -172h0m72 77h0m79 -78h0m-108 110h0m66 64h0m35 -139h0m-11 8h0m45 -32h0m-57 157h0m-20 -58h0m54 40h0m-16 28h0m0 -64h0m-107 -90h0m114 86h0m136 -50h0m-184 16h0m-4 -30h0m154 86h0m-78 93h0m-55 -103h0m-44 -98h0m-76 209h0m58 -59h0m109 -172h0m42 73h0m-142 88h0m123 -43h0m-73 24h0m-80 -30h0m-66 40h0m226 -51h0m-67 -2h0m-90 106h0m58 -76h0m-2 33h0" stroke="#ffb4b4" stroke-opacity="0.5" stroke-width="4"/><path d="M1242 1677h0m99 94h0m143 71h0m-87 -52h0m-147 -118h0m56 125h0m55 -68h0m-61 -85h0m100 142h0m-122 90h0m66 77h0m-102 -109h0m73 -20h0m-7 45h0m69 -155h0m-13 55h0m-30 -37h0m60 71h0m-144 182h0m7 -186h0m89 65h0m81 -146h0m-108 149h0m192 -110h0m-235 17h0m36 65h0m-54 -104h0m-2 158h0m128 -92h0m-147 -11h0m139 29h0m-92 -71h0m135 -31h0m-50 53h0m39 40h0m-144 -19h0m26 63h0m14 -135h0m117 16h0m11 206h0m-110 -219h0m94 92h0m-92 -112h0m-85 142h0m78 -104h0m-88 3h0m89 59h0m6 -29h0m10 45h0m79 26h0m-20 -51h0m-41 62h0m136 70h0m-152 -182h0m-27 68h0m69 89h0m-69 -115h0m53 18h0m-59 43h0m22 16h0m-38 -101h0m-12 79h0m-92 -81h0m247 -7h0m-92 112h0m-33 -56h0m24 -62h0m-25 53h0m87 23h0m-94 -7h0m-1 -116h0m-45 95h0m70 76h0m7 -101h0m61 67h0m-86 -72h0m36 17h0m18 103h0" stroke="#ffb4b4" stroke-opacity="0.5" stroke-width="4"/><path d="M1334 1808h0m-24 27h0m29 -119h0m14 74h0m-38 -183h0m107 156h0m-72 111h0m54 -67h0m-97 1h0m63 -15h0m-34 77h0m26 -49h0m-70 -76h0m49 88h0m-28 -25h0m55 8h0m-65 -39h0m-108 -15h0m160 42h0m-1 156h0m65 -202h0m-83 53h0m19 6h0m-55 -51h0m48 12h0m-25 27h0m-23 -12h0m76 150h0m-161 -182h0m98 51h0m71 -33h0m43 16h0m-123 -33h0m90 56h0m-98 -69h0m4 19h0m55 142h0m-93 -135h0m87 36h0m7 34h0m-84 -141h0m-61 83h0m40 -82h0m56 49h0m24 152h0m23 -118h0m-51 45h0m20 -43h0m89 -72h0m-105 82h0m12 -58h0m-71 159h0m65 -14h0m5 -144h0m-20 96h0m40 93h0m112 -192h0" stroke="#ffb4b4" stroke-opacity="0.5" stroke-width="4"/><path d="M1369 1894h0m8 -43h0m-91 -9h0m184 3h0m-73 -120h0m-75 -50h0m-18 151h0m51 -177h0m75 138h0m-15 41h0m-108 -120h0m0 20h0m91 129h0m-141 -50h0m144 -3h0m-122 -106h0m48 98h0m-52 119h0m61 -88h0m69 44h0m-43 -28h0m-27 -47h0m32 28h0m-172 -45h0m111 -16h0m59 26h0m-32 62h0m-2 103h0m18 -255h0m-61 235h0m1 -263h0m90 101h0m-29 28h0m-1 97h0m-21 -70h0m-4 -100h0m86 221h0m-207 -198h0m195 -58h0m-164 130h0m157 74h0m-45 -116h0m9 -26h0m-45 81h0m95 55h0m-66 -102h0m-56 78h0m105 -16h0m-79 -28h0m-118 -45h0m150 2h0m1 -90h0m-68 193h0m65 -91h0m-35 81h0m39 -38h0m-47 -66h0m54 -23h0m18 145h0m-49 -62h0m-58 -32h0m114 -3h0m-75 10h0m-11 -89h0m-21 139h0" stroke="#ffb4b4" stroke-opacity="0.5" stroke-width="5"/><path d="M1416 1767h0m-117 -61h0m24 50h0m50 57h0m-28 77h0m-102 -163h0m62 41h0m-29 87h0m76 177h0m41 -309h0m-112 71h0m128 7h0m-151 -26h0m22 32h0m183 -5h0m-125 -61h0m54 186h0m-127 -111h0m48 10h0m-65 3h0m114 -37h0m1 -56h0m-2 27h0m35 84h0m-74 -108h0m75 -54h0m-101 132h0m10 -41h0m14 102h0m-81 -96h0m171 103h0m-152 -74h0m206 13h0m-36 18h0m-29 82h0m41 -127h0m-75 124h0m22 -192h0m30 51h0m-2 146h0m-19 -142h0m37 99h0m-66 -179h0m-70 80h0m-5 -53h0m3 189h0m48 -204h0m-118 79h0m19 120h0m128 -213h0m-59 95h0m3 12h0m14 22h0m5 -34h0m-51 -31h0m100 7h0m-87 199h0m-69 -263h0m71 86h0m-16 53h0m96 -17h0m-135 -26h0m159 -55h0m-85 69h0m43 27h0m26 -32h0m-152 54h0m129 -19h0m-46 57h0m-15 -49h0m35 27h0m-46 -33h0" stroke="#ffb4b4" stroke-opacity="0.5" stroke-width="5"/><path d="M1266 1774h0m18 -41h0m99 191h0m-58 -316h0m-66 179h0m-15 -31h0m254 96h0m-106 -65h0m-9 22h0m-57 -125h0m-47 177h0m81 15h0m76 -11h0m49 -6h0m-133 -6h0m157 -33h0m-168 -117h0m67 87h0m-140 32h0m41 3h0m75 -80h0m-11 8h0m-109 44h0m-6 58h0m5 -42h0m99 6h0m-79 6h0m-9 -56h0m-26 19h0m48 33h0m66 -21h0m-43 106h0m129 -101h0m-138 63h0m28 -133h0m79 51h0m-1 190h0m-89 -211h0m-25 -121h0m88 160h0m-171 -18h0m159 -15h0m-52 41h0m-7 -13h0m98 -56h0m-195 56h0m54 -22h0m122 -95h0m22 161h0m-185 -20h0m45 32h0m26 -83h0m48 -34h0m-36 9h0m45 41h0m-6 -30h0m100 80h0m-193 -71h0m97 28h0m-60 -44h0m76 52h0m-90 -105h0m48 42h0m-92 162h0m126 -133h0m20 48h0m-41 86h0m44 -152h0m21 56h0m-125 -29h0m-54 165h0m39 -210h0m-9 99h0m96 -9h0m-79 93h0m-41 -151h0m72 -48h0m106 131h0" stroke="#ffb4b4" stroke-opacity="0.5" stroke-width="5"/><path d="M1448 1749h0m-157 152h0m32 -75h0m78 6h0m-83 -63h0m5 34h0m27 -25h0m2 143h0m6 -123h0m-9 -36h0m-58 130h0m52 -18h0m4 -40h0m-134 -22h0" stroke="#ffb4b4" stroke-opacity="0.5" stroke-width="6"/><path d="M1301 1879h0m58 -146h0m-11 93h0m6 -18h0m31 21h0m-158 -72h0m116 64h0m-58 -60h0m61 3h0" stroke="#ffb4b4" stroke-opacity="0.5" stroke-width="6"/><path d="M1255 1858h0m117 19h0m-52 -20h0m-18 -90h0m-45 -27h0m9 -39h0m34 130h0m1 -65h0m26 15h0m-63 14h0m-20 -38h0m141 -92h0m-58 126h0m-92 94h0m-10 -107h0" stroke="#ffb4b4" stroke-opacity="0.5" stroke-width="6"/><path d="M302 2100h0" stroke="#ffb4b4" stroke-opacity="0.6" stroke-width="2"/><path d="M292 2075h0m15 6h0m13 -3h0m-8 -12h0m-13 14h0m-60 -5h0m102 -8h0m-2 -11h0m-60 38h0m6 -10h0m31 -16h0" stroke="#ffb4b4" stroke-opacity="0.6" stroke-width="3"/><path d="M286 2080h0m-46 -31h0m62 27h0m-19 9h0m39 -2h0" stroke="#ffb4b4" stroke-opacity="0.6" stroke-width="3"/><path d="M255 2062h0m76 27h0m-46 -30h0m-2 41h0m35 -28h0m-12 8h0m7 -24h0m-55 16h0m30 -6h0" stroke="#ffb4b4" stroke-opacity="0.6" stroke-width="3"/><path d="M268 2066h0m69 12h0m-14 1h0" stroke="#ffb4b4" stroke-opacity="0.6" stroke-width="4"/><path d="M302 2079h0m22 3h0m-62 -5h0m-6 1h0m58 -2h0m-5 13h0" stroke="#ffb4b4" stroke-opacity="0.6" stroke-width="4"/><path d="M328 2083h0m-43 -4h0m32 13h0m-84 -11h0" stroke="#ffb4b4" stroke-opacity="0.6" stroke-width="4"/><path d="M112 2077h0" stroke="#ffb4b4" stroke-opacity="0.7" stroke-width="2"/><path d="M112 2072h0" stroke="#ffb4b4" stroke-opacity="0.7" stroke-width="3"/><path d="M120 2070h0m-13 10h0m-6 -6h0" stroke="#ffb4b4" stroke-opacity="0.7" stroke-width="3"/><path d="M111 2073h0" stroke="#ffb4b4" stroke-opacity="0.7" stroke-width="3"/><path d="M122 2068h0" stroke="#ffb4b4" stroke-opacity="0.7" stroke-width="4"/><path d="M116 2069h0m-5 12h0m10 -6h0m-13 4h0m4 1h0" stroke="#ffb4b4" stroke-opacity="0.7" stroke-width="4"/><path d="M107 2070h0" stroke="#ffb4b4" stroke-opacity="0.7" stroke-width="4"/><path d="M1509 2121h0m-7 -25h0m19 40h0m-51 -98h0m66 52h0m40 -11h0m-19 44h0m-80 -24h0" stroke="#ffff1a" stroke-opacity="0.5" stroke-width="2"/><path d="M1602 2129h0m31 4h0m-50 -61h0m-67 30h0m41 -80h0m79 92h0" stroke="#ffff1a" stroke-opacity="0.5" stroke-width="2"/><path d="M1591 2081h0m-104 39h0m190 -45h0m-178 19h0m-13 -56h0m41 4h0m-61 64h0m125 -31h0" stroke="#ffff1a" stroke-opacity="0.5" stroke-width="2"/><path d="M1526 2105h0m10 6h0m14 -69h0m2 70h0m57 11h0m-100 -56h0m27 13h0m3 49h0m-19 -65h0m32 38h0m-26 58h0m50 -64h0m-76 -34h0m57 95h0m14 -47h0" stroke="#ffff1a" stroke-opacity="0.5" stroke-width="3"/><path d="M1488 2081h0m215 3h0m-129 63h0m-8 -30h0m-65 18h0m-61 -46h0m58 -36h0m62 55h0m-105 -32h0m41 -65h0m-79 152h0m98 -32h0m122 2h0m-149 -51h0m78 49h0m0 -54h0" stroke="#ffff1a" stroke-opacity="0.5" stroke-width="3"/><path d="M1472 2116h0m85 28h0m-135 -43h0m81 -2h0m9 -21h0m-52 -4h0m98 -21h0m-51 58h0m15 28h0m21 25h0m65 -108h0m-39 47h0m-97 35h0m101 -57h0m-76 -8h0m7 35h0m-26 47h0m128 -72h0m-226 11h0m179 -43h0m-54 28h0m-37 12h0m123 31h0m-95 -41h0m-117 50h0m7 48h0m174 -36h0" stroke="#ffff1a" stroke-opacity="0.5" stroke-width="3"/><path d="M1434 2091h0m100 84h0m-120 -105h0m113 39h0m72 -25h0m-127 20h0m-15 -36h0m140 51h0m-31 0h0m-11 2h0m18 -39h0m-80 68h0m11 -85h0m-102 39h0m193 -48h0m-124 10h0m48 46h0" stroke="#ffff1a" stroke-opacity="0.5" stroke-width="4"/><path d="M1505 2106h0m-97 -30h0m130 20h0m-3 -57h0m-10 57h0m-33 -64h0m78 90h0m-88 -89h0m-20 102h0" stroke="#ffff1a" stroke-opacity="0.5" stroke-width="4"/><path d="M1574 2100h0m-53 -2h0m86 -13h0m-158 74h0m79 -17h0m-48 -112h0m36 105h0m49 -100h0m-191 95h0m181 -77h0m14 81h0" stroke="#ffff1a" stroke-opacity="0.5" stroke-width="4"/><path d="M1316 2007h0m23 14h0m-54 -2h0" stroke="#ffff1a" stroke-opacity="0.6" stroke-width="2"/><path d="M307 1728h0m1035 284h0m5 -8h0m-30 -1h0" stroke="#ffff1a" stroke-opacity="0.6" stroke-width="2"/><path d="M339 1733h0m-72 97h0m1027 157h0" stroke="#ffff1a" stroke-opacity="0.6" stroke-width="2"/><path d="M345 1725h0m-43 0h0m23 5h0m18 7h0m-16 7h0m20 -3h0m-66 -11h0m46 -13h0m6 8h0m1 -6h0m-2 9h0m-71 75h0m4 5h0m23 5h0m-13 7h0m2 -16h0m1074 210h0m-36 -7h0m18 2h0m-21 6h0m-29 1h0m41 6h0" stroke="#ffff1a" stroke-opacity="0.6" stroke-width="3"/><path d="M324 1765h0m6 -23h0m-2 -30h0m-34 12h0m-6 -4h0m40 -2h0m-2 24h0m-11 11h0m25 -22h0m-16 18h0m4 -9h0m-11 -3h0m-14 -19h0m21 11h0m26 4h0m-58 80h0m-18 -2h0m-1 4h0m-11 -2h0m27 -13h0m1011 215h0m33 -2h0m-1 23h0m-3 -26h0m16 -25h0m-33 30h0m38 2h0m-38 -2h0m-4 -3h0m24 1h0" stroke="#ffff1a" stroke-opacity="0.6" stroke-width="3"/><path d="M344 1732h0m-44 1h0m-5 0h0m37 2h0m-14 -38h0m19 26h0m-4 16h0m-11 -13h0m-19 26h0m1 -21h0m31 11h0m-13 -38h0m7 26h0m22 -3h0m-84 63h0m-6 20h0m26 28h0m-21 -26h0m6 14h0m1030 182h0m20 -3h0m4 26h0m-24 -16h0m35 -28h0" stroke="#ffff1a" stroke-opacity="0.6" stroke-width="3"/><path d="M300 1723h0m6 -15h0m44 18h0m-42 22h0m16 -12h0m4 26h0m-2 2h0m46 -33h0m-72 -29h0m35 49h0m-11 -38h0m-3 15h0m10 -4h0m3 10h0m-29 -41h0m19 21h0m2 22h0m41 -9h0m-35 -31h0m-37 8h0m33 20h0m-35 6h0m-25 86h0m5 -3h0m10 2h0m1048 204h0m-9 -4h0m18 10h0" stroke="#ffff1a" stroke-opacity="0.6" stroke-width="4"/><path d="M332 1718h0m-21 -20h0m-5 34h0m36 -21h0m-20 13h0m1 2h0m-19 -14h0m33 19h0m-50 4h0m31 -20h0m4 20h0m52 -8h0m-33 -22h0m-8 35h0m18 -5h0m-37 -12h0m21 12h0m-29 -12h0m19 2h0m-20 1h0m-30 85h0m9 -2h0m-26 -4h0m23 -16h0m1000 235h0m69 -30h0m-22 24h0m12 14h0" stroke="#ffff1a" stroke-opacity="0.6" stroke-width="4"/><path d="M313 1717h0m9 -6h0m-17 25h0m32 -14h0m8 -35h0m-4 16h0m-8 32h0m-12 -6h0m-15 -9h0m40 4h0m-28 4h0m2 1h0m10 -6h0m-31 3h0m29 -6h0m-20 14h0m-34 100h0m1 -34h0m6 19h0m-30 26h0m9 -19h0m1049 188h0m-19 15h0m26 -8h0m28 -14h0" stroke="#ffff1a" stroke-opacity="0.6" stroke-width="4"/><path d="M315 1743h0m-4 -9h0m26 -14h0m-73 90h0m-11 -2h0" stroke="#ffff1a" stroke-opacity="0.6" stroke-width="5"/><path d="M316 1732h0m-32 108h0m-12 -28h0" stroke="#ffff1a" stroke-opacity="0.6" stroke-width="5"/><path d="M1622 2158h0m-10 -13h0m-40 -1h0m-56 1h0m133 -5h0m-53 -13h0m-12 5h0m-78 26h0m159 -18h0m-59 -15h0m-28 6h0m-24 15h0m19 -6h0m64 9h0m-159 -10h0m95 -2h0m14 -9h0m52 -1h0m-11 -4h0m-31 23h0m32 5h0m-35 -14h0" stroke="#ffff1a" stroke-opacity="0.65" stroke-width="2"/><path d="M1638 2142h0m-60 -12h0m-52 31h0m13 -17h0m80 -2h0m-60 -2h0m43 4h0m-24 -10h0m52 -3h0m-5 10h0m-21 0h0m-84 -2h0m163 -10h0m-51 9h0m51 13h0m-66 -8h0" stroke="#ffff1a" stroke-opacity="0.65" stroke-width="2"/><path d="M1594 2149h0m-64 -36h0m50 14h0m29 -1h0m79 27h0m-52 -27h0m-51 15h0m-2 -3h0m15 1h0m24 16h0m-81 -18h0m106 0h0m37 6h0m-83 -8h0m-12 7h0m61 9h0" stroke="#ffff1a" stroke-opacity="0.65" stroke-width="2"/><path d="M1656 2145h0m-126 -14h0m128 18h0m-117 -33h0m105 27h0m-22 -6h0m-5 0h0m-61 -7h0m133 19h0m-83 -8h0m-38 -10h0m-44 35h0m43 -46h0m13 3h0m-12 -4h0m60 24h0m-51 -2h0m2 13h0m13 -28h0m49 20h0m-68 -2h0m6 -7h0m11 -7h0m26 15h0m5 6h0m-44 -5h0m-19 12h0m37 -29h0m59 6h0m-46 -4h0m-106 9h0m18 10h0m33 8h0m63 -8h0m-12 3h0m-75 -8h0m65 8h0m4 -22h0m-4 5h0m43 4h0m10 13h0m-35 -16h0" stroke="#ffff1a" stroke-opacity="0.65" stroke-width="3"/><path d="M1576 2149h0m105 -10h0m-103 3h0m43 -9h0m16 5h0m-83 -27h0m28 11h0m51 14h0m-89 -7h0m72 4h0m-83 11h0m80 -13h0m-9 36h0m-8 -33h0m-5 6h0m-50 -9h0m6 -2h0m-18 8h0m51 21h0m-22 -13h0m54 7h0m-66 -36h0m8 26h0m-11 24h0m59 -39h0m-67 33h0m36 -24h0m60 9h0m0 -12h0m-14 0h0m-34 33h0m-25 -32h0m73 -15h0m38 15h0m-81 -3h0m0 24h0m-17 -18h0m18 14h0" stroke="#ffff1a" stroke-opacity="0.65" stroke-width="3"/><path d="M1656 2151h0m-60 -20h0m-12 3h0m55 5h0m-58 -5h0m-46 11h0m107 -10h0m33 16h0m-62 -18h0m-55 11h0m4 -3h0m60 2h0m-48 17h0m30 -11h0m72 0h0m-167 -16h0m39 17h0m14 -14h0m-49 11h0m110 5h0m-131 -11h0m123 -9h0m-71 10h0m-29 -5h0m55 15h0m57 -18h0m-21 -4h0m48 21h0m-45 2h0m48 -14h0m-103 14h0m75 -26h0m25 -11h0m-60 37h0m12 -27h0m-51 18h0m-12 -6h0m18 -15h0" stroke="#ffff1a" stroke-opacity="0.65" stroke-width="3"/><path d="M1609 2134h0m10 8h0m3 1h0m63 -8h0m-88 9h0m-34 -28h0m60 27h0m0 3h0m-37 -9h0m-88 3h0m149 -8h0m-124 17h0m21 -11h0m41 -4h0m62 -5h0m4 10h0m-94 -29h0m44 27h0m102 12h0m-114 -33h0m60 40h0m-20 -26h0m-77 -9h0m29 14h0m-47 -10h0m43 13h0m91 7h0m11 -3h0m-49 -10h0m-71 2h0m5 -1h0m13 12h0m-1 0h0m-7 0h0m42 -45h0m-31 45h0m60 -11h0m-5 28h0m-22 -14h0m-95 -6h0m-6 16h0m93 -19h0" stroke="#ffff1a" stroke-opacity="0.65" stroke-width="4"/><path d="M1618 2140h0m-51 3h0m41 -8h0m2 8h0m-25 0h0m-14 -9h0m62 -5h0m-88 -8h0m57 16h0m-8 6h0m-8 2h0m-17 -1h0m-9 6h0m11 -9h0m61 -8h0m-96 28h0m77 -14h0m-66 0h0m119 -12h0m-10 -16h0m-69 28h0m15 -1h0m-77 16h0m106 -3h0m-12 -27h0m33 17h0m-111 -37h0m24 21h0m-14 -8h0m107 19h0m-54 12h0m0 -10h0m36 -14h0m-48 -11h0m12 27h0m-76 -1h0m63 -17h0m61 8h0m-109 2h0m33 7h0" stroke="#ffff1a" stroke-opacity="0.65" stroke-width="4"/><path d="M1701 2145h0m-109 6h0m-12 -11h0m69 3h0m-68 -5h0m-36 3h0m103 2h0m-62 -14h0m-38 -9h0m-59 14h0m67 -4h0m49 27h0m32 -3h0m-65 -10h0m28 -1h0m-88 -12h0m54 6h0m72 3h0m-51 -5h0m-8 -25h0m49 38h0m-53 1h0m-33 -30h0m58 16h0m44 -6h0m-20 3h0m-12 -6h0m-49 4h0m70 7h0m39 9h0m-30 -6h0m-12 5h0" stroke="#ffff1a" stroke-opacity="0.65" stroke-width="4"/></g><g fill="none" stroke-linecap="round"><path d="M579 1635C617 1632 729 1609 807 1621C886 1632 973 1671 1048 1704C1123 1737 1205 1803 1259 1817C1312 1831 1350 1791 1369 1785" stroke="#ff33ff" stroke-width="1.20" stroke-opacity="0.77"/><path d="M597 1631C634 1619 746 1551 819 1558C893 1566 970 1637 1038 1673C1106 1710 1177 1767 1226 1779C1276 1791 1318 1751 1336 1745" stroke="#ff33ff" stroke-width="1.20" stroke-opacity="0.77"/><path d="M546 1614C580 1615 671 1602 751 1619C830 1635 936 1687 1021 1711C1107 1735 1203 1758 1262 1763C1320 1768 1354 1743 1372 1740" stroke="#ff33ff" stroke-width="1.20" stroke-opacity="0.77"/><path d="M579 1610C602 1611 655 1597 720 1615C786 1633 894 1690 973 1718C1052 1747 1140 1781 1195 1785C1251 1789 1287 1750 1305 1743" stroke="#ff33ff" stroke-width="1.20" stroke-opacity="0.77"/><path d="M561 1643C597 1636 706 1588 779 1601C853 1614 933 1683 1002 1721C1071 1760 1144 1820 1195 1831C1245 1841 1286 1794 1305 1786" stroke="#ff33ff" stroke-width="1.20" stroke-opacity="0.77"/><path d="M594 1617C622 1608 694 1555 760 1562C825 1570 917 1626 989 1660C1060 1695 1136 1757 1187 1769C1239 1781 1279 1740 1297 1734" stroke="#ff33ff" stroke-width="1.20" stroke-opacity="0.77"/><path d="M545 1632C581 1622 677 1565 757 1573C838 1581 943 1642 1028 1679C1113 1715 1210 1778 1268 1791C1327 1804 1360 1764 1378 1759" stroke="#ff33ff" stroke-width="1.20" stroke-opacity="0.77"/><path d="M584 1626C613 1631 696 1609 758 1651C820 1694 881 1810 955 1881C1029 1953 1109 2037 1202 2079C1294 2122 1458 2128 1509 2137" stroke="#ff33ff" stroke-width="1.12" stroke-opacity="0.72"/><path d="M545 1626C570 1638 635 1657 694 1698C753 1739 800 1806 900 1871C999 1936 1192 2044 1293 2087C1394 2130 1472 2123 1508 2131" stroke="#ff33ff" stroke-width="1.12" stroke-opacity="0.72"/><path d="M574 1644C593 1652 624 1648 689 1687C753 1727 874 1817 960 1883C1046 1950 1116 2046 1204 2087C1292 2128 1440 2123 1487 2130" stroke="#ff33ff" stroke-width="1.12" stroke-opacity="0.72"/><path d="M579 1638C611 1631 699 1577 775 1599C850 1621 952 1736 1032 1771C1112 1805 1185 1803 1255 1804C1326 1806 1399 1792 1454 1777C1509 1762 1562 1727 1584 1717" stroke="#ff33ff" stroke-width="1.12" stroke-opacity="0.72"/><path d="M583 1640C622 1635 742 1590 819 1612C895 1634 962 1739 1041 1774C1119 1810 1226 1830 1292 1825C1358 1819 1390 1766 1436 1742C1482 1718 1544 1692 1566 1682" stroke="#ff33ff" stroke-width="1.12" stroke-opacity="0.72"/><path d="M570 1623C596 1620 638 1585 723 1610C809 1634 988 1731 1084 1768C1180 1804 1244 1827 1301 1828C1358 1830 1383 1795 1426 1777C1468 1758 1534 1727 1556 1717" stroke="#ff33ff" stroke-width="1.12" stroke-opacity="0.72"/><path d="M580 1642C602 1634 642 1568 716 1599C790 1630 920 1786 1022 1827C1125 1867 1279 1838 1330 1841" stroke="#ff99ff" stroke-width="0.90" stroke-opacity="0.45"/><path d="M600 1644C641 1637 768 1573 846 1601C925 1628 987 1775 1073 1809C1159 1844 1313 1808 1361 1808" stroke="#ff99ff" stroke-width="0.90" stroke-opacity="0.45"/><path d="M567 1616C599 1621 660 1619 757 1649C853 1679 1043 1766 1144 1794C1245 1822 1328 1814 1365 1818" stroke="#ff99ff" stroke-width="0.90" stroke-opacity="0.45"/><path d="M550 1621C594 1624 733 1605 817 1638C901 1671 955 1776 1054 1818C1153 1860 1352 1877 1412 1889" stroke="#ff99ff" stroke-width="0.90" stroke-opacity="0.45"/><path d="M582 1640C610 1638 678 1601 755 1623C831 1645 933 1729 1042 1773C1152 1817 1349 1869 1411 1888" stroke="#ff99ff" stroke-width="0.90" stroke-opacity="0.45"/><path d="M561 1648C601 1642 724 1590 797 1612C871 1635 914 1737 1002 1782C1089 1827 1269 1867 1323 1884" stroke="#ff99ff" stroke-width="0.90" stroke-opacity="0.45"/><path d="M328 1785C369 1774 475 1712 575 1717C675 1723 810 1796 925 1819C1041 1842 1188 1865 1266 1855C1345 1845 1374 1777 1396 1761" stroke="#f2ee10" stroke-width="1.20" stroke-opacity="0.77"/><path d="M529 1691C576 1680 714 1615 809 1629C905 1643 1006 1733 1102 1774C1198 1815 1317 1873 1385 1876C1454 1880 1494 1809 1515 1795" stroke="#f2ee10" stroke-width="1.20" stroke-opacity="0.77"/><path d="M583 1747C632 1739 786 1692 874 1698C961 1705 1031 1760 1108 1788C1184 1815 1272 1866 1331 1863C1390 1860 1440 1785 1461 1769" stroke="#f2ee10" stroke-width="1.20" stroke-opacity="0.77"/><path d="M400 1806C442 1799 552 1754 650 1761C748 1768 878 1830 989 1850C1101 1870 1242 1894 1319 1881C1395 1869 1427 1793 1449 1775" stroke="#f2ee10" stroke-width="1.20" stroke-opacity="0.77"/><path d="M302 1733C338 1723 421 1668 518 1674C615 1679 764 1735 885 1765C1005 1795 1160 1853 1242 1853C1323 1853 1350 1780 1372 1765" stroke="#f2ee10" stroke-width="1.20" stroke-opacity="0.77"/><path d="M546 1654C572 1649 631 1618 704 1626C778 1633 895 1676 987 1700C1080 1724 1193 1770 1260 1772C1327 1773 1369 1720 1390 1710" stroke="#f2ee10" stroke-width="1.20" stroke-opacity="0.77"/><path d="M625 1710C665 1701 794 1646 867 1655C940 1664 998 1733 1061 1763C1124 1794 1193 1835 1245 1839C1298 1844 1354 1798 1375 1789" stroke="#f2ee10" stroke-width="1.20" stroke-opacity="0.77"/><path d="M355 1793C383 1781 431 1724 522 1723C613 1722 777 1767 902 1787C1026 1807 1188 1858 1271 1843C1354 1827 1379 1719 1401 1694" stroke="#f2ee10" stroke-width="1.20" stroke-opacity="0.77"/><path d="M333 1747C372 1734 464 1665 570 1670C676 1675 837 1750 968 1778C1099 1805 1269 1842 1356 1835C1442 1828 1464 1753 1486 1736" stroke="#f2ee10" stroke-width="1.20" stroke-opacity="0.77"/><path d="M532 1649C572 1640 679 1577 771 1595C863 1612 980 1705 1081 1753C1183 1801 1310 1876 1382 1883C1454 1890 1490 1811 1512 1796" stroke="#f2ee10" stroke-width="1.20" stroke-opacity="0.77"/><path d="M685 1680C713 1671 784 1615 851 1626C919 1637 1011 1717 1089 1745C1167 1773 1257 1800 1317 1793C1377 1787 1425 1720 1447 1705" stroke="#f2ee10" stroke-width="1.20" stroke-opacity="0.77"/><path d="M364 1795C394 1788 447 1747 548 1757C649 1767 832 1834 971 1854C1111 1874 1294 1897 1385 1877C1475 1857 1493 1756 1515 1732" stroke="#f2ee10" stroke-width="1.20" stroke-opacity="0.77"/><path d="M336 1741C385 1732 529 1684 633 1691C737 1698 853 1758 961 1782C1069 1806 1204 1844 1279 1834C1354 1825 1387 1743 1409 1725" stroke="#f2ee10" stroke-width="1.20" stroke-opacity="0.77"/><path d="M314 1807C365 1798 491 1728 617 1756C742 1784 961 1946 1067 1974C1173 2003 1201 1952 1251 1927C1302 1901 1332 1851 1370 1821C1409 1791 1462 1758 1480 1746" stroke="#f2ee10" stroke-width="1.12" stroke-opacity="0.72"/><path d="M312 1871C358 1850 459 1735 590 1744C721 1753 980 1896 1098 1926C1216 1956 1226 1947 1299 1924C1372 1901 1478 1822 1535 1787C1593 1752 1627 1725 1645 1712" stroke="#f2ee10" stroke-width="1.12" stroke-opacity="0.72"/><path d="M383 1825C429 1813 556 1739 664 1757C772 1775 928 1902 1030 1930C1132 1958 1191 1952 1274 1926C1356 1901 1466 1813 1526 1776C1586 1738 1618 1713 1636 1701" stroke="#f2ee10" stroke-width="1.12" stroke-opacity="0.72"/><path d="M348 1791C383 1784 444 1721 555 1753C667 1785 891 1953 1018 1982C1146 2012 1236 1955 1321 1927C1406 1900 1474 1849 1526 1818C1579 1787 1618 1756 1636 1743" stroke="#f2ee10" stroke-width="1.12" stroke-opacity="0.72"/><path d="M263 1849C328 1839 530 1765 656 1787C783 1809 918 1960 1022 1982C1126 2004 1210 1947 1281 1920C1352 1892 1401 1846 1447 1817C1493 1787 1539 1754 1557 1742" stroke="#f2ee10" stroke-width="1.12" stroke-opacity="0.72"/><path d="M422 1768C445 1774 455 1777 560 1805C665 1834 935 1917 1054 1939C1173 1961 1213 1956 1273 1939C1333 1922 1372 1869 1414 1840C1456 1811 1506 1777 1524 1765" stroke="#f2ee10" stroke-width="1.12" stroke-opacity="0.72"/><path d="M433 1760C465 1760 535 1728 625 1760C715 1792 858 1929 973 1953C1088 1977 1234 1926 1315 1903C1396 1880 1417 1842 1460 1814C1502 1787 1551 1752 1570 1739" stroke="#f2ee10" stroke-width="1.12" stroke-opacity="0.72"/><path d="M304 1855C345 1845 422 1773 554 1795C686 1818 971 1972 1097 1990C1222 2008 1233 1930 1306 1902C1380 1875 1481 1850 1538 1825C1595 1799 1630 1762 1648 1750" stroke="#f2ee10" stroke-width="1.12" stroke-opacity="0.72"/><path d="M395 1802C437 1811 551 1821 647 1856C743 1891 883 1954 971 2011C1060 2067 1103 2179 1179 2195C1256 2211 1388 2122 1430 2107" stroke="#f2ee10" stroke-width="1.12" stroke-opacity="0.72"/><path d="M326 1796C379 1792 546 1735 643 1774C741 1813 825 1969 911 2030C996 2092 1056 2128 1157 2143C1258 2159 1455 2125 1515 2122" stroke="#f2ee10" stroke-width="1.12" stroke-opacity="0.72"/><path d="M401 1793C436 1794 522 1757 615 1798C708 1839 855 1978 960 2039C1065 2100 1169 2150 1244 2162C1319 2175 1383 2124 1411 2117" stroke="#f2ee10" stroke-width="1.12" stroke-opacity="0.72"/><path d="M284 1843C341 1845 514 1818 626 1852C738 1886 864 1996 955 2050C1047 2103 1094 2161 1176 2173C1259 2185 1405 2131 1451 2123" stroke="#f2ee10" stroke-width="1.12" stroke-opacity="0.72"/><path d="M343 1793C383 1795 480 1767 585 1803C690 1840 868 1952 974 2014C1080 2077 1147 2163 1221 2179C1295 2196 1384 2124 1417 2113" stroke="#f2ee10" stroke-width="1.12" stroke-opacity="0.72"/><path d="M275 1792C335 1792 520 1750 639 1791C758 1832 897 1972 988 2038C1078 2104 1113 2174 1182 2188C1252 2201 1369 2131 1406 2120" stroke="#f2ee10" stroke-width="1.12" stroke-opacity="0.72"/><path d="M269 1795C339 1801 584 1796 693 1831C802 1867 830 1951 922 2009C1015 2067 1140 2172 1247 2180C1354 2188 1511 2076 1564 2055" stroke="#f2ee10" stroke-width="1.12" stroke-opacity="0.72"/><path d="M247 2047C271 2025 339 1954 386 1916C434 1878 468 1834 531 1820C594 1805 682 1813 766 1829C851 1845 958 1899 1038 1915C1119 1931 1194 1942 1248 1926C1303 1910 1326 1848 1366 1817C1405 1785 1466 1750 1486 1737" stroke="#33dd33" stroke-width="1.05" stroke-opacity="0.72"/><path d="M247 2051C267 2026 324 1941 368 1901C413 1862 449 1827 516 1813C583 1799 685 1808 771 1819C857 1830 959 1859 1034 1880C1108 1901 1139 1954 1218 1944C1297 1935 1439 1859 1507 1825C1576 1792 1607 1759 1627 1745" stroke="#33dd33" stroke-width="1.05" stroke-opacity="0.72"/><path d="M247 2049C268 2025 323 1942 370 1907C418 1872 463 1855 530 1837C597 1819 696 1788 770 1799C845 1810 908 1883 978 1902C1048 1921 1118 1934 1193 1914C1268 1895 1371 1819 1430 1784C1490 1749 1530 1717 1550 1704" stroke="#33dd33" stroke-width="1.05" stroke-opacity="0.72"/><path d="M240 2050C263 2032 325 1974 378 1942C430 1910 495 1873 555 1857C615 1841 670 1834 738 1847C806 1859 885 1919 963 1933C1041 1948 1146 1939 1203 1934C1261 1928 1271 1918 1309 1899C1347 1880 1409 1833 1429 1819" stroke="#33dd33" stroke-width="1.05" stroke-opacity="0.72"/><path d="M250 2043C270 2020 326 1931 373 1904C420 1876 473 1894 532 1878C591 1862 651 1805 729 1809C807 1813 917 1881 1001 1903C1086 1924 1179 1957 1239 1936C1298 1914 1317 1814 1356 1773C1396 1733 1456 1707 1476 1693" stroke="#33dd33" stroke-width="1.05" stroke-opacity="0.72"/><path d="M238 2045C263 2024 331 1958 388 1919C444 1880 525 1824 578 1810C631 1797 635 1825 705 1837C774 1849 909 1865 995 1884C1082 1902 1142 1946 1224 1949C1306 1952 1424 1923 1488 1902C1552 1880 1588 1835 1608 1822" stroke="#33dd33" stroke-width="1.05" stroke-opacity="0.72"/><path d="M245 2047C271 2026 342 1961 396 1922C451 1883 521 1835 575 1814C629 1792 650 1781 719 1793C789 1805 914 1864 994 1885C1074 1906 1145 1938 1200 1920C1256 1903 1285 1817 1326 1780C1367 1743 1426 1713 1446 1700" stroke="#33dd33" stroke-width="1.05" stroke-opacity="0.72"/><path d="M241 2041C263 2021 323 1955 371 1923C420 1891 476 1866 532 1847C588 1828 635 1796 707 1809C778 1822 871 1903 962 1923C1053 1944 1196 1933 1254 1930C1312 1927 1281 1923 1311 1906C1340 1889 1411 1839 1431 1826" stroke="#33dd33" stroke-width="1.05" stroke-opacity="0.72"/><path d="M252 2044C280 2029 363 1967 419 1951C476 1936 524 1938 590 1951C657 1963 751 1996 818 2026C885 2055 914 2099 991 2126C1068 2153 1222 2188 1279 2188C1336 2189 1314 2145 1333 2128C1352 2110 1383 2090 1393 2083" stroke="#33dd33" stroke-width="1.05" stroke-opacity="0.72"/><path d="M237 2046C270 2030 377 1964 433 1946C488 1928 513 1931 570 1937C628 1943 708 1951 780 1984C852 2017 931 2104 1003 2136C1075 2169 1152 2175 1209 2179C1266 2183 1312 2170 1345 2159C1377 2149 1395 2122 1405 2114" stroke="#33dd33" stroke-width="1.05" stroke-opacity="0.72"/><path d="M249 2041C277 2024 358 1958 415 1942C472 1926 526 1932 594 1943C661 1954 744 1975 820 2008C896 2041 974 2109 1050 2142C1125 2176 1219 2218 1271 2209C1324 2201 1339 2120 1364 2094C1389 2067 1414 2056 1424 2049" stroke="#33dd33" stroke-width="1.05" stroke-opacity="0.72"/><path d="M244 2056C275 2039 373 1971 429 1954C485 1937 521 1950 581 1955C642 1961 726 1962 791 1987C855 2011 896 2065 967 2104C1037 2142 1132 2202 1212 2216C1291 2229 1393 2197 1441 2184C1490 2171 1491 2146 1501 2139" stroke="#33dd33" stroke-width="1.05" stroke-opacity="0.72"/><path d="M241 2041C267 2025 346 1957 401 1941C456 1925 499 1930 570 1944C642 1958 754 2000 829 2027C904 2055 954 2080 1021 2108C1088 2137 1158 2193 1231 2197C1305 2200 1412 2149 1460 2130C1508 2112 1510 2093 1520 2085" stroke="#33dd33" stroke-width="1.05" stroke-opacity="0.72"/><path d="M242 2040C273 2024 369 1959 429 1942C489 1925 538 1929 602 1939C667 1949 742 1967 817 2002C892 2038 991 2122 1054 2154C1117 2186 1132 2192 1194 2194C1257 2196 1380 2179 1429 2167C1479 2155 1479 2129 1489 2122" stroke="#33dd33" stroke-width="1.05" stroke-opacity="0.72"/><path d="M253 2049C283 2034 372 1974 431 1959C489 1944 540 1955 603 1959C665 1964 735 1958 808 1985C881 2013 978 2082 1041 2124C1105 2165 1126 2235 1186 2234C1247 2232 1358 2142 1404 2115C1450 2087 1454 2077 1464 2070" stroke="#33dd33" stroke-width="1.05" stroke-opacity="0.72"/><path d="M236 2052C266 2034 358 1963 416 1944C473 1926 517 1931 582 1940C647 1949 730 1970 805 1998C880 2026 966 2077 1035 2109C1105 2141 1159 2179 1222 2190C1285 2201 1370 2184 1412 2174C1454 2164 1462 2137 1472 2129" stroke="#33dd33" stroke-width="1.05" stroke-opacity="0.72"/><path d="M255 2057C302 2036 433 1936 539 1931C645 1926 758 2020 890 2029C1022 2038 1259 1992 1333 1985" stroke="#77ee77" stroke-width="0.90" stroke-opacity="0.54"/><path d="M236 2043C269 2025 316 1938 434 1936C551 1934 791 2025 940 2032C1089 2039 1265 1985 1330 1976" stroke="#77ee77" stroke-width="0.90" stroke-opacity="0.54"/><path d="M249 2057C292 2038 401 1946 507 1940C614 1934 755 2012 888 2021C1020 2029 1232 1995 1301 1989" stroke="#77ee77" stroke-width="0.90" stroke-opacity="0.54"/><path d="M239 2048C276 2023 357 1902 464 1901C571 1901 742 2027 881 2043C1020 2059 1228 2003 1298 1995" stroke="#77ee77" stroke-width="0.90" stroke-opacity="0.54"/><path d="M243 2060C292 2041 421 1946 534 1946C647 1946 791 2051 919 2060C1048 2069 1240 2010 1304 2000" stroke="#77ee77" stroke-width="0.90" stroke-opacity="0.54"/><path d="M242 2052C288 2031 409 1931 515 1926C621 1922 754 2016 878 2025C1002 2033 1195 1986 1259 1978" stroke="#77ee77" stroke-width="0.90" stroke-opacity="0.54"/><path d="M724 1679C740 1694 788 1741 818 1768C848 1795 870 1820 907 1839C944 1858 996 1872 1041 1879C1086 1886 1134 1889 1175 1884C1216 1879 1258 1857 1287 1848C1316 1839 1340 1833 1350 1830" stroke="#4444ff" stroke-width="1.12" stroke-opacity="0.77"/></g><defs><path id="tpU" d="M541 1776C554 1777 593 1777 619 1784C645 1791 671 1805 697 1817C723 1829 749 1843 775 1856C801 1869 822 1884 852 1896C882 1908 919 1919 952 1926C985 1933 1018 1938 1052 1936C1086 1934 1124 1922 1153 1911C1182 1900 1206 1883 1228 1871C1250 1859 1277 1843 1287 1837"/><path id="tpL" d="M560 1813C573 1816 612 1823 638 1833C664 1843 690 1858 716 1872C742 1886 772 1904 795 1919C818 1934 826 1943 852 1960C878 1977 919 2007 952 2021C985 2035 1018 2041 1052 2042C1086 2043 1120 2034 1153 2026C1186 2018 1232 1999 1253 1991C1274 1983 1277 1980 1282 1978"/><path id="tpG" d="M541 1899C554 1900 593 1899 619 1903C645 1907 671 1915 697 1923C723 1931 749 1941 775 1950C801 1959 831 1969 852 1975C873 1981 881 1983 902 1986C923 1989 948 1994 977 1991C1006 1988 1044 1979 1078 1966C1112 1953 1149 1929 1178 1911C1207 1893 1234 1868 1253 1856C1272 1844 1283 1839 1289 1836"/></defs><path d="M255 1876C264 1868 284 1843 306 1829C328 1815 358 1802 384 1794C410 1786 436 1783 462 1780C488 1777 515 1775 541 1776C567 1777 593 1777 619 1784C645 1791 671 1805 697 1817C723 1829 749 1843 775 1856C801 1869 822 1884 852 1896C882 1908 919 1919 952 1926C985 1933 1018 1938 1052 1936C1086 1934 1124 1922 1153 1911C1182 1900 1206 1883 1228 1871C1250 1859 1277 1843 1287 1837" fill="none" stroke="#ffff66" stroke-opacity="0.85" stroke-width="17" stroke-linecap="round"/><path d="M259 1876C270 1869 302 1844 326 1833C350 1822 378 1817 404 1813C430 1809 456 1809 482 1809C508 1809 534 1809 560 1813C586 1817 612 1823 638 1833C664 1843 690 1858 716 1872C742 1886 772 1904 795 1919C818 1934 826 1943 852 1960C878 1977 919 2007 952 2021C985 2035 1018 2041 1052 2042C1086 2043 1120 2034 1153 2026C1186 2018 1232 1999 1253 1991C1274 1983 1277 1980 1282 1978" fill="none" stroke="#ffff66" stroke-opacity="0.85" stroke-width="14" stroke-linecap="round"/><path d="M212 2086C217 2080 228 2067 244 2052C260 2037 283 2015 306 1997C329 1979 358 1956 384 1942C410 1928 436 1922 462 1915C488 1908 515 1901 541 1899C567 1897 593 1899 619 1903C645 1907 671 1915 697 1923C723 1931 749 1941 775 1950C801 1959 831 1969 852 1975C873 1981 881 1983 902 1986C923 1989 948 1994 977 1991C1006 1988 1044 1979 1078 1966C1112 1953 1149 1929 1178 1911C1207 1893 1234 1868 1253 1856C1272 1844 1283 1839 1289 1836" fill="none" stroke="#66ee66" stroke-opacity="0.85" stroke-width="15" stroke-linecap="round"/><g font-family="Liberation Sans, Arial, sans-serif" font-size="10" fill="#2a2600"><text dy="3.5" letter-spacing="0.15"><textPath href="#tpU" startOffset="17">MOLECULAR, BIOLOGY, IMMUNOLOGY ---&gt; MOLECULAR, BIOLOGY, GENETICS (z=8.423001, f=34140)</textPath></text><text dy="3.5" letter-spacing="0.7"><textPath href="#tpL" startOffset="22">MOLECULAR, BIOLOGY, IMMUNOLOGY ---&gt; HEALTH, NURSING, MEDICINE (z=2.5183437, f=14021)</textPath></text><text dy="3.5" letter-spacing="0.35" fill="#0a2a0a"><textPath href="#tpG" startOffset="12">MEDICINE, MEDICAL, CLINICAL ---&gt; MOLECULAR, BIOLOGY, GENETICS (z=2.732055, f=11665)</textPath></text></g><g font-family="Liberation Sans, Arial, sans-serif" font-weight="bold"><text x="401.3" y="1654.7" font-size="15.5" fill="#1a1000" fill-opacity="0.9" textLength="239.0" lengthAdjust="spacingAndGlyphs">5. PHYSICS, MATERIALS, CHEMISTRY</text><text x="400.0" y="1653.4" font-size="15.5" fill="#f2bc00" textLength="239.0" lengthAdjust="spacingAndGlyphs">5. PHYSICS, MATERIALS, CHEMISTRY</text><text x="278.3" y="1703.7" font-size="15.5" fill="#1a1000" fill-opacity="0.9" textLength="194.0" lengthAdjust="spacingAndGlyphs">3. ECOLOGY, EARTH, MARINE</text><text x="277.0" y="1702.4" font-size="15.5" fill="#f2bc00" textLength="194.0" lengthAdjust="spacingAndGlyphs">3. ECOLOGY, EARTH, MARINE</text><text x="237.3" y="1739.2" font-size="12.5" fill="#1a1000" fill-opacity="0.9" textLength="198.0" lengthAdjust="spacingAndGlyphs">7. VETERINARY, ANIMAL, SCIENCE</text><text x="236.0" y="1737.9" font-size="12.5" fill="#f2bc00" textLength="198.0" lengthAdjust="spacingAndGlyphs">7. VETERINARY, ANIMAL, SCIENCE</text><text x="471.3" y="1753.2" font-size="17" fill="#1a1000" fill-opacity="0.9" textLength="323.0" lengthAdjust="spacingAndGlyphs">1. MATHEMATICS, SYSTEMS, MATHEMATICAL</text><text x="470.0" y="1752.0" font-size="17" fill="#f2bc00" textLength="323.0" lengthAdjust="spacingAndGlyphs">1. MATHEMATICS, SYSTEMS, MATHEMATICAL</text><text x="116.3" y="1894.2" font-size="17" fill="#1a1000" fill-opacity="0.9" textLength="292.0" lengthAdjust="spacingAndGlyphs">4. MOLECULAR, BIOLOGY, IMMUNOLOGY</text><text x="115.0" y="1893.0" font-size="17" fill="#f2bc00" textLength="292.0" lengthAdjust="spacingAndGlyphs">4. MOLECULAR, BIOLOGY, IMMUNOLOGY</text><text x="171.3" y="2017.0" font-size="10.5" fill="#1a1000" fill-opacity="0.9" textLength="196.0" lengthAdjust="spacingAndGlyphs">9. DENTISTRY, DERMATOLOGY, SURGERY</text><text x="170.0" y="2015.7" font-size="10.5" fill="#f2bc00" textLength="196.0" lengthAdjust="spacingAndGlyphs">9. DENTISTRY, DERMATOLOGY, SURGERY</text><text x="132.3" y="2064.6" font-size="18" fill="#1a1000" fill-opacity="0.9" textLength="243.0" lengthAdjust="spacingAndGlyphs">2. MEDICINE, MEDICAL, CLINICAL</text><text x="131.0" y="2063.3" font-size="18" fill="#f2bc00" textLength="243.0" lengthAdjust="spacingAndGlyphs">2. MEDICINE, MEDICAL, CLINICAL</text><text x="211.3" y="2073.5" font-size="10.5" fill="#1a1000" fill-opacity="0.9" textLength="223.0" lengthAdjust="spacingAndGlyphs">8. NEUROLOGY, SPORTS, OPHTHALMOLOGY</text><text x="210.0" y="2072.2" font-size="10.5" fill="#f2bc00" textLength="223.0" lengthAdjust="spacingAndGlyphs">8. NEUROLOGY, SPORTS, OPHTHALMOLOGY</text><text x="541.3" y="2081.4" font-size="14.5" fill="#1a1000" fill-opacity="0.9" textLength="264.0" lengthAdjust="spacingAndGlyphs">10. ECONOMICS, ECONOMIC, POLITICAL</text><text x="540.0" y="2080.1" font-size="14.5" fill="#f2bc00" textLength="264.0" lengthAdjust="spacingAndGlyphs">10. ECONOMICS, ECONOMIC, POLITICAL</text><text x="473.3" y="2101.7" font-size="19.5" fill="#1a1000" fill-opacity="0.9" textLength="300.0" lengthAdjust="spacingAndGlyphs">6. PSYCHOLOGY, EDUCATION, HEALTH</text><text x="472.0" y="2100.4" font-size="19.5" fill="#f2bc00" textLength="300.0" lengthAdjust="spacingAndGlyphs">6. PSYCHOLOGY, EDUCATION, HEALTH</text><text x="1521.3" y="1681.5" font-size="13" fill="#000000" fill-opacity="0.9" textLength="196.0" lengthAdjust="spacingAndGlyphs">3. EARTH, GEOLOGY, GEOPHYSICS</text><text x="1520.0" y="1680.2" font-size="13" fill="#14e4ec" textLength="196.0" lengthAdjust="spacingAndGlyphs">3. EARTH, GEOLOGY, GEOPHYSICS</text><text x="1380.3" y="1681.5" font-size="13" fill="#000000" fill-opacity="0.9" textLength="186.0" lengthAdjust="spacingAndGlyphs">10. PLANT, ECOLOGY, ZOOLOGY</text><text x="1379.0" y="1680.2" font-size="13" fill="#14e4ec" textLength="186.0" lengthAdjust="spacingAndGlyphs">10. PLANT, ECOLOGY, ZOOLOGY</text><text x="1545.3" y="1662.1" font-size="15" fill="#000000" fill-opacity="0.9" textLength="239.0" lengthAdjust="spacingAndGlyphs">4. CHEMISTRY, MATERIALS, PHYSICS</text><text x="1544.0" y="1660.8" font-size="15" fill="#14e4ec" textLength="239.0" lengthAdjust="spacingAndGlyphs">4. CHEMISTRY, MATERIALS, PHYSICS</text><text x="1658.3" y="1670.0" font-size="13.5" fill="#000000" fill-opacity="0.9" textLength="287.0" lengthAdjust="spacingAndGlyphs">6. MATHEMATICAL, MATHEMATICS, MECHANICS</text><text x="1657.0" y="1668.7" font-size="13.5" fill="#14e4ec" textLength="287.0" lengthAdjust="spacingAndGlyphs">6. MATHEMATICAL, MATHEMATICS, MECHANICS</text><text x="1386.3" y="1722.0" font-size="13.5" fill="#000000" fill-opacity="0.9" textLength="278.0" lengthAdjust="spacingAndGlyphs">2. ENVIRONMENTAL, TOXICOLOGY, NUTRITION</text><text x="1385.0" y="1720.7" font-size="13.5" fill="#14e4ec" textLength="278.0" lengthAdjust="spacingAndGlyphs">2. ENVIRONMENTAL, TOXICOLOGY, NUTRITION</text><text x="1305.3" y="1759.6" font-size="10.5" fill="#000000" fill-opacity="0.9" textLength="217.0" lengthAdjust="spacingAndGlyphs">11. VETERINARY, ANIMAL, PARASITOLOGY</text><text x="1304.0" y="1758.3" font-size="10.5" fill="#14e4ec" textLength="217.0" lengthAdjust="spacingAndGlyphs">11. VETERINARY, ANIMAL, PARASITOLOGY</text><text x="1368.3" y="1783.5" font-size="10" fill="#000000" fill-opacity="0.9" textLength="247.0" lengthAdjust="spacingAndGlyphs">21. TEHNOLOGIJE, METALURGIJA, MIDEM-JOURNAL</text><text x="1367.0" y="1782.2" font-size="10" fill="#14e4ec" textLength="247.0" lengthAdjust="spacingAndGlyphs">21. TEHNOLOGIJE, METALURGIJA, MIDEM-JOURNAL</text><text x="1613.3" y="1774.8" font-size="13" fill="#000000" fill-opacity="0.9" textLength="226.0" lengthAdjust="spacingAndGlyphs">1. SYSTEMS, COMPUTING, COMPUTER</text><text x="1612.0" y="1773.5" font-size="13" fill="#14e4ec" textLength="226.0" lengthAdjust="spacingAndGlyphs">1. SYSTEMS, COMPUTING, COMPUTER</text><text x="1363.3" y="1824.8" font-size="10" fill="#000000" fill-opacity="0.9" textLength="176.0" lengthAdjust="spacingAndGlyphs">19. FORENSIC, ANATOMY, MEDICINE</text><text x="1362.0" y="1823.5" font-size="10" fill="#14e4ec" textLength="176.0" lengthAdjust="spacingAndGlyphs">19. FORENSIC, ANATOMY, MEDICINE</text><text x="1185.3" y="1831.7" font-size="15.5" fill="#000000" fill-opacity="0.9" textLength="238.0" lengthAdjust="spacingAndGlyphs">8. MOLECULAR, BIOLOGY, GENETICS</text><text x="1184.0" y="1830.4" font-size="15.5" fill="#14e4ec" textLength="238.0" lengthAdjust="spacingAndGlyphs">8. MOLECULAR, BIOLOGY, GENETICS</text><text x="1211.3" y="1967.6" font-size="16.5" fill="#000000" fill-opacity="0.9" textLength="227.0" lengthAdjust="spacingAndGlyphs">5. HEALTH, NURSING, MEDICINE</text><text x="1210.0" y="1966.3" font-size="16.5" fill="#14e4ec" textLength="227.0" lengthAdjust="spacingAndGlyphs">5. HEALTH, NURSING, MEDICINE</text><text x="1226.3" y="1982.5" font-size="10.5" fill="#000000" fill-opacity="0.9" textLength="202.0" lengthAdjust="spacingAndGlyphs">14. DERMATOLOGY, DENTISTRY, SURGERY</text><text x="1225.0" y="1981.2" font-size="10.5" fill="#14e4ec" textLength="202.0" lengthAdjust="spacingAndGlyphs">14. DERMATOLOGY, DENTISTRY, SURGERY</text><text x="1302.3" y="2011.0" font-size="10.5" fill="#000000" fill-opacity="0.9" textLength="183.0" lengthAdjust="spacingAndGlyphs">9. SPORTS, REHABILITATION, SPORT</text><text x="1301.0" y="2009.7" font-size="10.5" fill="#14e4ec" textLength="183.0" lengthAdjust="spacingAndGlyphs">9. SPORTS, REHABILITATION, SPORT</text><text x="1559.3" y="2016.0" font-size="10.5" fill="#000000" fill-opacity="0.9" textLength="177.0" lengthAdjust="spacingAndGlyphs">18. HISTORY, PHILOSOPHY, RECORDS</text><text x="1558.0" y="2014.7" font-size="10.5" fill="#14e4ec" textLength="177.0" lengthAdjust="spacingAndGlyphs">18. HISTORY, PHILOSOPHY, RECORDS</text><text x="1404.3" y="2093.6" font-size="10.5" fill="#000000" fill-opacity="0.9" textLength="160.0" lengthAdjust="spacingAndGlyphs">13. REVISTA, PSICOLOGIA, SAUDE</text><text x="1403.0" y="2092.3" font-size="10.5" fill="#14e4ec" textLength="160.0" lengthAdjust="spacingAndGlyphs">13. REVISTA, PSICOLOGIA, SAUDE</text><text x="839.3" y="2028.1" font-size="11" fill="#000000" fill-opacity="0.9" textLength="285.0" lengthAdjust="spacingAndGlyphs">16. OPHTHALMOLOGY, OPHTHALMIC, OPHTHALMOLOGICA</text><text x="838.0" y="2026.8" font-size="11" fill="#14e4ec" textLength="285.0" lengthAdjust="spacingAndGlyphs">16. OPHTHALMOLOGY, OPHTHALMIC, OPHTHALMOLOGICA</text><text x="1443.3" y="2129.9" font-size="17" fill="#000000" fill-opacity="0.9" textLength="276.0" lengthAdjust="spacingAndGlyphs">7. PSYCHOLOGY, EDUCATION, SOCIAL</text><text x="1442.0" y="2128.6" font-size="17" fill="#14e4ec" textLength="276.0" lengthAdjust="spacingAndGlyphs">7. PSYCHOLOGY, EDUCATION, SOCIAL</text><text x="1508.3" y="2140.4" font-size="15.5" fill="#000000" fill-opacity="0.9" textLength="264.0" lengthAdjust="spacingAndGlyphs">12. ECONOMICS, ECONOMIC, POLITICAL</text><text x="1507.0" y="2139.1" font-size="15.5" fill="#14e4ec" textLength="264.0" lengthAdjust="spacingAndGlyphs">12. ECONOMICS, ECONOMIC, POLITICAL</text></g><text x="1904" y="1572" font-family="Liberation Sans, Arial, sans-serif" font-weight="bold" font-size="10" fill="#22dd22" textLength="37" lengthAdjust="spacingAndGlyphs">Blondel</text></svg></body></html>
